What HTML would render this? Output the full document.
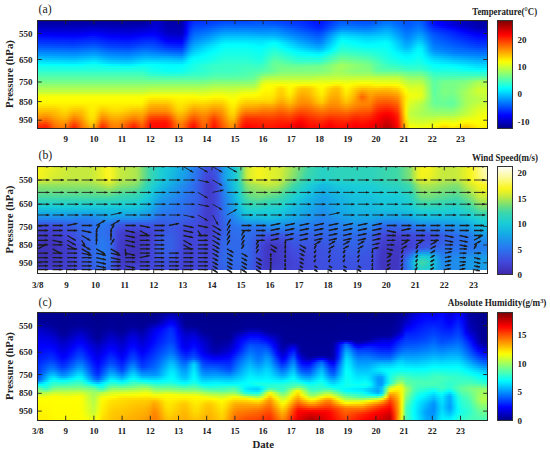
<!DOCTYPE html><html><head><meta charset="utf-8"><style>
html,body{margin:0;padding:0;background:#fff;width:550px;height:452px;overflow:hidden;position:relative}
.fld{position:absolute;overflow:hidden}
.fld div{position:absolute;left:0;right:0}
.cb{position:absolute}
.frm{position:absolute;border:1px solid #2a2a2a;box-sizing:content-box}
svg{position:absolute;left:0;top:0}
text{font-family:"Liberation Serif", serif;fill:#222}
</style></head><body>
<div class="fld" style="left:37.5px;top:20.0px;width:450.0px;height:108.0px"><div style="top:0.0px;height:2.0px;background:linear-gradient(90deg,#00009c 0px,#00009c 4px,#00009c 8px,#00009c 12px,#00009c 16px,#00009c 20px,#00009c 24px,#00009c 28px,#00009c 32px,#00009c 36px,#00009c 40px,#00009c 44px,#00009c 48px,#00009c 52px,#00009c 56px,#00009c 60px,#00009c 64px,#00009c 68px,#00009c 72px,#00009c 76px,#00009b 80px,#00009b 84px,#00009b 88px,#00009b 92px,#00009b 96px,#00009b 100px,#00009c 104px,#0000a0 108px,#0000b4 112px,#0000c8 116px,#0000c4 120px,#0000b7 124px,#0000ab 128px,#0000a6 132px,#0000a6 136px,#0000a5 140px,#0000a8 144px,#0000dd 148px,#0013ff 152px,#002bff 156px,#002eff 160px,#0031ff 164px,#0035ff 168px,#0038ff 172px,#003cff 176px,#0040ff 180px,#0044ff 184px,#0046ff 188px,#0046ff 192px,#0046ff 196px,#0046ff 200px,#0046ff 204px,#0046ff 208px,#0048ff 212px,#004bff 216px,#004eff 220px,#0050ff 224px,#004dff 228px,#004bff 232px,#0049ff 236px,#0045ff 240px,#0040ff 244px,#003cff 248px,#0038ff 252px,#0033ff 256px,#002fff 260px,#0029ff 264px,#0023ff 268px,#001dff 272px,#0017ff 276px,#0011ff 280px,#0015ff 284px,#0023ff 288px,#0031ff 292px,#003fff 296px,#004dff 300px,#0058ff 304px,#0056ff 308px,#0053ff 312px,#0051ff 316px,#004fff 320px,#004dff 324px,#004aff 328px,#004eff 332px,#0056ff 336px,#005eff 340px,#0066ff 344px,#006fff 348px,#006eff 352px,#0067ff 356px,#005fff 360px,#0058ff 364px,#0051ff 368px,#0052ff 372px,#0058ff 376px,#005fff 380px,#0055ff 384px,#003bff 388px,#0021ff 392px,#000bff 396px,#0000fd 400px,#0000f1 404px,#0000e5 408px,#0000d9 412px,#0000cd 416px,#0000c6 420px,#0000c0 424px,#0000b9 428px,#0000b2 432px,#0000ac 436px,#0000a5 440px,#0000a5 444px,#0000a5 448px,#0000a5 450px)"></div><div style="top:2.0px;height:2.0px;background:linear-gradient(90deg,#0000a6 0px,#0000a6 4px,#0000a6 8px,#0000a6 12px,#0000a6 16px,#0000a6 20px,#0000a6 24px,#0000a6 28px,#0000a6 32px,#0000a6 36px,#0000a6 40px,#0000a6 44px,#0000a6 48px,#0000a6 52px,#0000a6 56px,#0000a6 60px,#0000a6 64px,#0000a6 68px,#0000a6 72px,#0000a5 76px,#0000a5 80px,#0000a4 84px,#0000a4 88px,#0000a4 92px,#0000a4 96px,#0000a5 100px,#0000a6 104px,#0000aa 108px,#0000bc 112px,#0000cd 116px,#0000c9 120px,#0000bc 124px,#0000af 128px,#0000aa 132px,#0000aa 136px,#0000a9 140px,#0000ac 144px,#0000e3 148px,#001bff 152px,#0034ff 156px,#0036ff 160px,#0039ff 164px,#003bff 168px,#0040ff 172px,#0045ff 176px,#004aff 180px,#0050ff 184px,#0052ff 188px,#0052ff 192px,#0052ff 196px,#0052ff 200px,#0052ff 204px,#0052ff 208px,#0054ff 212px,#0056ff 216px,#0058ff 220px,#0058ff 224px,#0056ff 228px,#0053ff 232px,#0050ff 236px,#004cff 240px,#0048ff 244px,#0043ff 248px,#003fff 252px,#003aff 256px,#0036ff 260px,#0030ff 264px,#0029ff 268px,#0023ff 272px,#001dff 276px,#0016ff 280px,#001bff 284px,#0029ff 288px,#0038ff 292px,#0047ff 296px,#0056ff 300px,#0061ff 304px,#005fff 308px,#005dff 312px,#005bff 316px,#0059ff 320px,#0057ff 324px,#0055ff 328px,#0058ff 332px,#0060ff 336px,#0068ff 340px,#0070ff 344px,#0078ff 348px,#0076ff 352px,#006eff 356px,#0066ff 360px,#005eff 364px,#0055ff 368px,#0057ff 372px,#005eff 376px,#0066ff 380px,#005dff 384px,#0042ff 388px,#0026ff 392px,#0010ff 396px,#0003ff 400px,#0000f6 404px,#0000ea 408px,#0000de 412px,#0000d2 416px,#0000cb 420px,#0000c4 424px,#0000be 428px,#0000b7 432px,#0000b0 436px,#0000a9 440px,#0000a9 444px,#0000a9 448px,#0000a9 450px)"></div><div style="top:4.0px;height:2.0px;background:linear-gradient(90deg,#0000b0 0px,#0000b0 4px,#0000b0 8px,#0000b0 12px,#0000b0 16px,#0000b0 20px,#0000b0 24px,#0000b0 28px,#0000b0 32px,#0000b0 36px,#0000b0 40px,#0000b0 44px,#0000b0 48px,#0000b0 52px,#0000b0 56px,#0000b0 60px,#0000b0 64px,#0000b0 68px,#0000b0 72px,#0000af 76px,#0000ae 80px,#0000ae 84px,#0000ad 88px,#0000ad 92px,#0000ae 96px,#0000af 100px,#0000b0 104px,#0000b4 108px,#0000c3 112px,#0000d3 116px,#0000ce 120px,#0000c1 124px,#0000b4 128px,#0000ae 132px,#0000ae 136px,#0000ad 140px,#0000af 144px,#0000e8 148px,#0023ff 152px,#003cff 156px,#003fff 160px,#0042ff 164px,#0045ff 168px,#004aff 172px,#0050ff 176px,#0056ff 180px,#005cff 184px,#005fff 188px,#005fff 192px,#005fff 196px,#005fff 200px,#005fff 204px,#005fff 208px,#0060ff 212px,#0060ff 216px,#0061ff 220px,#0061ff 224px,#0060ff 228px,#005eff 232px,#005dff 236px,#0058ff 240px,#0053ff 244px,#004dff 248px,#0048ff 252px,#0042ff 256px,#003dff 260px,#0036ff 264px,#0030ff 268px,#0029ff 272px,#0022ff 276px,#001cff 280px,#0021ff 284px,#0031ff 288px,#0041ff 292px,#0051ff 296px,#0061ff 300px,#006dff 304px,#006bff 308px,#0069ff 312px,#0067ff 316px,#0065ff 320px,#0063ff 324px,#0062ff 328px,#0065ff 332px,#006cff 336px,#0074ff 340px,#007cff 344px,#0084ff 348px,#0082ff 352px,#0078ff 356px,#006eff 360px,#0064ff 364px,#005aff 368px,#005cff 372px,#0065ff 376px,#006dff 380px,#0065ff 384px,#0048ff 388px,#002cff 392px,#0015ff 396px,#0009ff 400px,#0000fb 404px,#0000ef 408px,#0000e3 412px,#0000d7 416px,#0000d0 420px,#0000c9 424px,#0000c2 428px,#0000bb 432px,#0000b4 436px,#0000ad 440px,#0000ad 444px,#0000ad 448px,#0000ad 450px)"></div><div style="top:6.0px;height:2.0px;background:linear-gradient(90deg,#0000bf 0px,#0000bf 4px,#0000bf 8px,#0000bf 12px,#0000be 16px,#0000be 20px,#0000be 24px,#0000be 28px,#0000be 32px,#0000bd 36px,#0000be 40px,#0000bf 44px,#0000c0 48px,#0000c1 52px,#0000c2 56px,#0000c1 60px,#0000bf 64px,#0000be 68px,#0000bd 72px,#0000bc 76px,#0000ba 80px,#0000b9 84px,#0000b8 88px,#0000b8 92px,#0000ba 96px,#0000bc 100px,#0000be 104px,#0000c2 108px,#0000cd 112px,#0000d9 116px,#0000d2 120px,#0000c5 124px,#0000b8 128px,#0000b2 132px,#0000b2 136px,#0000b1 140px,#0000b3 144px,#0000ee 148px,#002aff 152px,#0046ff 156px,#004aff 160px,#004dff 164px,#0051ff 168px,#0057ff 172px,#005eff 176px,#0064ff 180px,#006bff 184px,#006eff 188px,#006eff 192px,#006eff 196px,#006eff 200px,#006eff 204px,#006eff 208px,#006eff 212px,#006eff 216px,#006dff 220px,#006dff 224px,#006dff 228px,#006eff 232px,#006eff 236px,#0069ff 240px,#0062ff 244px,#005bff 248px,#0054ff 252px,#004eff 256px,#0047ff 260px,#0040ff 264px,#0038ff 268px,#0030ff 272px,#0029ff 276px,#0021ff 280px,#0027ff 284px,#0039ff 288px,#004bff 292px,#005dff 296px,#006fff 300px,#007dff 304px,#007bff 308px,#0079ff 312px,#0077ff 316px,#0075ff 320px,#0073ff 324px,#0071ff 328px,#0074ff 332px,#007cff 336px,#0084ff 340px,#008cff 344px,#0093ff 348px,#0090ff 352px,#0084ff 356px,#0078ff 360px,#006cff 364px,#0061ff 368px,#0063ff 372px,#006cff 376px,#0076ff 380px,#006eff 384px,#0053ff 388px,#0038ff 392px,#0022ff 396px,#0018ff 400px,#000dff 404px,#0003ff 408px,#0000f7 412px,#0000ec 416px,#0000e2 420px,#0000d9 424px,#0000cf 428px,#0000c5 432px,#0000bb 436px,#0000b1 440px,#0000b1 444px,#0000b1 448px,#0000b1 450px)"></div><div style="top:8.0px;height:2.0px;background:linear-gradient(90deg,#0000ce 0px,#0000cd 4px,#0000cd 8px,#0000cd 12px,#0000cc 16px,#0000cc 20px,#0000cb 24px,#0000cb 28px,#0000cb 32px,#0000ca 36px,#0000cc 40px,#0000cd 44px,#0000cf 48px,#0000d1 52px,#0000d3 56px,#0000d1 60px,#0000ce 64px,#0000cc 68px,#0000ca 72px,#0000c8 76px,#0000c7 80px,#0000c6 84px,#0000c4 88px,#0000c5 92px,#0000c7 96px,#0000ca 100px,#0000cc 104px,#0000d0 108px,#0000d7 112px,#0000df 116px,#0000d7 120px,#0000ca 124px,#0000bd 128px,#0000b6 132px,#0000b6 136px,#0000b5 140px,#0000b7 144px,#0000f4 148px,#0032ff 152px,#004fff 156px,#0054ff 160px,#0059ff 164px,#005eff 168px,#0065ff 172px,#006cff 176px,#0074ff 180px,#007bff 184px,#0080ff 188px,#0080ff 192px,#0080ff 196px,#0080ff 200px,#0080ff 204px,#0080ff 208px,#007fff 212px,#007eff 216px,#007dff 220px,#007cff 224px,#007dff 228px,#007eff 232px,#007fff 236px,#007aff 240px,#0072ff 244px,#006bff 248px,#0063ff 252px,#005cff 256px,#0054ff 260px,#004cff 264px,#0044ff 268px,#003cff 272px,#0034ff 276px,#002cff 280px,#0031ff 284px,#0044ff 288px,#0057ff 292px,#006aff 296px,#007dff 300px,#008cff 304px,#008aff 308px,#0088ff 312px,#0086ff 316px,#0084ff 320px,#0082ff 324px,#0080ff 328px,#0084ff 332px,#008bff 336px,#0093ff 340px,#009bff 344px,#00a3ff 348px,#009eff 352px,#0091ff 356px,#0083ff 360px,#0076ff 364px,#0068ff 368px,#006aff 372px,#0074ff 376px,#007eff 380px,#0077ff 384px,#005eff 388px,#0044ff 392px,#0030ff 396px,#0027ff 400px,#001eff 404px,#0015ff 408px,#000cff 412px,#0003ff 416px,#0000f6 420px,#0000eb 424px,#0000e0 428px,#0000d4 432px,#0000c9 436px,#0000be 440px,#0000be 444px,#0000be 448px,#0000be 450px)"></div><div style="top:10.0px;height:2.0px;background:linear-gradient(90deg,#0000dd 0px,#0000dc 4px,#0000db 8px,#0000db 12px,#0000da 16px,#0000da 20px,#0000d9 24px,#0000d8 28px,#0000d8 32px,#0000d7 36px,#0000d9 40px,#0000dc 44px,#0000de 48px,#0000e1 52px,#0000e4 56px,#0000e1 60px,#0000dd 64px,#0000d9 68px,#0000d7 72px,#0000d5 76px,#0000d4 80px,#0000d3 84px,#0000d1 88px,#0000d2 92px,#0000d5 96px,#0000d8 100px,#0000da 104px,#0000de 108px,#0000e3 112px,#0000e9 116px,#0000df 120px,#0000d0 124px,#0000c2 128px,#0000bb 132px,#0000ba 136px,#0000b9 140px,#0000bb 144px,#0000fa 148px,#003bff 152px,#0059ff 156px,#005fff 160px,#0065ff 164px,#006aff 168px,#0072ff 172px,#007bff 176px,#0083ff 180px,#008cff 184px,#0091ff 188px,#0091ff 192px,#0091ff 196px,#0091ff 200px,#0091ff 204px,#0091ff 208px,#008fff 212px,#008dff 216px,#008cff 220px,#008bff 224px,#008cff 228px,#008dff 232px,#008eff 236px,#0088ff 240px,#0080ff 244px,#0078ff 248px,#0071ff 252px,#0069ff 256px,#0061ff 260px,#0059ff 264px,#0051ff 268px,#004aff 272px,#0042ff 276px,#003aff 280px,#0041ff 284px,#0056ff 288px,#006bff 292px,#0080ff 296px,#0095ff 300px,#00a6ff 304px,#00a3ff 308px,#00a0ff 312px,#009dff 316px,#009aff 320px,#0097ff 324px,#0094ff 328px,#0096ff 332px,#009dff 336px,#00a3ff 340px,#00aaff 344px,#00b0ff 348px,#00aaff 352px,#009cff 356px,#008dff 360px,#007eff 364px,#0070ff 368px,#0071ff 372px,#007cff 376px,#0087ff 380px,#0081ff 384px,#0069ff 388px,#0050ff 392px,#003dff 396px,#0036ff 400px,#002eff 404px,#0027ff 408px,#0020ff 412px,#0018ff 416px,#000dff 420px,#0001ff 424px,#0000f5 428px,#0000ea 432px,#0000de 436px,#0000d3 440px,#0000d3 444px,#0000d3 448px,#0000d3 450px)"></div><div style="top:12.0px;height:2.0px;background:linear-gradient(90deg,#0000ed 0px,#0000ec 4px,#0000eb 8px,#0000ea 12px,#0000e9 16px,#0000e8 20px,#0000e7 24px,#0000e6 28px,#0000e5 32px,#0000e4 36px,#0000e7 40px,#0000ea 44px,#0000ee 48px,#0000f1 52px,#0000f5 56px,#0000f1 60px,#0000ec 64px,#0000e7 68px,#0000e3 72px,#0000e2 76px,#0000e1 80px,#0000e0 84px,#0000de 88px,#0000df 92px,#0000e3 96px,#0000e6 100px,#0000ea 104px,#0000ed 108px,#0000f2 112px,#0000f6 116px,#0000eb 120px,#0000db 124px,#0000cb 128px,#0000c2 132px,#0000c0 136px,#0000be 140px,#0000be 144px,#0001ff 148px,#0043ff 152px,#0063ff 156px,#0069ff 160px,#0070ff 164px,#0077ff 168px,#0080ff 172px,#0089ff 176px,#0093ff 180px,#009dff 184px,#00a2ff 188px,#00a2ff 192px,#00a2ff 196px,#00a2ff 200px,#00a2ff 204px,#00a2ff 208px,#00a0ff 212px,#009dff 216px,#009bff 220px,#009aff 224px,#009bff 228px,#009cff 232px,#009dff 236px,#0097ff 240px,#008eff 244px,#0086ff 248px,#007eff 252px,#0076ff 256px,#006eff 260px,#0066ff 264px,#005fff 268px,#0057ff 272px,#0050ff 276px,#0048ff 280px,#0050ff 284px,#0068ff 288px,#007fff 292px,#0096ff 296px,#00aeff 300px,#00bfff 304px,#00bbff 308px,#00b7ff 312px,#00b4ff 316px,#00b0ff 320px,#00acff 324px,#00a8ff 328px,#00a9ff 332px,#00aeff 336px,#00b3ff 340px,#00b8ff 344px,#00beff 348px,#00b7ff 352px,#00a7ff 356px,#0097ff 360px,#0087ff 364px,#0077ff 368px,#007aff 372px,#0086ff 376px,#0093ff 380px,#008eff 384px,#0075ff 388px,#005dff 392px,#004aff 396px,#0042ff 400px,#003aff 404px,#0032ff 408px,#002aff 412px,#0022ff 416px,#0018ff 420px,#000fff 424px,#0005ff 428px,#0000fb 432px,#0000f2 436px,#0000e8 440px,#0000e8 444px,#0000e8 448px,#0000e8 450px)"></div><div style="top:14.0px;height:2.0px;background:linear-gradient(90deg,#0000fe 0px,#0000fd 4px,#0000fc 8px,#0000fb 12px,#0000fa 16px,#0000f9 20px,#0000f8 24px,#0000f7 28px,#0000f6 32px,#0000f5 36px,#0000f8 40px,#0000fc 44px,#0000ff 48px,#0003ff 52px,#0007ff 56px,#0002ff 60px,#0000fc 64px,#0000f6 68px,#0000f2 72px,#0000f1 76px,#0000ef 80px,#0000ee 84px,#0000ec 88px,#0000ed 92px,#0000f2 96px,#0000f6 100px,#0000fa 104px,#0000fe 108px,#0002ff 112px,#0004ff 116px,#0000f8 120px,#0000e8 124px,#0000d8 128px,#0000cf 132px,#0000cc 136px,#0000c8 140px,#0000c8 144px,#000bff 148px,#004cff 152px,#006dff 156px,#0074ff 160px,#007cff 164px,#0084ff 168px,#008dff 172px,#0098ff 176px,#00a3ff 180px,#00adff 184px,#00b3ff 188px,#00b3ff 192px,#00b3ff 196px,#00b3ff 200px,#00b3ff 204px,#00b3ff 208px,#00b1ff 212px,#00afff 216px,#00adff 220px,#00acff 224px,#00acff 228px,#00acff 232px,#00acff 236px,#00a5ff 240px,#009dff 244px,#0094ff 248px,#008cff 252px,#0083ff 256px,#007bff 260px,#0073ff 264px,#006cff 268px,#0064ff 272px,#005dff 276px,#0055ff 280px,#005eff 284px,#0077ff 288px,#0090ff 292px,#00a9ff 296px,#00c2ff 300px,#00d4ff 304px,#00d0ff 308px,#00ccff 312px,#00c8ff 316px,#00c4ff 320px,#00c0ff 324px,#00bbff 328px,#00bbff 332px,#00bfff 336px,#00c3ff 340px,#00c7ff 344px,#00cbff 348px,#00c3ff 352px,#00b2ff 356px,#00a1ff 360px,#0090ff 364px,#007fff 368px,#0082ff 372px,#0090ff 376px,#009fff 380px,#009bff 384px,#0082ff 388px,#006aff 392px,#0056ff 396px,#004eff 400px,#0045ff 404px,#003cff 408px,#0034ff 412px,#002bff 416px,#0024ff 420px,#001cff 424px,#0015ff 428px,#000dff 432px,#0006ff 436px,#0000fe 440px,#0000fe 444px,#0000fe 448px,#0000fe 450px)"></div><div style="top:16.0px;height:2.0px;background:linear-gradient(90deg,#0010ff 0px,#000fff 4px,#000eff 8px,#000dff 12px,#000cff 16px,#000bff 20px,#000aff 24px,#0009ff 28px,#0008ff 32px,#0007ff 36px,#000aff 40px,#000eff 44px,#0011ff 48px,#0015ff 52px,#0018ff 56px,#0013ff 60px,#000dff 64px,#0006ff 68px,#0002ff 72px,#0000ff 76px,#0000fe 80px,#0000fc 84px,#0000fb 88px,#0000fc 92px,#0002ff 96px,#0007ff 100px,#000cff 104px,#0010ff 108px,#0011ff 112px,#0012ff 116px,#0006ff 120px,#0000f5 124px,#0000e4 128px,#0000dc 132px,#0000da 136px,#0000d8 140px,#0000d8 144px,#0018ff 148px,#0057ff 152px,#0076ff 156px,#007fff 160px,#0088ff 164px,#0090ff 168px,#009bff 172px,#00a7ff 176px,#00b2ff 180px,#00beff 184px,#00c4ff 188px,#00c4ff 192px,#00c4ff 196px,#00c4ff 200px,#00c4ff 204px,#00c4ff 208px,#00c3ff 212px,#00c1ff 216px,#00bfff 220px,#00beff 224px,#00beff 228px,#00beff 232px,#00beff 236px,#00b7ff 240px,#00adff 244px,#00a4ff 248px,#009bff 252px,#0091ff 256px,#0088ff 260px,#0080ff 264px,#0078ff 268px,#0070ff 272px,#0069ff 276px,#0061ff 280px,#006aff 284px,#0084ff 288px,#009eff 292px,#00b8ff 296px,#00d2ff 300px,#00e6ff 304px,#00e2ff 308px,#00deff 312px,#00daff 316px,#00d6ff 320px,#00d2ff 324px,#00cfff 328px,#00ceff 332px,#00d1ff 336px,#00d3ff 340px,#00d6ff 344px,#00d9ff 348px,#00cfff 352px,#00bdff 356px,#00abff 360px,#0098ff 364px,#0086ff 368px,#008aff 372px,#009aff 376px,#00aaff 380px,#00a7ff 384px,#008cff 388px,#0072ff 392px,#005dff 396px,#0055ff 400px,#004dff 404px,#0045ff 408px,#003dff 412px,#0034ff 416px,#002dff 420px,#0026ff 424px,#001fff 428px,#0018ff 432px,#0011ff 436px,#000aff 440px,#000aff 444px,#000aff 448px,#000aff 450px)"></div><div style="top:18.0px;height:2.0px;background:linear-gradient(90deg,#001fff 0px,#001eff 4px,#001eff 8px,#001dff 12px,#001cff 16px,#001bff 20px,#001bff 24px,#001aff 28px,#0019ff 32px,#0019ff 36px,#001bff 40px,#001dff 44px,#0020ff 48px,#0022ff 52px,#0025ff 56px,#0020ff 60px,#001aff 64px,#0015ff 68px,#0011ff 72px,#000fff 76px,#000eff 80px,#000cff 84px,#000bff 88px,#000cff 92px,#0011ff 96px,#0016ff 100px,#001bff 104px,#001fff 108px,#001fff 112px,#001fff 116px,#0013ff 120px,#0003ff 124px,#0000f1 128px,#0000ea 132px,#0000e8 136px,#0000e7 140px,#0000e8 144px,#0025ff 148px,#0061ff 152px,#0080ff 156px,#008aff 160px,#0093ff 164px,#009dff 168px,#00a8ff 172px,#00b5ff 176px,#00c1ff 180px,#00ceff 184px,#00d4ff 188px,#00d4ff 192px,#00d4ff 196px,#00d4ff 200px,#00d4ff 204px,#00d4ff 208px,#00d3ff 212px,#00d2ff 216px,#00d1ff 220px,#00d1ff 224px,#00d2ff 228px,#00d3ff 232px,#00d4ff 236px,#00ccff 240px,#00c1ff 244px,#00b6ff 248px,#00abff 252px,#00a0ff 256px,#0095ff 260px,#008dff 264px,#0085ff 268px,#007dff 272px,#0075ff 276px,#006dff 280px,#0076ff 284px,#0091ff 288px,#00acff 292px,#00c7ff 296px,#00e2ff 300px,#00f7ff 304px,#00f2ff 308px,#00edff 312px,#00e9ff 316px,#00e4ff 320px,#00dfff 324px,#00dbff 328px,#00daff 332px,#00ddff 336px,#00e0ff 340px,#00e2ff 344px,#00e5ff 348px,#00dcff 352px,#00c9ff 356px,#00b6ff 360px,#00a3ff 364px,#0090ff 368px,#0094ff 372px,#00a5ff 376px,#00b7ff 380px,#00b3ff 384px,#0096ff 388px,#007aff 392px,#0064ff 396px,#005dff 400px,#0055ff 404px,#004dff 408px,#0046ff 412px,#003eff 416px,#0037ff 420px,#0031ff 424px,#002aff 428px,#0023ff 432px,#001dff 436px,#0016ff 440px,#0016ff 444px,#0016ff 448px,#0016ff 450px)"></div><div style="top:20.0px;height:2.0px;background:linear-gradient(90deg,#002cff 0px,#002bff 4px,#002aff 8px,#002aff 12px,#0029ff 16px,#0028ff 20px,#0028ff 24px,#0027ff 28px,#0026ff 32px,#0025ff 36px,#0028ff 40px,#002aff 44px,#002dff 48px,#002fff 52px,#0032ff 56px,#002dff 60px,#0028ff 64px,#0022ff 68px,#001eff 72px,#001dff 76px,#001cff 80px,#001bff 84px,#0019ff 88px,#001aff 92px,#001fff 96px,#0024ff 100px,#0028ff 104px,#002cff 108px,#002cff 112px,#002cff 116px,#0020ff 120px,#0011ff 124px,#0002ff 128px,#0000f9 132px,#0000f8 136px,#0000f7 140px,#0000f8 144px,#0033ff 148px,#006dff 152px,#008bff 156px,#0096ff 160px,#00a0ff 164px,#00aaff 168px,#00b6ff 172px,#00c3ff 176px,#00d0ff 180px,#00dcff 184px,#00e3ff 188px,#00e3ff 192px,#00e3ff 196px,#00e3ff 200px,#00e3ff 204px,#00e3ff 208px,#00e2ff 212px,#00e1ff 216px,#00dfff 220px,#00dfff 224px,#00e3ff 228px,#00e6ff 232px,#00e9ff 236px,#00e1ff 240px,#00d4ff 244px,#00c8ff 248px,#00bcff 252px,#00b0ff 256px,#00a3ff 260px,#009aff 264px,#0092ff 268px,#0089ff 272px,#0081ff 276px,#0078ff 280px,#0082ff 284px,#009dff 288px,#00b8ff 292px,#00d4ff 296px,#00efff 300px,#05fffa 304px,#00ffff 308px,#00faff 312px,#00f5ff 316px,#00f0ff 320px,#00ebff 324px,#00e6ff 328px,#00e5ff 332px,#00e9ff 336px,#00ecff 340px,#00efff 344px,#00f2ff 348px,#00e8ff 352px,#00d4ff 356px,#00c1ff 360px,#00adff 364px,#0099ff 368px,#009eff 372px,#00b1ff 376px,#00c4ff 380px,#00c0ff 384px,#00a1ff 388px,#0083ff 392px,#006bff 396px,#0064ff 400px,#005dff 404px,#0056ff 408px,#004eff 412px,#0047ff 416px,#0041ff 420px,#003bff 424px,#0034ff 428px,#002eff 432px,#0028ff 436px,#0022ff 440px,#0022ff 444px,#0022ff 448px,#0022ff 450px)"></div><div style="top:22.0px;height:2.0px;background:linear-gradient(90deg,#0039ff 0px,#0038ff 4px,#0037ff 8px,#0037ff 12px,#0036ff 16px,#0035ff 20px,#0034ff 24px,#0034ff 28px,#0033ff 32px,#0032ff 36px,#0034ff 40px,#0037ff 44px,#003aff 48px,#003cff 52px,#003fff 56px,#003aff 60px,#0035ff 64px,#002fff 68px,#002bff 72px,#002aff 76px,#0029ff 80px,#0027ff 84px,#0026ff 88px,#0027ff 92px,#002cff 96px,#0030ff 100px,#0035ff 104px,#0039ff 108px,#0039ff 112px,#0039ff 116px,#002fff 120px,#0021ff 124px,#0013ff 128px,#000cff 132px,#000bff 136px,#0009ff 140px,#000aff 144px,#0042ff 148px,#0079ff 152px,#0097ff 156px,#00a3ff 160px,#00aeff 164px,#00b9ff 168px,#00c5ff 172px,#00d2ff 176px,#00deff 180px,#00ebff 184px,#00f2ff 188px,#00f2ff 192px,#00f2ff 196px,#00f2ff 200px,#00f2ff 204px,#00f2ff 208px,#00efff 212px,#00edff 216px,#00eaff 220px,#00eaff 224px,#00f1ff 228px,#00f8ff 232px,#00ffff 236px,#00f6ff 240px,#00e8ff 244px,#00dbff 248px,#00cdff 252px,#00c0ff 256px,#00b2ff 260px,#00a8ff 264px,#009fff 268px,#0096ff 272px,#008dff 276px,#0084ff 280px,#008dff 284px,#00a8ff 288px,#00c3ff 292px,#00deff 296px,#00f8ff 300px,#0efff1 304px,#09fff6 308px,#05fffa 312px,#00ffff 316px,#00faff 320px,#00f6ff 324px,#00f1ff 328px,#00f1ff 332px,#00f4ff 336px,#00f8ff 340px,#00fbff 344px,#00ffff 348px,#00f4ff 352px,#00e0ff 356px,#00ccff 360px,#00b7ff 364px,#00a3ff 368px,#00a9ff 372px,#00bdff 376px,#00d2ff 380px,#00cdff 384px,#00acff 388px,#008bff 392px,#0072ff 396px,#006cff 400px,#0065ff 404px,#005eff 408px,#0057ff 412px,#0051ff 416px,#004bff 420px,#0045ff 424px,#003fff 428px,#0039ff 432px,#0033ff 436px,#002eff 440px,#002eff 444px,#002eff 448px,#002eff 450px)"></div><div style="top:24.0px;height:2.0px;background:linear-gradient(90deg,#0048ff 0px,#0047ff 4px,#0046ff 8px,#0045ff 12px,#0044ff 16px,#0043ff 20px,#0042ff 24px,#0041ff 28px,#0040ff 32px,#003fff 36px,#0042ff 40px,#0045ff 44px,#0049ff 48px,#004cff 52px,#0050ff 56px,#004aff 60px,#0044ff 64px,#003dff 68px,#0038ff 72px,#0037ff 76px,#0036ff 80px,#0034ff 84px,#0033ff 88px,#0034ff 92px,#003aff 96px,#003fff 100px,#0044ff 104px,#0048ff 108px,#0047ff 112px,#0046ff 116px,#003dff 120px,#0031ff 124px,#0025ff 128px,#001fff 132px,#001dff 136px,#001aff 140px,#001bff 144px,#0050ff 148px,#0086ff 152px,#00a4ff 156px,#00b0ff 160px,#00bbff 164px,#00c7ff 168px,#00d4ff 172px,#00e0ff 176px,#00edff 180px,#00faff 184px,#01fffe 188px,#01fffe 192px,#01fffe 196px,#01fffe 200px,#01fffe 204px,#01fffe 208px,#00fdff 212px,#00f9ff 216px,#00f5ff 220px,#00f4ff 224px,#00fbff 228px,#03fffc 232px,#0afff5 236px,#01fffe 240px,#00f3ff 244px,#00e7ff 248px,#00daff 252px,#00cdff 256px,#00c1ff 260px,#00b7ff 264px,#00afff 268px,#00a6ff 272px,#009eff 276px,#0095ff 280px,#009dff 284px,#00b7ff 288px,#00d0ff 292px,#00e9ff 296px,#04fffb 300px,#17ffe8 304px,#12ffed 308px,#0efff1 312px,#0afff5 316px,#06fff9 320px,#02fffd 324px,#00fdff 328px,#00fcff 332px,#00fdff 336px,#00ffff 340px,#02fffd 344px,#04fffb 348px,#00f9ff 352px,#00e5ff 356px,#00d2ff 360px,#00bfff 364px,#00acff 368px,#00b3ff 372px,#00c9ff 376px,#00dfff 380px,#00daff 384px,#00b7ff 388px,#0094ff 392px,#0079ff 396px,#0073ff 400px,#006dff 404px,#0067ff 408px,#0060ff 412px,#005aff 416px,#0054ff 420px,#004fff 424px,#004aff 428px,#0044ff 432px,#003fff 436px,#0039ff 440px,#0039ff 444px,#0039ff 448px,#0039ff 450px)"></div><div style="top:26.0px;height:2.0px;background:linear-gradient(90deg,#0059ff 0px,#0058ff 4px,#0057ff 8px,#0056ff 12px,#0055ff 16px,#0054ff 20px,#0053ff 24px,#0052ff 28px,#0051ff 32px,#0050ff 36px,#0053ff 40px,#0057ff 44px,#005aff 48px,#005eff 52px,#0061ff 56px,#005bff 60px,#0054ff 64px,#004cff 68px,#0047ff 72px,#0045ff 76px,#0044ff 80px,#0042ff 84px,#0040ff 88px,#0042ff 92px,#0048ff 96px,#004eff 100px,#0054ff 104px,#0058ff 108px,#0056ff 112px,#0053ff 116px,#004bff 120px,#0041ff 124px,#0037ff 128px,#0031ff 132px,#002eff 136px,#002cff 140px,#002cff 144px,#005fff 148px,#0093ff 152px,#00b0ff 156px,#00bcff 160px,#00c9ff 164px,#00d6ff 168px,#00e1ff 172px,#00ebff 176px,#00f6ff 180px,#01fffe 184px,#06fff9 188px,#06fff9 192px,#06fff9 196px,#06fff9 200px,#06fff9 204px,#06fff9 208px,#04fffb 212px,#01fffe 216px,#00fdff 220px,#00feff 224px,#05fffa 228px,#0cfff3 232px,#13ffec 236px,#0cfff3 240px,#00ffff 244px,#00f3ff 248px,#00e7ff 252px,#00dbff 256px,#00cfff 260px,#00c6ff 264px,#00beff 268px,#00b6ff 272px,#00aeff 276px,#00a6ff 280px,#00aeff 284px,#00c5ff 288px,#00ddff 292px,#00f5ff 296px,#0efff1 300px,#20ffdf 304px,#1cffe3 308px,#18ffe7 312px,#14ffeb 316px,#11ffee 320px,#0dfff2 324px,#09fff6 328px,#07fff8 332px,#08fff7 336px,#08fff7 340px,#08fff7 344px,#08fff7 348px,#00fdff 352px,#00ebff 356px,#00d9ff 360px,#00c7ff 364px,#00b5ff 368px,#00beff 372px,#00d5ff 376px,#00edff 380px,#00e7ff 384px,#00c2ff 388px,#009cff 392px,#0080ff 396px,#007bff 400px,#0075ff 404px,#006fff 408px,#0069ff 412px,#0063ff 416px,#005eff 420px,#005aff 424px,#0055ff 428px,#0050ff 432px,#004bff 436px,#0046ff 440px,#0046ff 444px,#0046ff 448px,#0046ff 450px)"></div><div style="top:28.0px;height:2.0px;background:linear-gradient(90deg,#006aff 0px,#0069ff 4px,#0068ff 8px,#0067ff 12px,#0066ff 16px,#0065ff 20px,#0064ff 24px,#0063ff 28px,#0063ff 32px,#0062ff 36px,#0064ff 40px,#0068ff 44px,#006bff 48px,#006fff 52px,#0072ff 56px,#006cff 60px,#0065ff 64px,#005dff 68px,#0058ff 72px,#0056ff 76px,#0055ff 80px,#0053ff 84px,#0051ff 88px,#0053ff 92px,#0059ff 96px,#005fff 100px,#0065ff 104px,#0069ff 108px,#0065ff 112px,#0060ff 116px,#005aff 120px,#0052ff 124px,#004bff 128px,#0046ff 132px,#0043ff 136px,#0040ff 140px,#003fff 144px,#006fff 148px,#00a0ff 152px,#00bbff 156px,#00c8ff 160px,#00d4ff 164px,#00e1ff 168px,#00ebff 172px,#00f4ff 176px,#00fdff 180px,#07fff8 184px,#0cfff3 188px,#0cfff3 192px,#0cfff3 196px,#0cfff3 200px,#0cfff3 204px,#0cfff3 208px,#0afff5 212px,#07fff8 216px,#05fffa 220px,#06fff9 224px,#0efff1 228px,#15ffea 232px,#1dffe2 236px,#16ffe9 240px,#0cfff3 244px,#01fffe 248px,#00f5ff 252px,#00ebff 256px,#00e0ff 260px,#00d8ff 264px,#00cfff 268px,#00c7ff 272px,#00bfff 276px,#00b7ff 280px,#00beff 284px,#00d4ff 288px,#00eaff 292px,#02fffd 296px,#18ffe7 300px,#29ffd6 304px,#25ffda 308px,#22ffdd 312px,#1fffe0 316px,#1cffe3 320px,#18ffe7 324px,#15ffea 328px,#13ffec 332px,#11ffee 336px,#10ffef 340px,#0efff1 344px,#0cfff3 348px,#02fffd 352px,#00f1ff 356px,#00e1ff 360px,#00d1ff 364px,#00c1ff 368px,#00caff 372px,#00e0ff 376px,#00f6ff 380px,#00f0ff 384px,#00caff 388px,#00a4ff 392px,#0087ff 396px,#0082ff 400px,#007dff 404px,#0077ff 408px,#0072ff 412px,#006dff 416px,#0069ff 420px,#0065ff 424px,#0061ff 428px,#005dff 432px,#0059ff 436px,#0055ff 440px,#0055ff 444px,#0055ff 448px,#0055ff 450px)"></div><div style="top:30.0px;height:2.0px;background:linear-gradient(90deg,#007bff 0px,#007aff 4px,#0079ff 8px,#0078ff 12px,#0077ff 16px,#0077ff 20px,#0076ff 24px,#0075ff 28px,#0074ff 32px,#0073ff 36px,#0076ff 40px,#0079ff 44px,#007cff 48px,#0080ff 52px,#0083ff 56px,#007dff 60px,#0076ff 64px,#006fff 68px,#0069ff 72px,#0068ff 76px,#0066ff 80px,#0064ff 84px,#0062ff 88px,#0064ff 92px,#006aff 96px,#0070ff 100px,#0076ff 104px,#007aff 108px,#0075ff 112px,#0071ff 116px,#006bff 120px,#0065ff 124px,#0060ff 128px,#005bff 132px,#0058ff 136px,#0055ff 140px,#0054ff 144px,#0081ff 148px,#00adff 152px,#00c7ff 156px,#00d3ff 160px,#00e0ff 164px,#00ecff 168px,#00f5ff 172px,#00fdff 176px,#05fffa 180px,#0dfff2 184px,#11ffee 188px,#11ffee 192px,#11ffee 196px,#11ffee 200px,#11ffee 204px,#11ffee 208px,#0ffff0 212px,#0cfff3 216px,#0afff5 220px,#0bfff4 224px,#14ffeb 228px,#1dffe2 232px,#26ffd9 236px,#21ffde 240px,#18ffe7 244px,#0efff1 248px,#05fffa 252px,#00fbff 256px,#00f1ff 260px,#00eaff 264px,#00e4ff 268px,#00ddff 272px,#00d7ff 276px,#00d0ff 280px,#00d6ff 284px,#00e9ff 288px,#00fcff 292px,#10ffef 296px,#23ffdc 300px,#32ffcd 304px,#2fffd0 308px,#2cffd3 312px,#29ffd6 316px,#27ffd8 320px,#24ffdb 324px,#21ffde 328px,#1effe1 332px,#1bffe4 336px,#17ffe8 340px,#14ffeb 344px,#10ffef 348px,#07fff8 352px,#00f9ff 356px,#00ecff 360px,#00dfff 364px,#00d1ff 368px,#00d8ff 372px,#00eaff 376px,#00fbff 380px,#00f4ff 384px,#00d1ff 388px,#00aeff 392px,#0093ff 396px,#008dff 400px,#0088ff 404px,#0082ff 408px,#007cff 412px,#0076ff 416px,#0073ff 420px,#0070ff 424px,#006cff 428px,#0069ff 432px,#0066ff 436px,#0063ff 440px,#0063ff 444px,#0063ff 448px,#0063ff 450px)"></div><div style="top:32.0px;height:2.0px;background:linear-gradient(90deg,#008cff 0px,#008bff 4px,#008bff 8px,#008aff 12px,#0089ff 16px,#0088ff 20px,#0087ff 24px,#0086ff 28px,#0085ff 32px,#0084ff 36px,#0087ff 40px,#008aff 44px,#008eff 48px,#0091ff 52px,#0095ff 56px,#008eff 60px,#0087ff 64px,#0080ff 68px,#007bff 72px,#0079ff 76px,#0077ff 80px,#0075ff 84px,#0074ff 88px,#0075ff 92px,#007bff 96px,#0081ff 100px,#0088ff 104px,#008cff 108px,#0088ff 112px,#0084ff 116px,#007fff 120px,#007aff 124px,#0075ff 128px,#0071ff 132px,#006eff 136px,#006bff 140px,#006aff 144px,#0094ff 148px,#00beff 152px,#00d6ff 156px,#00e1ff 160px,#00ecff 164px,#00f7ff 168px,#00ffff 172px,#06fff9 176px,#0cfff3 180px,#13ffec 184px,#16ffe9 188px,#16ffe9 192px,#16ffe9 196px,#16ffe9 200px,#16ffe9 204px,#16ffe9 208px,#14ffeb 212px,#11ffee 216px,#0efff1 220px,#0ffff0 224px,#1affe5 228px,#25ffda 232px,#30ffcf 236px,#2cffd3 240px,#24ffdb 244px,#1cffe3 248px,#13ffec 252px,#0bfff4 256px,#03fffc 260px,#00fcff 264px,#00f8ff 268px,#00f3ff 272px,#00eeff 276px,#00e9ff 280px,#00efff 284px,#01fffe 288px,#12ffed 292px,#23ffdc 296px,#34ffcb 300px,#40ffbf 304px,#3dffc2 308px,#3affc5 312px,#37ffc8 316px,#34ffcb 320px,#31ffce 324px,#2effd1 328px,#29ffd6 332px,#24ffdb 336px,#1fffe0 340px,#1affe5 344px,#15ffea 348px,#0cfff3 352px,#02fffd 356px,#00f7ff 360px,#00ecff 364px,#00e2ff 368px,#00e6ff 372px,#00f4ff 376px,#02fffd 380px,#00f9ff 384px,#00daff 388px,#00bcff 392px,#00a4ff 396px,#009dff 400px,#0095ff 404px,#008eff 408px,#0087ff 412px,#007fff 416px,#007dff 420px,#007bff 424px,#0078ff 428px,#0076ff 432px,#0074ff 436px,#0071ff 440px,#0071ff 444px,#0071ff 448px,#0071ff 450px)"></div><div style="top:34.0px;height:2.0px;background:linear-gradient(90deg,#009eff 0px,#009dff 4px,#009cff 8px,#009bff 12px,#009aff 16px,#0099ff 20px,#0098ff 24px,#0097ff 28px,#0096ff 32px,#0095ff 36px,#0098ff 40px,#009bff 44px,#009fff 48px,#00a2ff 52px,#00a6ff 56px,#00a0ff 60px,#0098ff 64px,#0091ff 68px,#008cff 72px,#008aff 76px,#0088ff 80px,#0087ff 84px,#0085ff 88px,#0086ff 92px,#008dff 96px,#0093ff 100px,#0099ff 104px,#009dff 108px,#009aff 112px,#0097ff 116px,#0094ff 120px,#0091ff 124px,#008eff 128px,#008aff 132px,#0087ff 136px,#0083ff 140px,#0081ff 144px,#00a8ff 148px,#00d0ff 152px,#00e5ff 156px,#00eeff 160px,#00f7ff 164px,#01fffe 168px,#08fff7 172px,#0dfff2 176px,#13ffec 180px,#18ffe7 184px,#1bffe4 188px,#1bffe4 192px,#1bffe4 196px,#1bffe4 200px,#1bffe4 204px,#1bffe4 208px,#19ffe6 212px,#15ffea 216px,#12ffed 220px,#14ffeb 224px,#21ffde 228px,#2effd1 232px,#3affc5 236px,#37ffc8 240px,#2fffd0 244px,#27ffd8 248px,#1fffe0 252px,#17ffe8 256px,#0ffff0 260px,#0cfff3 264px,#09fff6 268px,#07fff8 272px,#05fffa 276px,#02fffd 280px,#09fff6 284px,#18ffe7 288px,#27ffd8 292px,#35ffca 296px,#44ffbb 300px,#4fffb0 304px,#4cffb3 308px,#48ffb7 312px,#45ffba 316px,#41ffbe 320px,#3effc1 324px,#3bffc4 328px,#35ffca 332px,#2effd1 336px,#27ffd8 340px,#20ffdf 344px,#19ffe6 348px,#11ffee 352px,#09fff6 356px,#00ffff 360px,#00f7ff 364px,#00efff 368px,#00f2ff 372px,#00fcff 376px,#07fff8 380px,#00feff 384px,#00e4ff 388px,#00caff 392px,#00b5ff 396px,#00aeff 400px,#00a7ff 404px,#00a1ff 408px,#009aff 412px,#0093ff 416px,#0090ff 420px,#008cff 424px,#0089ff 428px,#0086ff 432px,#0083ff 436px,#0080ff 440px,#0080ff 444px,#0080ff 448px,#0080ff 450px)"></div><div style="top:36.0px;height:2.0px;background:linear-gradient(90deg,#00b0ff 0px,#00afff 4px,#00aeff 8px,#00adff 12px,#00acff 16px,#00abff 20px,#00aaff 24px,#00a9ff 28px,#00a7ff 32px,#00a6ff 36px,#00aaff 40px,#00aeff 44px,#00b2ff 48px,#00b6ff 52px,#00baff 56px,#00b3ff 60px,#00abff 64px,#00a3ff 68px,#009dff 72px,#009bff 76px,#0099ff 80px,#0098ff 84px,#0096ff 88px,#0098ff 92px,#009eff 96px,#00a5ff 100px,#00abff 104px,#00b0ff 108px,#00adff 112px,#00aaff 116px,#00a9ff 120px,#00a8ff 124px,#00a7ff 128px,#00a4ff 132px,#00a0ff 136px,#009dff 140px,#009bff 144px,#00beff 148px,#00e1ff 152px,#00f4ff 156px,#00faff 160px,#01fffe 164px,#07fff8 168px,#0dfff2 172px,#13ffec 176px,#18ffe7 180px,#1effe1 184px,#21ffde 188px,#21ffde 192px,#21ffde 196px,#21ffde 200px,#21ffde 204px,#21ffde 208px,#1effe1 212px,#1affe5 216px,#17ffe8 220px,#19ffe6 224px,#28ffd7 228px,#36ffc9 232px,#45ffba 236px,#42ffbd 240px,#3affc5 244px,#32ffcd 248px,#2bffd4 252px,#23ffdc 256px,#1bffe4 260px,#19ffe6 264px,#17ffe8 268px,#15ffea 272px,#14ffeb 276px,#12ffed 280px,#19ffe6 284px,#28ffd7 288px,#36ffc9 292px,#45ffba 296px,#53ffac 300px,#5effa1 304px,#5affa5 308px,#57ffa8 312px,#53ffac 316px,#4fffb0 320px,#4cffb3 324px,#48ffb7 328px,#42ffbd 332px,#39ffc6 336px,#2fffd0 340px,#26ffd9 344px,#1dffe2 348px,#15ffea 352px,#0efff1 356px,#07fff8 360px,#00ffff 364px,#00f8ff 368px,#00fbff 372px,#03fffc 376px,#0bfff4 380px,#04fffb 384px,#00eeff 388px,#00d8ff 392px,#00c7ff 396px,#00c0ff 400px,#00baff 404px,#00b3ff 408px,#00adff 412px,#00a6ff 416px,#00a3ff 420px,#009fff 424px,#009bff 428px,#0098ff 432px,#0094ff 436px,#0091ff 440px,#0091ff 444px,#0091ff 448px,#0091ff 450px)"></div><div style="top:38.0px;height:2.0px;background:linear-gradient(90deg,#00c5ff 0px,#00c4ff 4px,#00c3ff 8px,#00c2ff 12px,#00c1ff 16px,#00bfff 20px,#00beff 24px,#00bdff 28px,#00bcff 32px,#00bbff 36px,#00beff 40px,#00c2ff 44px,#00c7ff 48px,#00cbff 52px,#00cfff 56px,#00c7ff 60px,#00bfff 64px,#00b6ff 68px,#00b0ff 72px,#00aeff 76px,#00abff 80px,#00a9ff 84px,#00a7ff 88px,#00a9ff 92px,#00b1ff 96px,#00b8ff 100px,#00bfff 104px,#00c4ff 108px,#00c2ff 112px,#00bfff 116px,#00bfff 120px,#00bfff 124px,#00c0ff 128px,#00beff 132px,#00baff 136px,#00b7ff 140px,#00b4ff 144px,#00d4ff 148px,#00f3ff 152px,#03fffc 156px,#07fff8 160px,#0afff5 164px,#0dfff2 168px,#12ffed 172px,#18ffe7 176px,#1effe1 180px,#23ffdc 184px,#26ffd9 188px,#26ffd9 192px,#26ffd9 196px,#26ffd9 200px,#26ffd9 204px,#26ffd9 208px,#23ffdc 212px,#1fffe0 216px,#1cffe3 220px,#1effe1 224px,#2effd1 228px,#3fffc0 232px,#4fffb0 236px,#4dffb2 240px,#45ffba 244px,#3effc1 248px,#36ffc9 252px,#2fffd0 256px,#28ffd7 260px,#25ffda 264px,#25ffda 268px,#24ffdb 272px,#23ffdc 276px,#22ffdd 280px,#29ffd6 284px,#37ffc8 288px,#46ffb9 292px,#54ffab 296px,#62ff9d 300px,#6dff92 304px,#69ff96 308px,#65ff9a 312px,#61ff9e 316px,#5dffa2 320px,#59ffa6 324px,#56ffa9 328px,#4effb1 332px,#44ffbb 336px,#39ffc6 340px,#2effd1 344px,#23ffdc 348px,#1bffe4 352px,#15ffea 356px,#0ffff0 360px,#09fff6 364px,#03fffc 368px,#05fffa 372px,#0afff5 376px,#0ffff0 380px,#0afff5 384px,#00f7ff 388px,#00e6ff 392px,#00d8ff 396px,#00d2ff 400px,#00ccff 404px,#00c6ff 408px,#00bfff 412px,#00b9ff 416px,#00b5ff 420px,#00b2ff 424px,#00aeff 428px,#00aaff 432px,#00a6ff 436px,#00a2ff 440px,#00a2ff 444px,#00a2ff 448px,#00a2ff 450px)"></div><div style="top:40.0px;height:2.0px;background:linear-gradient(90deg,#00daff 0px,#00d9ff 4px,#00d7ff 8px,#00d6ff 12px,#00d5ff 16px,#00d4ff 20px,#00d3ff 24px,#00d2ff 28px,#00d1ff 32px,#00d0ff 36px,#00d3ff 40px,#00d7ff 44px,#00dbff 48px,#00dfff 52px,#00e4ff 56px,#00dcff 60px,#00d3ff 64px,#00cbff 68px,#00c4ff 72px,#00c2ff 76px,#00c0ff 80px,#00beff 84px,#00bcff 88px,#00beff 92px,#00c5ff 96px,#00cdff 100px,#00d4ff 104px,#00d9ff 108px,#00d8ff 112px,#00d6ff 116px,#00d5ff 120px,#00d4ff 124px,#00d3ff 128px,#00d1ff 132px,#00cfff 136px,#00cdff 140px,#00ccff 144px,#00e4ff 148px,#00fcff 152px,#09fff6 156px,#0cfff3 160px,#0ffff0 164px,#12ffed 168px,#17ffe8 172px,#1dffe2 176px,#23ffdc 180px,#29ffd6 184px,#2cffd3 188px,#2cffd3 192px,#2cffd3 196px,#2cffd3 200px,#2cffd3 204px,#2cffd3 208px,#29ffd6 212px,#25ffda 216px,#22ffdd 220px,#25ffda 224px,#36ffc9 228px,#48ffb7 232px,#5affa5 236px,#58ffa7 240px,#51ffae 244px,#49ffb6 248px,#42ffbd 252px,#3bffc4 256px,#34ffcb 260px,#32ffcd 264px,#32ffcd 268px,#32ffcd 272px,#32ffcd 276px,#32ffcd 280px,#39ffc6 284px,#48ffb7 288px,#56ffa9 292px,#64ff9b 296px,#73ff8c 300px,#7dff82 304px,#79ff86 308px,#74ff8b 312px,#70ff8f 316px,#6cff93 320px,#67ff98 324px,#63ff9c 328px,#5bffa4 332px,#4fffb0 336px,#43ffbc 340px,#37ffc8 344px,#2cffd3 348px,#23ffdc 352px,#1dffe2 356px,#18ffe7 360px,#12ffed 364px,#0cfff3 368px,#0cfff3 372px,#10ffef 376px,#14ffeb 380px,#10ffef 384px,#01fffe 388px,#00f1ff 392px,#00e5ff 396px,#00e0ff 400px,#00dbff 404px,#00d6ff 408px,#00d2ff 412px,#00cdff 416px,#00c8ff 420px,#00c4ff 424px,#00c0ff 428px,#00bcff 432px,#00b7ff 436px,#00b3ff 440px,#00b3ff 444px,#00b3ff 448px,#00b3ff 450px)"></div><div style="top:42.0px;height:2.0px;background:linear-gradient(90deg,#00eeff 0px,#00edff 4px,#00ecff 8px,#00ebff 12px,#00eaff 16px,#00e9ff 20px,#00e8ff 24px,#00e6ff 28px,#00e5ff 32px,#00e4ff 36px,#00e7ff 40px,#00ecff 44px,#00f0ff 48px,#00f4ff 52px,#00f8ff 56px,#00f1ff 60px,#00e8ff 64px,#00dfff 68px,#00d9ff 72px,#00d7ff 76px,#00d5ff 80px,#00d3ff 84px,#00d1ff 88px,#00d3ff 92px,#00daff 96px,#00e1ff 100px,#00e8ff 104px,#00eeff 108px,#00eeff 112px,#00edff 116px,#00ebff 120px,#00e9ff 124px,#00e7ff 128px,#00e5ff 132px,#00e3ff 136px,#00e2ff 140px,#00e1ff 144px,#00f3ff 148px,#05fffa 152px,#10ffef 156px,#14ffeb 160px,#19ffe6 164px,#1effe1 168px,#23ffdc 172px,#27ffd8 176px,#2bffd4 180px,#30ffcf 184px,#32ffcd 188px,#32ffcd 192px,#32ffcd 196px,#32ffcd 200px,#32ffcd 204px,#32ffcd 208px,#30ffcf 212px,#2dffd2 216px,#2affd5 220px,#2dffd2 224px,#40ffbf 228px,#52ffad 232px,#64ff9b 236px,#64ff9b 240px,#5effa1 244px,#58ffa7 248px,#52ffad 252px,#4cffb3 256px,#47ffb8 260px,#46ffb9 264px,#46ffb9 268px,#47ffb8 272px,#48ffb7 276px,#48ffb7 280px,#4fffb0 284px,#5dffa2 288px,#6aff95 292px,#77ff88 296px,#84ff7b 300px,#8eff71 304px,#89ff76 308px,#84ff7b 312px,#7fff80 316px,#7bff84 320px,#76ff89 324px,#71ff8e 328px,#68ff97 332px,#5bffa4 336px,#4effb1 340px,#41ffbe 344px,#34ffcb 348px,#2bffd4 352px,#25ffda 356px,#20ffdf 360px,#1affe5 364px,#14ffeb 368px,#15ffea 372px,#18ffe7 376px,#1bffe4 380px,#17ffe8 384px,#0afff5 388px,#00fcff 392px,#00f2ff 396px,#00eeff 400px,#00eaff 404px,#00e6ff 408px,#00e2ff 412px,#00deff 416px,#00daff 420px,#00d5ff 424px,#00d1ff 428px,#00cdff 432px,#00c8ff 436px,#00c4ff 440px,#00c4ff 444px,#00c4ff 448px,#00c4ff 450px)"></div><div style="top:44.0px;height:2.0px;background:linear-gradient(90deg,#07fff8 0px,#06fff9 4px,#05fffa 8px,#04fffb 12px,#03fffc 16px,#02fffd 20px,#01fffe 24px,#00ffff 28px,#00feff 32px,#00fdff 36px,#01fffe 40px,#04fffb 44px,#08fff7 48px,#0cfff3 52px,#0ffff0 56px,#0afff5 60px,#04fffb 64px,#00fcff 68px,#00f7ff 72px,#00f5ff 76px,#00f3ff 80px,#00f1ff 84px,#00eeff 88px,#00f0ff 92px,#00f5ff 96px,#00fbff 100px,#02fffd 104px,#06fff9 108px,#03fffc 112px,#01fffe 116px,#00feff 120px,#00fcff 124px,#00faff 128px,#00f9ff 132px,#00f8ff 136px,#00f8ff 140px,#00f8ff 144px,#04fffb 148px,#0ffff0 152px,#17ffe8 156px,#1dffe2 160px,#24ffdb 164px,#2affd5 168px,#2effd1 172px,#31ffce 176px,#34ffcb 180px,#36ffc9 184px,#38ffc7 188px,#38ffc7 192px,#38ffc7 196px,#38ffc7 200px,#39ffc6 204px,#39ffc6 208px,#38ffc7 212px,#36ffc9 216px,#34ffcb 220px,#38ffc7 224px,#48ffb7 228px,#58ffa7 232px,#69ff96 236px,#6bff94 240px,#69ff96 244px,#66ff99 248px,#63ff9c 252px,#60ff9f 256px,#5dffa2 260px,#5dffa2 264px,#5effa1 268px,#5fffa0 272px,#60ff9f 276px,#61ff9e 280px,#67ff98 284px,#73ff8c 288px,#7eff81 292px,#8bff74 296px,#97ff68 300px,#9eff61 304px,#98ff67 308px,#92ff6d 312px,#8cff73 316px,#87ff78 320px,#81ff7e 324px,#7cff83 328px,#74ff8b 332px,#64ff9b 336px,#56ffa9 340px,#4affb5 344px,#3effc1 348px,#36ffc9 352px,#32ffcd 356px,#2dffd2 360px,#27ffd8 364px,#21ffde 368px,#20ffdf 372px,#22ffdd 376px,#24ffdb 380px,#21ffde 384px,#16ffe9 388px,#0bfff4 392px,#02fffd 396px,#00feff 400px,#00fbff 404px,#00f9ff 408px,#00f6ff 412px,#00f3ff 416px,#00eeff 420px,#00eaff 424px,#00e5ff 428px,#00e0ff 432px,#00dbff 436px,#00d6ff 440px,#00d6ff 444px,#00d6ff 448px,#00d6ff 450px)"></div><div style="top:46.0px;height:2.0px;background:linear-gradient(90deg,#17ffe8 0px,#17ffe8 4px,#16ffe9 8px,#16ffe9 12px,#15ffea 16px,#15ffea 20px,#14ffeb 24px,#14ffeb 28px,#14ffeb 32px,#13ffec 36px,#14ffeb 40px,#15ffea 44px,#16ffe9 48px,#17ffe8 52px,#18ffe7 56px,#17ffe8 60px,#15ffea 64px,#14ffeb 68px,#12ffed 72px,#11ffee 76px,#0ffff0 80px,#0dfff2 84px,#0cfff3 88px,#0cfff3 92px,#0ffff0 96px,#12ffed 100px,#15ffea 104px,#14ffeb 108px,#0ffff0 112px,#0bfff4 116px,#08fff7 120px,#06fff9 124px,#04fffb 128px,#03fffc 132px,#03fffc 136px,#04fffb 140px,#06fff9 144px,#0efff1 148px,#15ffea 152px,#1cffe3 156px,#23ffdc 160px,#29ffd6 164px,#2fffd0 168px,#34ffcb 172px,#37ffc8 176px,#39ffc6 180px,#3affc5 184px,#3bffc4 188px,#3bffc4 192px,#3bffc4 196px,#3dffc2 200px,#3fffc0 204px,#40ffbf 208px,#3fffc0 212px,#3effc1 216px,#3effc1 220px,#43ffbc 224px,#50ffaf 228px,#5cffa3 232px,#6aff95 236px,#70ff8f 240px,#72ff8d 244px,#72ff8d 248px,#71ff8e 252px,#70ff8f 256px,#6fff90 260px,#70ff8f 264px,#71ff8e 268px,#72ff8d 272px,#74ff8b 276px,#75ff8a 280px,#79ff86 284px,#81ff7e 288px,#8aff75 292px,#96ff69 296px,#a0ff5f 300px,#a2ff5d 304px,#9cff63 308px,#96ff69 312px,#8fff70 316px,#8aff75 320px,#86ff79 324px,#82ff7d 328px,#7cff83 332px,#68ff97 336px,#58ffa7 340px,#50ffaf 344px,#48ffb7 348px,#42ffbd 352px,#3fffc0 356px,#3bffc4 360px,#34ffcb 364px,#2effd1 368px,#2bffd4 372px,#2cffd3 376px,#2dffd2 380px,#2affd5 384px,#20ffdf 388px,#15ffea 392px,#0bfff4 396px,#0afff5 400px,#09fff6 404px,#08fff7 408px,#07fff8 412px,#06fff9 416px,#01fffe 420px,#00fbff 424px,#00f6ff 428px,#00f0ff 432px,#00e9ff 436px,#00e3ff 440px,#00e3ff 444px,#00e3ff 448px,#00e3ff 450px)"></div><div style="top:48.0px;height:2.0px;background:linear-gradient(90deg,#1fffe0 0px,#1fffe0 4px,#1fffe0 8px,#1effe1 12px,#1effe1 16px,#1effe1 20px,#1effe1 24px,#1effe1 28px,#1dffe2 32px,#1dffe2 36px,#1dffe2 40px,#1effe1 44px,#1effe1 48px,#1fffe0 52px,#1fffe0 56px,#1fffe0 60px,#1effe1 64px,#1dffe2 68px,#1dffe2 72px,#1cffe3 76px,#1cffe3 80px,#1bffe4 84px,#1bffe4 88px,#1bffe4 92px,#1cffe3 96px,#1dffe2 100px,#1effe1 104px,#1affe5 108px,#14ffeb 112px,#0ffff0 116px,#0cfff3 120px,#0afff5 124px,#07fff8 128px,#06fff9 132px,#06fff9 136px,#07fff8 140px,#0afff5 144px,#11ffee 148px,#18ffe7 152px,#1fffe0 156px,#24ffdb 160px,#2affd5 164px,#2fffd0 168px,#34ffcb 172px,#38ffc7 176px,#39ffc6 180px,#3affc5 184px,#3bffc4 188px,#3bffc4 192px,#3cffc3 196px,#3fffc0 200px,#41ffbe 204px,#43ffbc 208px,#43ffbc 212px,#43ffbc 216px,#45ffba 220px,#4affb5 224px,#54ffab 228px,#5effa1 232px,#69ff96 236px,#72ff8d 240px,#77ff88 244px,#77ff88 248px,#77ff88 252px,#77ff88 256px,#77ff88 260px,#77ff88 264px,#78ff87 268px,#78ff87 272px,#79ff86 276px,#79ff86 280px,#7cff83 284px,#83ff7c 288px,#8bff74 292px,#97ff68 296px,#a0ff5f 300px,#9fff60 304px,#99ff66 308px,#93ff6c 312px,#8dff72 316px,#89ff76 320px,#87ff78 324px,#84ff7b 328px,#81ff7e 332px,#6bff94 336px,#5affa5 340px,#55ffaa 344px,#50ffaf 348px,#4dffb2 352px,#4bffb4 356px,#48ffb7 360px,#41ffbe 364px,#3affc5 368px,#36ffc9 372px,#37ffc8 376px,#38ffc7 380px,#35ffca 384px,#29ffd6 388px,#1dffe2 392px,#13ffec 396px,#12ffed 400px,#11ffee 404px,#11ffee 408px,#11ffee 412px,#10ffef 416px,#0bfff4 420px,#07fff8 424px,#03fffc 428px,#00fdff 432px,#00f8ff 436px,#00f3ff 440px,#00f3ff 444px,#00f3ff 448px,#00f3ff 450px)"></div><div style="top:50.0px;height:2.0px;background:linear-gradient(90deg,#2cffd3 0px,#2cffd3 4px,#2cffd3 8px,#2cffd3 12px,#2cffd3 16px,#2cffd3 20px,#2cffd3 24px,#2bffd4 28px,#2bffd4 32px,#2bffd4 36px,#2bffd4 40px,#2cffd3 44px,#2cffd3 48px,#2cffd3 52px,#2cffd3 56px,#2cffd3 60px,#2cffd3 64px,#2bffd4 68px,#2bffd4 72px,#2bffd4 76px,#2bffd4 80px,#2bffd4 84px,#2affd5 88px,#2bffd4 92px,#2bffd4 96px,#2bffd4 100px,#2cffd3 104px,#23ffdc 108px,#19ffe6 112px,#15ffea 116px,#12ffed 120px,#0ffff0 124px,#0cfff3 128px,#0bfff4 132px,#0bfff4 136px,#0bfff4 140px,#0ffff0 144px,#16ffe9 148px,#1effe1 152px,#25ffda 156px,#28ffd7 160px,#2bffd4 164px,#2fffd0 168px,#35ffca 172px,#3affc5 176px,#3bffc4 180px,#3bffc4 184px,#3bffc4 188px,#3bffc4 192px,#3dffc2 196px,#40ffbf 200px,#43ffbc 204px,#46ffb9 208px,#48ffb7 212px,#49ffb6 216px,#4dffb2 220px,#53ffac 224px,#5bffa4 228px,#62ff9d 232px,#6cff93 236px,#77ff88 240px,#7eff81 244px,#7eff81 248px,#7eff81 252px,#7eff81 256px,#7eff81 260px,#7eff81 264px,#7eff81 268px,#7eff81 272px,#7eff81 276px,#7eff81 280px,#80ff7f 284px,#86ff79 288px,#8dff72 292px,#99ff66 296px,#a1ff5e 300px,#9cff63 304px,#96ff69 308px,#91ff6e 312px,#8bff74 316px,#89ff76 320px,#88ff77 324px,#88ff77 328px,#86ff79 332px,#72ff8d 336px,#62ff9d 340px,#60ff9f 344px,#5fffa0 348px,#5dffa2 352px,#5dffa2 356px,#5cffa3 360px,#56ffa9 364px,#50ffaf 368px,#4dffb2 372px,#4dffb2 376px,#4dffb2 380px,#4bffb4 384px,#3cffc3 388px,#2effd1 392px,#20ffdf 396px,#1fffe0 400px,#1fffe0 404px,#1fffe0 408px,#1fffe0 412px,#1effe1 416px,#1bffe4 420px,#18ffe7 424px,#16ffe9 428px,#14ffeb 432px,#12ffed 436px,#11ffee 440px,#11ffee 444px,#11ffee 448px,#11ffee 450px)"></div><div style="top:52.0px;height:2.0px;background:linear-gradient(90deg,#3bffc4 0px,#3bffc4 4px,#3bffc4 8px,#3bffc4 12px,#3bffc4 16px,#3bffc4 20px,#3bffc4 24px,#3bffc4 28px,#3bffc4 32px,#3bffc4 36px,#3bffc4 40px,#3bffc4 44px,#3bffc4 48px,#3bffc4 52px,#3bffc4 56px,#3bffc4 60px,#3bffc4 64px,#3bffc4 68px,#3bffc4 72px,#3bffc4 76px,#3bffc4 80px,#3bffc4 84px,#3bffc4 88px,#3bffc4 92px,#3bffc4 96px,#3bffc4 100px,#3bffc4 104px,#31ffce 108px,#26ffd9 112px,#22ffdd 116px,#1fffe0 120px,#1dffe2 124px,#1affe5 128px,#19ffe6 132px,#19ffe6 136px,#19ffe6 140px,#1cffe3 144px,#22ffdd 148px,#29ffd6 152px,#2fffd0 156px,#30ffcf 160px,#32ffcd 164px,#35ffca 168px,#3bffc4 172px,#41ffbe 176px,#42ffbd 180px,#42ffbd 184px,#42ffbd 188px,#42ffbd 192px,#43ffbc 196px,#46ffb9 200px,#49ffb6 204px,#4cffb3 208px,#4fffb0 212px,#52ffad 216px,#5affa5 220px,#64ff9b 224px,#6cff93 228px,#72ff8d 232px,#7aff85 236px,#84ff7b 240px,#8bff74 244px,#8bff74 248px,#8bff74 252px,#8bff74 256px,#8bff74 260px,#8bff74 264px,#8bff74 268px,#8bff74 272px,#8cff73 276px,#8cff73 280px,#8eff71 284px,#93ff6c 288px,#98ff67 292px,#a2ff5d 296px,#a7ff58 300px,#a2ff5d 304px,#9dff62 308px,#99ff66 312px,#95ff6a 316px,#93ff6c 320px,#93ff6c 324px,#93ff6c 328px,#93ff6c 332px,#83ff7c 336px,#77ff88 340px,#77ff88 344px,#77ff88 348px,#77ff88 352px,#77ff88 356px,#77ff88 360px,#70ff8f 364px,#6aff95 368px,#65ff9a 372px,#65ff9a 376px,#65ff9a 380px,#63ff9c 384px,#52ffad 388px,#41ffbe 392px,#2fffd0 396px,#2effd1 400px,#2effd1 404px,#2effd1 408px,#2effd1 412px,#2effd1 416px,#2cffd3 420px,#2bffd4 424px,#2affd5 428px,#29ffd6 432px,#28ffd7 436px,#28ffd7 440px,#28ffd7 444px,#28ffd7 448px,#28ffd7 450px)"></div><div style="top:54.0px;height:2.0px;background:linear-gradient(90deg,#48ffb7 0px,#48ffb7 4px,#48ffb7 8px,#48ffb7 12px,#48ffb7 16px,#48ffb7 20px,#48ffb7 24px,#48ffb7 28px,#48ffb7 32px,#48ffb7 36px,#48ffb7 40px,#48ffb7 44px,#48ffb7 48px,#48ffb7 52px,#48ffb7 56px,#48ffb7 60px,#48ffb7 64px,#48ffb7 68px,#48ffb7 72px,#48ffb7 76px,#48ffb7 80px,#48ffb7 84px,#48ffb7 88px,#48ffb7 92px,#48ffb7 96px,#48ffb7 100px,#48ffb7 104px,#40ffbf 108px,#37ffc8 112px,#34ffcb 116px,#32ffcd 120px,#31ffce 124px,#2fffd0 128px,#2effd1 132px,#2effd1 136px,#2fffd0 140px,#30ffcf 144px,#34ffcb 148px,#38ffc7 152px,#3bffc4 156px,#3cffc3 160px,#3dffc2 164px,#40ffbf 168px,#46ffb9 172px,#4cffb3 176px,#4cffb3 180px,#4cffb3 184px,#4cffb3 188px,#4cffb3 192px,#4dffb2 196px,#4effb1 200px,#50ffaf 204px,#53ffac 208px,#57ffa8 212px,#5affa5 216px,#69ff96 220px,#7bff84 224px,#86ff79 228px,#8cff73 232px,#92ff6d 236px,#98ff67 240px,#9cff63 244px,#9cff63 248px,#9cff63 252px,#9cff63 256px,#9cff63 260px,#9cff63 264px,#9cff63 268px,#9cff63 272px,#9fff60 276px,#a1ff5e 280px,#a3ff5c 284px,#a6ff59 288px,#a9ff56 292px,#afff50 296px,#b2ff4d 300px,#afff50 304px,#acff53 308px,#a9ff56 312px,#a7ff58 316px,#a6ff59 320px,#a6ff59 324px,#a6ff59 328px,#a6ff59 332px,#9dff62 336px,#95ff6a 340px,#95ff6a 344px,#95ff6a 348px,#95ff6a 352px,#95ff6a 356px,#94ff6b 360px,#8aff75 364px,#80ff7f 368px,#78ff87 372px,#78ff87 376px,#78ff87 380px,#76ff89 384px,#63ff9c 388px,#50ffaf 392px,#3cffc3 396px,#3bffc4 400px,#3bffc4 404px,#3bffc4 408px,#3bffc4 412px,#3bffc4 416px,#3bffc4 420px,#3affc5 424px,#3affc5 428px,#39ffc6 432px,#39ffc6 436px,#39ffc6 440px,#39ffc6 444px,#39ffc6 448px,#39ffc6 450px)"></div><div style="top:56.0px;height:2.0px;background:linear-gradient(90deg,#55ffaa 0px,#55ffaa 4px,#55ffaa 8px,#55ffaa 12px,#55ffaa 16px,#55ffaa 20px,#55ffaa 24px,#55ffaa 28px,#55ffaa 32px,#55ffaa 36px,#55ffaa 40px,#55ffaa 44px,#55ffaa 48px,#55ffaa 52px,#55ffaa 56px,#55ffaa 60px,#55ffaa 64px,#55ffaa 68px,#55ffaa 72px,#55ffaa 76px,#55ffaa 80px,#55ffaa 84px,#55ffaa 88px,#55ffaa 92px,#55ffaa 96px,#55ffaa 100px,#55ffaa 104px,#4effb1 108px,#47ffb8 112px,#46ffb9 116px,#45ffba 120px,#45ffba 124px,#44ffbb 128px,#44ffbb 132px,#44ffbb 136px,#44ffbb 140px,#44ffbb 144px,#46ffb9 148px,#47ffb8 152px,#48ffb7 156px,#48ffb7 160px,#49ffb6 164px,#4bffb4 168px,#51ffae 172px,#56ffa9 176px,#56ffa9 180px,#56ffa9 184px,#56ffa9 188px,#56ffa9 192px,#57ffa8 196px,#57ffa8 200px,#58ffa7 204px,#5affa5 208px,#5fffa0 212px,#63ff9c 216px,#77ff88 220px,#91ff6e 224px,#9fff60 228px,#a6ff59 232px,#aaff55 236px,#acff53 240px,#adff52 244px,#adff52 248px,#adff52 252px,#adff52 256px,#adff52 260px,#adff52 264px,#adff52 268px,#aeff51 272px,#b1ff4e 276px,#b5ff4a 280px,#b8ff47 284px,#b9ff46 288px,#baff45 292px,#bcff43 296px,#bdff42 300px,#bcff43 304px,#bbff44 308px,#baff45 312px,#b9ff46 316px,#b9ff46 320px,#b9ff46 324px,#b9ff46 328px,#b9ff46 332px,#b6ff49 336px,#b3ff4c 340px,#b3ff4c 344px,#b3ff4c 348px,#b3ff4c 352px,#b3ff4c 356px,#b2ff4d 360px,#a4ff5b 364px,#96ff69 368px,#8cff73 372px,#8cff73 376px,#8cff73 380px,#89ff76 384px,#73ff8c 388px,#5dffa2 392px,#47ffb8 396px,#48ffb7 400px,#49ffb6 404px,#4affb5 408px,#4affb5 412px,#4affb5 416px,#4bffb4 420px,#4cffb3 424px,#4cffb3 428px,#4effb1 432px,#51ffae 436px,#53ffac 440px,#53ffac 444px,#53ffac 448px,#53ffac 450px)"></div><div style="top:58.0px;height:2.0px;background:linear-gradient(90deg,#62ff9d 0px,#62ff9d 4px,#62ff9d 8px,#62ff9d 12px,#62ff9d 16px,#62ff9d 20px,#62ff9d 24px,#62ff9d 28px,#62ff9d 32px,#62ff9d 36px,#62ff9d 40px,#62ff9d 44px,#62ff9d 48px,#62ff9d 52px,#62ff9d 56px,#62ff9d 60px,#62ff9d 64px,#62ff9d 68px,#62ff9d 72px,#62ff9d 76px,#62ff9d 80px,#62ff9d 84px,#62ff9d 88px,#62ff9d 92px,#62ff9d 96px,#62ff9d 100px,#62ff9d 104px,#5effa1 108px,#59ffa6 112px,#58ffa7 116px,#58ffa7 120px,#58ffa7 124px,#58ffa7 128px,#58ffa7 132px,#58ffa7 136px,#58ffa7 140px,#58ffa7 144px,#58ffa7 148px,#58ffa7 152px,#58ffa7 156px,#58ffa7 160px,#58ffa7 164px,#5affa5 168px,#60ff9f 172px,#65ff9a 176px,#65ff9a 180px,#65ff9a 184px,#65ff9a 188px,#65ff9a 192px,#65ff9a 196px,#65ff9a 200px,#65ff9a 204px,#67ff98 208px,#6bff94 212px,#6fff90 216px,#88ff77 220px,#a8ff57 224px,#b9ff46 228px,#beff41 232px,#c0ff3f 236px,#c0ff3f 240px,#c0ff3f 244px,#c0ff3f 248px,#c0ff3f 252px,#c0ff3f 256px,#c0ff3f 260px,#c0ff3f 264px,#c0ff3f 268px,#c1ff3e 272px,#c5ff3a 276px,#c8ff37 280px,#cbff34 284px,#cbff34 288px,#cbff34 292px,#ccff33 296px,#cdff32 300px,#ccff33 304px,#cbff34 308px,#ccff33 312px,#cdff32 316px,#cdff32 320px,#cdff32 324px,#cdff32 328px,#cdff32 332px,#ccff33 336px,#cbff34 340px,#cbff34 344px,#cbff34 348px,#cbff34 352px,#cbff34 356px,#c9ff36 360px,#baff45 364px,#aaff55 368px,#9fff60 372px,#9fff60 376px,#9fff60 380px,#9cff63 384px,#83ff7c 388px,#69ff96 392px,#50ffaf 396px,#54ffab 400px,#59ffa6 404px,#5bffa4 408px,#5bffa4 412px,#5cffa3 416px,#5effa1 420px,#60ff9f 424px,#62ff9d 428px,#68ff97 432px,#6eff91 436px,#75ff8a 440px,#75ff8a 444px,#75ff8a 448px,#75ff8a 450px)"></div><div style="top:60.0px;height:2.0px;background:linear-gradient(90deg,#6fff90 0px,#6fff90 4px,#6fff90 8px,#6fff90 12px,#6fff90 16px,#6fff90 20px,#6fff90 24px,#6fff90 28px,#6fff90 32px,#6fff90 36px,#6fff90 40px,#6fff90 44px,#6fff90 48px,#6fff90 52px,#6fff90 56px,#6fff90 60px,#6fff90 64px,#6fff90 68px,#6fff90 72px,#6fff90 76px,#6fff90 80px,#6fff90 84px,#6fff90 88px,#6fff90 92px,#6fff90 96px,#6fff90 100px,#6fff90 104px,#6dff92 108px,#6cff93 112px,#6cff93 116px,#6cff93 120px,#6cff93 124px,#6cff93 128px,#6cff93 132px,#6cff93 136px,#6cff93 140px,#6cff93 144px,#6cff93 148px,#6cff93 152px,#6cff93 156px,#6cff93 160px,#6cff93 164px,#6eff91 168px,#73ff8c 172px,#78ff87 176px,#78ff87 180px,#78ff87 184px,#78ff87 188px,#78ff87 192px,#78ff87 196px,#78ff87 200px,#78ff87 204px,#7aff85 208px,#7dff82 212px,#80ff7f 216px,#9bff64 220px,#c0ff3f 224px,#d1ff2e 228px,#d4ff2b 232px,#d6ff29 236px,#d6ff29 240px,#d6ff29 244px,#d6ff29 248px,#d6ff29 252px,#d6ff29 256px,#d6ff29 260px,#d6ff29 264px,#d6ff29 268px,#d6ff29 272px,#d8ff27 276px,#daff25 280px,#dcff23 284px,#dcff23 288px,#dcff23 292px,#e0ff1f 296px,#e2ff1d 300px,#dfff20 304px,#ddff22 308px,#dfff20 312px,#e2ff1d 316px,#e3ff1c 320px,#e3ff1c 324px,#e3ff1c 328px,#e3ff1c 332px,#dfff20 336px,#dcff23 340px,#dcff23 344px,#dcff23 348px,#dcff23 352px,#dcff23 356px,#daff25 360px,#caff35 364px,#baff45 368px,#afff50 372px,#afff50 376px,#afff50 380px,#acff53 384px,#90ff6f 388px,#74ff8b 392px,#59ffa6 396px,#5fffa0 400px,#68ff97 404px,#6dff92 408px,#6dff92 412px,#6eff91 416px,#71ff8e 420px,#74ff8b 424px,#77ff88 428px,#81ff7e 432px,#8cff73 436px,#98ff67 440px,#98ff67 444px,#98ff67 448px,#98ff67 450px)"></div><div style="top:62.0px;height:2.0px;background:linear-gradient(90deg,#7eff81 0px,#7eff81 4px,#7eff81 8px,#7eff81 12px,#7eff81 16px,#7eff81 20px,#7eff81 24px,#7eff81 28px,#7eff81 32px,#7eff81 36px,#7eff81 40px,#7eff81 44px,#7eff81 48px,#7eff81 52px,#7eff81 56px,#7eff81 60px,#7eff81 64px,#7eff81 68px,#7eff81 72px,#7eff81 76px,#7eff81 80px,#7eff81 84px,#7eff81 88px,#7eff81 92px,#7eff81 96px,#7eff81 100px,#7eff81 104px,#7eff81 108px,#7fff80 112px,#7fff80 116px,#7fff80 120px,#7fff80 124px,#7fff80 128px,#7fff80 132px,#7fff80 136px,#7fff80 140px,#7fff80 144px,#7fff80 148px,#7fff80 152px,#7fff80 156px,#7fff80 160px,#7fff80 164px,#81ff7e 168px,#86ff79 172px,#8bff74 176px,#8cff73 180px,#8cff73 184px,#8cff73 188px,#8cff73 192px,#8cff73 196px,#8cff73 200px,#8cff73 204px,#8dff72 208px,#8eff71 212px,#90ff6f 216px,#aeff51 220px,#d8ff27 224px,#eaff15 228px,#ebff14 232px,#ebff14 236px,#ebff14 240px,#ebff14 244px,#ebff14 248px,#ebff14 252px,#ebff14 256px,#ebff14 260px,#ebff14 264px,#ebff14 268px,#ebff14 272px,#ecff13 276px,#edff12 280px,#edff12 284px,#edff12 288px,#eeff11 292px,#f4ff0b 296px,#f7ff08 300px,#f3ff0c 304px,#eeff11 308px,#f1ff0e 312px,#f7ff08 316px,#f8ff07 320px,#f8ff07 324px,#f8ff07 328px,#f8ff07 332px,#f2ff0d 336px,#edff12 340px,#edff12 344px,#edff12 348px,#edff12 352px,#edff12 356px,#ebff14 360px,#daff25 364px,#c8ff37 368px,#bcff43 372px,#bcff43 376px,#bcff43 380px,#b8ff47 384px,#9aff65 388px,#7bff84 392px,#5dffa2 396px,#66ff99 400px,#71ff8e 404px,#76ff89 408px,#76ff89 412px,#77ff88 416px,#7cff83 420px,#80ff7f 424px,#85ff7a 428px,#92ff6d 432px,#a0ff5f 436px,#aeff51 440px,#aeff51 444px,#aeff51 448px,#aeff51 450px)"></div><div style="top:64.0px;height:2.0px;background:linear-gradient(90deg,#8fff70 0px,#8fff70 4px,#8fff70 8px,#8fff70 12px,#8fff70 16px,#8fff70 20px,#8fff70 24px,#8fff70 28px,#8fff70 32px,#8fff70 36px,#8fff70 40px,#8fff70 44px,#8fff70 48px,#8fff70 52px,#8fff70 56px,#8fff70 60px,#8fff70 64px,#8fff70 68px,#8fff70 72px,#8fff70 76px,#8fff70 80px,#8fff70 84px,#8fff70 88px,#8fff70 92px,#8fff70 96px,#8fff70 100px,#8fff70 104px,#90ff6f 108px,#92ff6d 112px,#92ff6d 116px,#92ff6d 120px,#92ff6d 124px,#92ff6d 128px,#92ff6d 132px,#92ff6d 136px,#92ff6d 140px,#92ff6d 144px,#92ff6d 148px,#92ff6d 152px,#92ff6d 156px,#92ff6d 160px,#92ff6d 164px,#94ff6b 168px,#9aff65 172px,#9fff60 176px,#9fff60 180px,#9fff60 184px,#9fff60 188px,#9fff60 192px,#9fff60 196px,#9fff60 200px,#9fff60 204px,#9fff60 208px,#a0ff5f 212px,#a1ff5e 216px,#beff41 220px,#e8ff17 224px,#f8ff07 228px,#f8ff07 232px,#fbff04 236px,#fffe00 240px,#fffd00 244px,#fdff02 248px,#f8ff07 252px,#fdff02 256px,#fffb00 260px,#fff800 264px,#fff800 268px,#fff900 272px,#fffe00 276px,#fcff03 280px,#f9ff06 284px,#feff01 288px,#fffb00 292px,#fff200 296px,#ffee00 300px,#fff900 304px,#fbff04 308px,#fffe00 312px,#fff500 316px,#fff100 320px,#ffee00 324px,#ffef00 328px,#fff000 332px,#fff700 336px,#fffb00 340px,#fffa00 344px,#fff800 348px,#fff900 352px,#fffb00 356px,#feff01 360px,#ebff14 364px,#d7ff28 368px,#c9ff36 372px,#c9ff36 376px,#c9ff36 380px,#c5ff3a 384px,#a2ff5d 388px,#80ff7f 392px,#5dffa2 396px,#67ff98 400px,#73ff8c 404px,#78ff87 408px,#76ff89 412px,#78ff87 416px,#7fff80 420px,#86ff79 424px,#8dff72 428px,#9aff65 432px,#a9ff56 436px,#b7ff48 440px,#b7ff48 444px,#b7ff48 448px,#b7ff48 450px)"></div><div style="top:66.0px;height:2.0px;background:linear-gradient(90deg,#a0ff5f 0px,#a0ff5f 4px,#a0ff5f 8px,#a0ff5f 12px,#a0ff5f 16px,#a0ff5f 20px,#a0ff5f 24px,#a0ff5f 28px,#a0ff5f 32px,#a0ff5f 36px,#a0ff5f 40px,#a0ff5f 44px,#a0ff5f 48px,#a0ff5f 52px,#a0ff5f 56px,#a0ff5f 60px,#a0ff5f 64px,#a0ff5f 68px,#a0ff5f 72px,#a0ff5f 76px,#a0ff5f 80px,#a0ff5f 84px,#a0ff5f 88px,#a0ff5f 92px,#a0ff5f 96px,#a0ff5f 100px,#a0ff5f 104px,#a2ff5d 108px,#a4ff5b 112px,#a4ff5b 116px,#a4ff5b 120px,#a4ff5b 124px,#a4ff5b 128px,#a4ff5b 132px,#a4ff5b 136px,#a4ff5b 140px,#a4ff5b 144px,#a4ff5b 148px,#a4ff5b 152px,#a4ff5b 156px,#a4ff5b 160px,#a4ff5b 164px,#a7ff58 168px,#acff53 172px,#b1ff4e 176px,#b1ff4e 180px,#b1ff4e 184px,#b1ff4e 188px,#b0ff4f 192px,#b0ff4f 196px,#b2ff4d 200px,#b3ff4c 204px,#b3ff4c 208px,#b3ff4c 212px,#b3ff4c 216px,#cdff32 220px,#f0ff0f 224px,#fdff02 228px,#fdff02 232px,#fffa00 236px,#ffeb00 240px,#ffe600 244px,#fff300 248px,#fdff02 252px,#fff200 256px,#ffe100 260px,#ffd800 264px,#ffd800 268px,#ffdc00 272px,#ffe900 276px,#fff700 280px,#feff01 284px,#fff000 288px,#ffe100 292px,#ffd400 296px,#ffd100 300px,#ffe600 304px,#fffc00 308px,#fff500 312px,#ffe600 316px,#ffdc00 320px,#ffd500 324px,#ffd700 328px,#ffda00 332px,#ffdf00 336px,#ffe000 340px,#ffdd00 344px,#ffd900 348px,#ffdc00 352px,#ffe200 356px,#ffea00 360px,#fdff02 364px,#e6ff19 368px,#d6ff29 372px,#d6ff29 376px,#d6ff29 380px,#d1ff2e 384px,#abff54 388px,#84ff7b 392px,#5dffa2 396px,#68ff97 400px,#75ff8a 404px,#7aff85 408px,#77ff88 412px,#79ff86 416px,#82ff7d 420px,#8bff74 424px,#94ff6b 428px,#a2ff5d 432px,#b2ff4d 436px,#c1ff3e 440px,#c1ff3e 444px,#c1ff3e 448px,#c1ff3e 450px)"></div><div style="top:68.0px;height:2.0px;background:linear-gradient(90deg,#afff50 0px,#afff50 4px,#afff50 8px,#afff50 12px,#afff50 16px,#afff50 20px,#afff50 24px,#afff50 28px,#afff50 32px,#afff50 36px,#afff50 40px,#afff50 44px,#afff50 48px,#afff50 52px,#afff50 56px,#afff50 60px,#afff50 64px,#afff50 68px,#afff50 72px,#afff50 76px,#afff50 80px,#afff50 84px,#afff50 88px,#afff50 92px,#afff50 96px,#afff50 100px,#afff50 104px,#b2ff4d 108px,#b5ff4a 112px,#b6ff49 116px,#b6ff49 120px,#b6ff49 124px,#b6ff49 128px,#b6ff49 132px,#b6ff49 136px,#b6ff49 140px,#b6ff49 144px,#b6ff49 148px,#b6ff49 152px,#b6ff49 156px,#b6ff49 160px,#b6ff49 164px,#b8ff47 168px,#bdff42 172px,#c2ff3d 176px,#c2ff3d 180px,#c2ff3d 184px,#c1ff3e 188px,#bfff40 192px,#c0ff3f 196px,#c3ff3c 200px,#c7ff38 204px,#c9ff36 208px,#c9ff36 212px,#c9ff36 216px,#ddff22 220px,#f8ff07 224px,#fffc00 228px,#fffd00 232px,#fff400 236px,#ffdf00 240px,#ffd800 244px,#ffea00 248px,#fffc00 252px,#ffe800 256px,#ffd000 260px,#ffc300 264px,#ffc400 268px,#ffca00 272px,#ffdc00 276px,#ffee00 280px,#fffb00 284px,#ffe500 288px,#ffd000 292px,#ffc200 296px,#ffbf00 300px,#ffdb00 304px,#fff600 308px,#ffeb00 312px,#ffd700 316px,#ffc800 320px,#ffbc00 324px,#ffbf00 328px,#ffc500 332px,#ffc700 336px,#ffc600 340px,#ffc400 344px,#ffc100 348px,#ffc400 352px,#ffcc00 356px,#ffd500 360px,#fff000 364px,#f3ff0c 368px,#dfff20 372px,#dfff20 376px,#deff21 380px,#d9ff26 384px,#b0ff4f 388px,#87ff78 392px,#5effa1 396px,#69ff96 400px,#77ff88 404px,#7cff83 408px,#78ff87 412px,#79ff86 416px,#85ff7a 420px,#90ff6f 424px,#9bff64 428px,#abff54 432px,#bbff44 436px,#cbff34 440px,#cbff34 444px,#cbff34 448px,#cbff34 450px)"></div><div style="top:70.0px;height:2.0px;background:linear-gradient(90deg,#bcff43 0px,#bcff43 4px,#bcff43 8px,#bcff43 12px,#bcff43 16px,#bcff43 20px,#bcff43 24px,#bcff43 28px,#bcff43 32px,#bcff43 36px,#bcff43 40px,#bcff43 44px,#bcff43 48px,#bcff43 52px,#bcff43 56px,#bcff43 60px,#bcff43 64px,#bcff43 68px,#bcff43 72px,#bcff43 76px,#bcff43 80px,#bcff43 84px,#bcff43 88px,#bcff43 92px,#bcff43 96px,#bcff43 100px,#bcff43 104px,#c1ff3e 108px,#c6ff39 112px,#c7ff38 116px,#c7ff38 120px,#c7ff38 124px,#c7ff38 128px,#c7ff38 132px,#c7ff38 136px,#c7ff38 140px,#c7ff38 144px,#c7ff38 148px,#c7ff38 152px,#c7ff38 156px,#c7ff38 160px,#c7ff38 164px,#c9ff36 168px,#ceff31 172px,#d3ff2c 176px,#d4ff2b 180px,#d4ff2b 184px,#d1ff2e 188px,#ceff31 192px,#cfff30 196px,#d5ff2a 200px,#dbff24 204px,#deff21 208px,#deff21 212px,#deff21 216px,#ecff13 220px,#fffe00 224px,#fff700 228px,#fff900 232px,#ffef00 236px,#ffda00 240px,#ffd300 244px,#ffe600 248px,#fff800 252px,#ffe200 256px,#ffc800 260px,#ffba00 264px,#ffbc00 268px,#ffc400 272px,#ffd700 276px,#ffea00 280px,#fff600 284px,#ffdf00 288px,#ffc900 292px,#ffbc00 296px,#ffba00 300px,#ffd500 304px,#fff100 308px,#ffe300 312px,#ffcb00 316px,#ffb700 320px,#ffa400 324px,#ffac00 328px,#ffb500 332px,#ffb400 336px,#ffb200 340px,#ffb100 344px,#ffb000 348px,#ffb300 352px,#ffba00 356px,#ffc300 360px,#ffe300 364px,#fcff03 368px,#e5ff1a 372px,#e4ff1b 376px,#e2ff1d 380px,#dcff23 384px,#b2ff4d 388px,#88ff77 392px,#5effa1 396px,#6aff95 400px,#79ff86 404px,#7eff81 408px,#79ff86 412px,#7aff85 416px,#88ff77 420px,#95ff6a 424px,#a3ff5c 428px,#b1ff4e 432px,#bfff40 436px,#cdff32 440px,#cdff32 444px,#ceff31 448px,#ceff31 450px)"></div><div style="top:72.0px;height:2.0px;background:linear-gradient(90deg,#cfff30 0px,#cfff30 4px,#cfff30 8px,#cfff30 12px,#cfff30 16px,#cfff30 20px,#cfff30 24px,#cfff30 28px,#cfff30 32px,#cfff30 36px,#cfff30 40px,#cfff30 44px,#cfff30 48px,#cfff30 52px,#cfff30 56px,#cfff30 60px,#cfff30 64px,#cfff30 68px,#cfff30 72px,#cfff30 76px,#cfff30 80px,#cfff30 84px,#cfff30 88px,#cfff30 92px,#cfff30 96px,#cfff30 100px,#cfff30 104px,#d4ff2b 108px,#daff25 112px,#dbff24 116px,#dbff24 120px,#dbff24 124px,#dbff24 128px,#dbff24 132px,#dbff24 136px,#dbff24 140px,#dbff24 144px,#dbff24 148px,#dbff24 152px,#dbff24 156px,#d9ff26 160px,#d8ff27 164px,#d9ff26 168px,#deff21 172px,#e4ff1b 176px,#e4ff1b 180px,#e4ff1b 184px,#e1ff1e 188px,#ddff22 192px,#ddff22 196px,#e5ff1a 200px,#ecff13 204px,#f0ff0f 208px,#f0ff0f 212px,#f0ff0f 216px,#f9ff06 220px,#fff700 224px,#fff200 228px,#fff400 232px,#ffeb00 236px,#ffd500 240px,#ffce00 244px,#ffe100 248px,#fff400 252px,#ffdc00 256px,#ffc000 260px,#ffb100 264px,#ffb500 268px,#ffbe00 272px,#ffd100 276px,#ffe500 280px,#fff200 284px,#ffd900 288px,#ffc100 292px,#ffb600 296px,#ffb500 300px,#ffd000 304px,#ffeb00 308px,#ffdd00 312px,#ffc400 316px,#ffaa00 320px,#ff8f00 324px,#ff9c00 328px,#ffac00 332px,#ffa800 336px,#ffa200 340px,#ffa100 344px,#ffa000 348px,#ffa300 352px,#ffaa00 356px,#ffb300 360px,#ffd600 364px,#fff900 368px,#ecff13 372px,#e9ff16 376px,#e7ff18 380px,#dfff20 384px,#b4ff4b 388px,#8aff75 392px,#5fffa0 396px,#6aff95 400px,#78ff87 404px,#7dff82 408px,#77ff88 412px,#79ff86 416px,#88ff77 420px,#97ff68 424px,#a6ff59 428px,#b2ff4d 432px,#bdff42 436px,#c8ff37 440px,#c9ff36 444px,#caff35 448px,#cbff34 450px)"></div><div style="top:74.0px;height:2.0px;background:linear-gradient(90deg,#e9ff16 0px,#e9ff16 4px,#e9ff16 8px,#e9ff16 12px,#e9ff16 16px,#e9ff16 20px,#e9ff16 24px,#e9ff16 28px,#e9ff16 32px,#e9ff16 36px,#e9ff16 40px,#e9ff16 44px,#e9ff16 48px,#e9ff16 52px,#e9ff16 56px,#e9ff16 60px,#e9ff16 64px,#e9ff16 68px,#e9ff16 72px,#e9ff16 76px,#e9ff16 80px,#e9ff16 84px,#e9ff16 88px,#e9ff16 92px,#e9ff16 96px,#e9ff16 100px,#e9ff16 104px,#edff12 108px,#f1ff0e 112px,#f2ff0d 116px,#f2ff0d 120px,#f2ff0d 124px,#f2ff0d 128px,#f2ff0d 132px,#f2ff0d 136px,#f2ff0d 140px,#f2ff0d 144px,#f2ff0d 148px,#f2ff0d 152px,#f1ff0e 156px,#edff12 160px,#e9ff16 164px,#e9ff16 168px,#eeff11 172px,#f3ff0c 176px,#f3ff0c 180px,#f3ff0c 184px,#f0ff0f 188px,#ecff13 192px,#ecff13 196px,#f2ff0d 200px,#f9ff06 204px,#fcff03 208px,#fcff03 212px,#fcff03 216px,#fffb00 220px,#fff100 224px,#ffed00 228px,#ffef00 232px,#ffe500 236px,#ffd000 240px,#ffc900 244px,#ffdb00 248px,#ffec00 252px,#ffd400 256px,#ffb600 260px,#ffa800 264px,#ffad00 268px,#ffb700 272px,#ffcb00 276px,#ffdf00 280px,#ffec00 284px,#ffd200 288px,#ffb900 292px,#ffb000 296px,#ffb000 300px,#ffca00 304px,#ffe400 308px,#ffd500 312px,#ffbc00 316px,#ff9c00 320px,#ff7900 324px,#ff8c00 328px,#ffa300 332px,#ff9b00 336px,#ff9200 340px,#ff9100 344px,#ff9000 348px,#ff9300 352px,#ff9a00 356px,#ffa400 360px,#ffca00 364px,#fff000 368px,#f2ff0d 372px,#eeff11 376px,#ebff14 380px,#e2ff1d 384px,#b7ff48 388px,#8cff73 392px,#61ff9e 396px,#6aff95 400px,#76ff89 404px,#79ff86 408px,#73ff8c 412px,#75ff8a 416px,#85ff7a 420px,#96ff69 424px,#a6ff59 428px,#b0ff4f 432px,#baff45 436px,#c3ff3c 440px,#c5ff3a 444px,#c7ff38 448px,#c8ff37 450px)"></div><div style="top:76.0px;height:2.0px;background:linear-gradient(90deg,#f9ff06 0px,#f9ff06 4px,#f9ff06 8px,#f9ff06 12px,#f9ff06 16px,#f9ff06 20px,#f9ff06 24px,#f9ff06 28px,#f9ff06 32px,#f9ff06 36px,#f9ff06 40px,#f9ff06 44px,#f9ff06 48px,#f9ff06 52px,#f9ff06 56px,#f9ff06 60px,#f9ff06 64px,#f9ff06 68px,#f9ff06 72px,#f9ff06 76px,#f9ff06 80px,#f9ff06 84px,#f9ff06 88px,#f9ff06 92px,#f9ff06 96px,#f9ff06 100px,#f9ff06 104px,#feff01 108px,#fffa00 112px,#fff900 116px,#fff900 120px,#fff900 124px,#fff900 128px,#fffa00 132px,#fffc00 136px,#fffd00 140px,#fffd00 144px,#fffd00 148px,#fffc00 152px,#fffc00 156px,#fdff02 160px,#f9ff06 164px,#f8ff07 168px,#fdff02 172px,#fffb00 176px,#fffb00 180px,#fffb00 184px,#fcff03 188px,#f4ff0b 192px,#f2ff0d 196px,#fbff04 200px,#fff900 204px,#fff500 208px,#fff500 212px,#fff500 216px,#fff000 220px,#ffeb00 224px,#ffe800 228px,#ffe800 232px,#ffde00 236px,#ffca00 240px,#ffc300 244px,#ffd200 248px,#ffe200 252px,#ffca00 256px,#ffae00 260px,#ffa000 264px,#ffa500 268px,#ffaf00 272px,#ffc300 276px,#ffd700 280px,#ffe400 284px,#ffca00 288px,#ffb100 292px,#ffa900 296px,#ffaa00 300px,#ffc300 304px,#ffdb00 308px,#ffcc00 312px,#ffb400 316px,#ff8f00 320px,#ff6400 324px,#ff7c00 328px,#ff9a00 332px,#ff8f00 336px,#ff8200 340px,#ff8100 344px,#ff8000 348px,#ff8300 352px,#ff8900 356px,#ff9400 360px,#ffc000 364px,#ffec00 368px,#f1ff0e 372px,#ecff13 376px,#e7ff18 380px,#deff21 384px,#b5ff4a 388px,#8cff73 392px,#63ff9c 396px,#69ff96 400px,#73ff8c 404px,#74ff8b 408px,#6eff91 412px,#71ff8e 416px,#83ff7c 420px,#94ff6b 424px,#a6ff59 428px,#afff50 432px,#b6ff49 436px,#bdff42 440px,#c1ff3e 444px,#c4ff3b 448px,#c5ff3a 450px)"></div><div style="top:78.0px;height:2.0px;background:linear-gradient(90deg,#feff01 0px,#feff01 4px,#feff01 8px,#feff01 12px,#feff01 16px,#feff01 20px,#feff01 24px,#feff01 28px,#feff01 32px,#feff01 36px,#feff01 40px,#feff01 44px,#feff01 48px,#feff01 52px,#feff01 56px,#feff01 60px,#feff01 64px,#feff01 68px,#feff01 72px,#feff01 76px,#feff01 80px,#feff01 84px,#feff01 88px,#feff01 92px,#feff01 96px,#feff01 100px,#feff01 104px,#fff600 108px,#ffeb00 112px,#ffe900 116px,#ffe900 120px,#ffe900 124px,#ffe900 128px,#ffec00 132px,#fff200 136px,#fff700 140px,#fff700 144px,#fff500 148px,#fff300 152px,#fff100 156px,#fff400 160px,#fff700 164px,#fff700 168px,#fff100 172px,#ffec00 176px,#ffec00 180px,#ffec00 184px,#fff600 188px,#fbff04 192px,#f8ff07 196px,#fff900 200px,#ffed00 204px,#ffe700 208px,#ffe700 212px,#ffe700 216px,#ffe600 220px,#ffe400 224px,#ffe300 228px,#ffe100 232px,#ffd600 236px,#ffc100 240px,#ffba00 244px,#ffc800 248px,#ffd700 252px,#ffc000 256px,#ffa600 260px,#ff9900 264px,#ff9d00 268px,#ffa600 272px,#ffba00 276px,#ffcf00 280px,#ffdc00 284px,#ffc200 288px,#ffa900 292px,#ffa200 296px,#ffa400 300px,#ffbb00 304px,#ffd200 308px,#ffc300 312px,#ffac00 316px,#ff8f00 320px,#ff6e00 324px,#ff7f00 328px,#ff9400 332px,#ff8300 336px,#ff7300 340px,#ff7200 344px,#ff7000 348px,#ff7300 352px,#ff7a00 356px,#ff8700 360px,#ffba00 364px,#ffed00 368px,#eaff15 372px,#e3ff1c 376px,#dcff23 380px,#d1ff2e 384px,#adff52 388px,#89ff76 392px,#65ff9a 396px,#69ff96 400px,#70ff8f 404px,#70ff8f 408px,#6aff95 412px,#6dff92 416px,#80ff7f 420px,#93ff6c 424px,#a6ff59 428px,#adff52 432px,#b3ff4c 436px,#b8ff47 440px,#bcff43 444px,#c0ff3f 448px,#c3ff3c 450px)"></div><div style="top:80.0px;height:2.0px;background:linear-gradient(90deg,#fffb00 0px,#fffb00 4px,#fffb00 8px,#fffb00 12px,#fffb00 16px,#fffb00 20px,#fffb00 24px,#fffb00 28px,#fffb00 32px,#fffb00 36px,#fffb00 40px,#fffb00 44px,#fffb00 48px,#fffb00 52px,#fffb00 56px,#fffb00 60px,#fffb00 64px,#fffb00 68px,#fffb00 72px,#fffb00 76px,#fffb00 80px,#fffb00 84px,#fffb00 88px,#fffb00 92px,#fffb00 96px,#fffb00 100px,#fffb00 104px,#ffec00 108px,#ffdc00 112px,#ffd900 116px,#ffd900 120px,#ffd900 124px,#ffd900 128px,#ffde00 132px,#ffe800 136px,#fff100 140px,#fff100 144px,#ffee00 148px,#ffea00 152px,#ffe700 156px,#ffe800 160px,#ffea00 164px,#ffe800 168px,#ffe200 172px,#ffdd00 176px,#ffdd00 180px,#ffdd00 184px,#ffeb00 188px,#fffb00 192px,#feff01 196px,#fff000 200px,#ffe000 204px,#ffd800 208px,#ffd800 212px,#ffd800 216px,#ffd800 220px,#ffd700 224px,#ffd700 228px,#ffd800 232px,#ffcd00 236px,#ffb600 240px,#ffad00 244px,#ffbc00 248px,#ffcc00 252px,#ffb700 256px,#ff9f00 260px,#ff9200 264px,#ff9400 268px,#ff9c00 272px,#ffb100 276px,#ffc600 280px,#ffd400 284px,#ffb900 288px,#ff9f00 292px,#ff9b00 296px,#ff9d00 300px,#ffb300 304px,#ffc800 308px,#ffba00 312px,#ffa300 316px,#ff8e00 320px,#ff7800 324px,#ff8100 328px,#ff8d00 332px,#ff7800 336px,#ff6600 340px,#ff6300 344px,#ff6000 348px,#ff6400 352px,#ff6c00 356px,#ff7a00 360px,#ffb500 364px,#ffef00 368px,#e3ff1c 372px,#daff25 376px,#d1ff2e 380px,#c5ff3a 384px,#a6ff59 388px,#86ff79 392px,#67ff98 396px,#69ff96 400px,#6dff92 404px,#6cff93 408px,#66ff99 412px,#69ff96 416px,#7dff82 420px,#91ff6e 424px,#a5ff5a 428px,#aeff51 432px,#b4ff4b 436px,#baff45 440px,#beff41 444px,#c3ff3c 448px,#c5ff3a 450px)"></div><div style="top:82.0px;height:2.0px;background:linear-gradient(90deg,#fff600 0px,#fff600 4px,#fff600 8px,#fff600 12px,#fff600 16px,#fff600 20px,#fff600 24px,#fff600 28px,#fff600 32px,#fff600 36px,#fff600 40px,#fff600 44px,#fff600 48px,#fff600 52px,#fff600 56px,#fff600 60px,#fff600 64px,#fff600 68px,#fff600 72px,#fff600 76px,#fff600 80px,#fff600 84px,#fff600 88px,#fff600 92px,#fff600 96px,#fff600 100px,#fff600 104px,#ffe200 108px,#ffcc00 112px,#ffc800 116px,#ffc800 120px,#ffc800 124px,#ffc800 128px,#ffd000 132px,#ffde00 136px,#ffeb00 140px,#ffeb00 144px,#ffe600 148px,#ffdf00 152px,#ffd900 156px,#ffda00 160px,#ffdb00 164px,#ffd900 168px,#ffd300 172px,#ffcc00 176px,#ffcd00 180px,#ffcf00 184px,#ffdf00 188px,#fff300 192px,#fff900 196px,#ffe600 200px,#ffd300 204px,#ffc900 208px,#ffc900 212px,#ffc900 216px,#ffc700 220px,#ffc300 224px,#ffc400 228px,#ffc800 232px,#ffbf00 236px,#ffa900 240px,#ffa000 244px,#ffaf00 248px,#ffbe00 252px,#ffac00 256px,#ff9600 260px,#ff8b00 264px,#ff8c00 268px,#ff9200 272px,#ffa600 276px,#ffb900 280px,#ffc600 284px,#ffae00 288px,#ff9600 292px,#ff9300 296px,#ff9600 300px,#ffa900 304px,#ffbb00 308px,#ffae00 312px,#ff9900 316px,#ff8c00 320px,#ff8200 324px,#ff8300 328px,#ff8500 332px,#ff6d00 336px,#ff5900 340px,#ff5500 344px,#ff5100 348px,#ff5500 352px,#ff5e00 356px,#ff6e00 360px,#ffaf00 364px,#fff100 368px,#dcff23 372px,#d1ff2e 376px,#c6ff39 380px,#b9ff46 384px,#9eff61 388px,#83ff7c 392px,#69ff96 396px,#68ff97 400px,#6aff95 404px,#68ff97 408px,#61ff9e 412px,#65ff9a 416px,#7bff84 420px,#90ff6f 424px,#a5ff5a 428px,#b0ff4f 432px,#b9ff46 436px,#c1ff3e 440px,#c6ff39 444px,#caff35 448px,#cdff32 450px)"></div><div style="top:84.0px;height:2.0px;background:linear-gradient(90deg,#ffec00 0px,#ffec00 4px,#ffec00 8px,#ffec00 12px,#ffec00 16px,#ffed00 20px,#ffef00 24px,#fff000 28px,#ffee00 32px,#ffec00 36px,#ffec00 40px,#ffec00 44px,#ffef00 48px,#fff200 52px,#fff300 56px,#fff000 60px,#ffed00 64px,#ffee00 68px,#fff000 72px,#fff000 76px,#fff000 80px,#fff000 84px,#ffef00 88px,#ffed00 92px,#ffec00 96px,#ffec00 100px,#ffec00 104px,#ffd500 108px,#ffbc00 112px,#ffb600 116px,#ffb600 120px,#ffb600 124px,#ffb600 128px,#ffc100 132px,#ffd400 136px,#ffe500 140px,#ffe500 144px,#ffdc00 148px,#ffd100 152px,#ffc800 156px,#ffca00 160px,#ffcd00 164px,#ffcb00 168px,#ffc300 172px,#ffbb00 176px,#ffbe00 180px,#ffc100 184px,#ffd500 188px,#ffec00 192px,#fff300 196px,#ffdc00 200px,#ffc500 204px,#ffbb00 208px,#ffbb00 212px,#ffbb00 216px,#ffb600 220px,#ffaf00 224px,#ffae00 228px,#ffb200 232px,#ffab00 236px,#ff9900 240px,#ff9200 244px,#ffa000 248px,#ffad00 252px,#ff9d00 256px,#ff8a00 260px,#ff8000 264px,#ff8000 268px,#ff8600 272px,#ff9600 276px,#ffa600 280px,#ffb100 284px,#ff9e00 288px,#ff8c00 292px,#ff8b00 296px,#ff8e00 300px,#ff9d00 304px,#ffab00 308px,#ffa000 312px,#ff8e00 316px,#ff8600 320px,#ff8100 324px,#ff7f00 328px,#ff7c00 332px,#ff6100 336px,#ff4b00 340px,#ff4600 344px,#ff4100 348px,#ff4500 352px,#ff5000 356px,#ff6200 360px,#ffaa00 364px,#fff200 368px,#d6ff29 372px,#caff35 376px,#bfff40 380px,#b2ff4d 384px,#9bff64 388px,#85ff7a 392px,#6fff90 396px,#6dff92 400px,#6dff92 404px,#6bff94 408px,#65ff9a 412px,#69ff96 416px,#7eff81 420px,#93ff6c 424px,#a8ff57 428px,#b4ff4b 432px,#bfff40 436px,#c9ff36 440px,#ceff31 444px,#d2ff2d 448px,#d4ff2b 450px)"></div><div style="top:86.0px;height:2.0px;background:linear-gradient(90deg,#ffde00 0px,#ffde00 4px,#ffde00 8px,#ffde00 12px,#ffde00 16px,#ffe200 20px,#ffe700 24px,#ffe900 28px,#ffe400 32px,#ffde00 36px,#ffde00 40px,#ffde00 44px,#ffe700 48px,#fff000 52px,#fff100 56px,#ffe900 60px,#ffdf00 64px,#ffe200 68px,#ffe800 72px,#ffea00 76px,#ffea00 80px,#ffe800 84px,#ffe500 88px,#ffe100 92px,#ffde00 96px,#ffde00 100px,#ffde00 104px,#ffc600 108px,#ffad00 112px,#ffa700 116px,#ffa700 120px,#ffa700 124px,#ffa700 128px,#ffb400 132px,#ffca00 136px,#ffde00 140px,#ffde00 144px,#ffd300 148px,#ffc300 152px,#ffb700 156px,#ffbb00 160px,#ffbf00 164px,#ffbd00 168px,#ffb400 172px,#ffaa00 176px,#ffae00 180px,#ffb300 184px,#ffca00 188px,#ffe500 192px,#ffec00 196px,#ffd100 200px,#ffb500 204px,#ffa800 208px,#ffa800 212px,#ffa800 216px,#ffa300 220px,#ff9b00 224px,#ff9a00 228px,#ff9d00 232px,#ff9800 236px,#ff8900 240px,#ff8400 244px,#ff9000 248px,#ff9c00 252px,#ff8c00 256px,#ff7a00 260px,#ff7000 264px,#ff7200 268px,#ff7800 272px,#ff8600 276px,#ff9300 280px,#ff9d00 284px,#ff8f00 288px,#ff8100 292px,#ff8100 296px,#ff8400 300px,#ff8f00 304px,#ff9a00 308px,#ff9100 312px,#ff8400 316px,#ff7b00 320px,#ff7400 324px,#ff7300 328px,#ff7200 332px,#ff5600 336px,#ff3e00 340px,#ff3800 344px,#ff3100 348px,#ff3600 352px,#ff4200 356px,#ff5600 360px,#ffa400 364px,#fff200 368px,#d1ff2e 372px,#c6ff39 376px,#bbff44 380px,#b0ff4f 384px,#9dff62 388px,#8bff74 392px,#79ff86 396px,#78ff87 400px,#78ff87 404px,#76ff89 408px,#71ff8e 412px,#76ff89 416px,#88ff77 420px,#9bff64 424px,#adff52 428px,#baff45 432px,#c5ff3a 436px,#d1ff2e 440px,#d5ff2a 444px,#daff25 448px,#dcff23 450px)"></div><div style="top:88.0px;height:2.0px;background:linear-gradient(90deg,#ffcf00 0px,#ffcf00 4px,#ffcf00 8px,#ffcf00 12px,#ffcf00 16px,#ffd600 20px,#ffde00 24px,#ffe200 28px,#ffd900 32px,#ffd000 36px,#ffcf00 40px,#ffd000 44px,#ffdf00 48px,#ffee00 52px,#ffef00 56px,#ffe100 60px,#ffd200 64px,#ffd700 68px,#ffe100 72px,#ffe400 76px,#ffe400 80px,#ffe100 84px,#ffdb00 88px,#ffd500 92px,#ffcf00 96px,#ffcf00 100px,#ffcf00 104px,#ffb800 108px,#ff9f00 112px,#ff9b00 116px,#ff9b00 120px,#ff9b00 124px,#ff9b00 128px,#ffa900 132px,#ffc100 136px,#ffd800 140px,#ffd800 144px,#ffca00 148px,#ffb500 152px,#ffa600 156px,#ffac00 160px,#ffb100 164px,#ffb000 168px,#ffa400 172px,#ff9900 176px,#ff9f00 180px,#ffa600 184px,#ffc000 188px,#ffde00 192px,#ffe500 196px,#ffc500 200px,#ffa500 204px,#ff9600 208px,#ff9600 212px,#ff9600 216px,#ff9100 220px,#ff8a00 224px,#ff8800 228px,#ff8a00 232px,#ff8500 236px,#ff7900 240px,#ff7500 244px,#ff7f00 248px,#ff8a00 252px,#ff7b00 256px,#ff6900 260px,#ff6100 264px,#ff6400 268px,#ff6b00 272px,#ff7600 276px,#ff8200 280px,#ff8a00 284px,#ff7f00 288px,#ff7400 292px,#ff7400 296px,#ff7600 300px,#ff8000 304px,#ff8900 308px,#ff8100 312px,#ff7500 316px,#ff6d00 320px,#ff6700 324px,#ff6600 328px,#ff6600 332px,#ff4900 336px,#ff3100 340px,#ff2900 344px,#ff2200 348px,#ff2700 352px,#ff3400 356px,#ff4a00 360px,#ff9e00 364px,#fff300 368px,#ccff33 372px,#c2ff3d 376px,#b8ff47 380px,#adff52 384px,#9fff60 388px,#91ff6e 392px,#83ff7c 396px,#82ff7d 400px,#82ff7d 404px,#81ff7e 408px,#7eff81 412px,#82ff7d 416px,#92ff6d 420px,#a3ff5c 424px,#b3ff4c 428px,#c0ff3f 432px,#ccff33 436px,#d8ff27 440px,#ddff22 444px,#e2ff1d 448px,#e4ff1b 450px)"></div><div style="top:90.0px;height:2.0px;background:linear-gradient(90deg,#ffc100 0px,#ffc000 4px,#ffbf00 8px,#ffc100 12px,#ffc300 16px,#ffcb00 20px,#ffd600 24px,#ffd900 28px,#ffcd00 32px,#ffc100 36px,#ffc100 40px,#ffc500 44px,#ffd800 48px,#ffec00 52px,#ffed00 56px,#ffd900 60px,#ffc400 64px,#ffc900 68px,#ffd700 72px,#ffdb00 76px,#ffdb00 80px,#ffd700 84px,#ffcf00 88px,#ffc700 92px,#ffbf00 96px,#ffc000 100px,#ffc100 104px,#ffab00 108px,#ff9300 112px,#ff8e00 116px,#ff8e00 120px,#ff8e00 124px,#ff8e00 128px,#ff9d00 132px,#ffb700 136px,#ffce00 140px,#ffce00 144px,#ffbe00 148px,#ffa600 152px,#ff9600 156px,#ff9d00 160px,#ffa400 164px,#ffa300 168px,#ff9500 172px,#ff8800 176px,#ff9100 180px,#ff9a00 184px,#ffb700 188px,#ffd700 192px,#ffdf00 196px,#ffba00 200px,#ff9500 204px,#ff8400 208px,#ff8400 212px,#ff8400 216px,#ff7f00 220px,#ff7900 224px,#ff7700 228px,#ff7900 232px,#ff7500 236px,#ff6a00 240px,#ff6600 244px,#ff6f00 248px,#ff7800 252px,#ff6900 256px,#ff5800 260px,#ff5100 264px,#ff5700 268px,#ff5d00 272px,#ff6800 276px,#ff7200 280px,#ff7900 284px,#ff7000 288px,#ff6700 292px,#ff6700 296px,#ff6900 300px,#ff7000 304px,#ff7700 308px,#ff6f00 312px,#ff6300 316px,#ff5d00 320px,#ff5a00 324px,#ff5800 328px,#ff5600 332px,#ff3b00 336px,#ff2300 340px,#ff1b00 344px,#ff1200 348px,#ff1700 352px,#ff2600 356px,#ff3e00 360px,#ff9900 364px,#fff400 368px,#c7ff38 372px,#beff41 376px,#b5ff4a 380px,#abff54 384px,#a1ff5e 388px,#97ff68 392px,#8dff72 396px,#8cff73 400px,#8cff73 404px,#8cff73 408px,#8aff75 412px,#8eff71 416px,#9cff63 420px,#aaff55 424px,#b8ff47 428px,#c5ff3a 432px,#d2ff2d 436px,#dfff20 440px,#e3ff1c 444px,#e8ff17 448px,#eaff15 450px)"></div><div style="top:92.0px;height:2.0px;background:linear-gradient(90deg,#ffb400 0px,#ffb100 4px,#ffae00 8px,#ffb300 12px,#ffb900 16px,#ffc300 20px,#ffcd00 24px,#ffd000 28px,#ffc000 32px,#ffb000 36px,#ffb400 40px,#ffbc00 44px,#ffd200 48px,#ffe800 52px,#ffe900 56px,#ffd000 60px,#ffb400 64px,#ffba00 68px,#ffc900 72px,#ffce00 76px,#ffce00 80px,#ffc900 84px,#ffc000 88px,#ffb700 92px,#ffae00 96px,#ffb100 100px,#ffb400 104px,#ff9b00 108px,#ff8000 112px,#ff7a00 116px,#ff7a00 120px,#ff7a00 124px,#ff7a00 128px,#ff8b00 132px,#ffa700 136px,#ffc100 140px,#ffc100 144px,#ffb000 148px,#ff9600 152px,#ff8500 156px,#ff8e00 160px,#ff9800 164px,#ff9700 168px,#ff8700 172px,#ff7700 176px,#ff8300 180px,#ff9000 184px,#ffaf00 188px,#ffd100 192px,#ffd800 196px,#ffad00 200px,#ff8300 204px,#ff6f00 208px,#ff6f00 212px,#ff6f00 216px,#ff6c00 220px,#ff6700 224px,#ff6600 228px,#ff6800 232px,#ff6400 236px,#ff5a00 240px,#ff5600 244px,#ff5e00 248px,#ff6500 252px,#ff5800 256px,#ff4800 260px,#ff4200 264px,#ff4900 268px,#ff5000 272px,#ff5900 276px,#ff6200 280px,#ff6800 284px,#ff6100 288px,#ff5a00 292px,#ff5a00 296px,#ff5b00 300px,#ff6000 304px,#ff6500 308px,#ff5c00 312px,#ff5000 316px,#ff4d00 320px,#ff4d00 324px,#ff4a00 328px,#ff4600 332px,#ff2c00 336px,#ff1600 340px,#ff0d00 344px,#ff0400 348px,#ff0900 352px,#ff1900 356px,#ff3200 360px,#ff9300 364px,#fff400 368px,#c3ff3c 372px,#baff45 376px,#b2ff4d 380px,#a9ff56 384px,#a3ff5c 388px,#9dff62 392px,#97ff68 396px,#97ff68 400px,#97ff68 404px,#96ff69 408px,#96ff69 412px,#9aff65 416px,#a6ff59 420px,#b2ff4d 424px,#beff41 428px,#cbff34 432px,#d7ff28 436px,#e4ff1b 440px,#e9ff16 444px,#edff12 448px,#efff10 450px)"></div><div style="top:94.0px;height:2.0px;background:linear-gradient(90deg,#ffa700 0px,#ffa200 4px,#ff9d00 8px,#ffa600 12px,#ffb000 16px,#ffba00 20px,#ffc500 24px,#ffc600 28px,#ffb300 32px,#ffa000 36px,#ffa700 40px,#ffb400 44px,#ffcd00 48px,#ffe500 52px,#ffe600 56px,#ffc700 60px,#ffa400 64px,#ffaa00 68px,#ffbb00 72px,#ffc100 76px,#ffc100 80px,#ffbb00 84px,#ffb100 88px,#ffa700 92px,#ff9d00 96px,#ffa200 100px,#ffa700 104px,#ff8900 108px,#ff6700 112px,#ff6100 116px,#ff6100 120px,#ff6100 124px,#ff6100 128px,#ff7400 132px,#ff9600 136px,#ffb400 140px,#ffb400 144px,#ffa100 148px,#ff8500 152px,#ff7300 156px,#ff7f00 160px,#ff8b00 164px,#ff8a00 168px,#ff7700 172px,#ff6400 176px,#ff7400 180px,#ff8600 184px,#ffa600 188px,#ffca00 192px,#ffd000 196px,#ffa000 200px,#ff7000 204px,#ff5900 208px,#ff5900 212px,#ff5900 216px,#ff5800 220px,#ff5600 224px,#ff5600 228px,#ff5800 232px,#ff5500 236px,#ff4c00 240px,#ff4900 244px,#ff4e00 248px,#ff5300 252px,#ff4600 256px,#ff3700 260px,#ff3200 264px,#ff3b00 268px,#ff4300 272px,#ff4b00 276px,#ff5300 280px,#ff5800 284px,#ff5100 288px,#ff4b00 292px,#ff4c00 296px,#ff4d00 300px,#ff5000 304px,#ff5300 308px,#ff4a00 312px,#ff3e00 316px,#ff3c00 320px,#ff4000 324px,#ff3b00 328px,#ff3600 332px,#ff2000 336px,#ff0c00 340px,#ff0200 344px,#f60000 348px,#fc0000 352px,#ff0e00 356px,#ff2800 360px,#ff8d00 364px,#fff100 368px,#c3ff3c 372px,#bcff43 376px,#b4ff4b 380px,#adff52 384px,#aaff55 388px,#a7ff58 392px,#a4ff5b 396px,#a5ff5a 400px,#a6ff59 404px,#a7ff58 408px,#a6ff59 412px,#a9ff56 416px,#b4ff4b 420px,#beff41 424px,#c9ff36 428px,#d4ff2b 432px,#deff21 436px,#e9ff16 440px,#eeff11 444px,#f2ff0d 448px,#f5ff0a 450px)"></div><div style="top:96.0px;height:2.0px;background:linear-gradient(90deg,#ff9700 0px,#ff9100 4px,#ff8b00 8px,#ff9600 12px,#ffa400 16px,#ffaf00 20px,#ffba00 24px,#ffba00 28px,#ffa400 32px,#ff8e00 36px,#ff9800 40px,#ffa900 44px,#ffc600 48px,#ffe200 52px,#ffe300 56px,#ffbd00 60px,#ff9300 64px,#ff9a00 68px,#ffae00 72px,#ffb400 76px,#ffb400 80px,#ffae00 84px,#ffa200 88px,#ff9500 92px,#ff8a00 96px,#ff9200 100px,#ff9a00 104px,#ff7600 108px,#ff4f00 112px,#ff4700 116px,#ff4700 120px,#ff4700 124px,#ff4700 128px,#ff5d00 132px,#ff8400 136px,#ffa700 140px,#ffa700 144px,#ff9200 148px,#ff7300 152px,#ff5f00 156px,#ff6e00 160px,#ff7e00 164px,#ff7e00 168px,#ff6600 172px,#ff4f00 176px,#ff6300 180px,#ff7b00 184px,#ff9c00 188px,#ffc000 192px,#ffc400 196px,#ff9000 200px,#ff5b00 204px,#ff4300 208px,#ff4300 212px,#ff4300 216px,#ff4400 220px,#ff4500 224px,#ff4700 228px,#ff4900 232px,#ff4700 236px,#ff3f00 240px,#ff3c00 244px,#ff4000 248px,#ff4500 252px,#ff3700 256px,#ff2700 260px,#ff2300 264px,#ff2d00 268px,#ff3600 272px,#ff3d00 276px,#ff4400 280px,#ff4900 284px,#ff4100 288px,#ff3800 292px,#ff3b00 296px,#ff3e00 300px,#ff4100 304px,#ff4400 308px,#ff3b00 312px,#ff2f00 316px,#ff2e00 320px,#ff3300 324px,#ff2e00 328px,#ff2800 332px,#ff1600 336px,#ff0500 340px,#f70000 344px,#eb0000 348px,#f10000 352px,#ff0500 356px,#ff2200 360px,#ff8600 364px,#ffeb00 368px,#caff35 372px,#c4ff3b 376px,#bdff42 380px,#b7ff48 384px,#b6ff49 388px,#b5ff4a 392px,#b4ff4b 396px,#b8ff47 400px,#bcff43 404px,#bdff42 408px,#baff45 412px,#bcff43 416px,#c6ff39 420px,#cfff30 424px,#d9ff26 428px,#e0ff1f 432px,#e7ff18 436px,#eeff11 440px,#f3ff0c 444px,#f7ff08 448px,#faff05 450px)"></div><div style="top:98.0px;height:2.0px;background:linear-gradient(90deg,#ff8200 0px,#ff7c00 4px,#ff7600 8px,#ff8500 12px,#ff9600 16px,#ffa300 20px,#ffad00 24px,#ffad00 28px,#ff9300 32px,#ff7900 36px,#ff8700 40px,#ff9d00 44px,#ffbc00 48px,#ffdc00 52px,#ffdd00 56px,#ffb100 60px,#ff8000 64px,#ff8800 68px,#ffa000 72px,#ffa700 76px,#ffa700 80px,#ffa000 84px,#ff9100 88px,#ff8300 92px,#ff7600 96px,#ff8100 100px,#ff8d00 104px,#ff6600 108px,#ff3b00 112px,#ff3200 116px,#ff3200 120px,#ff3200 124px,#ff3200 128px,#ff4a00 132px,#ff7500 136px,#ff9b00 140px,#ff9b00 144px,#ff8300 148px,#ff6100 152px,#ff4c00 156px,#ff6100 160px,#ff7600 164px,#ff7600 168px,#ff5800 172px,#ff3a00 176px,#ff5400 180px,#ff7100 184px,#ff9300 188px,#ffb500 192px,#ffb700 196px,#ff7f00 200px,#ff4700 204px,#ff2d00 208px,#ff2d00 212px,#ff2d00 216px,#ff3000 220px,#ff3400 224px,#ff3700 228px,#ff3a00 232px,#ff3800 236px,#ff3100 240px,#ff2e00 244px,#ff3200 248px,#ff3600 252px,#ff2800 256px,#ff1800 260px,#ff1300 264px,#ff1f00 268px,#ff2900 272px,#ff2f00 276px,#ff3600 280px,#ff3a00 284px,#ff3000 288px,#ff2600 292px,#ff2b00 296px,#ff3000 300px,#ff3300 304px,#ff3600 308px,#ff2d00 312px,#ff2000 316px,#ff2000 320px,#ff2600 324px,#ff2100 328px,#ff1b00 332px,#ff0d00 336px,#fc0000 340px,#ed0000 344px,#df0000 348px,#e50000 352px,#fb0000 356px,#ff1b00 360px,#ff8000 364px,#ffe400 368px,#d1ff2e 372px,#cbff34 376px,#c6ff39 380px,#c1ff3e 384px,#c2ff3d 388px,#c3ff3c 392px,#c4ff3b 396px,#caff35 400px,#d1ff2e 404px,#d2ff2d 408px,#cfff30 412px,#cfff30 416px,#d8ff27 420px,#e1ff1e 424px,#e9ff16 428px,#edff12 432px,#f0ff0f 436px,#f4ff0b 440px,#f8ff07 444px,#fdff02 448px,#ffff00 450px)"></div><div style="top:100.0px;height:2.0px;background:linear-gradient(90deg,#ff6d00 0px,#ff6700 4px,#ff6100 8px,#ff7300 12px,#ff8900 16px,#ff9600 20px,#ffa000 24px,#ff9f00 28px,#ff8200 32px,#ff6500 36px,#ff7600 40px,#ff9000 44px,#ffb200 48px,#ffd300 52px,#ffd500 56px,#ffa300 60px,#ff6c00 64px,#ff7600 68px,#ff9200 72px,#ff9b00 76px,#ff9b00 80px,#ff9100 84px,#ff8100 88px,#ff7100 92px,#ff6100 96px,#ff7000 100px,#ff7f00 104px,#ff5600 108px,#ff2700 112px,#ff1e00 116px,#ff1e00 120px,#ff1e00 124px,#ff1e00 128px,#ff3800 132px,#ff6500 136px,#ff8e00 140px,#ff8e00 144px,#ff7400 148px,#ff4f00 152px,#ff3800 156px,#ff5300 160px,#ff6e00 164px,#ff7000 168px,#ff4d00 172px,#ff2a00 176px,#ff4800 180px,#ff6900 184px,#ff8a00 188px,#ffab00 192px,#ffac00 196px,#ff7400 200px,#ff3c00 204px,#ff2200 208px,#ff2300 212px,#ff2400 216px,#ff2600 220px,#ff2900 224px,#ff2b00 228px,#ff2c00 232px,#ff2a00 236px,#ff2400 240px,#ff2100 244px,#ff2400 248px,#ff2700 252px,#ff1900 256px,#ff0900 260px,#ff0600 264px,#ff1400 268px,#ff1f00 272px,#ff2400 276px,#ff2900 280px,#ff2b00 284px,#ff1f00 288px,#ff1400 292px,#ff1b00 296px,#ff2100 300px,#ff2400 304px,#ff2700 308px,#ff1e00 312px,#ff1200 316px,#ff1300 320px,#ff1b00 324px,#ff1500 328px,#ff0e00 332px,#ff0400 336px,#f50000 340px,#e50000 344px,#d40000 348px,#db0000 352px,#f30000 356px,#ff1500 360px,#ff7900 364px,#ffde00 368px,#d8ff27 372px,#d3ff2c 376px,#cfff30 380px,#cbff34 384px,#ceff31 388px,#d1ff2e 392px,#d4ff2b 396px,#ddff22 400px,#e6ff19 404px,#e8ff17 408px,#e3ff1c 412px,#e2ff1d 416px,#eaff15 420px,#f2ff0d 424px,#faff05 428px,#faff05 432px,#faff05 436px,#f9ff06 440px,#fdff02 444px,#fffd00 448px,#fffb00 450px)"></div><div style="top:102.0px;height:2.0px;background:linear-gradient(90deg,#ff5400 0px,#ff4e00 4px,#ff4800 8px,#ff6000 12px,#ff7c00 16px,#ff8a00 20px,#ff9400 24px,#ff9000 28px,#ff6e00 32px,#ff4c00 36px,#ff6300 40px,#ff8500 44px,#ffa800 48px,#ffca00 52px,#ffcc00 56px,#ff9300 60px,#ff5400 64px,#ff6200 68px,#ff8400 72px,#ff9000 76px,#ff9000 80px,#ff8400 84px,#ff7000 88px,#ff5b00 92px,#ff4700 96px,#ff5d00 100px,#ff7200 104px,#ff4900 108px,#ff1b00 112px,#ff1100 116px,#ff1100 120px,#ff1100 124px,#ff1100 128px,#ff2b00 132px,#ff5800 136px,#ff8100 140px,#ff8100 144px,#ff6500 148px,#ff3d00 152px,#ff2500 156px,#ff4500 160px,#ff6600 164px,#ff6a00 168px,#ff4600 172px,#ff2100 176px,#ff3f00 180px,#ff6100 184px,#ff8100 188px,#ffa000 192px,#ffa000 196px,#ff6800 200px,#ff3000 204px,#ff1700 208px,#ff1900 212px,#ff1b00 216px,#ff1e00 220px,#ff2200 224px,#ff2400 228px,#ff2500 232px,#ff2300 236px,#ff1d00 240px,#ff1900 244px,#ff1900 248px,#ff1a00 252px,#ff0c00 256px,#fb0000 260px,#f90000 264px,#ff0b00 268px,#ff1800 272px,#ff1b00 276px,#ff1f00 280px,#ff2000 284px,#ff1400 288px,#ff0900 292px,#ff1200 296px,#ff1900 300px,#ff1a00 304px,#ff1c00 308px,#ff1200 312px,#ff0600 316px,#ff0800 320px,#ff1100 324px,#ff0b00 328px,#ff0400 332px,#fa0000 336px,#ed0000 340px,#dc0000 344px,#cb0000 348px,#d20000 352px,#ec0000 356px,#ff0f00 360px,#ff7200 364px,#ffd500 368px,#e1ff1e 372px,#ddff22 376px,#d9ff26 380px,#d6ff29 384px,#daff25 388px,#deff21 392px,#e2ff1d 396px,#eeff11 400px,#faff05 404px,#fdff02 408px,#f5ff0a 412px,#f3ff0c 416px,#fbff04 420px,#fffa00 424px,#fff200 428px,#fff500 432px,#fffa00 436px,#fffe00 440px,#fffb00 444px,#fff900 448px,#fff700 450px)"></div><div style="top:104.0px;height:2.0px;background:linear-gradient(90deg,#ff3a00 0px,#ff3400 4px,#ff2e00 8px,#ff4d00 12px,#ff7200 16px,#ff8000 20px,#ff8800 24px,#ff8200 28px,#ff5b00 32px,#ff3400 36px,#ff5200 40px,#ff7d00 44px,#ff9d00 48px,#ffbd00 52px,#ffbe00 56px,#ff8000 60px,#ff3c00 64px,#ff4f00 68px,#ff7900 72px,#ff8700 76px,#ff8700 80px,#ff7900 84px,#ff5f00 88px,#ff4600 92px,#ff2e00 96px,#ff4900 100px,#ff6500 104px,#ff4000 108px,#ff1500 112px,#ff0d00 116px,#ff0d00 120px,#ff0d00 124px,#ff0d00 128px,#ff2500 132px,#ff5000 136px,#ff7700 140px,#ff7700 144px,#ff5900 148px,#ff2e00 152px,#ff1500 156px,#ff3a00 160px,#ff5f00 164px,#ff6500 168px,#ff3e00 172px,#ff1700 176px,#ff3600 180px,#ff5900 184px,#ff7700 188px,#ff9500 192px,#ff9400 196px,#ff5c00 200px,#ff2500 204px,#ff0c00 208px,#ff0f00 212px,#ff1200 216px,#ff1700 220px,#ff1b00 224px,#ff1d00 228px,#ff1e00 232px,#ff1b00 236px,#ff1500 240px,#ff1100 244px,#ff0f00 248px,#ff0d00 252px,#fe0000 256px,#ee0000 260px,#ee0000 264px,#ff0300 268px,#ff1100 272px,#ff1300 276px,#ff1500 280px,#ff1500 284px,#ff0900 288px,#fd0000 292px,#ff0900 296px,#ff1200 300px,#ff1200 304px,#ff1300 308px,#ff0a00 312px,#fc0000 316px,#fe0000 320px,#ff0700 324px,#ff0200 328px,#fa0000 332px,#f10000 336px,#e50000 340px,#d30000 344px,#c10000 348px,#ca0000 352px,#e60000 356px,#ff0b00 360px,#ff6b00 364px,#ffcb00 368px,#eeff11 372px,#eaff15 376px,#e6ff19 380px,#e3ff1c 384px,#e7ff18 388px,#ebff14 392px,#efff10 396px,#feff01 400px,#fff000 404px,#ffee00 408px,#fffa00 412px,#fffe00 416px,#fff300 420px,#ffe800 424px,#ffdd00 428px,#ffe400 432px,#ffee00 436px,#fff800 440px,#fff600 444px,#fff400 448px,#fff400 450px)"></div><div style="top:106.0px;height:2.0px;background:linear-gradient(90deg,#ff2900 0px,#ff2300 4px,#ff1d00 8px,#ff4000 12px,#ff6800 16px,#ff7600 20px,#ff7d00 24px,#ff7400 28px,#ff4c00 32px,#ff2300 36px,#ff4500 40px,#ff7400 44px,#ff8f00 48px,#ffaa00 52px,#ffab00 56px,#ff6e00 60px,#ff2a00 64px,#ff4100 68px,#ff6f00 72px,#ff7f00 76px,#ff7f00 80px,#ff6f00 84px,#ff5300 88px,#ff3700 92px,#ff1d00 96px,#ff3a00 100px,#ff5800 104px,#ff3700 108px,#ff1000 112px,#ff0900 116px,#ff0900 120px,#ff0900 124px,#ff0900 128px,#ff2100 132px,#ff4b00 136px,#ff7100 140px,#ff7100 144px,#ff5100 148px,#ff2300 152px,#ff0900 156px,#ff3100 160px,#ff5800 164px,#ff5f00 168px,#ff3700 172px,#ff0e00 176px,#ff2d00 180px,#ff5100 184px,#ff6e00 188px,#ff8900 192px,#ff8700 196px,#ff5000 200px,#ff1900 204px,#ff0100 208px,#ff0600 212px,#ff0a00 216px,#ff0f00 220px,#ff1400 224px,#ff1700 228px,#ff1700 232px,#ff1400 236px,#ff0e00 240px,#ff0900 244px,#ff0500 248px,#ff0000 252px,#f10000 256px,#e10000 260px,#e20000 264px,#f90000 268px,#ff0a00 272px,#ff0b00 276px,#ff0b00 280px,#ff0a00 284px,#fd0000 288px,#f20000 292px,#ff0000 296px,#ff0a00 300px,#ff0a00 304px,#ff0b00 308px,#ff0100 312px,#f40000 316px,#f50000 320px,#fd0000 324px,#f80000 328px,#f10000 332px,#e90000 336px,#dc0000 340px,#ca0000 344px,#b80000 348px,#c20000 352px,#e00000 356px,#ff0600 360px,#ff6300 364px,#ffc000 368px,#fbff04 372px,#f7ff08 376px,#f3ff0c 380px,#f0ff0f 384px,#f4ff0b 388px,#f8ff07 392px,#fcff03 396px,#ffef00 400px,#ffdc00 404px,#ffda00 408px,#ffea00 412px,#fff000 416px,#ffe200 420px,#ffd500 424px,#ffc800 428px,#ffd300 432px,#ffe200 436px,#fff100 440px,#fff100 444px,#fff000 448px,#fff000 450px)"></div></div>
<div class="fld" style="left:37.5px;top:166.0px;width:450.0px;height:107.0px"><div style="top:0.0px;height:2.0px;background:linear-gradient(90deg,#f9f51a 0px,#f4f41d 4px,#eff321 8px,#eaf224 12px,#e4f129 16px,#dcef2e 20px,#d5ee33 24px,#ceec38 28px,#c6eb3e 32px,#c6eb3e 36px,#c6eb3e 40px,#c6eb3e 44px,#c6eb3e 48px,#c6eb3e 52px,#ceec38 56px,#dbef2f 60px,#e8f125 64px,#faf51a 68px,#faf62b 72px,#eaf224 76px,#cfec37 80px,#c2ea40 84px,#bde944 88px,#b7e948 92px,#b2e84c 96px,#a3e657 100px,#7de073 104px,#5bdb90 108px,#3bd7ac 112px,#2fd3bb 116px,#23d0ca 120px,#1bcdd5 124px,#18c9d9 128px,#18c3db 132px,#16bbdf 136px,#15b2e3 140px,#14a9e6 144px,#189fe8 148px,#1e90eb 152px,#2580ee 156px,#2c71ed 160px,#3363e7 164px,#3b55e2 168px,#3d50e0 172px,#3b55e1 176px,#3364e8 180px,#208bec 184px,#15a7e7 188px,#16b6e1 192px,#18c4db 196px,#2ad2c2 200px,#63dd89 204px,#bfea42 208px,#dff02c 212px,#ebf224 216px,#f6f41c 220px,#f3f41e 224px,#ebf224 228px,#e4f128 232px,#dff02c 236px,#d9ee30 240px,#cdec38 244px,#bbe945 248px,#a7e653 252px,#93e362 256px,#7ae075 260px,#64dd88 264px,#4dd99b 268px,#3bd7ab 272px,#34d5b4 276px,#2ed3bc 280px,#27d1c5 284px,#28d1c4 288px,#2ad2c1 292px,#2cd2be 296px,#2ed3bc 300px,#2ed3bc 304px,#2ed3bc 308px,#2ed3bc 312px,#2ed3bc 316px,#2ed3bc 320px,#2ed3bc 324px,#2ed3bc 328px,#2ed3bc 332px,#30d3ba 336px,#33d5b5 340px,#37d5b1 344px,#39d6ae 348px,#3ad7ac 352px,#3dd7a9 356px,#42d8a5 360px,#55db94 364px,#6bde82 368px,#80e170 372px,#b7e948 376px,#e4f129 380px,#f8f51a 384px,#f8f51b 388px,#f7f41b 392px,#e8f126 396px,#d7ee32 400px,#c6eb3e 404px,#c6eb3e 408px,#c6eb3e 412px,#c6eb3e 416px,#ccec39 420px,#daef30 424px,#e7f126 428px,#f5f41c 432px,#fbf63e 436px,#fbf973 440px,#fcfaa0 444px,#fcfbc3 448px,#fcfbd4 450px)"></div><div style="top:2.0px;height:2.0px;background:linear-gradient(90deg,#f9f51a 0px,#f3f41e 4px,#edf222 8px,#e7f126 12px,#e1f02a 16px,#daef2f 20px,#d4ed34 24px,#cdec38 28px,#c6eb3e 32px,#c6eb3e 36px,#c6eb3e 40px,#c6eb3e 44px,#c6eb3e 48px,#c6eb3e 52px,#ceec38 56px,#dbef2f 60px,#e8f125 64px,#faf51a 68px,#faf62b 72px,#eaf224 76px,#cfec37 80px,#c2ea40 84px,#bde944 88px,#b7e948 92px,#b2e84c 96px,#a3e657 100px,#7de073 104px,#5bdb90 108px,#3bd7ac 112px,#2fd3bb 116px,#23d0ca 120px,#1acdd5 124px,#18c8d9 128px,#17c2dc 132px,#16badf 136px,#15b1e3 140px,#15a7e7 144px,#199ee8 148px,#1f8eec 152px,#257fef 156px,#2d70ec 160px,#3461e6 164px,#3c53e0 168px,#3f4ede 172px,#3c53e1 176px,#3363e7 180px,#208bec 184px,#15a7e7 188px,#16b6e1 192px,#18c4db 196px,#2ad2c2 200px,#63dd89 204px,#bfea42 208px,#dff02c 212px,#ebf224 216px,#f6f41c 220px,#f3f41e 224px,#ebf224 228px,#e4f128 232px,#dff02c 236px,#d9ee30 240px,#cdec39 244px,#b9e946 248px,#a4e655 252px,#8fe365 256px,#77df78 260px,#60dc8b 264px,#4ad99e 268px,#3ad6ad 272px,#33d5b5 276px,#2dd3bd 280px,#27d1c5 284px,#28d1c4 288px,#2ad2c1 292px,#2cd2be 296px,#2ed3bc 300px,#2ed3bc 304px,#2ed3bc 308px,#2ed3bc 312px,#2ed3bc 316px,#2ed3bc 320px,#2ed3bc 324px,#2ed3bc 328px,#2ed3bc 332px,#30d3ba 336px,#33d5b5 340px,#37d5b1 344px,#39d6ae 348px,#3ad7ac 352px,#3dd7a9 356px,#42d8a5 360px,#55db94 364px,#6bde82 368px,#80e170 372px,#b7e948 376px,#e4f129 380px,#f8f51a 384px,#f6f41c 388px,#f5f41d 392px,#e6f127 396px,#d6ee32 400px,#c6eb3e 404px,#c6eb3e 408px,#c6eb3e 412px,#c6eb3e 416px,#ccec39 420px,#daef30 424px,#e7f126 428px,#f5f41c 432px,#fbf63d 436px,#fbf86f 440px,#fcfa9c 444px,#fcfbbd 448px,#fcfbcd 450px)"></div><div style="top:4.0px;height:2.0px;background:linear-gradient(90deg,#f9f51a 0px,#f2f31f 4px,#ecf223 8px,#e5f128 12px,#dff02c 16px,#d9ee30 20px,#d2ed35 24px,#ccec39 28px,#c6eb3e 32px,#c6eb3e 36px,#c6eb3e 40px,#c6eb3e 44px,#c6eb3e 48px,#c6eb3e 52px,#ceec38 56px,#dbef2f 60px,#e8f125 64px,#faf51a 68px,#faf62b 72px,#eaf224 76px,#cfec37 80px,#c2ea40 84px,#bde944 88px,#b7e948 92px,#b2e84c 96px,#a3e657 100px,#7de073 104px,#5bdb90 108px,#3bd7ac 112px,#2fd3bb 116px,#23d0ca 120px,#1acdd5 124px,#18c7d9 128px,#17c1dc 132px,#16b8e0 136px,#15afe4 140px,#16a6e7 144px,#1a9ce9 148px,#208dec 152px,#267def 156px,#2d6eec 160px,#365fe6 164px,#3e50df 168px,#404bdd 172px,#3d51e0 176px,#3462e7 180px,#218bec 184px,#15a7e7 188px,#16b6e1 192px,#18c4db 196px,#2ad2c2 200px,#63dd89 204px,#bfea42 208px,#dff02c 212px,#ebf224 216px,#f6f41c 220px,#f3f41e 224px,#ebf224 228px,#e4f128 232px,#dff02c 236px,#d9ee30 240px,#ccec39 244px,#b8e948 248px,#a2e657 252px,#8be267 256px,#73df7a 260px,#5ddc8e 264px,#46d8a1 268px,#38d6af 272px,#33d4b6 276px,#2dd3be 280px,#27d1c5 284px,#28d1c4 288px,#2ad2c1 292px,#2cd2be 296px,#2ed3bc 300px,#2ed3bc 304px,#2ed3bc 308px,#2ed3bc 312px,#2ed3bc 316px,#2ed3bc 320px,#2ed3bc 324px,#2ed3bc 328px,#2ed3bc 332px,#30d3ba 336px,#33d5b5 340px,#37d5b1 344px,#39d6ae 348px,#3ad7ac 352px,#3dd7a9 356px,#42d8a5 360px,#55db94 364px,#6bde82 368px,#80e170 372px,#b7e948 376px,#e4f129 380px,#f7f41b 384px,#f5f41d 388px,#f2f31f 392px,#e4f128 396px,#d5ee33 400px,#c6eb3e 404px,#c6eb3e 408px,#c6eb3e 412px,#c6eb3e 416px,#ccec39 420px,#daef30 424px,#e7f126 428px,#f5f41c 432px,#fbf63b 436px,#fbf86b 440px,#fcfa97 444px,#fcfbb7 448px,#fcfbc6 450px)"></div><div style="top:6.0px;height:2.0px;background:linear-gradient(90deg,#f9f51a 0px,#f1f31f 4px,#eaf224 8px,#e3f029 12px,#dcef2e 16px,#d7ee32 20px,#d1ed36 24px,#ccec39 28px,#c6eb3e 32px,#c6eb3e 36px,#c6eb3e 40px,#c6eb3e 44px,#c6eb3e 48px,#c6eb3e 52px,#ceec38 56px,#dbef2f 60px,#e8f125 64px,#faf51a 68px,#faf62b 72px,#eaf224 76px,#cfec37 80px,#c2ea40 84px,#bde944 88px,#b7e948 92px,#b2e84c 96px,#a3e657 100px,#7de073 104px,#5bdb90 108px,#3bd7ac 112px,#2fd3bb 116px,#23d0ca 120px,#1acdd6 124px,#18c7da 128px,#17bfdd 132px,#16b7e0 136px,#15aee4 140px,#16a4e7 144px,#1a9be9 148px,#208bec 152px,#277cef 156px,#2e6deb 160px,#375de5 164px,#3f4dde 168px,#4249dc 172px,#3e4fdf 176px,#3560e6 180px,#218aec 184px,#15a7e7 188px,#16b6e1 192px,#18c4db 196px,#2ad2c2 200px,#63dd89 204px,#bfea42 208px,#dff02c 212px,#ebf224 216px,#f6f41c 220px,#f3f41e 224px,#ebf224 228px,#e4f128 232px,#dff02c 236px,#d9ee30 240px,#ccec3a 244px,#b6e849 248px,#9fe55a 252px,#87e26a 256px,#70de7d 260px,#59db91 264px,#43d8a4 268px,#37d6b0 272px,#32d4b7 276px,#2cd3be 280px,#27d1c5 284px,#28d1c4 288px,#2ad2c1 292px,#2cd2be 296px,#2ed3bc 300px,#2ed3bc 304px,#2ed3bc 308px,#2ed3bc 312px,#2ed3bc 316px,#2ed3bc 320px,#2ed3bc 324px,#2ed3bc 328px,#2ed3bc 332px,#30d3ba 336px,#33d5b5 340px,#37d5b1 344px,#39d6ae 348px,#3ad7ac 352px,#3dd7a9 356px,#42d8a5 360px,#55db94 364px,#6bde82 368px,#80e170 372px,#b7e948 376px,#e4f129 380px,#f7f41b 384px,#f3f41e 388px,#eff321 392px,#e2f02a 396px,#d4ed34 400px,#c6eb3e 404px,#c6eb3e 408px,#c6eb3e 412px,#c6eb3e 416px,#ccec39 420px,#daef30 424px,#e7f126 428px,#f5f41c 432px,#fbf639 436px,#fbf867 440px,#fcfa91 444px,#fcfbb1 448px,#fcfbbf 450px)"></div><div style="top:8.0px;height:2.0px;background:linear-gradient(90deg,#f9f51a 0px,#f1f320 4px,#e9f225 8px,#e0f02b 12px,#daef30 16px,#d5ee33 20px,#d0ed36 24px,#cbec3a 28px,#c6eb3e 32px,#c6eb3e 36px,#c6eb3e 40px,#c6eb3e 44px,#c6eb3e 48px,#c6eb3e 52px,#ceec38 56px,#dbef2f 60px,#e8f125 64px,#faf51a 68px,#faf62b 72px,#eaf224 76px,#cfec37 80px,#c2ea40 84px,#bde944 88px,#b7e948 92px,#b2e84c 96px,#a3e657 100px,#7de073 104px,#5bdb90 108px,#3bd7ac 112px,#2fd3bb 116px,#23d0ca 120px,#1acdd6 124px,#18c6da 128px,#17bedd 132px,#16b6e1 136px,#14ade5 140px,#17a3e7 144px,#1b99e9 148px,#218aec 152px,#277af0 156px,#2f6beb 160px,#385be4 164px,#404bdd 168px,#4247da 172px,#3f4dde 176px,#355fe6 180px,#218aec 184px,#15a7e7 188px,#16b6e1 192px,#18c4db 196px,#2ad2c2 200px,#63dd89 204px,#bfea42 208px,#dff02c 212px,#ebf224 216px,#f6f41c 220px,#f3f41e 224px,#ebf224 228px,#e4f128 232px,#dff02c 236px,#d9ee30 240px,#cbec3a 244px,#b4e84a 248px,#9ce55c 252px,#83e16d 256px,#6dde80 260px,#56db94 264px,#3fd7a7 268px,#36d5b2 272px,#31d4b8 276px,#2cd2bf 280px,#27d1c5 284px,#28d1c4 288px,#2ad2c1 292px,#2cd2be 296px,#2ed3bc 300px,#2ed3bc 304px,#2ed3bc 308px,#2ed3bc 312px,#2ed3bc 316px,#2ed3bc 320px,#2ed3bc 324px,#2ed3bc 328px,#2ed3bc 332px,#30d3ba 336px,#33d5b5 340px,#37d5b1 344px,#39d6ae 348px,#3ad7ac 352px,#3dd7a9 356px,#42d8a5 360px,#55db94 364px,#6bde82 368px,#80e170 372px,#b7e948 376px,#e4f129 380px,#f6f41c 384px,#f1f31f 388px,#ecf222 392px,#e0f02b 396px,#d3ed34 400px,#c6eb3e 404px,#c6eb3e 408px,#c6eb3e 412px,#c6eb3e 416px,#ccec39 420px,#daef30 424px,#e7f126 428px,#f5f41c 432px,#faf638 436px,#fbf863 440px,#fcfa8b 444px,#fcfaaa 448px,#fcfbb9 450px)"></div><div style="top:10.0px;height:2.0px;background:linear-gradient(90deg,#f9f51a 0px,#f0f320 4px,#e7f126 8px,#deef2d 12px,#d7ee32 16px,#d3ed34 20px,#cfec37 24px,#caeb3a 28px,#c6eb3e 32px,#c6eb3e 36px,#c6eb3e 40px,#c6eb3e 44px,#c6eb3e 48px,#c6eb3e 52px,#ceec38 56px,#dbef2f 60px,#e8f125 64px,#faf51a 68px,#faf62b 72px,#eaf224 76px,#cfec37 80px,#c2ea40 84px,#bde944 88px,#b7e948 92px,#b2e84c 96px,#a3e657 100px,#7de073 104px,#5bdb90 108px,#3bd7ac 112px,#2fd3bb 116px,#23d0ca 120px,#1acdd6 124px,#18c5da 128px,#17bdde 132px,#15b4e2 136px,#14abe5 140px,#17a1e8 144px,#1b98ea 148px,#2188ed 152px,#2879f0 156px,#306aea 160px,#3959e3 164px,#4248dc 168px,#4245d7 172px,#404bdd 176px,#365ee5 180px,#2189ed 184px,#15a7e7 188px,#16b6e1 192px,#18c4db 196px,#2ad2c2 200px,#63dd89 204px,#bfea42 208px,#dff02c 212px,#ebf224 216px,#f6f41c 220px,#f3f41e 224px,#ebf224 228px,#e4f128 232px,#dff02c 236px,#d9ee30 240px,#caeb3a 244px,#b2e84c 248px,#99e45e 252px,#80e170 256px,#69dd83 260px,#53da97 264px,#3cd7aa 268px,#35d5b3 272px,#30d4b9 276px,#2bd2bf 280px,#27d1c5 284px,#28d1c4 288px,#2ad2c1 292px,#2cd2be 296px,#2ed3bc 300px,#2ed3bc 304px,#2ed3bc 308px,#2ed3bc 312px,#2ed3bc 316px,#2ed3bc 320px,#2ed3bc 324px,#2ed3bc 328px,#2ed3bc 332px,#30d3ba 336px,#33d5b5 340px,#37d5b1 344px,#39d6ae 348px,#3ad7ac 352px,#3dd7a9 356px,#42d8a5 360px,#55db94 364px,#6bde82 368px,#80e170 372px,#b7e948 376px,#e4f129 380px,#f6f41c 384px,#f0f320 388px,#eaf224 392px,#deef2c 396px,#d2ed35 400px,#c6eb3e 404px,#c6eb3e 408px,#c6eb3e 412px,#c6eb3e 416px,#ccec39 420px,#daef30 424px,#e7f126 428px,#f5f41c 432px,#faf636 436px,#fbf85f 440px,#fcf985 444px,#fcfaa4 448px,#fcfbb2 450px)"></div><div style="top:12.0px;height:2.0px;background:linear-gradient(90deg,#edf222 0px,#e5f128 4px,#ddef2d 8px,#d5ee33 12px,#cfec37 16px,#cbec3a 20px,#c8eb3c 24px,#c4ea3f 28px,#bfea42 32px,#bfea42 36px,#bfea42 40px,#bfea42 44px,#bfea42 48px,#bfea42 52px,#c8eb3c 56px,#d5ee33 60px,#e1f02b 64px,#f2f31f 68px,#faf51b 72px,#e2f029 76px,#caeb3b 80px,#bbe945 84px,#b6e849 88px,#b1e84d 92px,#abe751 96px,#9ce55b 100px,#77df78 104px,#55db95 108px,#38d6af 112px,#2cd3be 116px,#21cfcd 120px,#19cbd8 124px,#18c3db 128px,#16badf 132px,#15b1e3 136px,#15a8e6 140px,#199ee8 144px,#1d94ea 148px,#2385ed 152px,#2976ef 156px,#3168e9 160px,#3a57e2 164px,#4246d9 168px,#4143d4 172px,#4149dc 176px,#375ce4 180px,#2287ed 184px,#16a5e7 188px,#15b4e2 192px,#18c3db 196px,#29d2c3 200px,#5edc8d 204px,#b6e849 208px,#d7ee31 212px,#e2f02a 216px,#edf222 220px,#ebf224 224px,#e5f128 228px,#e0f02b 232px,#daef30 236px,#d4ed34 240px,#c4ea3f 244px,#a9e752 248px,#8ee365 252px,#75df79 256px,#5fdc8c 260px,#48d9a0 264px,#38d6af 268px,#31d4b9 272px,#2cd2bf 276px,#27d1c5 280px,#22d0cb 284px,#23d0ca 288px,#26d1c7 292px,#28d1c3 296px,#2ad2c1 300px,#2bd2c0 304px,#2bd2c0 308px,#2bd2c0 312px,#2bd2c0 316px,#2bd2c0 320px,#2bd2bf 324px,#2bd2bf 328px,#2cd2bf 332px,#2dd3bd 336px,#31d4b8 340px,#34d5b4 344px,#36d5b1 348px,#38d6af 352px,#3ad6ad 356px,#3cd7aa 360px,#4fda9a 364px,#63dd89 368px,#77df77 372px,#ace750 376px,#daef2f 380px,#ecf222 384px,#e7f126 388px,#e1f02a 392px,#d7ee32 396px,#ccec39 400px,#bfea42 404px,#beea43 408px,#bde944 412px,#bce944 416px,#c3ea3f 420px,#d3ed34 424px,#e2f02a 428px,#f0f320 432px,#faf62b 436px,#fbf752 440px,#fbf974 444px,#fcfa93 448px,#fcfaa0 450px)"></div><div style="top:14.0px;height:2.0px;background:linear-gradient(90deg,#d5ee33 0px,#cfec37 4px,#caeb3a 8px,#c4ea3f 12px,#beea43 16px,#bbe945 20px,#b8e948 24px,#b5e84a 28px,#b2e84c 32px,#b2e84c 36px,#b2e84c 40px,#b2e84c 44px,#b2e84c 48px,#b2e84c 52px,#bae946 56px,#c8eb3c 60px,#d3ed35 64px,#e1f02a 68px,#e9f225 72px,#d4ed34 76px,#bce945 80px,#aee74f 84px,#a9e752 88px,#a3e656 92px,#9ee55a 96px,#8fe365 100px,#6bde82 104px,#49d99f 108px,#34d5b5 112px,#28d1c4 116px,#1cced3 120px,#18c6da 124px,#17bedd 128px,#16b5e1 132px,#14ade5 136px,#17a3e7 140px,#1b99e9 144px,#1f8feb 148px,#2481ee 152px,#2b73ee 156px,#3265e8 160px,#3b54e1 164px,#4244d6 168px,#4141d1 172px,#4247da 176px,#3959e3 180px,#2482ee 184px,#18a1e8 188px,#15b2e3 192px,#18c3db 196px,#27d1c4 200px,#54da95 204px,#a4e655 208px,#c8eb3c 212px,#d1ed36 216px,#daef2f 220px,#dbef2f 224px,#daef2f 228px,#d6ee32 232px,#d0ed36 236px,#caeb3a 240px,#b5e84a 244px,#98e45e 248px,#7de073 252px,#64dd88 256px,#4dd99b 260px,#3ad6ad 264px,#31d4b8 268px,#29d2c2 272px,#24d0c9 276px,#1eced0 280px,#19cdd7 284px,#1acdd5 288px,#1dced1 292px,#21cfcd 296px,#23d0ca 300px,#24d0c9 304px,#24d0c8 308px,#25d0c8 312px,#25d1c7 316px,#26d1c7 320px,#26d1c6 324px,#26d1c6 328px,#27d1c5 332px,#29d1c3 336px,#2cd3be 340px,#30d3ba 344px,#32d4b7 348px,#33d5b5 352px,#35d5b3 356px,#37d6b0 360px,#41d8a6 364px,#53da96 368px,#66dd86 372px,#95e460 376px,#c8eb3c 380px,#daef2f 384px,#d6ee32 388px,#d3ed35 392px,#caeb3b 396px,#beea43 400px,#b2e84c 404px,#afe74e 408px,#ace750 412px,#a9e752 416px,#b0e84d 420px,#c6eb3d 424px,#d7ee32 428px,#e6f127 432px,#f9f51a 436px,#fbf63a 440px,#fbf757 444px,#fbf870 448px,#fcf97c 450px)"></div><div style="top:16.0px;height:2.0px;background:linear-gradient(90deg,#b8e947 0px,#b5e84a 4px,#b1e84c 8px,#ade74f 12px,#aae751 16px,#a9e752 20px,#a7e653 24px,#a6e655 28px,#a4e656 32px,#a4e656 36px,#a4e656 40px,#a4e656 44px,#a4e656 48px,#a4e656 52px,#abe751 56px,#b7e948 60px,#c3ea40 64px,#d0ed36 68px,#d6ee32 72px,#c4ea3f 76px,#ace750 80px,#a1e558 84px,#9be55c 88px,#96e460 92px,#90e364 96px,#81e16f 100px,#5fdc8c 104px,#3dd7a9 108px,#2fd3bb 112px,#23d0ca 116px,#19ccd8 120px,#17c2dc 124px,#16b9df 128px,#15b1e3 132px,#15a8e6 136px,#199ee8 140px,#1d94ea 144px,#218aec 148px,#267def 152px,#2c70ed 156px,#3363e7 160px,#3d52e0 164px,#4142d3 168px,#413fce 172px,#4245d7 176px,#3a56e2 180px,#267eef 184px,#199ce9 188px,#15b0e3 192px,#17c2dc 196px,#26d1c6 200px,#4bd99d 204px,#92e362 208px,#b2e84c 212px,#bce944 216px,#c7eb3d 220px,#cbec3a 224px,#cfec37 228px,#ccec39 232px,#c6eb3d 236px,#beea43 240px,#a6e654 244px,#88e26a 248px,#6cde80 252px,#52da97 256px,#3cd7aa 260px,#33d4b6 264px,#2ad2c2 268px,#22d0cc 272px,#1cced3 276px,#19cad8 280px,#18c3db 284px,#18c5da 288px,#18c9d9 292px,#19cdd7 296px,#1cced3 300px,#1dced1 304px,#1eced0 308px,#1fcfcf 312px,#20cfce 316px,#20cfce 320px,#21cfcd 324px,#21cfcc 328px,#22d0cc 332px,#24d0c9 336px,#28d1c4 340px,#2bd2c0 344px,#2dd3bd 348px,#2fd3bb 352px,#31d4b9 356px,#32d4b6 360px,#39d6ae 364px,#44d8a4 368px,#54da95 372px,#7fe171 376px,#afe74e 380px,#c8eb3c 384px,#c5eb3e 388px,#c3ea40 392px,#b9e947 396px,#aee74e 400px,#a4e656 404px,#9fe559 408px,#9be55c 412px,#96e460 416px,#9de55b 420px,#b5e84a 424px,#cbec3a 428px,#dcef2e 432px,#eef321 436px,#faf523 440px,#fbf63a 444px,#fbf74c 448px,#fbf755 450px)"></div><div style="top:18.0px;height:2.0px;background:linear-gradient(90deg,#97e45f 0px,#97e45f 4px,#97e45f 8px,#97e45f 12px,#97e45f 16px,#97e45f 20px,#97e45f 24px,#97e45f 28px,#97e45f 32px,#97e45f 36px,#97e45f 40px,#97e45f 44px,#97e45f 48px,#97e45f 52px,#9ce55b 56px,#a5e655 60px,#aee74e 64px,#bbe945 68px,#c2ea40 72px,#b0e84d 76px,#9de55b 80px,#93e362 84px,#8ee366 88px,#88e269 92px,#83e16d 96px,#75df79 100px,#54da96 104px,#38d6af 108px,#2ad2c1 112px,#1eced0 116px,#18c7da 120px,#17bdde 124px,#15b4e2 128px,#14ace5 132px,#17a3e7 136px,#1b99e9 140px,#1f8feb 144px,#2385ed 148px,#2878f0 152px,#2e6ceb 156px,#3560e6 160px,#3e4fdf 164px,#4140d1 168px,#413dcb 172px,#4143d5 176px,#3c53e1 180px,#2779f0 184px,#1b98ea 188px,#15aee4 192px,#17c1dc 196px,#25d0c8 200px,#41d8a6 204px,#81e16f 208px,#9ce55b 212px,#a4e655 216px,#ace750 220px,#b7e948 224px,#c1ea41 228px,#c1ea41 232px,#b9e947 236px,#b1e84d 240px,#98e45f 244px,#79e076 248px,#5cdc8e 252px,#40d8a6 256px,#35d5b3 260px,#2cd2bf 264px,#23d0cb 268px,#1bcdd5 272px,#18c8d9 276px,#17c1dc 280px,#16badf 284px,#17bdde 288px,#17c1dc 292px,#18c6da 296px,#19cad8 300px,#19cbd8 304px,#19ccd8 308px,#19cdd7 312px,#1acdd6 316px,#1bced5 320px,#1cced4 324px,#1cced3 328px,#1dced2 332px,#1fcfcf 336px,#23d0ca 340px,#26d1c6 344px,#28d1c4 348px,#2ad2c1 352px,#2cd2bf 356px,#2ed3bc 360px,#33d4b5 364px,#39d6ae 368px,#42d8a5 372px,#6bde82 376px,#96e460 380px,#aee74e 384px,#aee74e 388px,#aee74e 392px,#a7e654 396px,#9fe55a 400px,#97e45f 404px,#90e364 408px,#8ae268 412px,#83e16d 416px,#89e269 420px,#a3e656 424px,#bde944 428px,#d3ed35 432px,#e3f029 436px,#f2f31f 440px,#faf51d 444px,#faf629 448px,#faf62f 450px)"></div><div style="top:20.0px;height:2.0px;background:linear-gradient(90deg,#88e269 0px,#88e269 4px,#88e269 8px,#88e269 12px,#88e269 16px,#88e269 20px,#88e269 24px,#88e269 28px,#88e269 32px,#88e269 36px,#88e269 40px,#88e269 44px,#88e269 48px,#88e269 52px,#8de366 56px,#94e461 60px,#9ce55b 64px,#a7e653 68px,#ade750 72px,#9ce55c 76px,#8be268 80px,#81e16f 84px,#7de073 88px,#78e077 92px,#73df7b 96px,#66dd86 100px,#46d8a1 104px,#33d4b5 108px,#26d1c6 112px,#1acdd6 116px,#17c2dc 120px,#16b8e0 124px,#15b0e3 128px,#15a8e6 132px,#199fe8 136px,#1c95ea 140px,#208bec 144px,#2482ee 148px,#2977ef 152px,#2f6ceb 156px,#3560e6 160px,#3e4fdf 164px,#4140d1 168px,#413dcb 172px,#4143d5 176px,#3c53e0 180px,#2877f0 184px,#1c95ea 188px,#14abe6 192px,#17bfdd 196px,#22cfcc 200px,#3bd7ac 204px,#77df77 208px,#92e363 212px,#9ae45d 216px,#a2e657 220px,#a9e752 224px,#b1e84d 228px,#afe74e 232px,#a7e654 236px,#9fe55a 240px,#86e26b 244px,#6ade82 248px,#4fda9a 252px,#39d6ae 256px,#30d4b9 260px,#27d1c5 264px,#1fcfd0 268px,#19cbd8 272px,#18c4db 276px,#17bdde 280px,#16b6e1 284px,#16b9e0 288px,#17bdde 292px,#17c2dc 296px,#18c6da 300px,#18c7d9 304px,#18c9d9 308px,#19cad8 312px,#19ccd7 316px,#19cdd7 320px,#19cdd7 324px,#1acdd6 328px,#1bcdd5 332px,#1dced2 336px,#20cfcd 340px,#24d0c9 344px,#25d1c7 348px,#27d1c5 352px,#28d1c3 356px,#2ad2c1 360px,#2fd3ba 364px,#35d5b3 368px,#3bd7ac 372px,#61dc8a 376px,#8be268 380px,#a3e656 384px,#a3e656 388px,#a3e656 392px,#9ce55b 396px,#94e461 400px,#8ce267 404px,#85e16c 408px,#7fe170 412px,#7ae075 416px,#7ee071 420px,#97e45f 424px,#b0e84d 428px,#c8eb3c 432px,#d9ee30 436px,#eaf224 440px,#f4f41d 444px,#faf519 448px,#faf51d 450px)"></div><div style="top:22.0px;height:2.0px;background:linear-gradient(90deg,#7be074 0px,#7be074 4px,#7be074 8px,#7be074 12px,#7be074 16px,#7be074 20px,#7be074 24px,#7be074 28px,#7be074 32px,#7be074 36px,#7be074 40px,#7be074 44px,#7be074 48px,#7be074 52px,#7ee071 56px,#84e16d 60px,#8ae268 64px,#93e362 68px,#97e45f 72px,#88e26a 76px,#79e076 80px,#71df7c 84px,#6dde80 88px,#68dd84 92px,#63dd88 96px,#57db93 100px,#3bd7ac 104px,#2ed3bb 108px,#22d0cb 112px,#19cad8 116px,#17bdde 120px,#15b3e2 124px,#14ace5 128px,#17a3e7 132px,#1a9be9 136px,#1e91eb 140px,#2188ed 144px,#257fef 148px,#2a75ef 152px,#2f6bea 156px,#3560e6 160px,#3e4fdf 164px,#4140d1 168px,#413dcb 172px,#4143d5 176px,#3c52e0 180px,#2976ef 184px,#1d93eb 188px,#15a8e6 192px,#17bcde 196px,#1fcfcf 200px,#38d6b0 204px,#6ede7f 208px,#87e26b 212px,#8fe365 216px,#97e45f 220px,#9ce55c 224px,#a0e559 228px,#9de55b 232px,#95e461 236px,#8de366 240px,#77df78 244px,#5cdc8f 248px,#41d8a5 252px,#34d5b5 256px,#2bd2bf 260px,#23d0ca 264px,#1bcdd5 268px,#18c7da 272px,#17c0dc 276px,#16b9df 280px,#15b3e2 284px,#16b5e1 288px,#16b9df 292px,#17bedd 296px,#17c2dc 300px,#18c4db 304px,#18c6da 308px,#18c8d9 312px,#19cad8 316px,#19cbd8 320px,#19cbd8 324px,#19ccd8 328px,#19ccd7 332px,#1acdd5 336px,#1eced1 340px,#21cfcd 344px,#22d0cb 348px,#24d0c9 352px,#25d0c8 356px,#26d1c6 360px,#2cd2bf 364px,#31d4b8 368px,#37d6b1 372px,#58db92 376px,#80e170 380px,#99e45e 384px,#99e45e 388px,#99e45e 392px,#91e363 396px,#89e269 400px,#81e16f 404px,#7be074 408px,#76df78 412px,#70de7d 416px,#75df79 420px,#8be268 424px,#a2e657 428px,#bae946 432px,#d0ed37 436px,#e2f02a 440px,#ecf223 444px,#f0f320 448px,#f3f41e 450px)"></div><div style="top:24.0px;height:2.0px;background:linear-gradient(90deg,#6ede7f 0px,#6ede7f 4px,#6ede7f 8px,#6ede7f 12px,#6ede7f 16px,#6ede7f 20px,#6ede7f 24px,#6ede7f 28px,#6ede7f 32px,#6ede7f 36px,#6ede7f 40px,#6ede7f 44px,#6ede7f 48px,#6ede7f 52px,#71df7d 56px,#75df79 60px,#79e075 64px,#7fe170 68px,#82e16e 72px,#75df79 76px,#69dd83 80px,#62dc8a 84px,#5ddc8e 88px,#58db92 92px,#54da96 96px,#48d9a0 100px,#35d5b3 104px,#2ad2c2 108px,#1eced0 112px,#18c6da 116px,#16b9e0 120px,#15aee4 124px,#15a7e7 128px,#189fe8 132px,#1c97ea 136px,#1f8eec 140px,#2385ed 144px,#267cef 148px,#2b73ee 152px,#306aea 156px,#3560e6 160px,#3e4fdf 164px,#4140d1 168px,#413dcb 172px,#4143d5 176px,#3d52e0 180px,#2a74ee 184px,#1e90eb 188px,#16a6e7 192px,#16badf 196px,#1cced3 200px,#34d5b4 204px,#65dd87 208px,#7de073 212px,#84e16d 216px,#8ce267 220px,#8ee365 224px,#8fe365 228px,#8be268 232px,#83e16e 236px,#7be074 240px,#67dd85 244px,#4eda9b 248px,#39d6ae 252px,#2fd3bb 256px,#27d1c5 260px,#1fcfd0 264px,#19cbd8 268px,#18c3db 272px,#17bcde 276px,#16b6e1 280px,#15afe4 284px,#15b1e3 288px,#16b6e1 292px,#16badf 296px,#17bedd 300px,#17c1dc 304px,#18c3db 308px,#18c5da 312px,#18c8d9 316px,#18c9d9 320px,#18c9d9 324px,#18c9d9 328px,#19cad8 332px,#19ccd8 336px,#1bced4 340px,#1ecfd0 344px,#1fcfcf 348px,#20cfcd 352px,#21cfcc 356px,#23d0cb 360px,#28d1c4 364px,#2dd3bd 368px,#33d4b5 372px,#4eda9a 376px,#77df78 380px,#8ee366 384px,#8ee366 388px,#8ee366 392px,#86e26b 396px,#7fe171 400px,#78e077 404px,#72df7c 408px,#6cde81 412px,#67dd85 416px,#6bde82 420px,#7fe171 424px,#95e460 428px,#ace750 432px,#c6eb3e 436px,#d9ee30 440px,#e3f029 444px,#e7f126 448px,#e9f225 450px)"></div><div style="top:26.0px;height:2.0px;background:linear-gradient(90deg,#62dc8a 0px,#62dc8a 4px,#62dc8a 8px,#62dc8a 12px,#62dc8a 16px,#62dc8a 20px,#62dc8a 24px,#62dc8a 28px,#62dc8a 32px,#62dc8a 36px,#62dc8a 40px,#62dc8a 44px,#62dc8a 48px,#62dc8a 52px,#63dd88 56px,#66dd86 60px,#6ade83 64px,#6ede7f 68px,#6fde7e 72px,#64dd88 76px,#59db91 80px,#52da97 84px,#4dd99b 88px,#48d99f 92px,#44d8a3 96px,#3bd7ac 100px,#30d4ba 104px,#25d0c8 108px,#1acdd5 112px,#17c1dc 116px,#15b4e2 120px,#14aae6 124px,#17a2e8 128px,#1a9be9 132px,#1d93eb 136px,#218aec 140px,#2482ee 144px,#277af0 148px,#2c71ed 152px,#3069ea 156px,#3560e6 160px,#3e4fdf 164px,#4140d1 168px,#413dcb 172px,#4143d5 176px,#3d51e0 180px,#2b72ed 184px,#208dec 188px,#17a3e7 192px,#16b7e0 196px,#19cdd7 200px,#31d4b8 204px,#5cdc8f 208px,#73df7b 212px,#7ae075 216px,#81e16f 220px,#81e16f 224px,#7fe171 228px,#7ae075 232px,#73df7b 236px,#6cde81 240px,#58db92 244px,#3fd7a7 248px,#33d5b5 252px,#2ad2c2 256px,#22d0cb 260px,#1acdd5 264px,#18c7da 268px,#17bfdd 272px,#16b9e0 276px,#15b2e3 280px,#14abe6 284px,#14ade5 288px,#15b2e3 292px,#16b6e1 296px,#16bbdf 300px,#17bdde 304px,#17c0dd 308px,#18c3db 312px,#18c6da 316px,#18c6da 320px,#18c7da 324px,#18c7da 328px,#18c7d9 332px,#18c9d9 336px,#19cdd7 340px,#1cced3 344px,#1dced2 348px,#1dced1 352px,#1eced1 356px,#1fcfd0 360px,#24d0c9 364px,#2ad2c2 368px,#2fd3ba 372px,#45d8a2 376px,#6dde80 380px,#83e16d 384px,#83e16d 388px,#83e16d 392px,#7ce073 396px,#75df79 400px,#6ede7f 404px,#68dd84 408px,#63dd89 412px,#5ddc8e 416px,#61dc8a 420px,#74df7a 424px,#88e26a 428px,#9ee55a 432px,#b9e947 436px,#d1ed36 440px,#dbef2f 444px,#deef2d 448px,#dff02c 450px)"></div><div style="top:28.0px;height:2.0px;background:linear-gradient(90deg,#55db95 0px,#55db95 4px,#55db95 8px,#55db95 12px,#55db95 16px,#55db95 20px,#55db95 24px,#55db95 28px,#55db95 32px,#55db95 36px,#55db95 40px,#55db95 44px,#55db95 48px,#55db95 52px,#56db94 56px,#58db92 60px,#5adb91 64px,#5cdc8e 68px,#5cdc8e 72px,#52da97 76px,#49d99f 80px,#42d8a5 84px,#3dd7a9 88px,#3bd7ac 92px,#39d6ae 96px,#34d5b4 100px,#2ad2c1 104px,#20cfce 108px,#19cad8 112px,#17bdde 116px,#15afe4 120px,#16a4e7 124px,#199de9 128px,#1c96ea 132px,#1f8feb 136px,#2287ed 140px,#257fef 144px,#2977ef 148px,#2d6fec 152px,#3168e9 156px,#3560e6 160px,#3e4fdf 164px,#4140d1 168px,#413dcb 172px,#4143d5 176px,#3d51e0 180px,#2c70ed 184px,#218aec 188px,#18a0e8 192px,#16b5e1 196px,#19cbd8 200px,#2ed3bc 204px,#53da96 208px,#6ade83 212px,#71df7d 216px,#78e077 220px,#75df79 224px,#70de7d 228px,#6ade83 232px,#63dd89 236px,#5cdc8f 240px,#49d99f 244px,#38d6b0 248px,#2ed3bc 252px,#25d0c8 256px,#1dced1 260px,#19cad8 264px,#18c3db 268px,#17bcde 272px,#16b5e1 276px,#15aee4 280px,#15a7e7 284px,#14aae6 288px,#15aee4 292px,#15b3e2 296px,#16b7e0 300px,#16badf 304px,#17bdde 308px,#17c0dc 312px,#18c4db 316px,#18c4db 320px,#18c4db 324px,#18c5db 328px,#18c5db 332px,#18c7da 336px,#19cad8 340px,#19cdd7 344px,#1acdd6 348px,#1acdd6 352px,#1bcdd5 356px,#1bced4 360px,#20cfce 364px,#26d1c7 368px,#2cd2bf 372px,#3cd7aa 376px,#64dd88 380px,#79e075 384px,#79e075 388px,#79e075 392px,#73df7b 396px,#6cde81 400px,#65dd87 404px,#5fdc8c 408px,#59db91 412px,#54da96 416px,#57db93 420px,#6ade83 424px,#7ce073 428px,#90e364 432px,#abe750 436px,#c9eb3b 440px,#d3ed34 444px,#d4ed33 448px,#d5ee33 450px)"></div><div style="top:30.0px;height:2.0px;background:linear-gradient(90deg,#48d99f 0px,#48d99f 4px,#48d99f 8px,#48d99f 12px,#48d99f 16px,#48d99f 20px,#48d99f 24px,#48d99f 28px,#48d99f 32px,#48d99f 36px,#48d99f 40px,#48d99f 44px,#48d99f 48px,#48d99f 52px,#49d99f 56px,#49d99f 60px,#4ad99e 64px,#4bd99d 68px,#4ad99e 72px,#41d8a6 76px,#3bd7ac 80px,#38d6af 84px,#36d5b1 88px,#34d5b4 92px,#32d4b6 96px,#2ed3bc 100px,#25d0c8 104px,#1cced4 108px,#18c6da 112px,#16b9e0 116px,#14aae6 120px,#189fe8 124px,#1b98ea 128px,#1e92eb 132px,#208bec 136px,#2483ee 140px,#277cef 144px,#2a74ee 148px,#2e6eec 152px,#3167e9 156px,#3560e6 160px,#3e4fdf 164px,#4140d1 168px,#413dcb 172px,#4143d5 176px,#3d50e0 180px,#2e6eec 184px,#2288ed 188px,#199de9 192px,#15b2e2 196px,#18c8d9 200px,#2bd2c0 204px,#4ad99e 208px,#60dc8b 212px,#67dd85 216px,#6ede7f 220px,#6ade83 224px,#62dc8a 228px,#5adb90 232px,#53da96 236px,#4cd99c 240px,#3bd7ab 244px,#32d4b7 248px,#29d1c3 252px,#20cfcf 256px,#19cdd7 260px,#18c6da 264px,#17bfdd 268px,#16b8e0 272px,#15b1e3 276px,#14aae6 280px,#17a3e7 284px,#16a5e7 288px,#14aae6 292px,#15afe4 296px,#15b3e2 300px,#16b7e1 304px,#16badf 308px,#17bedd 312px,#17c1dc 316px,#17c2dc 320px,#17c2dc 324px,#17c2dc 328px,#17c2dc 332px,#18c4db 336px,#18c8d9 340px,#19cbd8 344px,#19cbd8 348px,#19cbd8 352px,#19cbd8 356px,#19cbd8 360px,#1cced3 364px,#22d0cb 368px,#28d1c4 372px,#38d6af 376px,#5adb90 380px,#70de7e 384px,#70de7e 388px,#70de7e 392px,#69dd83 396px,#62dc89 400px,#5bdb8f 404px,#56db94 408px,#50da99 412px,#4ad99e 416px,#4dd99b 420px,#5fdc8c 424px,#70de7d 428px,#82e16e 432px,#9ee55a 436px,#beea43 440px,#cbec3a 444px,#cbec3a 448px,#cbec3a 450px)"></div><div style="top:32.0px;height:2.0px;background:linear-gradient(90deg,#3ad6ad 0px,#3ad6ad 4px,#3ad6ad 8px,#3ad6ad 12px,#3ad6ad 16px,#3ad6ad 20px,#3ad6ad 24px,#3ad6ad 28px,#3ad6ad 32px,#3ad6ad 36px,#3ad6ad 40px,#3ad6ad 44px,#3ad6ad 48px,#3ad6ad 52px,#3ad6ad 56px,#3ad6ad 60px,#3ad6ad 64px,#3ad6ad 68px,#39d6ad 72px,#36d5b1 76px,#33d5b5 80px,#31d4b8 84px,#30d3ba 88px,#2ed3bc 92px,#2cd2be 96px,#28d1c3 100px,#1fcfcf 104px,#19cbd8 108px,#17c2dc 112px,#16b5e1 116px,#16a5e7 120px,#1a9ae9 124px,#1d94ea 128px,#1f8eec 132px,#2287ed 136px,#2580ee 140px,#2879f0 144px,#2b72ed 148px,#2f6ceb 152px,#3266e8 156px,#3560e6 160px,#3e4fdf 164px,#4140d0 168px,#413dcb 172px,#4143d5 176px,#3e50df 180px,#2e6ceb 184px,#2385ed 188px,#1a9be9 192px,#15b0e4 196px,#18c5db 200px,#27d1c5 204px,#3ed7a8 208px,#54da96 212px,#5adb90 216px,#60dc8b 220px,#5adb90 224px,#51da98 228px,#49d99f 232px,#43d8a4 236px,#3cd7aa 240px,#35d5b3 244px,#2cd3be 248px,#24d0c9 252px,#1bced5 256px,#18c8d9 260px,#17c2dc 264px,#16bbdf 268px,#15b4e2 272px,#15aee4 276px,#15a7e7 280px,#18a0e8 284px,#17a2e8 288px,#15a7e7 292px,#14ace5 296px,#15b1e3 300px,#15b4e2 304px,#16b8e0 308px,#17bcde 312px,#17c0dd 316px,#17c0dc 320px,#17c0dc 324px,#17c0dc 328px,#17c0dc 332px,#17c2dc 336px,#18c6da 340px,#18c9d9 344px,#18c9d9 348px,#18c9d9 352px,#18c9d9 356px,#18c9d9 360px,#1acdd6 364px,#1fcfcf 368px,#24d0c8 372px,#34d5b5 376px,#4dd99b 380px,#62dc8a 384px,#62dc8a 388px,#62dc8a 392px,#5cdc8f 396px,#55db94 400px,#4fda9a 404px,#49d99f 408px,#44d8a3 412px,#3ed7a8 416px,#41d8a6 420px,#52da97 424px,#63dd89 428px,#74df7a 432px,#8fe365 436px,#afe74e 440px,#bde944 444px,#bde944 448px,#bde944 450px)"></div><div style="top:34.0px;height:2.0px;background:linear-gradient(90deg,#31d4b8 0px,#31d4b8 4px,#31d4b8 8px,#31d4b8 12px,#31d4b8 16px,#31d4b8 20px,#31d4b8 24px,#31d4b8 28px,#31d4b8 32px,#31d4b8 36px,#31d4b8 40px,#31d4b8 44px,#31d4b8 48px,#31d4b8 52px,#31d4b8 56px,#31d4b8 60px,#31d4b8 64px,#31d4b8 68px,#30d4b9 72px,#2ed3bc 76px,#2cd2bf 80px,#2ad2c1 84px,#29d1c3 88px,#27d1c5 92px,#26d1c6 96px,#22d0cb 100px,#1acdd6 104px,#18c6da 108px,#17bdde 112px,#15b0e3 116px,#18a0e8 120px,#1c95ea 124px,#1e90eb 128px,#218bec 132px,#2384ee 136px,#267eef 140px,#2977f0 144px,#2c70ed 148px,#2f6aea 152px,#3364e8 156px,#365ee5 160px,#3f4ede 164px,#4140d0 168px,#413dcb 172px,#4143d5 176px,#3e50df 180px,#2f6beb 184px,#2483ee 188px,#1b98ea 192px,#14ade5 196px,#17c1dc 200px,#22d0cb 204px,#37d6b0 208px,#44d8a3 212px,#49d99f 216px,#4eda9b 220px,#48d9a0 224px,#3ed7a8 228px,#3ad6ac 232px,#38d6af 236px,#36d5b2 240px,#30d3ba 244px,#27d1c5 248px,#1fcfd0 252px,#19cad8 256px,#18c4db 260px,#17bedd 264px,#16b8e0 268px,#15b2e3 272px,#14abe5 276px,#16a4e7 280px,#199de9 284px,#18a0e8 288px,#16a5e7 292px,#14aae6 296px,#15afe4 300px,#15b3e2 304px,#16b7e1 308px,#16badf 312px,#17bedd 316px,#17bfdd 320px,#17bfdd 324px,#17bfdd 328px,#17bfdd 332px,#17c1dc 336px,#18c4db 340px,#18c7da 344px,#18c7da 348px,#18c7da 352px,#18c7da 356px,#18c7da 360px,#19ccd8 364px,#1cced3 368px,#21cfcc 372px,#2fd3bb 376px,#3dd7a9 380px,#4fda9a 384px,#4fda9a 388px,#4fda9a 392px,#4ad99e 396px,#45d8a2 400px,#40d8a7 404px,#3bd7ab 408px,#39d6ae 412px,#37d6b1 416px,#38d6af 420px,#43d8a4 424px,#54da95 428px,#65dd87 432px,#7ee071 436px,#9ee55a 440px,#ace750 444px,#ace750 448px,#ace750 450px)"></div><div style="top:36.0px;height:2.0px;background:linear-gradient(90deg,#28d1c4 0px,#28d1c4 4px,#28d1c4 8px,#28d1c4 12px,#28d1c4 16px,#28d1c4 20px,#28d1c4 24px,#28d1c4 28px,#28d1c4 32px,#28d1c4 36px,#28d1c4 40px,#28d1c4 44px,#28d1c4 48px,#28d1c4 52px,#28d1c4 56px,#28d1c4 60px,#28d1c4 64px,#28d1c4 68px,#28d1c4 72px,#26d1c6 76px,#24d0c9 80px,#23d0ca 84px,#22d0cc 88px,#21cfcd 92px,#20cfce 96px,#1dced2 100px,#18c9d9 104px,#17c1dc 108px,#16b9e0 112px,#14ace5 116px,#1a9be9 120px,#1e91eb 124px,#208cec 128px,#2287ed 132px,#2481ee 136px,#277bef 140px,#2a75ef 144px,#2d6fec 148px,#3069ea 152px,#3363e7 156px,#375ce5 160px,#3f4dde 164px,#4140d0 168px,#413dcb 172px,#4143d5 176px,#3e50df 180px,#306aea 184px,#2481ee 188px,#1c96ea 192px,#14aae6 196px,#17bdde 200px,#1dced1 204px,#32d4b7 208px,#39d6ae 212px,#3ad7ac 216px,#3cd7aa 220px,#39d6ae 224px,#35d5b2 228px,#33d4b6 232px,#31d4b8 236px,#30d4ba 240px,#2ad2c1 244px,#22d0cc 248px,#1acdd6 252px,#18c6da 256px,#17c0dc 260px,#16badf 264px,#16b5e1 268px,#15afe4 272px,#15a8e6 276px,#17a2e8 280px,#1a9be9 284px,#199ee8 288px,#17a3e7 292px,#15a9e6 296px,#15aee4 300px,#15b1e3 304px,#16b5e1 308px,#16b9e0 312px,#17bdde 316px,#17bdde 320px,#17bdde 324px,#17bdde 328px,#17bdde 332px,#17bfdd 336px,#18c3db 340px,#18c6da 344px,#18c6da 348px,#18c6da 352px,#18c6da 356px,#18c6da 360px,#19cad8 364px,#1acdd6 368px,#1ecfd0 372px,#2ad2c1 376px,#36d5b2 380px,#3cd7aa 384px,#3cd7aa 388px,#3cd7aa 392px,#3bd7ac 396px,#39d6ae 400px,#38d6b0 404px,#35d5b3 408px,#33d4b5 412px,#31d4b8 416px,#32d4b7 420px,#39d6ae 424px,#45d8a2 428px,#56db94 432px,#70de7e 436px,#8de366 440px,#9be55c 444px,#9be55c 448px,#9be55c 450px)"></div><div style="top:38.0px;height:2.0px;background:linear-gradient(90deg,#1fcfcf 0px,#1fcfcf 4px,#1fcfcf 8px,#1fcfcf 12px,#1fcfcf 16px,#1fcfcf 20px,#1fcfcf 24px,#1fcfcf 28px,#1fcfcf 32px,#1fcfcf 36px,#1fcfcf 40px,#1fcfcf 44px,#1fcfcf 48px,#1fcfcf 52px,#1fcfcf 56px,#1fcfcf 60px,#1fcfcf 64px,#1fcfcf 68px,#1fcfd0 72px,#1eced1 76px,#1cced3 80px,#1cced4 84px,#1bced5 88px,#1acdd5 92px,#1acdd6 96px,#19cbd8 100px,#18c3db 104px,#17bcde 108px,#15b4e2 112px,#15a7e7 116px,#1c97ea 120px,#208cec 124px,#2288ed 128px,#2384ee 132px,#257eef 136px,#2878f0 140px,#2b73ee 144px,#2e6deb 148px,#3167e9 152px,#3461e7 156px,#385be4 160px,#404cde 164px,#4140cf 168px,#413dcb 172px,#4143d5 176px,#3e4fdf 180px,#3069ea 184px,#257fef 188px,#1d93eb 192px,#15a7e7 196px,#16badf 200px,#19cdd7 204px,#2cd2bf 208px,#32d4b6 212px,#33d5b5 216px,#34d5b4 220px,#32d4b7 224px,#2ed3bc 228px,#2cd2bf 232px,#2bd2c0 236px,#2ad2c1 240px,#24d0c9 244px,#1dced2 248px,#18c9d9 252px,#17c1dc 256px,#17bcde 260px,#16b7e1 264px,#15b1e3 268px,#14ace5 272px,#16a6e7 276px,#189fe8 280px,#1b99e9 284px,#1a9ce9 288px,#17a1e8 292px,#15a7e7 296px,#14ace5 300px,#15b0e3 304px,#15b4e2 308px,#16b7e0 312px,#16bbdf 316px,#17bcde 320px,#17bcde 324px,#17bcde 328px,#17bcde 332px,#17bede 336px,#17c1dc 340px,#18c4db 344px,#18c4db 348px,#18c4db 352px,#18c4db 356px,#18c4db 360px,#18c8d9 364px,#19cbd8 368px,#1bced4 372px,#25d1c7 376px,#2fd3ba 380px,#35d5b3 384px,#35d5b3 388px,#35d5b3 392px,#34d5b5 396px,#33d4b6 400px,#32d4b7 404px,#2fd3ba 408px,#2dd3bd 412px,#2bd2c0 416px,#2cd2be 420px,#33d4b6 424px,#3ad6ad 428px,#47d9a0 432px,#61dc8b 436px,#7de072 440px,#8ae268 444px,#8ae268 448px,#8ae268 450px)"></div><div style="top:40.0px;height:2.0px;background:linear-gradient(90deg,#19cad8 0px,#19cad8 4px,#19cad8 8px,#19cad8 12px,#19cad8 16px,#19cad8 20px,#19cad8 24px,#19cad8 28px,#19cad8 32px,#19cad8 36px,#19cad8 40px,#19cad8 44px,#19cad8 48px,#19cad8 52px,#19cad8 56px,#19cad8 60px,#19cad8 64px,#19cad8 68px,#19cad8 72px,#18c9d9 76px,#18c9d9 80px,#18c8d9 84px,#18c8d9 88px,#18c8d9 92px,#18c7d9 96px,#18c5da 100px,#17bede 104px,#16b7e1 108px,#15afe4 112px,#17a2e8 116px,#1e92eb 120px,#2287ed 124px,#2384ee 128px,#2580ee 132px,#277bef 136px,#2976ef 140px,#2c71ed 144px,#2f6ceb 148px,#3266e8 152px,#3560e6 156px,#3959e3 160px,#404bdd 164px,#413fcf 168px,#413dcb 172px,#4143d5 176px,#3e4fdf 180px,#3168e9 184px,#267def 188px,#1e91eb 192px,#16a4e7 196px,#16b6e1 200px,#18c8d9 204px,#26d1c6 208px,#2cd2be 212px,#2dd3be 216px,#2dd3bd 220px,#2ad2c1 224px,#26d1c6 228px,#25d0c8 232px,#24d0c9 236px,#24d0c9 240px,#1ecfd0 244px,#19cbd8 248px,#18c4db 252px,#17bdde 256px,#16b8e0 260px,#15b3e2 264px,#15aee4 268px,#14a9e6 272px,#17a3e7 276px,#199ce9 280px,#1c96ea 284px,#1b9ae9 288px,#189fe8 292px,#16a5e7 296px,#14abe6 300px,#15aee4 304px,#15b2e3 308px,#16b6e1 312px,#16badf 316px,#16badf 320px,#16badf 324px,#16badf 328px,#16badf 332px,#17bcde 336px,#17c0dd 340px,#18c3db 344px,#18c3db 348px,#18c3db 352px,#18c3db 356px,#18c3db 360px,#18c6da 364px,#18c9d9 368px,#19ccd7 372px,#21cfcd 376px,#29d2c3 380px,#2dd3bd 384px,#2dd3bd 388px,#2dd3bd 392px,#2dd3be 396px,#2cd2be 400px,#2cd2bf 404px,#29d2c2 408px,#27d1c5 412px,#25d0c8 416px,#26d1c6 420px,#2dd3bd 424px,#34d5b5 428px,#3ad7ac 432px,#52da97 436px,#6ede7f 440px,#7ae075 444px,#7ae075 448px,#7ae075 450px)"></div><div style="top:42.0px;height:2.0px;background:linear-gradient(90deg,#17c1dc 0px,#17c1dc 4px,#17c1dc 8px,#17c1dc 12px,#17c1dc 16px,#17c1dc 20px,#17c1dc 24px,#17c1dc 28px,#17c1dc 32px,#17c1dc 36px,#17c1dc 40px,#17c1dc 44px,#17c1dc 48px,#17c1dc 52px,#17c1dc 56px,#17c1dc 60px,#17c1dc 64px,#17c1dc 68px,#17c1dc 72px,#17c1dc 76px,#17c1dc 80px,#17c1dc 84px,#17c1dc 88px,#17c1dc 92px,#17c1dc 96px,#17bfdd 100px,#16b8e0 104px,#15b2e3 108px,#14abe6 112px,#199de9 116px,#208dec 120px,#2483ee 124px,#2580ee 128px,#267cef 132px,#2878f0 136px,#2a73ee 140px,#2d6fec 144px,#306aea 148px,#3364e8 152px,#365ee5 156px,#3958e3 160px,#414add 164px,#413fcf 168px,#413dcb 172px,#4143d5 176px,#3e4fdf 180px,#3167e9 184px,#277cef 188px,#1f8eec 192px,#18a1e8 196px,#15b3e2 200px,#18c4db 204px,#21cfcd 208px,#26d1c7 212px,#26d1c7 216px,#26d1c7 220px,#23d0ca 224px,#1fcfcf 228px,#1eced1 232px,#1eced1 236px,#1eced1 240px,#19cdd7 244px,#18c6da 248px,#17bfdd 252px,#16b9e0 256px,#15b4e2 260px,#15b0e4 264px,#14abe6 268px,#16a6e7 272px,#18a0e8 276px,#1a9ae9 280px,#1d94ea 284px,#1b97ea 288px,#199de9 292px,#17a3e7 296px,#14a9e6 300px,#14ade5 304px,#15b1e3 308px,#15b4e2 312px,#16b8e0 316px,#16b9e0 320px,#16b9e0 324px,#16b9e0 328px,#16b9e0 332px,#16bbdf 336px,#17bedd 340px,#17c1dc 344px,#17c1dc 348px,#17c1dc 352px,#17c1dc 356px,#17c1dc 360px,#18c4db 364px,#18c7da 368px,#18c9d9 372px,#1cced3 376px,#22d0cb 380px,#26d1c7 384px,#26d1c7 388px,#26d1c7 392px,#26d1c7 396px,#26d1c7 400px,#26d1c7 404px,#23d0ca 408px,#21cfcc 412px,#1fcfcf 416px,#20cfce 420px,#27d1c5 424px,#2ed3bc 428px,#34d5b4 432px,#43d8a4 436px,#5fdc8c 440px,#6bde82 444px,#6bde82 448px,#6bde82 450px)"></div><div style="top:44.0px;height:2.0px;background:linear-gradient(90deg,#16b6e1 0px,#16b6e1 4px,#16b6e1 8px,#16b6e1 12px,#16b6e1 16px,#16b6e1 20px,#16b6e1 24px,#16b6e1 28px,#16b6e1 32px,#16b5e1 36px,#16b5e1 40px,#15b4e2 44px,#15b4e2 48px,#15b4e2 52px,#16b5e1 56px,#16b7e1 60px,#16b8e0 64px,#16b9e0 68px,#16badf 72px,#16b9e0 76px,#16b8e0 80px,#16b8e0 84px,#16b8e0 88px,#16b8e0 92px,#16b8e0 96px,#16b6e1 100px,#15b0e4 104px,#14a9e6 108px,#17a3e7 112px,#1c96ea 116px,#2286ed 120px,#267def 124px,#277bef 128px,#2878f0 132px,#2a75ef 136px,#2c70ed 140px,#2e6ceb 144px,#3168e9 148px,#3462e7 152px,#375ce4 156px,#3a56e2 160px,#4149dc 164px,#413fce 168px,#413dcb 172px,#4143d5 176px,#3f4edf 180px,#3265e8 184px,#2879f0 188px,#218aec 192px,#1a9be9 196px,#14ade5 200px,#17bdde 204px,#19cdd6 208px,#1ecfd0 212px,#1ecfd0 216px,#1ecfd0 220px,#1dced2 224px,#1bcdd5 228px,#1acdd6 232px,#19cdd7 236px,#19ccd7 240px,#18c8d9 244px,#17c1dc 248px,#16bbdf 252px,#16b5e1 256px,#15b0e3 260px,#14ace5 264px,#15a7e7 268px,#17a2e8 272px,#1a9ce9 276px,#1c96ea 280px,#1e91eb 284px,#1d94ea 288px,#1a9ae9 292px,#18a0e8 296px,#16a5e7 300px,#14a9e6 304px,#14ade5 308px,#15b1e3 312px,#16b5e1 316px,#16b5e1 320px,#16b5e1 324px,#16b5e1 328px,#16b5e1 332px,#16b6e1 336px,#16b8e0 340px,#16badf 344px,#16badf 348px,#16badf 352px,#16badf 356px,#16badf 360px,#17bcde 364px,#17bfdd 368px,#17c2dc 372px,#18c9d9 376px,#1bced4 380px,#1ecfd0 384px,#1ecfd0 388px,#1ecfd0 392px,#1ecfd0 396px,#1ecfd0 400px,#1ecfd0 404px,#1dced2 408px,#1bced5 412px,#19cdd7 416px,#1acdd5 420px,#21cfcd 424px,#27d1c5 428px,#2dd3bd 432px,#37d5b1 436px,#49d99f 440px,#54da95 444px,#54da95 448px,#54da95 450px)"></div><div style="top:46.0px;height:2.0px;background:linear-gradient(90deg,#14abe5 0px,#14abe5 4px,#14abe5 8px,#14abe5 12px,#14abe5 16px,#14abe5 20px,#14abe5 24px,#14abe5 28px,#14abe5 32px,#14aae6 36px,#15a8e6 40px,#15a7e7 44px,#15a7e7 48px,#15a7e7 52px,#14a9e6 56px,#14ace5 60px,#15afe4 64px,#15b1e3 68px,#15b2e2 72px,#15b1e3 76px,#15afe4 80px,#15afe4 84px,#15afe4 88px,#15afe4 92px,#15afe4 96px,#14ade5 100px,#15a7e7 104px,#18a1e8 108px,#1a9ae9 112px,#1f8eec 116px,#2580ee 120px,#2877f0 124px,#2976ef 128px,#2a74ee 132px,#2c71ed 136px,#2e6dec 140px,#306aea 144px,#3266e9 148px,#3560e6 152px,#385ae4 156px,#3c54e1 160px,#4248dc 164px,#413fce 168px,#413dcb 172px,#4143d5 176px,#3f4ede 180px,#3364e8 184px,#2976ef 188px,#2286ed 192px,#1c96ea 196px,#15a7e7 200px,#16b7e1 204px,#18c6da 208px,#19cbd8 212px,#19cbd8 216px,#19cbd8 220px,#19cbd8 224px,#19cad8 228px,#18c9d9 232px,#18c8d9 236px,#18c7da 240px,#18c3db 244px,#17bdde 248px,#16b7e0 252px,#15b1e3 256px,#14ade5 260px,#15a8e6 264px,#17a3e7 268px,#199ee8 272px,#1b98ea 276px,#1d93eb 280px,#1f8dec 284px,#1e91eb 288px,#1c96ea 292px,#1a9ce9 296px,#18a1e8 300px,#16a5e7 304px,#14a9e6 308px,#14ade5 312px,#15b1e3 316px,#15b2e3 320px,#15b2e3 324px,#15b2e3 328px,#15b2e3 332px,#15b2e3 336px,#15b2e2 340px,#15b2e2 344px,#15b2e2 348px,#15b2e2 352px,#15b2e2 356px,#15b2e2 360px,#16b5e1 364px,#16b8e0 368px,#16bbdf 372px,#17c1dc 376px,#18c8d9 380px,#19cbd8 384px,#19cbd8 388px,#19cbd8 392px,#19cbd8 396px,#19cbd8 400px,#19cbd8 404px,#19cad8 408px,#18c9d9 412px,#18c7d9 416px,#18c9d9 420px,#1bcdd5 424px,#20cfce 428px,#26d1c6 432px,#2fd3bb 436px,#38d6af 440px,#3dd7a9 444px,#3dd7a9 448px,#3dd7a9 450px)"></div><div style="top:48.0px;height:2.0px;background:linear-gradient(90deg,#189fe8 0px,#189fe8 4px,#189fe8 8px,#189fe8 12px,#189fe8 16px,#189fe8 20px,#189fe8 24px,#189fe8 28px,#189fe8 32px,#199de9 36px,#1a9be9 40px,#1b99e9 44px,#1b99e9 48px,#1b99e9 52px,#1a9ce9 56px,#18a1e8 60px,#16a5e7 64px,#15a9e6 68px,#14abe6 72px,#15a8e6 76px,#16a6e7 80px,#16a5e7 84px,#16a5e7 88px,#16a5e7 92px,#16a5e7 96px,#17a4e7 100px,#199ee8 104px,#1b98ea 108px,#1e92eb 112px,#2287ed 116px,#2879f0 120px,#2b72ed 124px,#2c71ed 128px,#2c70ed 132px,#2e6eec 136px,#2f6aea 140px,#3167e9 144px,#3364e8 148px,#365ee5 152px,#3958e3 156px,#3d52e0 160px,#4247db 164px,#413ecd 168px,#413dcb 172px,#4143d5 176px,#3f4ede 180px,#3462e7 184px,#2a74ee 188px,#2482ee 192px,#1e90eb 196px,#18a0e8 200px,#15b0e3 204px,#17bfdd 208px,#18c4db 212px,#18c4db 216px,#18c4db 220px,#18c5db 224px,#18c6da 228px,#18c5da 232px,#18c4db 236px,#17c2dc 240px,#17bdde 244px,#16b8e0 248px,#15b3e2 252px,#15aee4 256px,#14a9e6 260px,#16a4e7 264px,#189fe8 268px,#1a9ae9 272px,#1d95ea 276px,#1f8feb 280px,#218aec 284px,#1f8dec 288px,#1d93eb 292px,#1b98ea 296px,#199de9 300px,#18a1e8 304px,#16a5e7 308px,#14a9e6 312px,#14ade5 316px,#15aee4 320px,#15aee4 324px,#15aee4 328px,#15aee4 332px,#14ade5 336px,#14ace5 340px,#14abe5 344px,#14abe5 348px,#14abe5 352px,#14abe5 356px,#14abe5 360px,#15aee4 364px,#15b1e3 368px,#15b3e2 372px,#16badf 376px,#17c0dc 380px,#18c4db 384px,#18c4db 388px,#18c4db 392px,#18c4db 396px,#18c4db 400px,#18c4db 404px,#18c3db 408px,#17c2dc 412px,#17c2dc 416px,#18c3db 420px,#18c8d9 424px,#1acdd6 428px,#1fcfcf 432px,#27d1c5 436px,#30d3ba 440px,#33d5b5 444px,#33d5b5 448px,#33d5b5 450px)"></div><div style="top:50.0px;height:2.0px;background:linear-gradient(90deg,#1d93eb 0px,#1d93eb 4px,#1d93eb 8px,#1d93eb 12px,#1d93eb 16px,#1d93eb 20px,#1d93eb 24px,#1d93eb 28px,#1d93eb 32px,#1e90eb 36px,#208dec 40px,#208bec 44px,#208bec 48px,#208bec 52px,#1f8feb 56px,#1c95ea 60px,#1a9be9 64px,#18a0e8 68px,#17a3e7 72px,#189fe8 76px,#199ce9 80px,#1a9be9 84px,#1a9be9 88px,#1a9be9 92px,#1a9be9 96px,#1b9ae9 100px,#1d94ea 104px,#1f8feb 108px,#218aec 112px,#2580ee 116px,#2b73ee 120px,#2e6ceb 124px,#2e6ceb 128px,#2f6ceb 132px,#306aea 136px,#3167e9 140px,#3265e8 144px,#3462e7 148px,#375ce4 152px,#3a56e2 156px,#3e50df 160px,#4246d9 164px,#413ecd 168px,#413dcb 172px,#4143d5 176px,#3f4dde 180px,#3461e6 184px,#2c71ed 188px,#267eef 192px,#208bec 196px,#1b9ae9 200px,#14aae6 204px,#16b8e0 208px,#17bdde 212px,#17bdde 216px,#17bdde 220px,#17bfdd 224px,#17c2dc 228px,#17c1dc 232px,#17bfdd 236px,#17bcde 240px,#16b8e0 244px,#15b4e2 248px,#15afe4 252px,#14aae6 256px,#16a5e7 260px,#18a0e8 264px,#1a9be9 268px,#1c96ea 272px,#1e91eb 276px,#208cec 280px,#2287ed 284px,#218aec 288px,#1f8feb 292px,#1d94ea 296px,#1b99e9 300px,#199de9 304px,#18a1e8 308px,#16a5e7 312px,#14aae6 316px,#14aae6 320px,#14aae6 324px,#14aae6 328px,#14aae6 332px,#14a9e6 336px,#16a6e7 340px,#17a3e7 344px,#17a3e7 348px,#17a3e7 352px,#17a3e7 356px,#17a3e7 360px,#16a6e7 364px,#14a9e6 368px,#14ace5 372px,#15b3e2 376px,#16b9e0 380px,#17bdde 384px,#17bdde 388px,#17bdde 392px,#17bdde 396px,#17bdde 400px,#17bdde 404px,#17bcde 408px,#17bcde 412px,#17bcde 416px,#17bdde 420px,#17c2dc 424px,#18c7da 428px,#19ccd8 432px,#1fcfcf 436px,#27d1c5 440px,#2ad2c1 444px,#2ad2c1 448px,#2ad2c1 450px)"></div><div style="top:52.0px;height:2.0px;background:linear-gradient(90deg,#2384ee 0px,#2384ee 4px,#2384ee 8px,#2384ee 12px,#2384ee 16px,#2385ed 20px,#2385ed 24px,#2385ed 28px,#2386ed 32px,#2383ee 36px,#2481ee 40px,#2580ee 44px,#2580ee 48px,#2481ee 52px,#2385ed 56px,#208bec 60px,#1e92eb 64px,#1c95ea 68px,#1c97ea 72px,#1e92eb 76px,#1f8dec 80px,#208cec 84px,#208cec 88px,#208cec 92px,#208cec 96px,#218aec 100px,#2286ed 104px,#2482ee 108px,#267eef 112px,#2976ef 116px,#2f6ceb 120px,#3167e9 124px,#3167e9 128px,#3168e9 132px,#3266e9 136px,#3364e8 140px,#3461e6 144px,#365fe5 148px,#3959e3 152px,#3c54e1 156px,#3f4edf 160px,#4245d8 164px,#413ecc 168px,#413dcb 172px,#4143d5 176px,#3f4dde 180px,#3560e6 184px,#2d6fec 188px,#277af0 192px,#2286ed 196px,#1d93eb 200px,#18a1e8 204px,#15aee4 208px,#15b2e2 212px,#15b2e2 216px,#15b2e2 220px,#16b5e1 224px,#16b9df 228px,#16b9df 232px,#16b7e0 236px,#15b4e2 240px,#15b1e3 244px,#14ade5 248px,#15a8e6 252px,#17a3e7 256px,#189fe8 260px,#1a9ae9 264px,#1c95ea 268px,#1e91eb 272px,#208cec 276px,#2288ed 280px,#2483ee 284px,#2386ed 288px,#218aec 292px,#1f8feb 296px,#1d94ea 300px,#1b98ea 304px,#1a9ce9 308px,#18a0e8 312px,#17a4e7 316px,#16a4e7 320px,#16a4e7 324px,#16a4e7 328px,#16a4e7 332px,#17a1e8 336px,#199ce9 340px,#1b99e9 344px,#1b99e9 348px,#1b99e9 352px,#1b99e9 356px,#1b99e9 360px,#1a9be9 364px,#199ee8 368px,#17a2e8 372px,#15a9e6 376px,#15afe4 380px,#15b3e2 384px,#15b3e2 388px,#15b3e2 392px,#15b3e2 396px,#15b3e2 400px,#15b4e2 404px,#15b4e2 408px,#15b4e2 412px,#16b5e1 416px,#16b7e1 420px,#16bbdf 424px,#17c0dd 428px,#18c4db 432px,#19cbd8 436px,#1fcfcf 440px,#23d0cb 444px,#23d0cb 448px,#23d0cb 450px)"></div><div style="top:54.0px;height:2.0px;background:linear-gradient(90deg,#2b72ee 0px,#2b72ee 4px,#2b72ee 8px,#2b72ee 12px,#2b73ee 16px,#2a74ee 20px,#2a75ef 24px,#2976ef 28px,#2977ef 32px,#2977ef 36px,#2977ef 40px,#2877f0 44px,#2879f0 48px,#277af0 52px,#267eef 56px,#2383ee 60px,#2189ed 64px,#2189ed 68px,#2287ed 72px,#2580ee 76px,#2879f0 80px,#2977ef 84px,#2977ef 88px,#2977ef 92px,#2977ef 96px,#2976ef 100px,#2a74ee 104px,#2c71ed 108px,#2d6fec 112px,#306aea 116px,#3363e7 120px,#3561e6 124px,#3462e7 128px,#3364e8 132px,#3463e7 136px,#3560e6 140px,#375ce5 144px,#3959e3 148px,#3b55e2 152px,#3d51e0 156px,#3f4dde 160px,#4245d7 164px,#413dcc 168px,#413dcb 172px,#4143d5 176px,#3f4dde 180px,#365ee5 184px,#2e6ceb 188px,#2976ef 192px,#2481ee 196px,#208cec 200px,#1c96ea 204px,#17a1e8 208px,#16a5e7 212px,#16a5e7 216px,#16a5e7 220px,#15a8e6 224px,#14ade5 228px,#15aee4 232px,#14ace5 236px,#14aae6 240px,#15a7e7 244px,#17a3e7 248px,#199fe8 252px,#1a9ae9 256px,#1c96ea 260px,#1d92eb 264px,#1f8eec 268px,#218aec 272px,#2286ed 276px,#2482ee 280px,#267eef 284px,#2581ee 288px,#2385ed 292px,#2189ed 296px,#208dec 300px,#1e91eb 304px,#1d94ea 308px,#1b98ea 312px,#1a9ce9 316px,#199ce9 320px,#1a9ce9 324px,#1a9be9 328px,#1a9be9 332px,#1b97ea 336px,#1e90eb 340px,#208bec 344px,#208bec 348px,#208bec 352px,#208bec 356px,#208bec 360px,#1f8eec 364px,#1e91eb 368px,#1d94ea 372px,#1a9be9 376px,#17a2e8 380px,#16a6e7 384px,#16a6e7 388px,#16a6e7 392px,#15a7e7 396px,#15a8e6 400px,#14a9e6 404px,#14aae6 408px,#14abe5 412px,#14ace5 416px,#15aee4 420px,#15b3e2 424px,#16b7e0 428px,#17bcde 432px,#18c4db 436px,#19cdd7 440px,#1dced2 444px,#1dced2 448px,#1dced2 450px)"></div><div style="top:56.0px;height:2.0px;background:linear-gradient(90deg,#3461e6 0px,#3461e6 4px,#3461e6 8px,#3461e6 12px,#3462e7 16px,#3363e7 20px,#3265e8 24px,#3167e9 28px,#3168e9 32px,#2f6bea 36px,#2e6deb 40px,#2d6fec 44px,#2b72ed 48px,#2a74ee 52px,#2877f0 56px,#277cef 60px,#2580ee 64px,#267cef 68px,#2878f0 72px,#2d6fec 76px,#3266e8 80px,#3462e7 84px,#3462e7 88px,#3462e7 92px,#3462e7 96px,#3462e7 100px,#3461e7 104px,#3561e6 108px,#3560e6 112px,#365ee5 116px,#385be4 120px,#385be4 124px,#365de5 128px,#3560e6 132px,#365fe6 136px,#385be4 140px,#3958e3 144px,#3b54e1 148px,#3d51e0 152px,#3f4edf 156px,#404bdd 160px,#4244d6 164px,#413dcc 168px,#413dcb 172px,#4143d5 176px,#404cde 180px,#375de5 184px,#306aea 188px,#2b73ee 192px,#267cef 196px,#2384ee 200px,#208cec 204px,#1d94ea 208px,#1c96ea 212px,#1c96ea 216px,#1c96ea 220px,#1a9ae9 224px,#189fe8 228px,#18a1e8 232px,#18a0e8 236px,#199ee8 240px,#1a9ce9 244px,#1b98ea 248px,#1c95ea 252px,#1e91eb 256px,#1f8eec 260px,#218bec 264px,#2287ed 268px,#2384ee 272px,#2580ee 276px,#267def 280px,#277af0 284px,#277cef 288px,#257fef 292px,#2482ee 296px,#2286ed 300px,#218aec 304px,#208dec 308px,#1e91eb 312px,#1d94ea 316px,#1d94ea 320px,#1d94ea 324px,#1d93eb 328px,#1e92eb 332px,#1f8eec 336px,#2384ee 340px,#267def 344px,#267def 348px,#267def 352px,#267def 356px,#267def 360px,#2580ee 364px,#2383ee 368px,#2287ed 372px,#1f8eec 376px,#1d95ea 380px,#1b99e9 384px,#1b99e9 388px,#1b99e9 392px,#1a9ae9 396px,#1a9ce9 400px,#199ee8 404px,#18a0e8 408px,#17a1e8 412px,#17a3e7 416px,#16a6e7 420px,#14abe6 424px,#15afe4 428px,#15b4e2 432px,#17bcde 436px,#18c6da 440px,#19cad8 444px,#19cad8 448px,#19cad8 450px)"></div><div style="top:58.0px;height:2.0px;background:linear-gradient(90deg,#3b54e1 0px,#3b54e1 4px,#3b54e1 8px,#3b54e1 12px,#3b55e1 16px,#3a57e2 20px,#385ae3 24px,#375ce5 28px,#365fe6 32px,#3463e7 36px,#3167e9 40px,#306aea 44px,#2e6deb 48px,#2c70ed 52px,#2b73ee 56px,#2977ef 60px,#277af0 64px,#2a75ef 68px,#2d6fec 72px,#3364e8 76px,#3959e3 80px,#3b55e1 84px,#3b55e1 88px,#3b55e1 92px,#3b54e1 96px,#3b54e1 100px,#3b55e1 104px,#3b55e2 108px,#3b56e2 112px,#3b55e1 116px,#3c54e1 120px,#3b55e1 124px,#3958e3 128px,#375ce4 132px,#385be4 136px,#3a57e2 140px,#3c53e1 144px,#3e4fdf 148px,#3f4dde 152px,#404bdd 156px,#4149dd 160px,#4143d4 164px,#413dcb 168px,#413dcb 172px,#4143d5 176px,#404cde 180px,#375ce4 184px,#3168e9 188px,#2d6fec 192px,#2977f0 196px,#267def 200px,#2482ee 204px,#2286ed 208px,#2288ed 212px,#2288ed 216px,#2288ed 220px,#208cec 224px,#1e92eb 228px,#1d94ea 232px,#1d93eb 236px,#1d93eb 240px,#1e91eb 244px,#1f8eec 248px,#208bec 252px,#2189ed 256px,#2386ed 260px,#2483ee 264px,#2580ee 268px,#267def 272px,#277bef 276px,#2878f0 280px,#2a75ef 284px,#2977ef 288px,#2779f0 292px,#267cef 296px,#257fef 300px,#2483ee 304px,#2286ed 308px,#2189ed 312px,#208dec 316px,#208dec 320px,#208bec 324px,#218aec 328px,#2189ed 332px,#2384ee 336px,#2878f0 340px,#2c70ed 344px,#2c70ed 348px,#2c70ed 352px,#2c70ed 356px,#2c70ed 360px,#2b73ee 364px,#2976ef 368px,#2879f0 372px,#2580ee 376px,#2287ed 380px,#208bec 384px,#208bec 388px,#208bec 392px,#1f8dec 396px,#1e90eb 400px,#1d93eb 404px,#1c95ea 408px,#1c97ea 412px,#1b99e9 416px,#199de9 420px,#17a2e8 424px,#15a7e7 428px,#14abe5 432px,#16b5e1 436px,#17c0dd 440px,#18c4db 444px,#18c4db 448px,#18c4db 450px)"></div><div style="top:60.0px;height:2.0px;background:linear-gradient(90deg,#404bdd 0px,#404bdd 4px,#404bdd 8px,#404bdd 12px,#3f4dde 16px,#3e50df 20px,#3c54e1 24px,#3a57e2 28px,#385be4 32px,#355fe6 36px,#3364e8 40px,#3168e9 44px,#2f6beb 48px,#2e6eec 52px,#2c71ed 56px,#2a74ef 60px,#2878f0 64px,#2b73ee 68px,#2e6deb 72px,#3560e6 76px,#3c53e1 80px,#3f4edf 84px,#3f4ede 88px,#3f4dde 92px,#3f4dde 96px,#3f4dde 100px,#3f4ede 104px,#3e4fdf 108px,#3e50df 112px,#3d51e0 116px,#3d51e0 120px,#3c52e0 124px,#3b55e2 128px,#3959e3 132px,#3a57e2 136px,#3c53e1 140px,#3f4edf 144px,#414add 148px,#4149dc 152px,#4248dc 156px,#4248dc 160px,#4142d3 164px,#413dcb 168px,#413dcb 172px,#4143d5 176px,#404cde 180px,#385be4 184px,#3265e8 188px,#2f6ceb 192px,#2b72ee 196px,#2976ef 200px,#2877f0 204px,#2879f0 208px,#2779f0 212px,#2779f0 216px,#2779f0 220px,#267eef 224px,#2384ee 228px,#2287ed 232px,#2287ed 236px,#2287ed 240px,#2386ed 244px,#2384ee 248px,#2482ee 252px,#2580ee 256px,#267eef 260px,#267cef 264px,#277af0 268px,#2877f0 272px,#2975ef 276px,#2b73ee 280px,#2c71ed 284px,#2b73ee 288px,#2a75ef 292px,#2877f0 296px,#277af0 300px,#267def 304px,#2580ee 308px,#2483ee 312px,#2286ed 316px,#2385ed 320px,#2384ee 324px,#2483ee 328px,#2481ee 332px,#277bef 336px,#2d6fec 340px,#3266e9 344px,#3266e8 348px,#3266e8 352px,#3266e8 356px,#3265e8 360px,#3168e9 364px,#2f6beb 368px,#2d6eec 372px,#2a74ee 376px,#277af0 380px,#267eef 384px,#267eef 388px,#267eef 392px,#2481ee 396px,#2384ee 400px,#2288ed 404px,#218bec 408px,#1f8dec 412px,#1e90eb 416px,#1d94ea 420px,#1b99e9 424px,#199ee8 428px,#17a3e7 432px,#14ade5 436px,#16b8e0 440px,#17bdde 444px,#17bdde 448px,#17bdde 450px)"></div><div style="top:62.0px;height:2.0px;background:linear-gradient(90deg,#4244d6 0px,#4244d6 4px,#4244d6 8px,#4244d6 12px,#4245d8 16px,#4249dc 20px,#3f4dde 24px,#3d52e0 28px,#3a56e2 32px,#375ce4 36px,#3461e7 40px,#3266e8 44px,#3069ea 48px,#2f6ceb 52px,#2d6fec 56px,#2b72ee 60px,#2976ef 64px,#2c71ed 68px,#306aea 72px,#375ce4 76px,#3f4dde 80px,#4248db 84px,#4247da 88px,#4246d9 92px,#4246d9 96px,#4246d8 100px,#4247db 104px,#4249dc 108px,#414bdd 112px,#3f4dde 116px,#3d51e0 120px,#3c53e1 124px,#3b56e2 128px,#3958e3 132px,#3a56e2 136px,#3d51e0 140px,#404cde 144px,#4247da 148px,#4247da 152px,#4247db 156px,#4247db 160px,#4142d3 164px,#413dcb 168px,#413dcc 172px,#4144d5 176px,#404cde 180px,#385be4 184px,#3364e8 188px,#306aea 192px,#2d70ec 196px,#2b72ed 200px,#2b72ed 204px,#2b72ed 208px,#2c71ed 212px,#2c71ed 216px,#2c70ed 220px,#2a74ee 224px,#2878f0 228px,#277af0 232px,#277af0 236px,#277af0 240px,#277af0 244px,#277af0 248px,#277af0 252px,#2879f0 256px,#2878f0 260px,#2976ef 264px,#2a74ee 268px,#2b73ee 272px,#2c71ed 276px,#2d6fec 280px,#2e6dec 284px,#2d6fec 288px,#2c71ed 292px,#2a74ee 296px,#2976ef 300px,#2878f0 304px,#277bef 308px,#267def 312px,#257fef 316px,#257fef 320px,#267def 324px,#277cef 328px,#277af0 332px,#2a74ee 336px,#3168e9 340px,#355fe6 344px,#365fe5 348px,#365ee5 352px,#365de5 356px,#375de5 360px,#355fe6 364px,#3462e7 368px,#3265e8 372px,#2f6aea 376px,#2d6fec 380px,#2c71ed 384px,#2c71ed 388px,#2c71ed 392px,#2a75ef 396px,#2879f0 400px,#267def 404px,#2580ee 408px,#2383ee 412px,#2287ed 416px,#218bec 420px,#1f90eb 424px,#1d95ea 428px,#1b9ae9 432px,#16a4e7 436px,#15b0e3 440px,#16b5e1 444px,#16b5e1 448px,#16b5e1 450px)"></div><div style="top:64.0px;height:2.0px;background:linear-gradient(90deg,#413fcf 0px,#413fcf 4px,#413fcf 8px,#413fcf 12px,#4141d1 16px,#4245d7 20px,#4248dc 24px,#3f4dde 28px,#3d52e0 32px,#3958e3 36px,#365fe5 40px,#3364e7 44px,#3166e9 48px,#3069ea 52px,#2e6deb 56px,#2c70ed 60px,#2b73ee 64px,#2d6fec 68px,#3168e9 72px,#3a57e2 76px,#4247db 80px,#4143d4 84px,#4142d2 88px,#4141d1 92px,#4140cf 96px,#4140cf 100px,#4142d3 104px,#4244d6 108px,#4246d9 112px,#414add 116px,#3d51e0 120px,#3b55e1 124px,#3a58e2 128px,#385ae3 132px,#3a57e2 136px,#3d51e0 140px,#404bdd 144px,#4246d9 148px,#4246d9 152px,#4247da 156px,#4247db 160px,#4142d3 164px,#413dcc 168px,#413ecd 172px,#4244d6 176px,#3f4dde 180px,#375ce4 184px,#3265e8 188px,#306aea 192px,#2d6fec 196px,#2c71ed 200px,#2c71ed 204px,#2c71ed 208px,#2d6fec 212px,#2e6dec 216px,#2f6beb 220px,#2e6ceb 224px,#2e6dec 228px,#2d6eec 232px,#2d6eec 236px,#2d6eec 240px,#2d6fec 244px,#2c70ed 248px,#2c71ed 252px,#2b72ee 256px,#2c71ed 260px,#2c70ed 264px,#2d6fec 268px,#2e6eec 272px,#2e6ceb 276px,#2f6beb 280px,#306aea 284px,#2f6ceb 288px,#2d6eec 292px,#2c70ed 296px,#2b73ee 300px,#2a74ee 304px,#2976ef 308px,#2877f0 312px,#2879f0 316px,#2878f0 320px,#2976ef 324px,#2a75ef 328px,#2b73ee 332px,#2e6deb 336px,#3461e6 340px,#3958e3 344px,#3a57e2 348px,#3a56e2 352px,#3b55e1 356px,#3b54e1 360px,#3a57e2 364px,#385ae3 368px,#375de5 372px,#3560e6 376px,#3364e7 380px,#3265e8 384px,#3265e8 388px,#3265e8 392px,#3069ea 396px,#2d6eec 400px,#2b72ee 404px,#2976ef 408px,#277af0 412px,#267def 416px,#2482ee 420px,#2287ed 424px,#208cec 428px,#1e90eb 432px,#1a9be9 436px,#15a7e7 440px,#14ade5 444px,#14ade5 448px,#14ade5 450px)"></div><div style="top:66.0px;height:2.0px;background:linear-gradient(90deg,#413dcc 0px,#413dcc 4px,#413dcc 8px,#413dcc 12px,#413fce 16px,#4142d3 20px,#4246d8 24px,#414add 28px,#3f4edf 32px,#3b55e1 36px,#375ce4 40px,#3461e7 44px,#3265e8 48px,#3168e9 52px,#2f6ceb 56px,#2d6fec 60px,#2b73ee 64px,#2d6eec 68px,#3167e9 72px,#3b55e2 76px,#4245d7 80px,#413fce 84px,#413dcc 88px,#413cc9 92px,#403ac7 96px,#403ac6 100px,#413cca 104px,#413fce 108px,#4142d2 112px,#4247db 116px,#3d51e0 120px,#3a57e2 124px,#3959e3 128px,#375ce4 132px,#3959e3 136px,#3d52e0 140px,#404bdd 144px,#4245d8 148px,#4246d8 152px,#4246da 156px,#4247db 160px,#4142d3 164px,#413ecc 168px,#413fce 172px,#4245d8 176px,#3e4fdf 180px,#375de5 184px,#3266e9 188px,#306aea 192px,#2e6eec 196px,#2d6fec 200px,#2d6fec 204px,#2d6fec 208px,#2e6deb 212px,#306aea 216px,#3167e9 220px,#3365e8 224px,#3463e7 228px,#3462e7 232px,#3462e7 236px,#3462e7 240px,#3364e8 244px,#3266e9 248px,#3069ea 252px,#2f6beb 256px,#2f6bea 260px,#306aea 264px,#3069ea 268px,#3069ea 272px,#3168e9 276px,#3167e9 280px,#3266e9 284px,#3168e9 288px,#2f6bea 292px,#2e6deb 296px,#2d6fec 300px,#2c70ed 304px,#2c71ed 308px,#2b72ed 312px,#2b73ee 316px,#2b72ed 320px,#2c70ed 324px,#2d6eec 328px,#2e6ceb 332px,#3266e9 336px,#385ae4 340px,#3d51e0 344px,#3e50df 348px,#3f4edf 352px,#3f4dde 356px,#404bdd 360px,#3f4edf 364px,#3d51e0 368px,#3b54e1 372px,#3a56e2 376px,#3958e3 380px,#3959e3 384px,#3959e3 388px,#3959e3 392px,#365ee5 396px,#3363e7 400px,#3168e9 404px,#2e6ceb 408px,#2c70ed 412px,#2a74ee 416px,#2879f0 420px,#267eef 424px,#2482ee 428px,#2287ed 432px,#1e92eb 436px,#199ee8 440px,#16a4e7 444px,#16a4e7 448px,#16a4e7 450px)"></div><div style="top:68.0px;height:2.0px;background:linear-gradient(90deg,#403bc8 0px,#403bc8 4px,#403bc8 8px,#403bc8 12px,#413cca 16px,#4140d0 20px,#4143d5 24px,#4247da 28px,#404bdd 32px,#3c52e0 36px,#395ae3 40px,#355fe6 44px,#3364e7 48px,#3168e9 52px,#2e6ceb 56px,#2c70ed 60px,#2a74ef 64px,#2d70ed 68px,#3168e9 72px,#3b56e2 76px,#4244d6 80px,#413ecc 84px,#413cc9 88px,#4039c6 92px,#4037c2 96px,#4037c1 100px,#403ac6 104px,#413dcb 108px,#4140cf 112px,#4247da 116px,#3d52e0 120px,#3959e3 124px,#385be4 128px,#365de5 132px,#385ae3 136px,#3c52e0 140px,#414bdd 144px,#4244d6 148px,#4245d7 152px,#4246d9 156px,#4247db 160px,#4143d4 164px,#413ecd 168px,#413fcf 172px,#4246d9 176px,#3e50df 180px,#365ee5 184px,#3167e9 188px,#306aea 192px,#2e6deb 196px,#2d6eec 200px,#2d6eec 204px,#2d6eec 208px,#2f6beb 212px,#3166e9 216px,#3462e7 220px,#375de5 224px,#3958e3 228px,#3b56e2 232px,#3b56e2 236px,#3b56e2 240px,#3959e3 244px,#375de5 248px,#3561e6 252px,#3364e8 256px,#3364e8 260px,#3364e8 264px,#3364e8 268px,#3364e7 272px,#3363e7 276px,#3363e7 280px,#3363e7 284px,#3265e8 288px,#3167e9 292px,#3069ea 296px,#2f6beb 300px,#2f6ceb 304px,#2e6ceb 308px,#2e6ceb 312px,#2e6deb 316px,#2f6beb 320px,#3069ea 324px,#3167e9 328px,#3266e8 332px,#355fe6 336px,#3c53e1 340px,#414add 344px,#4248dc 348px,#4247da 352px,#4245d8 356px,#4244d6 360px,#4246d9 364px,#4248dc 368px,#404bdd 372px,#404cde 376px,#3f4dde 380px,#3f4dde 384px,#3f4dde 388px,#3f4dde 392px,#3c52e0 396px,#3958e3 400px,#365ee5 404px,#3462e7 408px,#3167e9 412px,#2f6beb 416px,#2c70ed 420px,#2a75ef 424px,#2779f0 428px,#257eef 432px,#2189ed 436px,#1c95ea 440px,#1a9be9 444px,#1a9be9 448px,#1a9be9 450px)"></div><div style="top:70.0px;height:2.0px;background:linear-gradient(90deg,#4039c5 0px,#4039c5 4px,#4039c5 8px,#4039c5 12px,#403ac7 16px,#413ecc 20px,#4141d2 24px,#4245d7 28px,#4248dc 32px,#3e50df 36px,#3a57e2 40px,#375de5 44px,#3462e7 48px,#3167e9 52px,#2e6ceb 56px,#2c71ed 60px,#2976ef 64px,#2c71ed 68px,#3069ea 72px,#3b56e2 76px,#4143d5 80px,#413dcb 84px,#403bc8 88px,#4039c5 92px,#4037c2 96px,#4036c1 100px,#4039c6 104px,#413cca 108px,#4140cf 112px,#4247da 116px,#3c53e0 120px,#385ae4 124px,#375de5 128px,#355fe6 132px,#385be4 136px,#3c53e0 140px,#414add 144px,#4143d5 148px,#4244d6 152px,#4246d9 156px,#4247db 160px,#4143d4 164px,#413fce 168px,#4140d0 172px,#4247da 176px,#3d51e0 180px,#3560e6 184px,#3168e9 188px,#306aea 192px,#2f6ceb 196px,#2e6deb 200px,#2e6deb 204px,#2e6deb 208px,#3069ea 212px,#3363e7 216px,#365de5 220px,#3a56e2 224px,#3e4fdf 228px,#3f4dde 232px,#3f4dde 236px,#3f4dde 240px,#3d51e0 244px,#3b56e2 248px,#385be4 252px,#3560e6 256px,#3560e6 260px,#3560e6 264px,#3560e6 268px,#3560e6 272px,#3560e6 276px,#3560e6 280px,#3560e6 284px,#3462e7 288px,#3364e8 292px,#3266e9 296px,#3168e9 300px,#3068ea 304px,#3069ea 308px,#3069ea 312px,#3069ea 316px,#3167e9 320px,#3265e8 324px,#3363e7 328px,#3461e7 332px,#385be4 336px,#3e4edf 340px,#4246d9 344px,#4244d6 348px,#4143d4 352px,#4141d2 356px,#4140d0 360px,#4142d3 364px,#4244d6 368px,#4247da 372px,#4247db 376px,#4248db 380px,#4248dc 384px,#4248dc 388px,#4248dc 392px,#3f4ede 396px,#3c54e1 400px,#385ae3 404px,#365ee5 408px,#3363e7 412px,#3168e9 416px,#2e6ceb 420px,#2c70ed 424px,#2a75ef 428px,#2779f0 432px,#2483ee 436px,#1f8feb 440px,#1d94ea 444px,#1d94ea 448px,#1d94ea 450px)"></div><div style="top:72.0px;height:2.0px;background:linear-gradient(90deg,#4037c1 0px,#4037c1 4px,#4037c1 8px,#4037c1 12px,#4038c3 16px,#413bc9 20px,#413fce 24px,#4142d4 28px,#4246d9 32px,#3f4dde 36px,#3b54e1 40px,#385be4 44px,#3461e6 48px,#3167e9 52px,#2e6deb 56px,#2b72ee 60px,#2877f0 64px,#2b73ee 68px,#2f6bea 72px,#3a56e2 76px,#4143d4 80px,#413cca 84px,#403ac7 88px,#4038c4 92px,#4036c1 96px,#4036c0 100px,#4039c5 104px,#413cca 108px,#4140cf 112px,#4247db 116px,#3c54e1 120px,#375ce4 124px,#365ee5 128px,#3560e6 132px,#375ce4 136px,#3c53e0 140px,#414add 144px,#4142d3 148px,#4144d5 152px,#4246d8 156px,#4247db 160px,#4143d4 164px,#413fce 168px,#4141d1 172px,#4248dc 176px,#3c52e0 180px,#3561e6 184px,#3068ea 188px,#306aea 192px,#2f6beb 196px,#2f6ceb 200px,#2f6ceb 204px,#2f6ceb 208px,#3167e9 212px,#3560e6 216px,#3959e3 220px,#3d51e0 224px,#4149dd 228px,#4247da 232px,#4247db 236px,#4248dc 240px,#404cde 244px,#3d52e0 248px,#3a57e2 252px,#375de5 256px,#375de5 260px,#375de5 264px,#375de5 268px,#375de5 272px,#375de5 276px,#365de5 280px,#365ee5 284px,#355fe6 288px,#3461e7 292px,#3364e7 296px,#3265e8 300px,#3266e8 304px,#3266e9 308px,#3167e9 312px,#3167e9 316px,#3266e8 320px,#3364e8 324px,#3462e7 328px,#3560e6 332px,#3959e3 336px,#404cde 340px,#4144d5 344px,#4142d3 348px,#4141d1 352px,#4140cf 356px,#413ecd 360px,#4141d1 364px,#4143d4 368px,#4246d8 372px,#4247da 376px,#4248dc 380px,#414add 384px,#414add 388px,#404bdd 392px,#3d51e0 396px,#3a57e2 400px,#375de5 404px,#3461e6 408px,#3265e8 412px,#3069ea 416px,#2e6dec 420px,#2c71ed 424px,#2a74ee 428px,#2878f0 432px,#2581ee 436px,#208bec 440px,#1f8feb 444px,#1f8feb 448px,#1f8feb 450px)"></div><div style="top:74.0px;height:2.0px;background:linear-gradient(90deg,#4034be 0px,#4034be 4px,#4034be 8px,#4034be 12px,#4036c0 16px,#4039c5 20px,#413dcb 24px,#4140d0 28px,#4144d5 32px,#414add 36px,#3d52e0 40px,#3959e3 44px,#3560e6 48px,#3167e9 52px,#2e6deb 56px,#2b73ee 60px,#2879f0 64px,#2a74ee 68px,#2f6ceb 72px,#3a56e2 76px,#4142d3 80px,#403bc8 84px,#4039c6 88px,#4038c3 92px,#4036c0 96px,#4035c0 100px,#4039c5 104px,#413cca 108px,#413fcf 112px,#4248db 116px,#3b55e1 120px,#375de5 124px,#365fe5 128px,#3560e6 132px,#375ce4 136px,#3c52e0 140px,#4249dc 144px,#4141d2 148px,#4143d4 152px,#4245d8 156px,#4247db 160px,#4143d5 164px,#4140cf 168px,#4141d2 172px,#4249dc 176px,#3c54e1 180px,#3462e7 184px,#3069ea 188px,#306aea 192px,#306aea 196px,#2f6aea 200px,#2f6aea 204px,#2f6aea 208px,#3365e8 212px,#375ce4 216px,#3c54e1 220px,#404cde 224px,#4244d7 228px,#4142d3 232px,#4143d4 236px,#4144d5 240px,#4247db 244px,#3f4ede 248px,#3c54e1 252px,#385ae3 256px,#385ae3 260px,#385ae3 264px,#385ae3 268px,#385ae3 272px,#385ae4 276px,#385be4 280px,#385be4 284px,#375de5 288px,#365fe6 292px,#3561e6 296px,#3463e7 300px,#3363e7 304px,#3364e8 308px,#3265e8 312px,#3266e8 316px,#3364e8 320px,#3462e7 324px,#3560e6 328px,#365fe5 332px,#3a57e2 336px,#414add 340px,#4141d2 344px,#4140d0 348px,#413fce 352px,#413ecd 356px,#413dcb 360px,#413fce 364px,#4142d3 368px,#4245d7 372px,#4247da 376px,#4149dc 380px,#404bdd 384px,#3f4dde 388px,#3f4edf 392px,#3c54e1 396px,#385ae3 400px,#3560e6 404px,#3363e7 408px,#3167e9 412px,#2f6beb 416px,#2d6eec 420px,#2c71ed 424px,#2a74ee 428px,#2977ef 432px,#267eef 436px,#2287ed 440px,#208bec 444px,#208bec 448px,#208bec 450px)"></div><div style="top:76.0px;height:2.0px;background:linear-gradient(90deg,#4033bc 0px,#4033bc 4px,#4033bc 8px,#4033bc 12px,#4034be 16px,#4038c3 20px,#403bc8 24px,#413ecd 28px,#4141d2 32px,#4247db 36px,#3e4fdf 40px,#3a57e2 44px,#365fe5 48px,#3266e9 52px,#2e6dec 56px,#2a74ee 60px,#277af0 64px,#2975ef 68px,#2e6deb 72px,#3a56e2 76px,#4141d2 80px,#403ac7 84px,#4039c4 88px,#4037c2 92px,#4035bf 96px,#4035bf 100px,#4038c4 104px,#413cca 108px,#413fcf 112px,#4248dc 116px,#3a56e2 120px,#365ee5 124px,#355fe6 128px,#3561e6 132px,#375be4 136px,#3d52e0 140px,#4248dc 144px,#4141d1 148px,#4143d4 152px,#4245d8 156px,#4247db 160px,#4144d5 164px,#4140d0 168px,#4142d3 172px,#414add 176px,#3b55e1 180px,#3463e7 184px,#306aea 188px,#306aea 192px,#306aea 196px,#306aea 200px,#306aea 204px,#306aea 208px,#3363e7 212px,#385ae4 216px,#3d51e0 220px,#4248db 224px,#4140d0 228px,#413ecc 232px,#413fce 236px,#4140cf 240px,#4144d5 244px,#4149dd 248px,#3d50df 252px,#3a57e2 256px,#3a57e2 260px,#3a57e2 264px,#3a57e2 268px,#3a57e2 272px,#3958e3 276px,#3958e3 280px,#3959e3 284px,#385ae4 288px,#375ce4 292px,#365ee5 296px,#3560e6 300px,#3461e6 304px,#3462e7 308px,#3363e7 312px,#3364e8 316px,#3363e7 320px,#3461e6 324px,#365fe6 328px,#375de5 332px,#3b56e2 336px,#4247db 340px,#413fcf 344px,#413ecd 348px,#413dcc 352px,#413cca 356px,#413bc9 360px,#413ecc 364px,#4141d1 368px,#4143d5 372px,#4246da 376px,#414add 380px,#3f4dde 384px,#3e4fdf 388px,#3d51e0 392px,#3a57e2 396px,#375de5 400px,#3463e7 404px,#3266e8 408px,#3069ea 412px,#2e6deb 416px,#2d70ec 420px,#2c72ed 424px,#2a73ee 428px,#2975ef 432px,#277cef 436px,#2483ee 440px,#2286ed 444px,#2286ed 448px,#2286ed 450px)"></div><div style="top:78.0px;height:2.0px;background:linear-gradient(90deg,#3f33bb 0px,#4033bc 4px,#4033bc 8px,#4033bc 12px,#4034be 16px,#4037c2 20px,#403ac6 24px,#413cca 28px,#413fce 32px,#4245d8 36px,#3f4dde 40px,#3b55e1 44px,#365de5 48px,#3266e8 52px,#2e6eec 56px,#2a74ee 60px,#277bef 64px,#2976ef 68px,#2e6eec 72px,#3a56e2 76px,#4141d1 80px,#4039c6 84px,#4038c3 88px,#4036c1 92px,#4035be 96px,#4035be 100px,#4038c4 104px,#413cc9 108px,#413fcf 112px,#4248dc 116px,#3a57e2 120px,#355fe6 124px,#3560e6 128px,#3561e6 132px,#375be4 136px,#3d52e0 140px,#4248dc 144px,#4141d1 148px,#4143d4 152px,#4245d8 156px,#4247db 160px,#4144d5 164px,#4140d0 168px,#4142d3 172px,#414add 176px,#3b55e2 180px,#3363e7 184px,#306aea 188px,#306aea 192px,#306aea 196px,#306aea 200px,#306aea 204px,#306aea 208px,#3363e7 212px,#385ae3 216px,#3d50e0 220px,#4245d8 224px,#413cca 228px,#4039c5 232px,#403ac7 236px,#413cc9 240px,#4140d0 244px,#4246d9 248px,#3f4dde 252px,#3b54e1 256px,#3b54e1 260px,#3b54e1 264px,#3b54e1 268px,#3b54e1 272px,#3b55e1 276px,#3b56e2 280px,#3a56e2 284px,#3958e3 288px,#385ae3 292px,#385be4 296px,#375de5 300px,#365ee5 304px,#3560e6 308px,#3461e7 312px,#3363e7 316px,#3462e7 320px,#3560e6 324px,#365ee5 328px,#375ce4 332px,#3c54e1 336px,#4246d8 340px,#413dcb 344px,#413cca 348px,#413bc9 352px,#403bc7 356px,#403ac6 360px,#413cca 364px,#413fcf 368px,#4142d3 372px,#4246d9 376px,#404bdd 380px,#3e4fdf 384px,#3d51e0 388px,#3c54e1 392px,#395ae3 396px,#355fe6 400px,#3265e8 404px,#3068e9 408px,#2f6beb 412px,#2d6eec 416px,#2c71ed 420px,#2b72ed 424px,#2b73ee 428px,#2a74ee 432px,#2879f0 436px,#257fef 440px,#2482ee 444px,#2482ee 448px,#2482ee 450px)"></div><div style="top:80.0px;height:2.0px;background:linear-gradient(90deg,#3f32bb 0px,#3f33bb 4px,#4033bc 8px,#4033bc 12px,#4034be 16px,#4037c2 20px,#4039c5 24px,#413cc9 28px,#413ecd 32px,#4244d6 36px,#404bdd 40px,#3c54e1 44px,#375de5 48px,#3265e8 52px,#2e6deb 56px,#2a74ee 60px,#277bef 64px,#2976ef 68px,#2e6eec 72px,#3b56e2 76px,#4140d0 80px,#4039c5 84px,#4038c3 88px,#4036c1 92px,#4035be 96px,#4035be 100px,#4038c4 104px,#413cca 108px,#4140cf 112px,#4149dc 116px,#3958e3 120px,#3560e6 124px,#3561e6 128px,#3461e6 132px,#375be4 136px,#3d52e0 140px,#4248dc 144px,#4141d1 148px,#4143d4 152px,#4245d8 156px,#4247db 160px,#4244d6 164px,#4141d1 168px,#4143d4 172px,#404bdd 176px,#3a56e2 180px,#3363e7 184px,#306aea 188px,#306aea 192px,#306aea 196px,#306aea 200px,#306aea 204px,#306aea 208px,#3363e7 212px,#3959e3 216px,#3e50df 220px,#4244d6 224px,#403ac7 228px,#4037c2 232px,#4038c4 236px,#403ac6 240px,#413ecd 244px,#4244d6 248px,#414add 252px,#3d51e0 256px,#3d51e0 260px,#3d51e0 264px,#3d51e0 268px,#3d52e0 272px,#3c52e0 276px,#3c53e1 280px,#3b54e1 284px,#3b56e2 288px,#3a57e2 292px,#3959e3 296px,#385ae4 300px,#375ce4 304px,#365ee5 308px,#3560e6 312px,#3461e7 316px,#3560e6 320px,#365ee5 324px,#375ce4 328px,#385ae4 332px,#3d52e0 336px,#4244d6 340px,#403bc8 344px,#403ac7 348px,#403ac6 352px,#4039c5 356px,#4038c4 360px,#403bc8 364px,#413ecd 368px,#4141d2 372px,#4246d9 376px,#404cde 380px,#3d50e0 384px,#3c54e1 388px,#3a57e2 392px,#375ce5 396px,#3462e7 400px,#3168e9 404px,#2f6beb 408px,#2e6dec 412px,#2c70ed 416px,#2b72ed 420px,#2b72ee 424px,#2b73ee 428px,#2b73ee 432px,#2977ef 436px,#277bef 440px,#267def 444px,#267def 448px,#267def 450px)"></div><div style="top:82.0px;height:2.0px;background:linear-gradient(90deg,#3f32ba 0px,#3f32bb 4px,#3f33bb 8px,#4033bc 12px,#4034be 16px,#4037c2 20px,#4039c6 24px,#413cca 28px,#413ecd 32px,#4245d7 36px,#404bdd 40px,#3c54e1 44px,#375ce4 48px,#3364e8 52px,#2e6ceb 56px,#2a74ee 60px,#277bef 64px,#2976ef 68px,#2e6eec 72px,#3b56e2 76px,#4140d0 80px,#4039c5 84px,#4038c3 88px,#4036c1 92px,#4035bf 96px,#4035bf 100px,#4039c5 104px,#413dcb 108px,#4141d1 112px,#414add 116px,#3958e3 120px,#3560e6 124px,#3560e6 128px,#3560e6 132px,#385ae4 136px,#3d51e0 140px,#4248dc 144px,#4141d1 148px,#4143d4 152px,#4245d8 156px,#4247db 160px,#4244d6 164px,#4141d1 168px,#4143d5 172px,#404cde 176px,#3a57e2 180px,#3363e7 184px,#306aea 188px,#306aea 192px,#306aea 196px,#306aea 200px,#306aea 204px,#306aea 208px,#3363e7 212px,#3959e3 216px,#3e4fdf 220px,#4244d6 224px,#403ac6 228px,#4037c2 232px,#4038c4 236px,#403ac6 240px,#413ecc 244px,#4143d4 248px,#4248dc 252px,#3e4fdf 256px,#3e4fdf 260px,#3e4fdf 264px,#3e4fdf 268px,#3e50df 272px,#3d51e0 276px,#3d52e0 280px,#3c53e0 284px,#3b54e1 288px,#3b55e2 292px,#3a57e2 296px,#3958e3 300px,#385ae4 304px,#375ce4 308px,#365ee5 312px,#3560e6 316px,#365ee5 320px,#375de5 324px,#385be4 328px,#3959e3 332px,#3d51e0 336px,#4142d4 340px,#403ac6 344px,#4039c5 348px,#4038c4 352px,#4038c3 356px,#4037c2 360px,#413cc9 364px,#4141d1 368px,#4246d8 372px,#3e4fdf 376px,#3959e3 380px,#3560e6 384px,#3463e7 388px,#3265e8 392px,#3168e9 396px,#306aea 400px,#2e6ceb 404px,#2d6fec 408px,#2c71ed 412px,#2a73ee 416px,#2a75ef 420px,#2975ef 424px,#2976ef 428px,#2976ef 432px,#2879f0 436px,#267def 440px,#257fef 444px,#257fef 448px,#257fef 450px)"></div><div style="top:84.0px;height:2.0px;background:linear-gradient(90deg,#3f32ba 0px,#3f32ba 4px,#3f33bb 8px,#4033bc 12px,#4034be 16px,#4037c2 20px,#403ac6 24px,#413cca 28px,#413fce 32px,#4245d7 36px,#404cdd 40px,#3c53e1 44px,#375be4 48px,#3363e7 52px,#2f6beb 56px,#2b73ee 60px,#277bef 64px,#2976ef 68px,#2e6eec 72px,#3b56e2 76px,#4140d0 80px,#4039c5 84px,#4038c3 88px,#4037c1 92px,#4035bf 96px,#4036c0 100px,#403ac6 104px,#413dcc 108px,#4141d2 112px,#414add 116px,#3a57e2 120px,#365de5 124px,#365de5 128px,#365de5 132px,#3958e3 136px,#3e50df 140px,#4247db 144px,#4141d1 148px,#4143d4 152px,#4245d8 156px,#4247db 160px,#4244d6 164px,#4141d2 168px,#4144d5 172px,#404dde 176px,#3a57e2 180px,#3364e8 184px,#306aea 188px,#306aea 192px,#306aea 196px,#306aea 200px,#306aea 204px,#306aea 208px,#3463e7 212px,#3958e3 216px,#3f4ede 220px,#4143d5 224px,#403ac6 228px,#4037c2 232px,#4038c4 236px,#403ac6 240px,#413dcc 244px,#4142d3 248px,#4247db 252px,#3f4dde 256px,#3f4dde 260px,#3f4ede 264px,#3f4ede 268px,#3f4edf 272px,#3e50df 276px,#3d51e0 280px,#3c52e0 284px,#3c53e1 288px,#3b55e1 292px,#3a56e2 296px,#3a58e2 300px,#3959e3 304px,#385be4 308px,#375ce4 312px,#365ee5 316px,#375de5 320px,#385be4 324px,#3959e3 328px,#3a57e2 332px,#3e4fdf 336px,#4142d2 340px,#4039c5 344px,#4038c4 348px,#4038c4 352px,#4038c3 356px,#4037c2 360px,#413fce 364px,#4247db 368px,#3d52e0 372px,#3363e7 376px,#2a74ee 380px,#267eef 384px,#257fef 388px,#2580ee 392px,#277bef 396px,#2976ef 400px,#2b72ed 404px,#2a74ee 408px,#2976ef 412px,#2879f0 416px,#277bef 420px,#277bef 424px,#267cef 428px,#267def 432px,#2580ee 436px,#2384ee 440px,#2286ed 444px,#2286ed 448px,#2286ed 450px)"></div><div style="top:86.0px;height:2.0px;background:linear-gradient(90deg,#3f31b9 0px,#3f32ba 4px,#3f32bb 8px,#4033bc 12px,#4034be 16px,#4037c2 20px,#403ac6 24px,#413cca 28px,#413fce 32px,#4245d7 36px,#404cde 40px,#3c53e1 44px,#385be4 48px,#3463e7 52px,#2f6bea 56px,#2b73ee 60px,#277bef 64px,#2976ef 68px,#2e6eec 72px,#3b56e2 76px,#4140d0 80px,#4039c5 84px,#4038c4 88px,#4037c2 92px,#4036c0 96px,#4036c1 100px,#403ac7 104px,#413ecd 108px,#4142d3 112px,#414add 116px,#3b55e1 120px,#385be4 124px,#385be4 128px,#385be4 132px,#3a56e2 136px,#3f4edf 140px,#4247da 144px,#4141d1 148px,#4143d4 152px,#4245d8 156px,#4247db 160px,#4244d6 164px,#4141d2 168px,#4244d6 172px,#3f4dde 176px,#3958e3 180px,#3364e8 184px,#306aea 188px,#306aea 192px,#306aea 196px,#306aea 200px,#306aea 204px,#306aea 208px,#3462e7 212px,#3958e3 216px,#3f4dde 220px,#4143d4 224px,#403ac6 228px,#4037c2 232px,#4038c4 236px,#403ac6 240px,#413dcb 244px,#4142d2 248px,#4246d9 252px,#404bdd 256px,#404cde 260px,#404cde 264px,#404cde 268px,#3f4dde 272px,#3e4fdf 276px,#3e50df 280px,#3d52e0 284px,#3c53e1 288px,#3b54e1 292px,#3b55e2 296px,#3a57e2 300px,#3958e3 304px,#3959e3 308px,#385be4 312px,#375ce4 316px,#385be4 320px,#3959e3 324px,#3a58e3 328px,#3a56e2 332px,#3f4edf 336px,#4141d1 340px,#4038c4 344px,#4038c4 348px,#4038c3 352px,#4037c2 356px,#4037c2 360px,#4142d2 364px,#3e4fdf 368px,#365fe6 372px,#2977f0 376px,#1f90eb 380px,#199de9 384px,#1a9ce9 388px,#1a9be9 392px,#1f8feb 396px,#2483ee 400px,#2977ef 404px,#2879f0 408px,#277cef 412px,#267eef 416px,#2580ee 420px,#2481ee 424px,#2483ee 428px,#2384ee 432px,#2287ed 436px,#208bec 440px,#208dec 444px,#208dec 448px,#208dec 450px)"></div><div style="top:88.0px;height:2.0px;background:linear-gradient(90deg,#3f31b9 0px,#3f32ba 4px,#3f32bb 8px,#4033bc 12px,#4034be 16px,#4037c2 20px,#403ac6 24px,#413dcb 28px,#413fcf 32px,#4245d8 36px,#404cde 40px,#3c53e1 44px,#385ae4 48px,#3462e7 52px,#306aea 56px,#2b72ed 60px,#277af0 64px,#2976ef 68px,#2e6eec 72px,#3b56e2 76px,#4140d0 80px,#4039c5 84px,#4038c4 88px,#4037c2 92px,#4036c1 96px,#4037c1 100px,#403bc8 104px,#413fce 108px,#4143d4 112px,#414add 116px,#3c53e1 120px,#3958e3 124px,#3958e3 128px,#3958e3 132px,#3b54e1 136px,#3f4dde 140px,#4246da 144px,#4141d1 148px,#4143d4 152px,#4245d8 156px,#4247db 160px,#4244d7 164px,#4142d2 168px,#4244d7 172px,#3f4edf 176px,#3959e3 180px,#3364e8 184px,#306aea 188px,#306aea 192px,#306aea 196px,#306aea 200px,#306aea 204px,#306aea 208px,#3462e7 212px,#3a57e2 216px,#404cde 220px,#4143d4 224px,#403ac6 228px,#4037c2 232px,#4038c4 236px,#403ac6 240px,#413dcb 244px,#4141d1 248px,#4245d8 252px,#414add 256px,#414add 260px,#414bdd 264px,#404bdd 268px,#404cde 272px,#3f4ede 276px,#3e4fdf 280px,#3d51e0 284px,#3c52e0 288px,#3c54e1 292px,#3b55e1 296px,#3a56e2 300px,#3a57e2 304px,#3958e3 308px,#3959e3 312px,#385ae3 316px,#3959e3 320px,#3a58e2 324px,#3a56e2 328px,#3b55e1 332px,#3f4dde 336px,#4140d0 340px,#4038c3 344px,#4038c3 348px,#4037c2 352px,#4037c2 356px,#4037c1 360px,#4245d7 364px,#3958e3 368px,#2e6ceb 372px,#208cec 376px,#14abe5 380px,#16badf 384px,#16b7e0 388px,#16b5e1 392px,#17a4e7 396px,#1f90eb 400px,#267cef 404px,#257fef 408px,#2481ee 412px,#2384ee 416px,#2286ed 420px,#2287ed 424px,#2189ed 428px,#208bec 432px,#1f8feb 436px,#1d93eb 440px,#1d94ea 444px,#1d94ea 448px,#1d94ea 450px)"></div><div style="top:90.0px;height:2.0px;background:linear-gradient(90deg,#3f32ba 0px,#3f32bb 4px,#4033bc 8px,#4034bd 12px,#4035bf 16px,#4038c3 20px,#403ac7 24px,#413dcb 28px,#4140cf 32px,#4245d8 36px,#404cde 40px,#3c53e1 44px,#385ae3 48px,#3561e6 52px,#3168e9 56px,#2c70ed 60px,#2878f0 64px,#2a74ef 68px,#2e6deb 72px,#3b55e1 76px,#4140d0 80px,#4039c6 84px,#4038c4 88px,#4037c3 92px,#4036c1 96px,#4037c2 100px,#413bc9 104px,#4140cf 108px,#4244d6 112px,#414add 116px,#3d52e0 120px,#3a56e2 124px,#3a56e2 128px,#3a56e2 132px,#3d52e0 136px,#404cde 140px,#4246d9 144px,#4141d1 148px,#4143d4 152px,#4245d8 156px,#4247db 160px,#4245d7 164px,#4142d3 168px,#4245d8 172px,#3e4fdf 176px,#385ae3 180px,#3364e8 184px,#306aea 188px,#306aea 192px,#306aea 196px,#306aea 200px,#306aea 204px,#306aea 208px,#3462e7 212px,#3a57e2 216px,#404cdd 220px,#4142d3 224px,#4039c6 228px,#4037c2 232px,#4038c4 236px,#403ac6 240px,#413dcb 244px,#4140d1 248px,#4244d6 252px,#4248dc 256px,#4249dc 260px,#4149dc 264px,#414add 268px,#404bdd 272px,#3f4dde 276px,#3e4fdf 280px,#3d51e0 284px,#3d52e0 288px,#3c53e1 292px,#3b54e1 296px,#3b55e1 300px,#3a56e2 304px,#3a57e2 308px,#3a57e2 312px,#3958e3 316px,#3a57e2 320px,#3a56e2 324px,#3b55e1 328px,#3c53e1 332px,#404cde 336px,#4140cf 340px,#4037c3 344px,#4037c2 348px,#4037c2 352px,#4037c2 356px,#4036c1 360px,#4248db 364px,#3560e6 368px,#2878f0 372px,#199de9 376px,#17c0dd 380px,#1bced4 384px,#19cad8 388px,#18c6da 392px,#15b1e3 396px,#1b99e9 400px,#2482ee 404px,#2384ee 408px,#2286ed 412px,#2189ed 416px,#208bec 420px,#1f8eec 424px,#1e90eb 428px,#1e92eb 432px,#1c96ea 436px,#1a9ae9 440px,#1a9ce9 444px,#1a9ce9 448px,#1a9ce9 450px)"></div><div style="top:92.0px;height:2.0px;background:linear-gradient(90deg,#4033bd 0px,#4034bd 4px,#4034be 8px,#4035bf 12px,#4036c1 16px,#4039c5 20px,#403bc8 24px,#413ecc 28px,#4140d0 32px,#4246d8 36px,#404cde 40px,#3c53e0 44px,#3959e3 48px,#3560e6 52px,#3167e9 56px,#2d6fec 60px,#2977ef 64px,#2b72ee 68px,#2f6bea 72px,#3b54e1 76px,#4140d0 80px,#403ac6 84px,#4039c5 88px,#4038c4 92px,#4038c3 96px,#4039c4 100px,#413dca 104px,#4141d1 108px,#4245d7 112px,#414add 116px,#3e50df 120px,#3c53e1 124px,#3c53e1 128px,#3c53e1 132px,#3e50df 136px,#414add 140px,#4245d8 144px,#4141d1 148px,#4143d4 152px,#4245d8 156px,#4247db 160px,#4245d7 164px,#4143d4 168px,#4246d9 172px,#3e50df 176px,#385ae4 180px,#3365e8 184px,#306aea 188px,#306aea 192px,#306aea 196px,#306aea 200px,#306aea 204px,#306aea 208px,#3462e7 212px,#3a56e2 216px,#404bdd 220px,#4142d2 224px,#4039c5 228px,#4037c2 232px,#4038c4 236px,#403ac6 240px,#413cca 244px,#4140d0 248px,#4143d5 252px,#4247da 256px,#4247db 260px,#4248dc 264px,#4248dc 268px,#414add 272px,#404cde 276px,#3f4ede 280px,#3e50df 284px,#3d51e0 288px,#3c52e0 292px,#3c53e1 296px,#3b54e1 300px,#3b55e1 304px,#3b55e2 308px,#3b56e2 312px,#3a56e2 316px,#3b55e2 320px,#3b54e1 324px,#3c53e1 328px,#3d52e0 332px,#404bdd 336px,#413fce 340px,#4037c2 344px,#4037c1 348px,#4037c1 352px,#4036c1 356px,#4036c1 360px,#404bdd 364px,#3167e9 368px,#2385ed 372px,#14abe5 376px,#1bced4 380px,#2ad2c1 384px,#22d0cb 388px,#1acdd6 392px,#16b8e0 396px,#189fe8 400px,#2385ed 404px,#2288ed 408px,#218aec 412px,#208cec 416px,#1f8eec 420px,#1e91eb 424px,#1d94ea 428px,#1c97ea 432px,#1a9ae9 436px,#199ee8 440px,#189fe8 444px,#189fe8 448px,#189fe8 450px)"></div><div style="top:94.0px;height:2.0px;background:linear-gradient(90deg,#4035bf 0px,#4036c0 4px,#4036c1 8px,#4036c1 12px,#4037c3 16px,#403ac6 20px,#413cca 24px,#413ecd 28px,#4140d1 32px,#4246d9 36px,#404cde 40px,#3c53e0 44px,#3959e3 48px,#365fe6 52px,#3266e8 56px,#2e6dec 60px,#2a75ef 64px,#2c70ed 68px,#3069ea 72px,#3c53e1 76px,#4140cf 80px,#403ac7 84px,#403ac7 88px,#403ac7 92px,#403ac7 96px,#403bc8 100px,#413fce 104px,#4142d3 108px,#4246d8 112px,#414add 116px,#3e4edf 120px,#3d51e0 124px,#3d51e0 128px,#3d51e0 132px,#3f4ede 136px,#4249dc 140px,#4245d7 144px,#4141d1 148px,#4143d4 152px,#4245d8 156px,#4247db 160px,#4245d8 164px,#4143d5 168px,#4247da 172px,#3d51e0 176px,#385be4 180px,#3265e8 184px,#306aea 188px,#306aea 192px,#306aea 196px,#306aea 200px,#306aea 204px,#306aea 208px,#3462e7 212px,#3b56e2 216px,#414add 220px,#4141d2 224px,#4039c5 228px,#4037c2 232px,#4038c4 236px,#403ac6 240px,#413cca 244px,#413fcf 248px,#4142d3 252px,#4245d8 256px,#4246d9 260px,#4247da 264px,#4247db 268px,#4249dc 272px,#404bdd 276px,#3f4dde 280px,#3e4fdf 284px,#3d51e0 288px,#3d52e0 292px,#3c53e0 296px,#3c54e1 300px,#3c54e1 304px,#3c54e1 308px,#3c54e1 312px,#3b54e1 316px,#3c53e1 320px,#3c53e0 324px,#3d52e0 328px,#3d51e0 332px,#414add 336px,#413ecd 340px,#4036c1 344px,#4036c1 348px,#4036c1 352px,#4036c1 356px,#4036c1 360px,#3f4edf 364px,#2d6fec 368px,#1e91eb 372px,#16b9e0 376px,#2ad2c1 380px,#39d6ae 384px,#2ed3bc 388px,#23d0cb 392px,#17bedd 396px,#17a3e7 400px,#2288ed 404px,#2189ed 408px,#218bec 412px,#208cec 416px,#1f8feb 420px,#1e92eb 424px,#1c95ea 428px,#1b99e9 432px,#1a9ce9 436px,#199ee8 440px,#189fe8 444px,#189fe8 448px,#189fe8 450px)"></div><div style="top:96.0px;height:2.0px;background:linear-gradient(90deg,#4037c2 0px,#4037c3 4px,#4038c3 8px,#4038c3 12px,#4039c5 16px,#403bc8 20px,#413dcb 24px,#413fce 28px,#4141d1 32px,#4246d8 36px,#404bdd 40px,#3d52e0 44px,#3958e3 48px,#365ee5 52px,#3364e8 56px,#2f6ceb 60px,#2b73ee 64px,#2d6fec 68px,#3167e9 72px,#3d52e0 76px,#4140d0 80px,#403bc8 84px,#413bc9 88px,#413cc9 92px,#413cca 96px,#413dcc 100px,#4140d0 104px,#4143d5 108px,#4246d9 112px,#4149dd 116px,#3f4dde 120px,#3e4fdf 124px,#3e4fdf 128px,#3e4fdf 132px,#404cde 136px,#4248dc 140px,#4244d6 144px,#4141d1 148px,#4143d4 152px,#4245d8 156px,#4247db 160px,#4246d8 164px,#4244d6 168px,#4247db 172px,#3d51e0 176px,#385be4 180px,#3364e8 184px,#3069ea 188px,#3069ea 192px,#3069ea 196px,#3069ea 200px,#3069ea 204px,#3069ea 208px,#3561e6 212px,#3b55e2 216px,#414add 220px,#4141d2 224px,#4039c6 228px,#4037c2 232px,#4039c4 236px,#403ac7 240px,#413cca 244px,#413fcf 248px,#4142d3 252px,#4245d7 256px,#4245d8 260px,#4246d9 264px,#4247da 268px,#4248dc 272px,#414add 276px,#3f4dde 280px,#3e4fdf 284px,#3d50df 288px,#3d51e0 292px,#3d52e0 296px,#3c53e1 300px,#3c53e1 304px,#3c53e1 308px,#3c53e1 312px,#3c53e1 316px,#3c52e0 320px,#3d52e0 324px,#3d51e0 328px,#3e50df 332px,#4149dd 336px,#413ecd 340px,#4036c0 344px,#4036c0 348px,#4036c0 352px,#4036c0 356px,#4036c0 360px,#3e50df 364px,#2b72ed 368px,#1c95ea 372px,#17bdde 376px,#2ed3bc 380px,#3ed7a8 384px,#31d4b8 388px,#25d0c8 392px,#17c0dd 396px,#16a6e7 400px,#218aec 404px,#208bec 408px,#208cec 412px,#208dec 416px,#1f8feb 420px,#1d93eb 424px,#1c97ea 428px,#1a9be9 432px,#199de9 436px,#199fe8 440px,#189fe8 444px,#189fe8 448px,#189fe8 450px)"></div><div style="top:98.0px;height:2.0px;background:linear-gradient(90deg,#4039c5 0px,#4039c5 4px,#4039c5 8px,#4039c5 12px,#403ac6 16px,#413cc9 20px,#413dcc 24px,#413fce 28px,#4141d1 32px,#4245d8 36px,#414add 40px,#3d50df 44px,#3a56e2 48px,#375ce4 52px,#3363e7 56px,#306aea 60px,#2c71ed 64px,#2f6ceb 68px,#3364e8 72px,#3d51e0 76px,#4141d1 80px,#413cca 84px,#413dcb 88px,#413ecc 92px,#413fce 96px,#4140d0 100px,#4142d3 104px,#4244d6 108px,#4247da 112px,#4149dc 116px,#404cde 120px,#3f4ede 124px,#3f4ede 128px,#3f4ede 132px,#404bdd 136px,#4247db 140px,#4244d6 144px,#4141d1 148px,#4143d4 152px,#4245d8 156px,#4247db 160px,#4246d9 164px,#4245d7 168px,#4247db 172px,#3e50df 176px,#3959e3 180px,#3363e7 184px,#3168e9 188px,#3168e9 192px,#3168e9 196px,#3168e9 200px,#3168e9 204px,#3168e9 208px,#3560e6 212px,#3b55e1 216px,#4149dd 220px,#4141d2 224px,#403ac6 228px,#4038c3 232px,#403ac6 236px,#403bc8 240px,#413dcc 244px,#4140cf 248px,#4142d3 252px,#4245d7 256px,#4245d8 260px,#4246d9 264px,#4247da 268px,#4248dc 272px,#414add 276px,#3f4dde 280px,#3e4fdf 284px,#3e50df 288px,#3d51e0 292px,#3d52e0 296px,#3c52e0 300px,#3c52e0 304px,#3c52e0 308px,#3c52e0 312px,#3c52e0 316px,#3d52e0 320px,#3d51e0 324px,#3d51e0 328px,#3e50df 332px,#4149dd 336px,#413ecd 340px,#4036c0 344px,#4036c0 348px,#4036c0 352px,#4036c0 356px,#4036c0 360px,#3e4fdf 364px,#2c70ed 368px,#1e92eb 372px,#16b8e0 376px,#27d1c5 380px,#35d5b2 384px,#2bd2c0 388px,#20cfcd 392px,#17bede 396px,#16a6e7 400px,#208cec 404px,#208cec 408px,#208dec 412px,#208dec 416px,#1f8feb 420px,#1d94ea 424px,#1b98ea 428px,#199de9 432px,#199fe8 436px,#189fe8 440px,#189fe8 444px,#189fe8 448px,#189fe8 450px)"></div><div style="top:100.0px;height:2.0px;background:linear-gradient(90deg,#403bc8 0px,#403bc8 4px,#403bc8 8px,#403bc8 12px,#413bc9 16px,#413dcb 20px,#413ecd 24px,#413fcf 28px,#4141d1 32px,#4245d7 36px,#4149dd 40px,#3e4fdf 44px,#3b55e1 48px,#385be4 52px,#3561e6 56px,#3167e9 60px,#2e6deb 64px,#3068e9 68px,#3461e6 72px,#3e50df 76px,#4141d2 80px,#413dcc 84px,#413fcd 88px,#4140cf 92px,#4141d1 96px,#4142d3 100px,#4144d5 104px,#4245d8 108px,#4247da 112px,#4249dc 116px,#404bdd 120px,#404cde 124px,#404cde 128px,#404cde 132px,#414add 136px,#4247da 140px,#4144d5 144px,#4141d1 148px,#4143d4 152px,#4245d8 156px,#4247db 160px,#4246d9 164px,#4245d8 168px,#4248dc 172px,#3e4fdf 176px,#3958e3 180px,#3461e7 184px,#3266e9 188px,#3266e9 192px,#3266e9 196px,#3266e9 200px,#3266e9 204px,#3266e9 208px,#365fe5 212px,#3b54e1 216px,#4149dd 220px,#4142d2 224px,#403ac7 228px,#4039c5 232px,#403ac7 236px,#413cca 240px,#413ecd 244px,#4140d0 248px,#4143d4 252px,#4245d7 256px,#4245d8 260px,#4246d9 264px,#4247da 268px,#4248dc 272px,#414add 276px,#3f4dde 280px,#3e4fdf 284px,#3e50df 288px,#3d51e0 292px,#3d51e0 296px,#3d52e0 300px,#3d52e0 304px,#3d52e0 308px,#3d52e0 312px,#3d52e0 316px,#3d51e0 320px,#3d51e0 324px,#3d50e0 328px,#3e50df 332px,#4149dd 336px,#413ecd 340px,#4036c0 344px,#4036c0 348px,#4036c0 352px,#4036c0 356px,#4036c0 360px,#3f4ede 364px,#2d6eec 368px,#1f8feb 372px,#15b3e2 376px,#20cfce 380px,#2ed3bc 384px,#25d0c8 388px,#1cced3 392px,#16bbdf 396px,#16a4e7 400px,#208cec 404px,#208cec 408px,#208cec 412px,#208cec 416px,#1f8eec 420px,#1d93eb 424px,#1c97ea 428px,#1a9ce9 432px,#199de9 436px,#199de9 440px,#199de9 444px,#199ee8 448px,#199ee8 450px)"></div><div style="top:102.0px;height:2.0px;background:linear-gradient(90deg,#413cca 0px,#413cca 4px,#413cca 8px,#413cca 12px,#413dcb 16px,#413ecc 20px,#413fce 24px,#4140cf 28px,#4141d1 32px,#4244d6 36px,#4248dc 40px,#3f4dde 44px,#3c53e1 48px,#3959e3 52px,#365fe6 56px,#3364e8 60px,#306aea 64px,#3265e8 68px,#365ee5 72px,#3e4fdf 76px,#4142d2 80px,#413fce 84px,#4140d0 88px,#4141d1 92px,#4142d3 96px,#4143d5 100px,#4245d7 104px,#4246d9 108px,#4247da 112px,#4248dc 116px,#414add 120px,#414bdd 124px,#414bdd 128px,#414bdd 132px,#4249dc 136px,#4246d9 140px,#4143d5 144px,#4141d1 148px,#4143d4 152px,#4245d8 156px,#4247db 160px,#4246da 164px,#4246d9 168px,#4248dc 172px,#3e4fdf 176px,#3a56e2 180px,#3560e6 184px,#3265e8 188px,#3265e8 192px,#3265e8 196px,#3265e8 200px,#3265e8 204px,#3265e8 208px,#365ee5 212px,#3c53e1 216px,#4149dd 220px,#4142d3 224px,#403bc8 228px,#4039c6 232px,#413bc9 236px,#413dcc 240px,#413fce 244px,#4141d1 248px,#4143d4 252px,#4245d7 256px,#4245d8 260px,#4246d9 264px,#4247da 268px,#4248dc 272px,#414add 276px,#3f4dde 280px,#3e4fdf 284px,#3e50df 288px,#3d50e0 292px,#3d51e0 296px,#3d51e0 300px,#3d51e0 304px,#3d51e0 308px,#3d51e0 312px,#3d51e0 316px,#3d51e0 320px,#3d51e0 324px,#3e50df 328px,#3e50df 332px,#4149dd 336px,#413ecd 340px,#4036c0 344px,#4036c0 348px,#4036c0 352px,#4036c0 356px,#4036c0 360px,#3f4dde 364px,#2e6ceb 368px,#208cec 372px,#15aee4 376px,#19cdd7 380px,#26d1c6 384px,#1fcfcf 388px,#19ccd7 392px,#16b7e0 396px,#18a1e8 400px,#218aec 404px,#218aec 408px,#218aec 412px,#218aec 416px,#208bec 420px,#1f8feb 424px,#1d93eb 428px,#1b97ea 432px,#1b99e9 436px,#1b99e9 440px,#1b99e9 444px,#1a9be9 448px,#1a9be9 450px)"></div><div style="top:104.0px;height:2.0px;background:linear-gradient(90deg,#413ecd 0px,#413ecd 4px,#413ecd 8px,#413ecd 12px,#413ecd 16px,#413fce 20px,#413fcf 24px,#4140d0 28px,#4141d1 32px,#4244d6 36px,#4247db 40px,#404cde 44px,#3d52e0 48px,#3958e3 52px,#375de5 56px,#3462e7 60px,#3266e9 64px,#3461e7 68px,#385be4 72px,#3f4ede 76px,#4142d3 80px,#4140cf 84px,#4141d2 88px,#4142d4 92px,#4244d6 96px,#4245d7 100px,#4246d8 104px,#4246d9 108px,#4247db 112px,#4248dc 116px,#4249dc 120px,#4149dc 124px,#4149dc 128px,#4149dc 132px,#4248db 136px,#4245d8 140px,#4143d4 144px,#4141d1 148px,#4143d4 152px,#4245d8 156px,#4247db 160px,#4247da 164px,#4246d9 168px,#4248dc 172px,#3f4edf 176px,#3b55e1 180px,#365ee5 184px,#3363e7 188px,#3363e7 192px,#3363e7 196px,#3363e7 200px,#3363e7 204px,#3363e7 208px,#375ce5 212px,#3c53e0 216px,#4149dc 220px,#4142d3 224px,#413cc9 228px,#403ac7 232px,#413cca 236px,#413ecd 240px,#4140d0 244px,#4142d2 248px,#4143d5 252px,#4245d7 256px,#4245d8 260px,#4246d9 264px,#4247da 268px,#4248dc 272px,#414add 276px,#3f4dde 280px,#3e4fdf 284px,#3e50df 288px,#3e50df 292px,#3d50df 296px,#3d51e0 300px,#3d51e0 304px,#3d51e0 308px,#3d51e0 312px,#3d51e0 316px,#3d50e0 320px,#3e50df 324px,#3e50df 328px,#3e50df 332px,#4149dd 336px,#413ecd 340px,#4036c0 344px,#4036c0 348px,#4036c0 352px,#4036c0 356px,#4036c0 360px,#404cde 364px,#306aea 368px,#2189ed 372px,#14a9e6 376px,#18c6da 380px,#1fcfd0 384px,#19ccd7 388px,#18c6da 392px,#15b3e2 396px,#199de9 400px,#2288ed 404px,#2288ed 408px,#2288ed 412px,#2288ed 416px,#2189ed 420px,#208cec 424px,#1f90eb 428px,#1d93eb 432px,#1d94ea 436px,#1d94ea 440px,#1c95ea 444px,#1b97ea 448px,#1b99e9 450px)"></div><div style="top:106.0px;height:1.0px;background:linear-gradient(90deg,#413fcf 0px,#413fcf 4px,#413fcf 8px,#413fcf 12px,#413fcf 16px,#4140cf 20px,#4140d0 24px,#4140d0 28px,#4141d1 32px,#4144d5 36px,#4247da 40px,#404bdd 44px,#3d51e0 48px,#3a57e2 52px,#375ce4 56px,#3560e6 60px,#3364e7 64px,#365fe5 68px,#3959e3 72px,#3f4dde 76px,#4143d4 80px,#4141d1 84px,#4142d3 88px,#4144d5 92px,#4245d7 96px,#4246d9 100px,#4246da 104px,#4247da 108px,#4247db 112px,#4248db 116px,#4248dc 120px,#4248dc 124px,#4248dc 128px,#4248dc 132px,#4247da 136px,#4245d7 140px,#4143d4 144px,#4141d1 148px,#4143d4 152px,#4245d8 156px,#4247db 160px,#4247db 164px,#4247da 168px,#4249dc 172px,#3f4ede 176px,#3c54e1 180px,#365de5 184px,#3462e7 188px,#3462e7 192px,#3462e7 196px,#3462e7 200px,#3462e7 204px,#3462e7 208px,#375ce4 212px,#3c52e0 216px,#4149dc 220px,#4142d3 224px,#413cca 228px,#403bc8 232px,#413dcb 236px,#413fce 240px,#4141d1 244px,#4142d3 248px,#4143d5 252px,#4245d7 256px,#4245d8 260px,#4246d9 264px,#4247da 268px,#4248dc 272px,#414add 276px,#3f4dde 280px,#3e4fdf 284px,#3e50df 288px,#3e50df 292px,#3e50df 296px,#3e50df 300px,#3e50df 304px,#3e50df 308px,#3e50df 312px,#3e50df 316px,#3e50df 320px,#3e50df 324px,#3e50df 328px,#3e50df 332px,#4149dd 336px,#413ecd 340px,#4036c0 344px,#4036c0 348px,#4036c0 352px,#4036c0 356px,#4036c0 360px,#404bdd 364px,#3069ea 368px,#2287ed 372px,#16a5e7 376px,#17c1dc 380px,#19ccd7 384px,#18c6da 388px,#17c0dd 392px,#15aee4 396px,#1a9ae9 400px,#2286ed 404px,#2286ed 408px,#2286ed 412px,#2286ed 416px,#2287ed 420px,#218aec 424px,#208dec 428px,#1e90eb 432px,#1e91eb 436px,#1e91eb 440px,#1d92eb 444px,#1c95ea 448px,#1c97ea 450px)"></div></div>
<div class="fld" style="left:37.5px;top:312.0px;width:450.0px;height:108.0px"><div style="top:0.0px;height:2.0px;background:linear-gradient(90deg,#000091 0px,#000091 4px,#000090 8px,#000090 12px,#000090 16px,#000090 20px,#000090 24px,#000090 28px,#000090 32px,#000090 36px,#000090 40px,#000090 44px,#00008e 48px,#00008d 52px,#00008c 56px,#00008b 60px,#00008d 64px,#00008e 68px,#000090 72px,#000090 76px,#000090 80px,#000090 84px,#000090 88px,#000090 92px,#00008f 96px,#00008d 100px,#00008b 104px,#00008b 108px,#00008b 112px,#00008c 116px,#00008e 120px,#000095 124px,#00009b 128px,#0000a1 132px,#0000a0 136px,#000098 140px,#000090 144px,#00008b 148px,#00008b 152px,#00008b 156px,#00008b 160px,#00008b 164px,#00008b 168px,#00008b 172px,#00008b 176px,#00008b 180px,#00008b 184px,#00008b 188px,#00008b 192px,#00008b 196px,#00008b 200px,#00008b 204px,#00008b 208px,#00008b 212px,#00008b 216px,#00008b 220px,#00008b 224px,#00008b 228px,#00008b 232px,#00008b 236px,#00008b 240px,#00008b 244px,#00008b 248px,#00008b 252px,#00008b 256px,#00008b 260px,#00008b 264px,#00008b 268px,#00008b 272px,#00008b 276px,#00008b 280px,#00008b 284px,#00008b 288px,#00008b 292px,#00008b 296px,#00008b 300px,#00008b 304px,#00008b 308px,#00008b 312px,#00008b 316px,#00008b 320px,#00008b 324px,#00008b 328px,#00008b 332px,#00008b 336px,#00008b 340px,#00008b 344px,#00008b 348px,#00008b 352px,#00008d 356px,#000090 360px,#000095 364px,#00009f 368px,#0000b4 372px,#0000ca 376px,#0000db 380px,#0000e8 384px,#0000f5 388px,#0000eb 392px,#0000d8 396px,#0000f1 400px,#0003ff 404px,#0000ea 408px,#0000d5 412px,#0000ea 416px,#0001ff 420px,#0000ee 424px,#0000c2 428px,#00009c 432px,#000097 436px,#000093 440px,#000090 444px,#000090 448px,#000090 450px)"></div><div style="top:2.0px;height:2.0px;background:linear-gradient(90deg,#000093 0px,#000092 4px,#000092 8px,#000092 12px,#000092 16px,#000091 20px,#000090 24px,#000091 28px,#000091 32px,#000091 36px,#000092 40px,#000091 44px,#000090 48px,#00008e 52px,#00008d 56px,#00008c 60px,#00008e 64px,#00008f 68px,#000091 72px,#000091 76px,#000091 80px,#000090 84px,#000091 88px,#000091 92px,#000091 96px,#00008f 100px,#00008c 104px,#00008d 108px,#00008e 112px,#00008f 116px,#000093 120px,#00009e 124px,#0000a8 128px,#0000b3 132px,#0000b1 136px,#0000a3 140px,#000096 144px,#00008c 148px,#00008c 152px,#00008c 156px,#00008c 160px,#00008c 164px,#00008c 168px,#00008c 172px,#00008b 176px,#00008b 180px,#00008b 184px,#00008b 188px,#00008b 192px,#00008c 196px,#00008c 200px,#00008c 204px,#00008d 208px,#00008d 212px,#00008d 216px,#00008c 220px,#00008c 224px,#00008d 228px,#00008c 232px,#00008c 236px,#00008c 240px,#00008c 244px,#00008b 248px,#00008b 252px,#00008b 256px,#00008b 260px,#00008b 264px,#00008b 268px,#00008b 272px,#00008b 276px,#00008b 280px,#00008b 284px,#00008b 288px,#00008b 292px,#00008b 296px,#00008b 300px,#00008c 304px,#00008c 308px,#00008c 312px,#00008c 316px,#00008c 320px,#00008c 324px,#00008c 328px,#00008c 332px,#00008c 336px,#00008c 340px,#00008c 344px,#00008c 348px,#00008c 352px,#00008f 356px,#000093 360px,#00009a 364px,#0000a8 368px,#0000bd 372px,#0000d3 376px,#0000e3 380px,#0000ef 384px,#0000fb 388px,#0000f4 392px,#0000e5 396px,#0000f9 400px,#0007ff 404px,#0000f0 408px,#0000dd 412px,#0000f1 416px,#0007ff 420px,#0000f4 424px,#0000c7 428px,#0000a0 432px,#00009a 436px,#000094 440px,#000091 444px,#000091 448px,#000091 450px)"></div><div style="top:4.0px;height:2.0px;background:linear-gradient(90deg,#000095 0px,#000094 4px,#000094 8px,#000094 12px,#000093 16px,#000092 20px,#000091 24px,#000091 28px,#000092 32px,#000092 36px,#000093 40px,#000093 44px,#000091 48px,#00008f 52px,#00008e 56px,#00008d 60px,#00008f 64px,#000090 68px,#000092 72px,#000092 76px,#000092 80px,#000091 84px,#000092 88px,#000093 92px,#000092 96px,#000090 100px,#00008e 104px,#00008f 108px,#000090 112px,#000091 116px,#000098 120px,#0000a7 124px,#0000b6 128px,#0000c5 132px,#0000c2 136px,#0000af 140px,#00009b 144px,#00008e 148px,#00008e 152px,#00008e 156px,#00008e 160px,#00008d 164px,#00008d 168px,#00008c 172px,#00008c 176px,#00008c 180px,#00008c 184px,#00008c 188px,#00008c 192px,#00008d 196px,#00008d 200px,#00008e 204px,#00008e 208px,#00008f 212px,#00008e 216px,#00008e 220px,#00008e 224px,#00008e 228px,#00008e 232px,#00008d 236px,#00008d 240px,#00008d 244px,#00008c 248px,#00008c 252px,#00008c 256px,#00008c 260px,#00008c 264px,#00008c 268px,#00008c 272px,#00008c 276px,#00008c 280px,#00008c 284px,#00008c 288px,#00008c 292px,#00008c 296px,#00008c 300px,#00008d 304px,#00008d 308px,#00008d 312px,#00008d 316px,#00008d 320px,#00008d 324px,#00008d 328px,#00008d 332px,#00008d 336px,#00008d 340px,#00008e 344px,#00008e 348px,#00008e 352px,#000092 356px,#000096 360px,#0000a0 364px,#0000b0 368px,#0000c6 372px,#0000dc 376px,#0000ec 380px,#0000f7 384px,#0002ff 388px,#0000fd 392px,#0000f3 396px,#0002ff 400px,#000bff 404px,#0000f6 408px,#0000e4 412px,#0000f9 416px,#000eff 420px,#0000f9 424px,#0000cc 428px,#0000a4 432px,#00009d 436px,#000096 440px,#000091 444px,#000091 448px,#000091 450px)"></div><div style="top:6.0px;height:2.0px;background:linear-gradient(90deg,#000097 0px,#000096 4px,#000096 8px,#000095 12px,#000094 16px,#000093 20px,#000092 24px,#000092 28px,#000093 32px,#000094 36px,#000094 40px,#000094 44px,#000092 48px,#000090 52px,#00008f 56px,#00008d 60px,#000090 64px,#000092 68px,#000094 72px,#000094 76px,#000093 80px,#000092 84px,#000093 88px,#000094 92px,#000094 96px,#000092 100px,#00008f 104px,#000091 108px,#000092 112px,#000094 116px,#00009d 120px,#0000b0 124px,#0000c4 128px,#0000d7 132px,#0000d3 136px,#0000ba 140px,#0000a0 144px,#000090 148px,#000090 152px,#000090 156px,#00008f 160px,#00008e 164px,#00008e 168px,#00008d 172px,#00008d 176px,#00008d 180px,#00008d 184px,#00008d 188px,#00008d 192px,#00008e 196px,#00008e 200px,#00008f 204px,#000090 208px,#000091 212px,#000090 216px,#00008f 220px,#00008f 224px,#000090 228px,#00008f 232px,#00008f 236px,#00008e 240px,#00008e 244px,#00008d 248px,#00008d 252px,#00008d 256px,#00008d 260px,#00008d 264px,#00008d 268px,#00008d 272px,#00008d 276px,#00008d 280px,#00008d 284px,#00008d 288px,#00008d 292px,#00008d 296px,#00008d 300px,#00008e 304px,#00008e 308px,#00008e 312px,#00008e 316px,#00008e 320px,#00008e 324px,#00008e 328px,#00008e 332px,#00008f 336px,#00008f 340px,#00008f 344px,#00008f 348px,#00008f 352px,#000094 356px,#000099 360px,#0000a5 364px,#0000b9 368px,#0000cf 372px,#0000e5 376px,#0000f4 380px,#0000fe 384px,#0009ff 388px,#0007ff 392px,#0002ff 396px,#000aff 400px,#000fff 404px,#0000fb 408px,#0000ec 412px,#0001ff 416px,#0014ff 420px,#0000ff 424px,#0000d1 428px,#0000a8 432px,#0000a0 436px,#000098 440px,#000092 444px,#000092 448px,#000092 450px)"></div><div style="top:8.0px;height:2.0px;background:linear-gradient(90deg,#000099 0px,#000098 4px,#000098 8px,#000097 12px,#000096 16px,#000094 20px,#000092 24px,#000092 28px,#000094 32px,#000095 36px,#000096 40px,#000096 44px,#000094 48px,#000092 52px,#000090 56px,#00008e 60px,#000090 64px,#000093 68px,#000095 72px,#000095 76px,#000093 80px,#000092 84px,#000093 88px,#000095 92px,#000095 96px,#000093 100px,#000090 104px,#000092 108px,#000095 112px,#000097 116px,#0000a2 120px,#0000b9 124px,#0000d0 128px,#0000e8 132px,#0000e3 136px,#0000c4 140px,#0000a5 144px,#000091 148px,#000091 152px,#000091 156px,#000090 160px,#00008f 164px,#00008f 168px,#00008e 172px,#00008e 176px,#00008d 180px,#00008e 184px,#00008e 188px,#00008e 192px,#00008f 196px,#00008f 200px,#000090 204px,#000092 208px,#000093 212px,#000092 216px,#000091 220px,#000091 224px,#000091 228px,#000091 232px,#000090 236px,#00008f 240px,#00008e 244px,#00008e 248px,#00008e 252px,#00008d 256px,#00008e 260px,#00008e 264px,#00008d 268px,#00008d 272px,#00008d 276px,#00008d 280px,#00008d 284px,#00008d 288px,#00008d 292px,#00008e 296px,#00008e 300px,#00008f 304px,#00008f 308px,#00008f 312px,#00008f 316px,#00008f 320px,#00008f 324px,#00008f 328px,#00008f 332px,#000090 336px,#000090 340px,#000090 344px,#000090 348px,#000090 352px,#000096 356px,#00009d 360px,#0000aa 364px,#0000c2 368px,#0000d8 372px,#0000ee 376px,#0000fd 380px,#0006ff 384px,#000fff 388px,#0011ff 392px,#000fff 396px,#0013ff 400px,#0012ff 404px,#0002ff 408px,#0000f3 412px,#0008ff 416px,#001bff 420px,#0006ff 424px,#0000d6 428px,#0000ac 432px,#0000a2 436px,#000099 440px,#000093 444px,#000093 448px,#000092 450px)"></div><div style="top:10.0px;height:2.0px;background:linear-gradient(90deg,#0000a1 0px,#00009e 4px,#00009c 8px,#000099 12px,#000097 16px,#000095 20px,#000093 24px,#000093 28px,#000094 32px,#000096 36px,#000097 40px,#000097 44px,#000095 48px,#000093 52px,#000090 56px,#00008f 60px,#000091 64px,#000094 68px,#000096 72px,#000096 76px,#000094 80px,#000093 84px,#000094 88px,#000097 92px,#000097 96px,#000094 100px,#000092 104px,#000097 108px,#00009c 112px,#0000a2 116px,#0000af 120px,#0000c8 124px,#0000e0 128px,#0000f9 132px,#0000f2 136px,#0000ce 140px,#0000aa 144px,#000093 148px,#000093 152px,#000093 156px,#000092 160px,#000090 164px,#000090 168px,#00008f 172px,#00008e 176px,#00008e 180px,#00008e 184px,#00008f 188px,#00008f 192px,#000090 196px,#000090 200px,#000092 204px,#000094 208px,#000095 212px,#000094 216px,#000092 220px,#000092 224px,#000093 228px,#000092 232px,#000091 236px,#000090 240px,#00008f 244px,#00008f 248px,#00008e 252px,#00008e 256px,#00008e 260px,#00008e 264px,#00008e 268px,#00008e 272px,#00008e 276px,#00008e 280px,#00008e 284px,#00008e 288px,#00008e 292px,#00008e 296px,#00008f 300px,#000090 304px,#000090 308px,#000090 312px,#000090 316px,#000090 320px,#000090 324px,#000090 328px,#000091 332px,#000091 336px,#000091 340px,#000092 344px,#000092 348px,#000092 352px,#000098 356px,#0000a0 360px,#0000af 364px,#0000cb 368px,#0000e1 372px,#0000f7 376px,#0006ff 380px,#000eff 384px,#0016ff 388px,#0019ff 392px,#001aff 396px,#0019ff 400px,#0016ff 404px,#0008ff 408px,#0000fb 412px,#000fff 416px,#0021ff 420px,#000cff 424px,#0000db 428px,#0000b0 432px,#0000a5 436px,#00009b 440px,#000093 444px,#000093 448px,#000093 450px)"></div><div style="top:12.0px;height:2.0px;background:linear-gradient(90deg,#0000ae 0px,#0000a8 4px,#0000a2 8px,#00009d 12px,#000098 16px,#000096 20px,#000094 24px,#000094 28px,#000095 32px,#000097 36px,#000099 40px,#000098 44px,#000096 48px,#000094 52px,#000091 56px,#000090 60px,#000092 64px,#000095 68px,#000097 72px,#000097 76px,#000095 80px,#000093 84px,#000095 88px,#000098 92px,#000098 96px,#000096 100px,#000093 104px,#00009e 108px,#0000a9 112px,#0000b5 116px,#0000c5 120px,#0000dc 124px,#0000f4 128px,#000cff 132px,#0002ff 136px,#0000d8 140px,#0000af 144px,#000094 148px,#000094 152px,#000094 156px,#000093 160px,#000091 164px,#000091 168px,#000090 172px,#00008f 176px,#00008f 180px,#00008f 184px,#00008f 188px,#000090 192px,#000091 196px,#000092 200px,#000093 204px,#000095 208px,#000097 212px,#000095 216px,#000093 220px,#000093 224px,#000094 228px,#000094 232px,#000093 236px,#000092 240px,#000090 244px,#000090 248px,#00008f 252px,#00008f 256px,#00008f 260px,#00008f 264px,#00008f 268px,#00008f 272px,#00008f 276px,#00008f 280px,#00008f 284px,#00008f 288px,#00008f 292px,#00008f 296px,#000090 300px,#000091 304px,#000091 308px,#000091 312px,#000091 316px,#000091 320px,#000091 324px,#000092 328px,#000092 332px,#000092 336px,#000093 340px,#000093 344px,#000093 348px,#000093 352px,#00009a 356px,#0000a3 360px,#0000b6 364px,#0000d8 368px,#0000eb 372px,#0000ff 376px,#000dff 380px,#0014ff 384px,#001cff 388px,#001fff 392px,#0022ff 396px,#001fff 400px,#001aff 404px,#000eff 408px,#0004ff 412px,#0016ff 416px,#0028ff 420px,#0011ff 424px,#0000e0 428px,#0000b4 432px,#0000a8 436px,#00009c 440px,#000094 444px,#000094 448px,#000094 450px)"></div><div style="top:14.0px;height:2.0px;background:linear-gradient(90deg,#0000bc 0px,#0000b4 4px,#0000ac 8px,#0000a4 12px,#00009e 16px,#000099 20px,#000095 24px,#000095 28px,#000099 32px,#00009c 36px,#00009f 40px,#00009f 44px,#00009b 48px,#000097 52px,#000094 56px,#000091 60px,#000093 64px,#000096 68px,#000099 72px,#000098 76px,#000096 80px,#000094 84px,#000098 88px,#00009e 92px,#00009f 96px,#00009a 100px,#000095 104px,#0000a5 108px,#0000b6 112px,#0000c8 116px,#0000dc 120px,#0000f1 124px,#0008ff 128px,#001eff 132px,#0012ff 136px,#0000e4 140px,#0000b8 144px,#00009b 148px,#00009c 152px,#00009c 156px,#000098 160px,#000093 164px,#000092 168px,#000091 172px,#000090 176px,#000090 180px,#000090 184px,#000090 188px,#000090 192px,#000092 196px,#000093 200px,#000095 204px,#000097 208px,#000099 212px,#000097 216px,#000095 220px,#000095 224px,#000096 228px,#000095 232px,#000094 236px,#000093 240px,#000091 244px,#000091 248px,#000090 252px,#000090 256px,#000090 260px,#000090 264px,#000090 268px,#00008f 272px,#000090 276px,#000090 280px,#000090 284px,#000090 288px,#00008f 292px,#000090 296px,#000091 300px,#000092 304px,#000093 308px,#000093 312px,#000092 316px,#000092 320px,#000092 324px,#000093 328px,#000093 332px,#000093 336px,#000094 340px,#000094 344px,#000094 348px,#000094 352px,#00009d 356px,#0000a6 360px,#0000bd 364px,#0000e8 368px,#0000f7 372px,#0008ff 376px,#0013ff 380px,#001bff 384px,#0022ff 388px,#0026ff 392px,#0029ff 396px,#0024ff 400px,#001eff 404px,#0014ff 408px,#000cff 412px,#001dff 416px,#002eff 420px,#0017ff 424px,#0000e4 428px,#0000b8 432px,#0000ab 436px,#00009e 440px,#000095 444px,#000095 448px,#000094 450px)"></div><div style="top:16.0px;height:2.0px;background:linear-gradient(90deg,#0000c9 0px,#0000c0 4px,#0000b8 8px,#0000af 12px,#0000a6 16px,#00009e 20px,#000096 24px,#000098 28px,#00009e 32px,#0000a4 36px,#0000ab 40px,#0000ab 44px,#0000a4 48px,#00009e 52px,#000097 56px,#000092 60px,#000096 64px,#00009a 68px,#00009e 72px,#00009d 76px,#000099 80px,#000095 84px,#00009d 88px,#0000a8 92px,#0000ac 96px,#0000a3 100px,#00009a 104px,#0000ae 108px,#0000c5 112px,#0000dc 116px,#0000f1 120px,#0005ff 124px,#0017ff 128px,#002aff 132px,#001cff 136px,#0000ef 140px,#0000c4 144px,#0000a7 148px,#0000a9 152px,#0000ab 156px,#0000a1 160px,#000096 164px,#000093 168px,#000092 172px,#000091 176px,#000090 180px,#000091 184px,#000091 188px,#000091 192px,#000093 196px,#000094 200px,#000099 204px,#0000a0 208px,#0000a7 212px,#0000a5 216px,#0000a3 220px,#00009f 224px,#00009a 228px,#000097 232px,#000095 236px,#000094 240px,#000092 244px,#000091 248px,#000091 252px,#000090 256px,#000091 260px,#000091 264px,#000090 268px,#000090 272px,#000090 276px,#000090 280px,#000090 284px,#000090 288px,#000090 292px,#000090 296px,#000092 300px,#000093 304px,#000094 308px,#000094 312px,#000093 316px,#000093 320px,#000094 324px,#000094 328px,#000094 332px,#000095 336px,#000095 340px,#000096 344px,#000096 348px,#000096 352px,#00009f 356px,#0000a9 360px,#0000c4 364px,#0000f8 368px,#0004ff 372px,#0010ff 376px,#0019ff 380px,#0021ff 384px,#0028ff 388px,#002dff 392px,#0031ff 396px,#002aff 400px,#0023ff 404px,#001cff 408px,#0016ff 412px,#0026ff 416px,#0035ff 420px,#001dff 424px,#0000e9 428px,#0000bc 432px,#0000ae 436px,#00009f 440px,#000096 444px,#000095 448px,#000095 450px)"></div><div style="top:18.0px;height:2.0px;background:linear-gradient(90deg,#0000d3 0px,#0000ca 4px,#0000c2 8px,#0000b9 12px,#0000af 16px,#0000a4 20px,#000098 24px,#00009a 28px,#0000a4 32px,#0000ad 36px,#0000b6 40px,#0000b7 44px,#0000ae 48px,#0000a4 52px,#00009a 56px,#000093 60px,#00009a 64px,#0000a1 68px,#0000a8 72px,#0000a5 76px,#00009d 80px,#000096 84px,#0000a3 88px,#0000b3 92px,#0000b9 96px,#0000ae 100px,#0000a3 104px,#0000b8 108px,#0000d1 112px,#0000e9 116px,#0000fe 120px,#000fff 124px,#001fff 128px,#002fff 132px,#0022ff 136px,#0000f7 140px,#0000ce 144px,#0000b3 148px,#0000b7 152px,#0000ba 156px,#0000ab 160px,#000099 164px,#000094 168px,#000092 172px,#000091 176px,#000091 180px,#000091 184px,#000092 188px,#000092 192px,#000097 196px,#00009c 200px,#0000a7 204px,#0000b4 208px,#0000c0 212px,#0000bf 216px,#0000bd 220px,#0000b2 224px,#0000a1 228px,#000098 232px,#000097 236px,#000095 240px,#000093 244px,#000092 248px,#000092 252px,#000091 256px,#000092 260px,#000092 264px,#000091 268px,#000091 272px,#000091 276px,#000091 280px,#000091 284px,#000091 288px,#000091 292px,#000091 296px,#000092 300px,#000094 304px,#000095 308px,#000095 312px,#000095 316px,#000094 320px,#000095 324px,#000095 328px,#000095 332px,#000096 336px,#000097 340px,#000097 344px,#000097 348px,#000097 352px,#0000a1 356px,#0000ac 360px,#0000cc 364px,#0009ff 368px,#0010ff 372px,#0018ff 376px,#001fff 380px,#0027ff 384px,#002eff 388px,#0034ff 392px,#0038ff 396px,#0031ff 400px,#0029ff 404px,#0024ff 408px,#0020ff 412px,#002eff 416px,#003cff 420px,#0024ff 424px,#0000f2 428px,#0000c5 432px,#0000b4 436px,#0000a2 440px,#000096 444px,#000096 448px,#000096 450px)"></div><div style="top:20.0px;height:2.0px;background:linear-gradient(90deg,#0000d9 0px,#0000d2 4px,#0000cb 8px,#0000c3 12px,#0000b8 16px,#0000a9 20px,#00009a 24px,#00009d 28px,#0000a9 32px,#0000b6 36px,#0000c2 40px,#0000c4 44px,#0000b7 48px,#0000aa 52px,#00009d 56px,#000095 60px,#00009e 64px,#0000a8 68px,#0000b2 72px,#0000ae 76px,#0000a5 80px,#00009b 84px,#0000aa 88px,#0000be 92px,#0000c6 96px,#0000b9 100px,#0000ab 104px,#0000c0 108px,#0000d7 112px,#0000ef 116px,#0004ff 120px,#0014ff 124px,#0023ff 128px,#0033ff 132px,#0027ff 136px,#0000ff 140px,#0000d8 144px,#0000c0 148px,#0000c4 152px,#0000c9 156px,#0000b6 160px,#0000a0 164px,#000099 168px,#000096 172px,#000093 176px,#000092 180px,#000092 184px,#000093 188px,#000094 192px,#0000a0 196px,#0000ad 200px,#0000bb 204px,#0000cc 208px,#0000da 212px,#0000d9 216px,#0000d8 220px,#0000c9 224px,#0000b2 228px,#0000a4 232px,#00009f 236px,#00009a 240px,#000095 244px,#000093 248px,#000092 252px,#000092 256px,#000092 260px,#000092 264px,#000092 268px,#000092 272px,#000092 276px,#000092 280px,#000092 284px,#000092 288px,#000092 292px,#000092 296px,#000093 300px,#000095 304px,#000096 308px,#000096 312px,#000096 316px,#000096 320px,#000096 324px,#000096 328px,#000097 332px,#000097 336px,#000098 340px,#000098 344px,#000098 348px,#000098 352px,#0000a7 356px,#0000b8 360px,#0000db 364px,#0019ff 368px,#001cff 372px,#0020ff 376px,#0026ff 380px,#002dff 384px,#0034ff 388px,#003aff 392px,#0040ff 396px,#0038ff 400px,#0030ff 404px,#002cff 408px,#002aff 412px,#0036ff 416px,#0042ff 420px,#002cff 424px,#0000fe 428px,#0000d5 432px,#0000be 436px,#0000a7 440px,#000097 444px,#000096 448px,#000096 450px)"></div><div style="top:22.0px;height:2.0px;background:linear-gradient(90deg,#0000df 0px,#0000d9 4px,#0000d3 8px,#0000ce 12px,#0000c2 16px,#0000b1 20px,#0000a0 24px,#0000a3 28px,#0000b1 32px,#0000bf 36px,#0000cd 40px,#0000cf 44px,#0000bf 48px,#0000b0 52px,#0000a0 56px,#000096 60px,#0000a3 64px,#0000af 68px,#0000bc 72px,#0000b9 76px,#0000ae 80px,#0000a3 84px,#0000b5 88px,#0000cb 92px,#0000d3 96px,#0000c4 100px,#0000b4 104px,#0000c8 108px,#0000de 112px,#0000f5 116px,#0009ff 120px,#0019ff 124px,#0028ff 128px,#0037ff 132px,#002cff 136px,#0007ff 140px,#0000e2 144px,#0000cc 148px,#0000d2 152px,#0000d8 156px,#0000c4 160px,#0000ac 164px,#0000a2 168px,#00009b 172px,#000095 176px,#000093 180px,#000093 184px,#000093 188px,#000095 192px,#0000a9 196px,#0000bd 200px,#0000d0 204px,#0000e3 208px,#0000f3 212px,#0000f3 216px,#0000f3 220px,#0000e3 224px,#0000cb 228px,#0000ba 232px,#0000af 236px,#0000a4 240px,#000098 244px,#000094 248px,#000093 252px,#000093 256px,#000093 260px,#000093 264px,#000093 268px,#000092 272px,#000092 276px,#000092 280px,#000093 284px,#000092 288px,#000092 292px,#000093 296px,#000094 300px,#000096 304px,#000097 308px,#000097 312px,#000097 316px,#000097 320px,#000097 324px,#000097 328px,#000098 332px,#000098 336px,#000099 340px,#00009a 344px,#00009a 348px,#00009a 352px,#0000b2 356px,#0000cd 360px,#0000f2 364px,#0025ff 368px,#0026ff 372px,#0027ff 376px,#002cff 380px,#0033ff 384px,#003aff 388px,#0041ff 392px,#0048ff 396px,#003eff 400px,#0036ff 404px,#0034ff 408px,#0034ff 412px,#003eff 416px,#0049ff 420px,#0035ff 424px,#000cff 428px,#0000e4 432px,#0000c8 436px,#0000ab 440px,#000098 444px,#000097 448px,#000097 450px)"></div><div style="top:24.0px;height:2.0px;background:linear-gradient(90deg,#0000e6 0px,#0000e1 4px,#0000dc 8px,#0000d7 12px,#0000cc 16px,#0000bb 20px,#0000ab 24px,#0000ae 28px,#0000bc 32px,#0000cb 36px,#0000d9 40px,#0000d9 44px,#0000c7 48px,#0000b5 52px,#0000a3 56px,#000097 60px,#0000a7 64px,#0000b6 68px,#0000c5 72px,#0000c3 76px,#0000b7 80px,#0000ac 84px,#0000be 88px,#0000d6 92px,#0000de 96px,#0000cd 100px,#0000bd 104px,#0000cf 108px,#0000e5 112px,#0000fb 116px,#000fff 120px,#001dff 124px,#002cff 128px,#003bff 132px,#0030ff 136px,#000dff 140px,#0000e9 144px,#0000d4 148px,#0000dc 152px,#0000e3 156px,#0000d0 160px,#0000b8 164px,#0000ab 168px,#0000a1 172px,#000097 176px,#000093 180px,#000094 184px,#000094 188px,#000096 192px,#0000b2 196px,#0000cd 200px,#0000e4 204px,#0000f7 208px,#0009ff 212px,#0009ff 216px,#0009ff 220px,#0000f9 224px,#0000e4 228px,#0000d0 232px,#0000bf 236px,#0000ad 240px,#00009b 244px,#000095 248px,#000094 252px,#000093 256px,#000094 260px,#000094 264px,#000093 268px,#000093 272px,#000093 276px,#000093 280px,#000093 284px,#000093 288px,#000093 292px,#000093 296px,#000095 300px,#000097 304px,#000098 308px,#000098 312px,#000098 316px,#000098 320px,#000098 324px,#000098 328px,#00009b 332px,#0000a0 336px,#0000a4 340px,#0000a8 344px,#0000a8 348px,#0000a8 352px,#0000c4 356px,#0000e5 360px,#0008ff 364px,#002eff 368px,#002eff 372px,#002eff 376px,#0032ff 380px,#0039ff 384px,#0040ff 388px,#0048ff 392px,#0050ff 396px,#0046ff 400px,#003dff 404px,#003dff 408px,#003dff 412px,#0047ff 416px,#0050ff 420px,#003dff 424px,#0019ff 428px,#0000f3 432px,#0000d1 436px,#0000b0 440px,#000098 444px,#000098 448px,#000098 450px)"></div><div style="top:26.0px;height:2.0px;background:linear-gradient(90deg,#0000ec 0px,#0000e8 4px,#0000e3 8px,#0000df 12px,#0000d5 16px,#0000c5 20px,#0000b5 24px,#0000b9 28px,#0000c8 32px,#0000d6 36px,#0000e4 40px,#0000e4 44px,#0000d1 48px,#0000bd 52px,#0000aa 56px,#00009d 60px,#0000ae 64px,#0000bf 68px,#0000cf 72px,#0000cd 76px,#0000c1 80px,#0000b5 84px,#0000c7 88px,#0000df 92px,#0000e7 96px,#0000d6 100px,#0000c5 104px,#0000d7 108px,#0000ec 112px,#0001ff 116px,#0014ff 120px,#0022ff 124px,#0031ff 128px,#003fff 132px,#0034ff 136px,#0011ff 140px,#0000ed 144px,#0000da 148px,#0000e3 152px,#0000ec 156px,#0000da 160px,#0000c3 164px,#0000b4 168px,#0000a7 172px,#000099 176px,#000095 180px,#000097 184px,#000098 188px,#00009c 192px,#0000bd 196px,#0000de 200px,#0000f7 204px,#000aff 208px,#001aff 212px,#0019ff 216px,#0018ff 220px,#000cff 224px,#0000fb 228px,#0000e6 232px,#0000ce 236px,#0000b6 240px,#00009e 244px,#000096 248px,#000095 252px,#000094 256px,#000095 260px,#000095 264px,#000094 268px,#000094 272px,#000094 276px,#000094 280px,#000094 284px,#000094 288px,#000094 292px,#000094 296px,#000096 300px,#000098 304px,#000099 308px,#000099 312px,#000099 316px,#000099 320px,#000099 324px,#000099 328px,#0000a0 332px,#0000ad 336px,#0000ba 340px,#0000c2 344px,#0000c2 348px,#0000c2 352px,#0000df 356px,#0000ff 360px,#001eff 364px,#0037ff 368px,#0037ff 372px,#0037ff 376px,#003aff 380px,#0040ff 384px,#0047ff 388px,#0050ff 392px,#0059ff 396px,#004dff 400px,#0043ff 404px,#0045ff 408px,#0047ff 412px,#0050ff 416px,#0058ff 420px,#0047ff 424px,#0026ff 428px,#0004ff 432px,#0000db 436px,#0000b4 440px,#000099 444px,#000098 448px,#000098 450px)"></div><div style="top:28.0px;height:2.0px;background:linear-gradient(90deg,#0000f2 0px,#0000ef 4px,#0000eb 8px,#0000e8 12px,#0000df 16px,#0000cf 20px,#0000c0 24px,#0000c4 28px,#0000d3 32px,#0000e1 36px,#0000f0 40px,#0000f0 44px,#0000dc 48px,#0000c9 52px,#0000b5 56px,#0000a8 60px,#0000b8 64px,#0000c9 68px,#0000d9 72px,#0000d6 76px,#0000ca 80px,#0000bd 84px,#0000d0 88px,#0000e7 92px,#0000ef 96px,#0000de 100px,#0000cd 104px,#0000de 108px,#0000f2 112px,#0007ff 116px,#0019ff 120px,#0027ff 124px,#0035ff 128px,#0043ff 132px,#0038ff 136px,#0015ff 140px,#0000f2 144px,#0000df 148px,#0000ea 152px,#0000f5 156px,#0000e4 160px,#0000cf 164px,#0000bd 168px,#0000ac 172px,#00009c 176px,#000097 180px,#00009b 184px,#0000a0 188px,#0000a6 192px,#0000c8 196px,#0000eb 200px,#0006ff 204px,#001aff 208px,#002bff 212px,#0029ff 216px,#0027ff 220px,#001eff 224px,#0011ff 228px,#0000fa 232px,#0000dd 236px,#0000bf 240px,#0000a1 244px,#000096 248px,#000095 252px,#000095 256px,#000095 260px,#000096 264px,#000095 268px,#000094 272px,#000095 276px,#000095 280px,#000095 284px,#000095 288px,#000094 292px,#00009a 296px,#0000ab 300px,#0000bc 304px,#0000cc 308px,#0000be 312px,#0000a8 316px,#00009c 320px,#0000a4 324px,#0000ac 328px,#0000b7 332px,#0000c5 336px,#0000d4 340px,#0000dd 344px,#0000dd 348px,#0000dd 352px,#0000f7 356px,#0016ff 360px,#002fff 364px,#0040ff 368px,#0041ff 372px,#0041ff 376px,#0044ff 380px,#004aff 384px,#004fff 388px,#0058ff 392px,#0063ff 396px,#0055ff 400px,#004aff 404px,#004eff 408px,#0053ff 412px,#005bff 416px,#0062ff 420px,#0053ff 424px,#0034ff 428px,#0013ff 432px,#0000e5 436px,#0000b9 440px,#00009a 444px,#000099 448px,#000099 450px)"></div><div style="top:30.0px;height:2.0px;background:linear-gradient(90deg,#0000f7 0px,#0000f5 4px,#0000f3 8px,#0000f0 12px,#0000e8 16px,#0000d8 20px,#0000c9 24px,#0000cd 28px,#0000dd 32px,#0000ec 36px,#0000fb 40px,#0000fb 44px,#0000e8 48px,#0000d4 52px,#0000c0 56px,#0000b3 60px,#0000c3 64px,#0000d3 68px,#0000e3 72px,#0000e0 76px,#0000d2 80px,#0000c5 84px,#0000d8 88px,#0000f0 92px,#0000f8 96px,#0000e6 100px,#0000d4 104px,#0000e5 108px,#0000f8 112px,#000dff 116px,#001eff 120px,#002dff 124px,#003bff 128px,#0049ff 132px,#003eff 136px,#001bff 140px,#0000f7 144px,#0000e4 148px,#0000f1 152px,#0000fd 156px,#0000ed 160px,#0000d8 164px,#0000c4 168px,#0000b2 172px,#00009f 176px,#00009b 180px,#0000a1 184px,#0000a7 188px,#0000af 192px,#0000d1 196px,#0000f3 200px,#0010ff 204px,#0028ff 208px,#003cff 212px,#0039ff 216px,#0036ff 220px,#002fff 224px,#0025ff 228px,#000eff 232px,#0000ea 236px,#0000c7 240px,#0000a4 244px,#00009c 248px,#0000a2 252px,#0000a5 256px,#00009c 260px,#000096 264px,#000096 268px,#000095 272px,#000095 276px,#000095 280px,#000095 284px,#000095 288px,#000095 292px,#0000a4 296px,#0000d3 300px,#0003ff 304px,#0032ff 308px,#000eff 312px,#0000d4 316px,#0000b4 320px,#0000c3 324px,#0000d3 328px,#0000de 332px,#0000e5 336px,#0000ec 340px,#0000f1 344px,#0000f1 348px,#0000f1 352px,#000aff 356px,#0025ff 360px,#003bff 364px,#0049ff 368px,#004aff 372px,#004bff 376px,#004fff 380px,#0054ff 384px,#005aff 388px,#0063ff 392px,#006cff 396px,#005eff 400px,#0053ff 404px,#005aff 408px,#0060ff 412px,#0066ff 416px,#006dff 420px,#005eff 424px,#0040ff 428px,#0021ff 432px,#0000f2 436px,#0000c4 440px,#0000a3 444px,#00009e 448px,#00009b 450px)"></div><div style="top:32.0px;height:2.0px;background:linear-gradient(90deg,#0000fc 0px,#0000fb 4px,#0000f9 8px,#0000f8 12px,#0000f0 16px,#0000e0 20px,#0000d0 24px,#0000d5 28px,#0000e5 32px,#0000f6 36px,#0007ff 40px,#0008ff 44px,#0000f3 48px,#0000df 52px,#0000cb 56px,#0000bd 60px,#0000cd 64px,#0000dd 68px,#0000ed 72px,#0000e9 76px,#0000db 80px,#0000cd 84px,#0000e0 88px,#0000f8 92px,#0002ff 96px,#0000ee 100px,#0000dc 104px,#0000ec 108px,#0000ff 112px,#0013ff 116px,#0025ff 120px,#0034ff 124px,#0043ff 128px,#0052ff 132px,#0046ff 136px,#0022ff 140px,#0000fc 144px,#0000e9 148px,#0000f7 152px,#0007ff 156px,#0000f4 160px,#0000dd 164px,#0000c9 168px,#0000b6 172px,#0000a3 176px,#0000a0 180px,#0000a8 184px,#0000b0 188px,#0000b9 192px,#0000da 196px,#0000fb 200px,#0019ff 204px,#0035ff 208px,#004dff 212px,#004aff 216px,#0046ff 220px,#0040ff 224px,#0039ff 228px,#0020ff 232px,#0000f7 236px,#0000cf 240px,#0000a6 244px,#0000a6 248px,#0000b9 252px,#0000c3 256px,#0000a7 260px,#000097 264px,#000096 268px,#000096 272px,#000096 276px,#000096 280px,#000096 284px,#000096 288px,#000096 292px,#0000ab 296px,#0000ec 300px,#002eff 304px,#006eff 308px,#0046ff 312px,#0004ff 316px,#0000dc 320px,#0000ed 324px,#0000fd 328px,#0005ff 332px,#0003ff 336px,#0001ff 340px,#0000ff 344px,#0000ff 348px,#0000ff 352px,#0017ff 356px,#0032ff 360px,#0047ff 364px,#0052ff 368px,#0054ff 372px,#0056ff 376px,#0059ff 380px,#005fff 384px,#0065ff 388px,#006dff 392px,#0075ff 396px,#006aff 400px,#0060ff 404px,#0067ff 408px,#006dff 412px,#0072ff 416px,#0077ff 420px,#0068ff 424px,#004bff 428px,#002cff 432px,#0002ff 436px,#0000d6 440px,#0000b4 444px,#0000a6 448px,#00009e 450px)"></div><div style="top:34.0px;height:2.0px;background:linear-gradient(90deg,#0001ff 0px,#0001ff 4px,#0001ff 8px,#0002ff 12px,#0000f9 16px,#0000e8 20px,#0000d7 24px,#0000dd 28px,#0000ee 32px,#0000ff 36px,#0012ff 40px,#0013ff 44px,#0000fd 48px,#0000e8 52px,#0000d4 56px,#0000c6 60px,#0000d6 64px,#0000e7 68px,#0000f7 72px,#0000f2 76px,#0000e3 80px,#0000d4 84px,#0000e7 88px,#0002ff 92px,#000bff 96px,#0000f7 100px,#0000e4 104px,#0000f3 108px,#0007ff 112px,#001aff 116px,#002cff 120px,#003bff 124px,#004bff 128px,#005aff 132px,#004fff 136px,#0028ff 140px,#0002ff 144px,#0000ee 148px,#0000fe 152px,#0010ff 156px,#0000fb 160px,#0000e3 164px,#0000ce 168px,#0000bb 172px,#0000a8 176px,#0000a5 180px,#0000af 184px,#0000b8 188px,#0000c3 192px,#0000e3 196px,#0003ff 200px,#0022ff 204px,#0041ff 208px,#005bff 212px,#0056ff 216px,#0050ff 220px,#004eff 224px,#004cff 228px,#0033ff 232px,#0005ff 236px,#0000d7 240px,#0000a9 244px,#0000b0 248px,#0000d1 252px,#0000e2 256px,#0000b3 260px,#000098 264px,#000097 268px,#000096 272px,#000097 276px,#000097 280px,#000097 284px,#000097 288px,#000097 292px,#0000ad 296px,#0000f4 300px,#003bff 304px,#0081ff 308px,#0061ff 312px,#0026ff 316px,#0004ff 320px,#0011ff 324px,#001eff 328px,#0020ff 332px,#0019ff 336px,#0012ff 340px,#000dff 344px,#000dff 348px,#000dff 352px,#0025ff 356px,#0040ff 360px,#0054ff 364px,#005dff 368px,#005fff 372px,#0060ff 376px,#0064ff 380px,#006aff 384px,#0070ff 388px,#0077ff 392px,#007fff 396px,#0075ff 400px,#006dff 404px,#0074ff 408px,#007aff 412px,#007eff 416px,#0082ff 420px,#0072ff 424px,#0056ff 428px,#0038ff 432px,#0011ff 436px,#0000e8 440px,#0000c7 444px,#0000b5 448px,#0000ac 450px)"></div><div style="top:36.0px;height:2.0px;background:linear-gradient(90deg,#0005ff 0px,#0007ff 4px,#0008ff 8px,#000aff 12px,#0002ff 16px,#0000f0 20px,#0000df 24px,#0000e5 28px,#0000f7 32px,#000aff 36px,#001cff 40px,#001dff 44px,#0007ff 48px,#0000f1 52px,#0000db 56px,#0000cd 60px,#0000de 64px,#0000ef 68px,#0002ff 72px,#0000fc 76px,#0000eb 80px,#0000db 84px,#0000ef 88px,#000bff 92px,#0014ff 96px,#0000ff 100px,#0000eb 104px,#0000fb 108px,#000fff 112px,#0021ff 116px,#0033ff 120px,#0043ff 124px,#0053ff 128px,#0063ff 132px,#0057ff 136px,#0031ff 140px,#000cff 144px,#0000f7 148px,#0009ff 152px,#001aff 156px,#0005ff 160px,#0000e9 164px,#0000d4 168px,#0000c0 172px,#0000ac 176px,#0000aa 180px,#0000b5 184px,#0000c0 188px,#0000cd 192px,#0000eb 196px,#000bff 200px,#002bff 204px,#004bff 208px,#0066ff 212px,#005eff 216px,#0056ff 220px,#0057ff 224px,#005cff 228px,#0044ff 232px,#0013ff 236px,#0000e1 240px,#0000b1 244px,#0000be 248px,#0000eb 252px,#0002ff 256px,#0000bf 260px,#000099 264px,#000098 268px,#000097 272px,#000097 276px,#000098 280px,#000098 284px,#000097 288px,#000097 292px,#0000b0 296px,#0000fc 300px,#0049ff 304px,#0094ff 308px,#007bff 312px,#0049ff 316px,#0029ff 320px,#002eff 324px,#0033ff 328px,#0031ff 332px,#0028ff 336px,#0020ff 340px,#001aff 344px,#001aff 348px,#001aff 352px,#0032ff 356px,#004dff 360px,#0061ff 364px,#006aff 368px,#006bff 372px,#006cff 376px,#006fff 380px,#0075ff 384px,#007aff 388px,#0081ff 392px,#0088ff 396px,#0080ff 400px,#007aff 404px,#0080ff 408px,#0086ff 412px,#0089ff 416px,#008cff 420px,#007dff 424px,#0061ff 428px,#0044ff 432px,#0020ff 436px,#0000fa 440px,#0000dc 444px,#0000cd 448px,#0000c5 450px)"></div><div style="top:38.0px;height:2.0px;background:linear-gradient(90deg,#0009ff 0px,#000cff 4px,#000fff 8px,#0012ff 12px,#000bff 16px,#0000f8 20px,#0000e6 24px,#0000ec 28px,#0000ff 32px,#0013ff 36px,#0026ff 40px,#0027ff 44px,#0011ff 48px,#0000f9 52px,#0000e3 56px,#0000d4 60px,#0000e6 64px,#0000f8 68px,#000bff 72px,#0006ff 76px,#0000f4 80px,#0000e2 84px,#0000f8 88px,#0015ff 92px,#001eff 96px,#0009ff 100px,#0000f3 104px,#0003ff 108px,#0016ff 112px,#0028ff 116px,#003aff 120px,#004bff 124px,#005bff 128px,#006cff 132px,#0061ff 136px,#003dff 140px,#0018ff 144px,#0006ff 148px,#0017ff 152px,#0027ff 156px,#000fff 160px,#0000ef 164px,#0000d9 168px,#0000c5 172px,#0000b0 176px,#0000b0 180px,#0000bd 184px,#0000ca 188px,#0000d9 192px,#0000f7 196px,#0017ff 200px,#0036ff 204px,#0056ff 208px,#0070ff 212px,#0066ff 216px,#005cff 220px,#0060ff 224px,#006aff 228px,#0053ff 232px,#0022ff 236px,#0000ef 240px,#0000bd 244px,#0000ce 248px,#0002ff 252px,#001aff 256px,#0000c8 260px,#000099 264px,#000098 268px,#000098 272px,#000098 276px,#000098 280px,#000098 284px,#000098 288px,#000098 292px,#0000b2 296px,#0005ff 300px,#0056ff 304px,#00a7ff 308px,#0092ff 312px,#0063ff 316px,#0044ff 320px,#0045ff 324px,#0046ff 328px,#0041ff 332px,#0038ff 336px,#0030ff 340px,#002aff 344px,#002aff 348px,#002aff 352px,#0041ff 356px,#005bff 360px,#006eff 364px,#0078ff 368px,#0078ff 372px,#0078ff 376px,#007bff 380px,#0080ff 384px,#0085ff 388px,#008bff 392px,#0092ff 396px,#008cff 400px,#0087ff 404px,#008dff 408px,#0093ff 412px,#0095ff 416px,#0097ff 420px,#0087ff 424px,#006cff 428px,#0050ff 432px,#002fff 436px,#000dff 440px,#0000f2 444px,#0000e4 448px,#0000de 450px)"></div><div style="top:40.0px;height:2.0px;background:linear-gradient(90deg,#000eff 0px,#0012ff 4px,#0016ff 8px,#001aff 12px,#0014ff 16px,#0001ff 20px,#0000ed 24px,#0000f4 28px,#0009ff 32px,#001dff 36px,#0030ff 40px,#0032ff 44px,#001aff 48px,#0003ff 52px,#0000ea 56px,#0000db 60px,#0000ee 64px,#0002ff 68px,#0015ff 72px,#000fff 76px,#0000fc 80px,#0000ea 84px,#0001ff 88px,#001fff 92px,#0029ff 96px,#0013ff 100px,#0000fc 104px,#000bff 108px,#001dff 112px,#0030ff 116px,#0041ff 120px,#0052ff 124px,#0063ff 128px,#0074ff 132px,#006bff 136px,#0048ff 140px,#0025ff 144px,#0014ff 148px,#0024ff 152px,#0034ff 156px,#001aff 160px,#0000f9 164px,#0000e3 168px,#0000d1 172px,#0000be 176px,#0000be 180px,#0000cb 184px,#0000d8 188px,#0000e6 192px,#0006ff 196px,#0025ff 200px,#0044ff 204px,#0062ff 208px,#007aff 212px,#006eff 216px,#0063ff 220px,#0068ff 224px,#0078ff 228px,#0063ff 232px,#0030ff 236px,#0000fc 240px,#0000c9 244px,#0000dc 248px,#0013ff 252px,#002dff 256px,#0000d5 260px,#0000a2 264px,#00009c 268px,#000099 272px,#000099 276px,#000099 280px,#000099 284px,#000099 288px,#000099 292px,#0000b5 296px,#000bff 300px,#0061ff 304px,#00b7ff 308px,#00a2ff 312px,#0073ff 316px,#0054ff 320px,#0055ff 324px,#0056ff 328px,#0052ff 332px,#004aff 336px,#0041ff 340px,#003bff 344px,#003bff 348px,#003bff 352px,#0052ff 356px,#006cff 360px,#007fff 364px,#0085ff 368px,#0085ff 372px,#0085ff 376px,#0088ff 380px,#008cff 384px,#0090ff 388px,#0096ff 392px,#009dff 396px,#0098ff 400px,#0094ff 404px,#009aff 408px,#00a0ff 412px,#00a1ff 416px,#00a1ff 420px,#0092ff 424px,#0077ff 428px,#005cff 432px,#003eff 436px,#0020ff 440px,#0008ff 444px,#0000fc 448px,#0000f6 450px)"></div><div style="top:42.0px;height:2.0px;background:linear-gradient(90deg,#0012ff 0px,#0017ff 4px,#001dff 8px,#0023ff 12px,#001cff 16px,#0009ff 20px,#0000f5 24px,#0000fc 28px,#0011ff 32px,#0026ff 36px,#003bff 40px,#003cff 44px,#0023ff 48px,#000bff 52px,#0000f1 56px,#0000e2 60px,#0000f6 64px,#000bff 68px,#0020ff 72px,#0019ff 76px,#0006ff 80px,#0000f1 84px,#0009ff 88px,#0029ff 92px,#0033ff 96px,#001dff 100px,#0006ff 104px,#0014ff 108px,#0025ff 112px,#0037ff 116px,#0049ff 120px,#005bff 124px,#006dff 128px,#0080ff 132px,#0077ff 136px,#0055ff 140px,#0033ff 144px,#0022ff 148px,#0031ff 152px,#0041ff 156px,#0028ff 160px,#0008ff 164px,#0000f4 168px,#0000e5 172px,#0000d6 176px,#0000d6 180px,#0000df 184px,#0000e9 188px,#0000f4 192px,#0015ff 196px,#0034ff 200px,#0052ff 204px,#006eff 208px,#0085ff 212px,#0077ff 216px,#0069ff 220px,#0071ff 224px,#0085ff 228px,#0072ff 232px,#003fff 236px,#000bff 240px,#0000d6 244px,#0000ea 248px,#0024ff 252px,#0040ff 256px,#0000e9 260px,#0000b2 264px,#0000a3 268px,#000099 272px,#000099 276px,#00009a 280px,#00009a 284px,#00009a 288px,#000099 292px,#0000b6 296px,#0011ff 300px,#006aff 304px,#00c4ff 308px,#00b1ff 312px,#0082ff 316px,#0064ff 320px,#0066ff 324px,#0067ff 328px,#0063ff 332px,#005bff 336px,#0052ff 340px,#004cff 344px,#004cff 348px,#004cff 352px,#0065ff 356px,#0081ff 360px,#0092ff 364px,#0093ff 368px,#0093ff 372px,#0093ff 376px,#0095ff 380px,#0099ff 384px,#009dff 388px,#00a3ff 392px,#00abff 396px,#00a5ff 400px,#00a1ff 404px,#00a7ff 408px,#00adff 412px,#00adff 416px,#00adff 420px,#009dff 424px,#0083ff 428px,#0068ff 432px,#004dff 436px,#0032ff 440px,#001cff 444px,#0013ff 448px,#000eff 450px)"></div><div style="top:44.0px;height:2.0px;background:linear-gradient(90deg,#0016ff 0px,#001dff 4px,#0024ff 8px,#002bff 12px,#0025ff 16px,#0011ff 20px,#0000fc 24px,#0004ff 28px,#001aff 32px,#002fff 36px,#0045ff 40px,#0046ff 44px,#002dff 48px,#0013ff 52px,#0000f9 56px,#0000e9 60px,#0000fe 64px,#0015ff 68px,#002aff 72px,#0023ff 76px,#000eff 80px,#0000f8 84px,#0012ff 88px,#0032ff 92px,#003eff 96px,#0026ff 100px,#000fff 104px,#001dff 108px,#002dff 112px,#003eff 116px,#0050ff 120px,#0065ff 124px,#0079ff 128px,#008eff 132px,#0086ff 136px,#0063ff 140px,#0041ff 144px,#002fff 148px,#003fff 152px,#004eff 156px,#0035ff 160px,#0016ff 164px,#0006ff 168px,#0000f9 172px,#0000ed 176px,#0000ed 180px,#0000f3 184px,#0000fa 188px,#0003ff 192px,#0023ff 196px,#0043ff 200px,#0060ff 204px,#007aff 208px,#008fff 212px,#007fff 216px,#006fff 220px,#007aff 224px,#0093ff 228px,#0082ff 232px,#004fff 236px,#001bff 240px,#0000e6 244px,#0000fb 248px,#0036ff 252px,#0054ff 256px,#0000fd 260px,#0000c3 264px,#0000aa 268px,#00009e 272px,#0000a9 276px,#0000b4 280px,#0000bc 284px,#0000af 288px,#0000a2 292px,#0000b8 296px,#0016ff 300px,#0073ff 304px,#00d0ff 308px,#00bfff 312px,#0092ff 316px,#0074ff 320px,#0076ff 324px,#0078ff 328px,#0074ff 332px,#006cff 336px,#0063ff 340px,#005eff 344px,#005eff 348px,#005eff 352px,#0078ff 356px,#0095ff 360px,#00a5ff 364px,#00a0ff 368px,#00a0ff 372px,#00a0ff 376px,#00a2ff 380px,#00a7ff 384px,#00abff 388px,#00b1ff 392px,#00b9ff 396px,#00b3ff 400px,#00afff 404px,#00b5ff 408px,#00baff 412px,#00baff 416px,#00bbff 420px,#00abff 424px,#0091ff 428px,#0077ff 432px,#005eff 436px,#0045ff 440px,#0031ff 444px,#0027ff 448px,#0022ff 450px)"></div><div style="top:46.0px;height:2.0px;background:linear-gradient(90deg,#001cff 0px,#0023ff 4px,#002bff 8px,#0033ff 12px,#002eff 16px,#001bff 20px,#0008ff 24px,#0010ff 28px,#0026ff 32px,#003cff 36px,#0052ff 40px,#0053ff 44px,#0038ff 48px,#001dff 52px,#0002ff 56px,#0000f0 60px,#0007ff 64px,#001eff 68px,#0034ff 72px,#002eff 76px,#0019ff 80px,#0004ff 84px,#001dff 88px,#003dff 92px,#0048ff 96px,#0030ff 100px,#0019ff 104px,#0025ff 108px,#0036ff 112px,#0046ff 116px,#0058ff 120px,#006fff 124px,#0085ff 128px,#009cff 132px,#0095ff 136px,#0072ff 140px,#004fff 144px,#0040ff 148px,#0055ff 152px,#006aff 156px,#004bff 160px,#0025ff 164px,#0016ff 168px,#000dff 172px,#0004ff 176px,#0003ff 180px,#0007ff 184px,#000bff 188px,#0011ff 192px,#0032ff 196px,#0052ff 200px,#006eff 204px,#0086ff 208px,#009aff 212px,#0087ff 216px,#0075ff 220px,#0081ff 224px,#009eff 228px,#0090ff 232px,#005eff 236px,#002cff 240px,#0000f9 244px,#000fff 248px,#0049ff 252px,#0067ff 256px,#0012ff 260px,#0000d6 264px,#0000bd 268px,#0000b4 272px,#0000d1 276px,#0000ed 280px,#0001ff 284px,#0000df 288px,#0000be 292px,#0000c6 296px,#0024ff 300px,#0081ff 304px,#00deff 308px,#00cdff 312px,#00a1ff 316px,#0084ff 320px,#0085ff 324px,#0086ff 328px,#0084ff 332px,#007eff 336px,#0079ff 340px,#0076ff 344px,#0076ff 348px,#0076ff 352px,#008fff 356px,#00abff 360px,#00b8ff 364px,#00afff 368px,#00aeff 372px,#00aeff 376px,#00b0ff 380px,#00b4ff 384px,#00b9ff 388px,#00bfff 392px,#00c6ff 396px,#00c2ff 400px,#00beff 404px,#00c3ff 408px,#00c7ff 412px,#00c8ff 416px,#00c8ff 420px,#00b9ff 424px,#00a1ff 428px,#0089ff 432px,#0071ff 436px,#0059ff 440px,#0045ff 444px,#003bff 448px,#0037ff 450px)"></div><div style="top:48.0px;height:2.0px;background:linear-gradient(90deg,#0021ff 0px,#002bff 4px,#0035ff 8px,#003fff 12px,#003bff 16px,#0027ff 20px,#0014ff 24px,#001dff 28px,#0034ff 32px,#004aff 36px,#0061ff 40px,#0062ff 44px,#0045ff 48px,#0028ff 52px,#000aff 56px,#0000f6 60px,#000fff 64px,#0027ff 68px,#003fff 72px,#0038ff 76px,#0024ff 80px,#000fff 84px,#0029ff 88px,#004bff 92px,#0056ff 96px,#003cff 100px,#0022ff 104px,#002eff 108px,#003eff 112px,#004dff 116px,#0061ff 120px,#0079ff 124px,#0091ff 128px,#00aaff 132px,#00a4ff 136px,#0081ff 140px,#005fff 144px,#0053ff 148px,#0074ff 152px,#0095ff 156px,#006bff 160px,#0037ff 164px,#0025ff 168px,#001fff 172px,#0019ff 176px,#0017ff 180px,#0019ff 184px,#001aff 188px,#001eff 192px,#003eff 196px,#005fff 200px,#007aff 204px,#0092ff 208px,#00a4ff 212px,#0091ff 216px,#007fff 220px,#008bff 224px,#00a7ff 228px,#009aff 232px,#006bff 236px,#003cff 240px,#000cff 244px,#0022ff 248px,#005bff 252px,#0078ff 256px,#0026ff 260px,#0000ed 264px,#0000da 268px,#0000da 272px,#0003ff 276px,#002bff 280px,#0046ff 284px,#0015ff 288px,#0000e3 292px,#0000df 296px,#0038ff 300px,#0090ff 304px,#00e8ff 308px,#00d7ff 312px,#00adff 316px,#0091ff 320px,#0091ff 324px,#0091ff 328px,#0092ff 332px,#0093ff 336px,#0093ff 340px,#0094ff 344px,#0094ff 348px,#0094ff 352px,#00aaff 356px,#00c3ff 360px,#00ccff 364px,#00bfff 368px,#00bdff 372px,#00bcff 376px,#00bdff 380px,#00c2ff 384px,#00c7ff 388px,#00cdff 392px,#00d4ff 396px,#00d0ff 400px,#00cdff 404px,#00d1ff 408px,#00d4ff 412px,#00d5ff 416px,#00d5ff 420px,#00c8ff 424px,#00b1ff 428px,#009bff 432px,#0083ff 436px,#006cff 440px,#0059ff 444px,#0050ff 448px,#004bff 450px)"></div><div style="top:50.0px;height:2.0px;background:linear-gradient(90deg,#0026ff 0px,#0033ff 4px,#0040ff 8px,#004dff 12px,#004aff 16px,#0035ff 20px,#0021ff 24px,#0029ff 28px,#0041ff 32px,#0059ff 36px,#0071ff 40px,#0071ff 44px,#0052ff 48px,#0032ff 52px,#0013ff 56px,#0000fe 60px,#0017ff 64px,#0030ff 68px,#0049ff 72px,#0043ff 76px,#002eff 80px,#0019ff 84px,#0036ff 88px,#005cff 92px,#0068ff 96px,#004aff 100px,#002cff 104px,#0037ff 108px,#0046ff 112px,#0055ff 116px,#0069ff 120px,#0083ff 124px,#009dff 128px,#00b8ff 132px,#00b3ff 136px,#0090ff 140px,#006eff 144px,#0066ff 148px,#0093ff 152px,#00c0ff 156px,#008cff 160px,#0049ff 164px,#0035ff 168px,#0031ff 172px,#002dff 176px,#002bff 180px,#0029ff 184px,#0028ff 188px,#0028ff 192px,#0049ff 196px,#0069ff 200px,#0085ff 204px,#009dff 208px,#00afff 212px,#009eff 216px,#008cff 220px,#0097ff 224px,#00b1ff 228px,#00a5ff 232px,#0079ff 236px,#004dff 240px,#0021ff 244px,#0036ff 248px,#006cff 252px,#0088ff 256px,#0038ff 260px,#0005ff 264px,#0000f8 268px,#0000fd 272px,#002aff 276px,#0056ff 280px,#0073ff 284px,#003bff 288px,#0004ff 292px,#0000f8 296px,#004aff 300px,#009cff 304px,#00edff 308px,#00deff 312px,#00b6ff 316px,#009cff 320px,#009cff 324px,#009cff 328px,#00a0ff 332px,#00a7ff 336px,#00aeff 340px,#00b2ff 344px,#00b2ff 348px,#00b2ff 352px,#00c3ff 356px,#00d7ff 360px,#00dcff 364px,#00cfff 368px,#00cdff 372px,#00caff 376px,#00ccff 380px,#00d1ff 384px,#00d5ff 388px,#00dbff 392px,#00e2ff 396px,#00dfff 400px,#00dcff 404px,#00dfff 408px,#00e1ff 412px,#00e2ff 416px,#00e3ff 420px,#00d6ff 424px,#00c2ff 428px,#00adff 432px,#0097ff 436px,#0081ff 440px,#006fff 444px,#0065ff 448px,#005fff 450px)"></div><div style="top:52.0px;height:2.0px;background:linear-gradient(90deg,#002cff 0px,#003cff 4px,#004cff 8px,#005bff 12px,#0059ff 16px,#0043ff 20px,#002dff 24px,#0036ff 28px,#004eff 32px,#0067ff 36px,#0080ff 40px,#0080ff 44px,#005fff 48px,#003dff 52px,#001cff 56px,#0006ff 60px,#0021ff 64px,#003cff 68px,#0057ff 72px,#0051ff 76px,#003bff 80px,#0024ff 84px,#0044ff 88px,#006dff 92px,#007aff 96px,#0057ff 100px,#0035ff 104px,#0040ff 108px,#004eff 112px,#005dff 116px,#0071ff 120px,#008cff 124px,#00a8ff 128px,#00c4ff 132px,#00c0ff 136px,#009eff 140px,#007cff 144px,#0077ff 148px,#00a8ff 152px,#00d9ff 156px,#00a1ff 160px,#0059ff 164px,#0046ff 168px,#0044ff 172px,#0042ff 176px,#003eff 180px,#003aff 184px,#0035ff 188px,#0033ff 192px,#0053ff 196px,#0074ff 200px,#008fff 204px,#00a7ff 208px,#00baff 212px,#00aaff 216px,#009aff 220px,#00a3ff 224px,#00bbff 228px,#00b0ff 232px,#0087ff 236px,#005fff 240px,#0037ff 244px,#004bff 248px,#007eff 252px,#0098ff 256px,#004bff 260px,#001bff 264px,#0012ff 268px,#0018ff 272px,#0042ff 276px,#006cff 280px,#0087ff 284px,#0052ff 288px,#001dff 292px,#0011ff 296px,#005dff 300px,#00a8ff 304px,#00f3ff 308px,#00e4ff 312px,#00bfff 316px,#00a7ff 320px,#00a7ff 324px,#00a7ff 328px,#00acff 332px,#00b8ff 336px,#00c3ff 340px,#00cbff 344px,#00cbff 348px,#00ccff 352px,#00d8ff 356px,#00e6ff 360px,#00e9ff 364px,#00dfff 368px,#00ddff 372px,#00dbff 376px,#00dcff 380px,#00e0ff 384px,#00e4ff 388px,#00e9ff 392px,#00f0ff 396px,#00edff 400px,#00ebff 404px,#00edff 408px,#00eeff 412px,#00efff 416px,#00f0ff 420px,#00e5ff 424px,#00d2ff 428px,#00bfff 432px,#00abff 436px,#0097ff 440px,#0086ff 444px,#007bff 448px,#0076ff 450px)"></div><div style="top:54.0px;height:2.0px;background:linear-gradient(90deg,#0031ff 0px,#0044ff 4px,#0057ff 8px,#006aff 12px,#0069ff 16px,#0051ff 20px,#0039ff 24px,#0042ff 28px,#005cff 32px,#0076ff 36px,#0090ff 40px,#0090ff 44px,#006cff 48px,#0048ff 52px,#0025ff 56px,#000eff 60px,#002cff 64px,#004bff 68px,#0069ff 72px,#0062ff 76px,#0049ff 80px,#002fff 84px,#0052ff 88px,#007eff 92px,#008bff 96px,#0065ff 100px,#003fff 104px,#0049ff 108px,#0057ff 112px,#0065ff 116px,#0079ff 120px,#0095ff 124px,#00b2ff 128px,#00ceff 132px,#00ccff 136px,#00abff 140px,#008bff 144px,#0085ff 148px,#00b3ff 152px,#00e0ff 156px,#00abff 160px,#0067ff 164px,#0056ff 168px,#0056ff 172px,#0055ff 176px,#0051ff 180px,#004aff 184px,#0042ff 188px,#003eff 192px,#005eff 196px,#007fff 200px,#009aff 204px,#00b2ff 208px,#00c5ff 212px,#00b6ff 216px,#00a7ff 220px,#00b0ff 224px,#00c5ff 228px,#00bbff 232px,#0096ff 236px,#0071ff 240px,#004cff 244px,#0060ff 248px,#008fff 252px,#00a7ff 256px,#005dff 260px,#0030ff 264px,#0026ff 268px,#002dff 272px,#0056ff 276px,#0080ff 280px,#009cff 284px,#0067ff 288px,#0032ff 292px,#0026ff 296px,#006cff 300px,#00b2ff 304px,#00f9ff 308px,#00ebff 312px,#00c8ff 316px,#00b1ff 320px,#00b1ff 324px,#00b1ff 328px,#00b8ff 332px,#00c6ff 336px,#00d3ff 340px,#00ddff 344px,#00dfff 348px,#00e1ff 352px,#00eaff 356px,#00f4ff 360px,#00f6ff 364px,#00efff 368px,#00edff 372px,#00ebff 376px,#00ebff 380px,#00eeff 384px,#00f2ff 388px,#00f7ff 392px,#00feff 396px,#00fcff 400px,#00faff 404px,#00fbff 408px,#00fbff 412px,#00fcff 416px,#00fcff 420px,#00f2ff 424px,#00e2ff 428px,#00d1ff 432px,#00bfff 436px,#00adff 440px,#009eff 444px,#0093ff 448px,#008dff 450px)"></div><div style="top:56.0px;height:2.0px;background:linear-gradient(90deg,#0034ff 0px,#004bff 4px,#0061ff 8px,#0078ff 12px,#0079ff 16px,#0063ff 20px,#004dff 24px,#0056ff 28px,#006fff 32px,#0089ff 36px,#00a2ff 40px,#00a0ff 44px,#007aff 48px,#0054ff 52px,#002eff 56px,#0016ff 60px,#0038ff 64px,#005aff 68px,#007bff 72px,#0074ff 76px,#0057ff 80px,#003bff 84px,#005fff 88px,#008fff 92px,#009fff 96px,#007bff 100px,#0057ff 104px,#005dff 108px,#0067ff 112px,#0070ff 116px,#0082ff 120px,#009fff 124px,#00bcff 128px,#00d9ff 132px,#00d7ff 136px,#00b8ff 140px,#0099ff 144px,#0093ff 148px,#00bdff 152px,#00e7ff 156px,#00b5ff 160px,#0076ff 164px,#0066ff 168px,#0067ff 172px,#0067ff 176px,#0062ff 180px,#0058ff 184px,#004fff 188px,#0048ff 192px,#0069ff 196px,#0089ff 200px,#00a5ff 204px,#00bcff 208px,#00cfff 212px,#00c2ff 216px,#00b4ff 220px,#00bcff 224px,#00cfff 228px,#00c6ff 232px,#00a5ff 236px,#0083ff 240px,#0062ff 244px,#0075ff 248px,#00a1ff 252px,#00b7ff 256px,#0070ff 260px,#0044ff 264px,#003aff 268px,#0041ff 272px,#006aff 276px,#0094ff 280px,#00afff 284px,#007aff 288px,#0044ff 292px,#0036ff 296px,#0079ff 300px,#00bbff 304px,#00feff 308px,#00f1ff 312px,#00d1ff 316px,#00bcff 320px,#00bcff 324px,#00bcff 328px,#00c4ff 332px,#00d4ff 336px,#00e4ff 340px,#00efff 344px,#00f3ff 348px,#00f6ff 352px,#00fcff 356px,#03fffc 360px,#04fffb 364px,#00ffff 368px,#00fdff 372px,#00fbff 376px,#00fbff 380px,#00fdff 384px,#00ffff 388px,#05fffa 392px,#0cfff3 396px,#0bfff4 400px,#09fff6 404px,#09fff6 408px,#08fff7 412px,#08fff7 416px,#08fff7 420px,#00feff 424px,#00f0ff 428px,#00e2ff 432px,#00d3ff 436px,#00c3ff 440px,#00b5ff 444px,#00aaff 448px,#00a5ff 450px)"></div><div style="top:58.0px;height:2.0px;background:linear-gradient(90deg,#0037ff 0px,#0053ff 4px,#006fff 8px,#008bff 12px,#008fff 16px,#0078ff 20px,#0061ff 24px,#006aff 28px,#0083ff 32px,#009dff 36px,#00b6ff 40px,#00b3ff 44px,#008aff 48px,#0061ff 52px,#0037ff 56px,#001eff 60px,#0043ff 64px,#0068ff 68px,#008eff 72px,#0087ff 76px,#006aff 80px,#004dff 84px,#0072ff 88px,#00a2ff 92px,#00b3ff 96px,#0091ff 100px,#006eff 104px,#0071ff 108px,#0077ff 112px,#007dff 116px,#008dff 120px,#00aaff 124px,#00c6ff 128px,#00e3ff 132px,#00e2ff 136px,#00c4ff 140px,#00a5ff 144px,#009fff 148px,#00c7ff 152px,#00eeff 156px,#00bfff 160px,#0084ff 164px,#0076ff 168px,#0077ff 172px,#0079ff 176px,#0074ff 180px,#006aff 184px,#0061ff 188px,#005aff 192px,#0078ff 196px,#0095ff 200px,#00afff 204px,#00c5ff 208px,#00d8ff 212px,#00ccff 216px,#00c1ff 220px,#00c8ff 224px,#00d8ff 228px,#00cfff 232px,#00b2ff 236px,#0095ff 240px,#0078ff 244px,#0089ff 248px,#00b2ff 252px,#00c6ff 256px,#0082ff 260px,#0058ff 264px,#004fff 268px,#0055ff 272px,#007dff 276px,#00a5ff 280px,#00c0ff 284px,#008bff 288px,#0055ff 292px,#0046ff 296px,#0085ff 300px,#00c4ff 304px,#04fffb 308px,#00f8ff 312px,#00daff 316px,#00c7ff 320px,#00c7ff 324px,#00c7ff 328px,#00ccff 332px,#00d7ff 336px,#00e2ff 340px,#00edff 344px,#00f9ff 348px,#05fffa 352px,#0afff5 356px,#0ffff0 360px,#12ffed 364px,#10ffef 368px,#0efff1 372px,#0cfff3 376px,#0bfff4 380px,#0cfff3 384px,#0dfff2 388px,#13ffec 392px,#1affe5 396px,#19ffe6 400px,#17ffe8 404px,#16ffe9 408px,#14ffeb 412px,#14ffeb 416px,#13ffec 420px,#0bfff4 424px,#00ffff 428px,#00f3ff 432px,#00e6ff 436px,#00d9ff 440px,#00cdff 444px,#00c2ff 448px,#00bcff 450px)"></div><div style="top:60.0px;height:2.0px;background:linear-gradient(90deg,#003aff 0px,#005dff 4px,#007fff 8px,#00a2ff 12px,#00a8ff 16px,#008fff 20px,#0076ff 24px,#007eff 28px,#0098ff 32px,#00b1ff 36px,#00caff 40px,#00c6ff 44px,#009aff 48px,#006dff 52px,#0041ff 56px,#0025ff 60px,#004eff 64px,#0077ff 68px,#00a0ff 72px,#009cff 76px,#0082ff 80px,#0068ff 84px,#008aff 88px,#00b7ff 92px,#00c6ff 96px,#00a6ff 100px,#0086ff 104px,#0085ff 108px,#0088ff 112px,#008aff 116px,#0097ff 120px,#00b3ff 124px,#00d0ff 128px,#00ecff 132px,#00eaff 136px,#00cdff 140px,#00afff 144px,#00a9ff 148px,#00cfff 152px,#00f5ff 156px,#00c9ff 160px,#0092ff 164px,#0086ff 168px,#0088ff 172px,#008aff 176px,#0087ff 180px,#0080ff 184px,#0079ff 188px,#0073ff 192px,#008bff 196px,#00a4ff 200px,#00baff 204px,#00cfff 208px,#00e0ff 212px,#00d7ff 216px,#00cdff 220px,#00d3ff 224px,#00e0ff 228px,#00d8ff 232px,#00bfff 236px,#00a6ff 240px,#008dff 244px,#009dff 248px,#00c2ff 252px,#00d4ff 256px,#0097ff 260px,#0070ff 264px,#0064ff 268px,#0068ff 272px,#008eff 276px,#00b4ff 280px,#00cdff 284px,#0099ff 288px,#0066ff 292px,#0056ff 296px,#0091ff 300px,#00cbff 304px,#07fff8 308px,#00fcff 312px,#00e2ff 316px,#00d1ff 320px,#00d1ff 324px,#00d1ff 328px,#00d1ff 332px,#00d0ff 336px,#00cfff 340px,#00d7ff 344px,#00f0ff 348px,#0afff5 352px,#16ffe9 356px,#1fffe0 360px,#23ffdc 364px,#20ffdf 368px,#1dffe2 372px,#1affe5 376px,#19ffe6 380px,#19ffe6 384px,#1affe5 388px,#20ffdf 392px,#28ffd7 396px,#27ffd8 400px,#25ffda 404px,#22ffdd 408px,#20ffdf 412px,#1fffe0 416px,#1effe1 420px,#17ffe8 424px,#0efff1 428px,#04fffb 432px,#00f7ff 436px,#00ecff 440px,#00e1ff 444px,#00d8ff 448px,#00d3ff 450px)"></div><div style="top:62.0px;height:2.0px;background:linear-gradient(90deg,#0040ff 0px,#0069ff 4px,#0091ff 8px,#00baff 12px,#00c2ff 16px,#00a7ff 20px,#008bff 24px,#0092ff 28px,#00acff 32px,#00c5ff 36px,#00deff 40px,#00d9ff 44px,#00acff 48px,#007eff 52px,#0050ff 56px,#0034ff 60px,#005fff 64px,#008aff 68px,#00b5ff 72px,#00b3ff 76px,#009bff 80px,#0082ff 84px,#00a2ff 88px,#00ccff 92px,#00daff 96px,#00bcff 100px,#009dff 104px,#009aff 108px,#0099ff 112px,#0097ff 116px,#00a1ff 120px,#00bcff 124px,#00d7ff 128px,#00f2ff 132px,#00f1ff 136px,#00d5ff 140px,#00b9ff 144px,#00b3ff 148px,#00d7ff 152px,#00faff 156px,#00d4ff 160px,#00a2ff 164px,#0098ff 168px,#009aff 172px,#009dff 176px,#009bff 180px,#0095ff 184px,#0090ff 188px,#008cff 192px,#00a0ff 196px,#00b3ff 200px,#00c6ff 204px,#00d9ff 208px,#00e9ff 212px,#00e1ff 216px,#00d9ff 220px,#00ddff 224px,#00e7ff 228px,#00e1ff 232px,#00ccff 236px,#00b7ff 240px,#00a2ff 244px,#00b1ff 248px,#00d3ff 252px,#00e3ff 256px,#00b0ff 260px,#008dff 264px,#007fff 268px,#0080ff 272px,#00a2ff 276px,#00c4ff 280px,#00daff 284px,#00abff 288px,#007bff 292px,#006bff 296px,#009fff 300px,#00d3ff 304px,#08fff7 308px,#00ffff 312px,#00e9ff 316px,#00daff 320px,#00dbff 324px,#00dcff 328px,#00d5ff 332px,#00c8ff 336px,#00baff 340px,#00bfff 344px,#00e7ff 348px,#0ffff0 352px,#23ffdc 356px,#34ffcb 360px,#3affc5 364px,#30ffcf 368px,#2bffd4 372px,#27ffd8 376px,#25ffda 380px,#26ffd9 384px,#27ffd8 388px,#2dffd2 392px,#36ffc9 396px,#35ffca 400px,#33ffcc 404px,#2fffd0 408px,#2cffd3 412px,#2affd5 416px,#29ffd6 420px,#23ffdc 424px,#1cffe3 428px,#14ffeb 432px,#08fff7 436px,#00fcff 440px,#00f2ff 444px,#00eaff 448px,#00e6ff 450px)"></div><div style="top:64.0px;height:2.0px;background:linear-gradient(90deg,#0049ff 0px,#0077ff 4px,#00a4ff 8px,#00d2ff 12px,#00deff 16px,#00c5ff 20px,#00acff 24px,#00b2ff 28px,#00c8ff 32px,#00dfff 36px,#00f5ff 40px,#00eeff 44px,#00c1ff 48px,#0093ff 52px,#0066ff 56px,#004aff 60px,#0076ff 64px,#00a2ff 68px,#00ceff 72px,#00ccff 76px,#00b5ff 80px,#009dff 84px,#00baff 88px,#00e0ff 92px,#00eeff 96px,#00d5ff 100px,#00bbff 104px,#00b8ff 108px,#00b7ff 112px,#00b6ff 116px,#00bdff 120px,#00d2ff 124px,#00e6ff 128px,#00faff 132px,#00f7ff 136px,#00ddff 140px,#00c3ff 144px,#00bdff 148px,#00deff 152px,#01fffe 156px,#00dfff 160px,#00b4ff 164px,#00acff 168px,#00aeff 172px,#00b1ff 176px,#00b0ff 180px,#00acff 184px,#00a8ff 188px,#00a6ff 192px,#00b4ff 196px,#00c2ff 200px,#00d2ff 204px,#00e4ff 208px,#00f2ff 212px,#00ecff 216px,#00e6ff 220px,#00e8ff 224px,#00efff 228px,#00eaff 232px,#00daff 236px,#00cbff 240px,#00bbff 244px,#00c8ff 248px,#00e4ff 252px,#00f3ff 256px,#00c8ff 260px,#00aaff 264px,#009cff 268px,#009cff 272px,#00b9ff 276px,#00d6ff 280px,#00e8ff 284px,#00beff 288px,#0094ff 292px,#0086ff 296px,#00b2ff 300px,#00ddff 304px,#0afff5 308px,#03fffc 312px,#00efff 316px,#00e3ff 320px,#00e5ff 324px,#00e6ff 328px,#00d9ff 332px,#00beff 336px,#00a3ff 340px,#00a4ff 344px,#00dbff 348px,#14ffeb 352px,#30ffcf 356px,#49ffb6 360px,#51ffae 364px,#40ffbf 368px,#3affc5 372px,#33ffcc 376px,#30ffcf 380px,#31ffce 384px,#31ffce 388px,#37ffc8 392px,#3fffc0 396px,#40ffbf 400px,#40ffbf 404px,#3cffc3 408px,#37ffc8 412px,#34ffcb 416px,#31ffce 420px,#2dffd2 424px,#29ffd6 428px,#24ffdb 432px,#18ffe7 436px,#0dfff2 440px,#03fffc 444px,#00faff 448px,#00f7ff 450px)"></div><div style="top:66.0px;height:2.0px;background:linear-gradient(90deg,#0052ff 0px,#0084ff 4px,#00b6ff 8px,#00e7ff 12px,#00faff 16px,#00e9ff 20px,#00d8ff 24px,#00ddff 28px,#00edff 32px,#00feff 36px,#0ffff0 40px,#05fffa 44px,#00d6ff 48px,#00a9ff 52px,#007bff 56px,#005fff 60px,#008cff 64px,#00b9ff 68px,#00e6ff 72px,#00e7ff 76px,#00d3ff 80px,#00beff 84px,#00d7ff 88px,#00f9ff 92px,#07fff8 96px,#00f3ff 100px,#00dfff 104px,#00dbff 108px,#00d8ff 112px,#00d5ff 116px,#00d9ff 120px,#00e7ff 124px,#00f5ff 128px,#04fffb 132px,#00feff 136px,#00e8ff 140px,#00d2ff 144px,#00cdff 148px,#00e9ff 152px,#07fff8 156px,#00eaff 160px,#00c7ff 164px,#00c1ff 168px,#00c4ff 172px,#00c7ff 176px,#00c7ff 180px,#00c4ff 184px,#00c0ff 188px,#00beff 192px,#00c8ff 196px,#00d2ff 200px,#00deff 204px,#00edff 208px,#00faff 212px,#00f6ff 216px,#00f2ff 220px,#00f3ff 224px,#00f7ff 228px,#00f3ff 232px,#00eaff 236px,#00e1ff 240px,#00d7ff 244px,#00e3ff 248px,#00f9ff 252px,#04fffb 256px,#00e1ff 260px,#00c7ff 264px,#00b9ff 268px,#00b8ff 272px,#00cfff 276px,#00e7ff 280px,#00f6ff 284px,#00d2ff 288px,#00aeff 292px,#00a1ff 296px,#00c4ff 300px,#00e7ff 304px,#0cfff3 308px,#06fff9 312px,#00f6ff 316px,#00ecff 320px,#00eeff 324px,#00f0ff 328px,#00dfff 332px,#00bcff 336px,#0099ff 340px,#0097ff 344px,#00d7ff 348px,#18ffe7 352px,#3dffc2 356px,#5dffa2 360px,#67ff98 364px,#4effb1 368px,#46ffb9 372px,#3fffc0 376px,#3bffc4 380px,#3bffc4 384px,#3affc5 388px,#3dffc2 392px,#43ffbc 396px,#45ffba 400px,#46ffb9 404px,#40ffbf 408px,#3bffc4 412px,#38ffc7 416px,#36ffc9 420px,#35ffca 424px,#34ffcb 428px,#31ffce 432px,#27ffd8 436px,#1cffe3 440px,#13ffec 444px,#0bfff4 448px,#08fff7 450px)"></div><div style="top:68.0px;height:2.0px;background:linear-gradient(90deg,#0078ff 0px,#00a5ff 4px,#00d2ff 8px,#00ffff 12px,#14ffeb 16px,#0dfff2 20px,#05fffa 24px,#09fff6 28px,#13ffec 32px,#1dffe2 36px,#28ffd7 40px,#1cffe3 44px,#00f2ff 48px,#00caff 52px,#00a1ff 56px,#0088ff 60px,#00b1ff 64px,#00daff 68px,#03fffc 72px,#06fff9 76px,#00f5ff 80px,#00e5ff 84px,#00faff 88px,#16ffe9 92px,#21ffde 96px,#12ffed 100px,#04fffb 104px,#00feff 108px,#00f9ff 112px,#00f5ff 116px,#00f5ff 120px,#00fdff 124px,#05fffa 128px,#0cfff3 132px,#08fff7 136px,#00f7ff 140px,#00e7ff 144px,#00e3ff 148px,#00f8ff 152px,#0dfff2 156px,#00f6ff 160px,#00d9ff 164px,#00d5ff 168px,#00daff 172px,#00deff 176px,#00deff 180px,#00dbff 184px,#00d8ff 188px,#00d6ff 192px,#00dcff 196px,#00e3ff 200px,#00ecff 204px,#00f7ff 208px,#02fffd 212px,#02fffd 216px,#02fffd 220px,#01fffe 224px,#00ffff 228px,#00fdff 232px,#00faff 236px,#00f7ff 240px,#00f3ff 244px,#00feff 248px,#0ffff0 252px,#18ffe7 256px,#01fffe 260px,#00ebff 264px,#00d9ff 268px,#00d4ff 272px,#00e7ff 276px,#00faff 280px,#07fff8 284px,#00e7ff 288px,#00c8ff 292px,#00bcff 296px,#00d6ff 300px,#00f1ff 304px,#0dfff2 308px,#09fff6 312px,#00fcff 316px,#00f5ff 320px,#00f8ff 324px,#00fbff 328px,#00e8ff 332px,#00c2ff 336px,#009bff 340px,#0098ff 344px,#00daff 348px,#1dffe2 352px,#4cffb3 356px,#79ff86 360px,#82ff7d 364px,#58ffa7 368px,#51ffae 372px,#4bffb4 376px,#46ffb9 380px,#44ffbb 384px,#42ffbd 388px,#44ffbb 392px,#47ffb8 396px,#45ffba 400px,#42ffbd 404px,#3cffc3 408px,#36ffc9 412px,#38ffc7 416px,#3affc5 420px,#3bffc4 424px,#3dffc2 428px,#3cffc3 432px,#34ffcb 436px,#2bffd4 440px,#23ffdc 444px,#1bffe4 448px,#18ffe7 450px)"></div><div style="top:70.0px;height:2.0px;background:linear-gradient(90deg,#00bbff 0px,#00dbff 4px,#00fbff 8px,#1cffe3 12px,#2cffd3 16px,#28ffd7 20px,#24ffdb 24px,#28ffd7 28px,#2fffd0 32px,#37ffc8 36px,#3effc1 40px,#35ffca 44px,#16ffe9 48px,#00f6ff 52px,#00d7ff 56px,#00c4ff 60px,#00e3ff 64px,#04fffb 68px,#23ffdc 72px,#26ffd9 76px,#1affe5 80px,#0ffff0 84px,#1effe1 88px,#32ffcd 92px,#3dffc2 96px,#39ffc6 100px,#34ffcb 104px,#2cffd3 108px,#23ffdc 112px,#1affe5 116px,#16ffe9 120px,#19ffe6 124px,#1dffe2 128px,#20ffdf 132px,#1bffe4 136px,#0dfff2 140px,#00feff 144px,#00fbff 148px,#0dfff2 152px,#1effe1 156px,#0afff5 160px,#00f0ff 164px,#00edff 168px,#00f1ff 172px,#00f5ff 176px,#00f5ff 180px,#00f2ff 184px,#00f0ff 188px,#00eeff 192px,#00f2ff 196px,#00f5ff 200px,#00fbff 204px,#03fffc 208px,#09fff6 212px,#0ffff0 216px,#14ffeb 220px,#14ffeb 224px,#10ffef 228px,#0ffff0 232px,#10ffef 236px,#11ffee 240px,#12ffed 244px,#1affe5 248px,#25ffda 252px,#2cffd3 256px,#25ffda 260px,#16ffe9 264px,#00feff 268px,#00f3ff 272px,#02fffd 276px,#10ffef 280px,#18ffe7 284px,#00fbff 288px,#00dfff 292px,#00d2ff 296px,#00e6ff 300px,#00faff 304px,#0ffff0 308px,#0cfff3 312px,#04fffb 316px,#00ffff 320px,#06fff9 324px,#0cfff3 328px,#00f7ff 332px,#00cbff 336px,#009eff 340px,#0099ff 344px,#00ddff 348px,#22ffdd 352px,#5fffa0 356px,#9aff65 360px,#a4ff5b 364px,#63ff9c 368px,#59ffa6 372px,#4fffb0 376px,#4affb5 380px,#4affb5 384px,#4affb5 388px,#4affb5 392px,#4bffb4 396px,#45ffba 400px,#3fffc0 404px,#37ffc8 408px,#31ffce 412px,#37ffc8 416px,#3effc1 420px,#42ffbd 424px,#45ffba 428px,#47ffb8 432px,#41ffbe 436px,#3bffc4 440px,#35ffca 444px,#2cffd3 448px,#28ffd7 450px)"></div><div style="top:72.0px;height:2.0px;background:linear-gradient(90deg,#01fffe 0px,#06fff9 4px,#10ffef 8px,#2cffd3 12px,#3fffc0 16px,#41ffbe 20px,#41ffbe 24px,#44ffbb 28px,#49ffb6 32px,#4effb1 36px,#54ffab 40px,#4effb1 44px,#3affc5 48px,#26ffd9 52px,#12ffed 56px,#00f7ff 60px,#01fffe 64px,#20ffdf 68px,#3fffc0 72px,#45ffba 76px,#3fffc0 80px,#39ffc6 84px,#42ffbd 88px,#4dffb2 92px,#56ffa9 96px,#5cffa3 100px,#62ff9d 104px,#5affa5 108px,#4dffb2 112px,#3fffc0 116px,#38ffc7 120px,#3bffc4 124px,#3dffc2 128px,#3fffc0 132px,#3affc5 136px,#2dffd2 140px,#21ffde 144px,#1effe1 148px,#2bffd4 152px,#39ffc6 156px,#27ffd8 160px,#0ffff0 164px,#09fff6 168px,#0afff5 172px,#0dfff2 176px,#0efff1 180px,#0efff1 184px,#0dfff2 188px,#0cfff3 192px,#0ffff0 196px,#0cfff3 200px,#07fff8 204px,#02fffd 208px,#02fffd 212px,#09fff6 216px,#11ffee 220px,#17ffe8 224px,#1dffe2 228px,#23ffdc 232px,#25ffda 236px,#27ffd8 240px,#29ffd6 244px,#2fffd0 248px,#37ffc8 252px,#3fffc0 256px,#48ffb7 260px,#3effc1 264px,#23ffdc 268px,#12ffed 272px,#18ffe7 276px,#21ffde 280px,#24ffdb 284px,#0ffff0 288px,#00f7ff 292px,#00ebff 296px,#00f8ff 300px,#06fff9 304px,#14ffeb 308px,#12ffed 312px,#0cfff3 316px,#0afff5 320px,#10ffef 324px,#13ffec 328px,#00fcff 332px,#00ceff 336px,#00a0ff 340px,#00a0ff 344px,#00faff 348px,#56ffa9 352px,#91ff6e 356px,#c8ff37 360px,#c8ff37 364px,#77ff88 368px,#63ff9c 372px,#50ffaf 376px,#47ffb8 380px,#47ffb8 384px,#48ffb7 388px,#47ffb8 392px,#46ffb9 396px,#43ffbc 400px,#3effc1 404px,#36ffc9 408px,#2effd1 412px,#39ffc6 416px,#45ffba 420px,#4dffb2 424px,#53ffac 428px,#58ffa7 432px,#56ffa9 436px,#54ffab 440px,#50ffaf 444px,#48ffb7 448px,#43ffbc 450px)"></div><div style="top:74.0px;height:2.0px;background:linear-gradient(90deg,#41ffbe 0px,#2affd5 4px,#20ffdf 8px,#3fffc0 12px,#5bffa4 16px,#61ff9e 20px,#62ff9d 24px,#65ff9a 28px,#67ff98 32px,#6aff95 36px,#6cff93 40px,#69ff96 44px,#5effa1 48px,#54ffab 52px,#49ffb6 56px,#26ffd9 60px,#16ffe9 64px,#3bffc4 68px,#60ff9f 72px,#6aff95 76px,#67ff98 80px,#63ff9c 84px,#69ff96 88px,#6fff90 92px,#77ff88 96px,#7fff80 100px,#88ff77 104px,#86ff79 108px,#79ff86 112px,#63ff9c 116px,#5bffa4 120px,#5dffa2 124px,#5effa1 128px,#5effa1 132px,#59ffa6 136px,#51ffae 140px,#49ffb6 144px,#46ffb9 148px,#4dffb2 152px,#54ffab 156px,#46ffb9 160px,#31ffce 164px,#26ffd9 168px,#22ffdd 172px,#25ffda 176px,#27ffd8 180px,#29ffd6 184px,#2dffd2 188px,#31ffce 192px,#35ffca 196px,#27ffd8 200px,#0ffff0 204px,#00f6ff 208px,#00eeff 212px,#00edff 216px,#00ecff 220px,#00fdff 224px,#1affe5 228px,#31ffce 232px,#31ffce 236px,#30ffcf 240px,#2fffd0 244px,#3affc5 248px,#4bffb4 252px,#5effa1 256px,#71ff8e 260px,#60ff9f 264px,#40ffbf 268px,#26ffd9 272px,#24ffdb 276px,#28ffd7 280px,#2bffd4 284px,#21ffde 288px,#12ffed 292px,#05fffa 296px,#07fff8 300px,#09fff6 304px,#0cfff3 308px,#09fff6 312px,#04fffb 316px,#00ffff 320px,#00ffff 324px,#00faff 328px,#00e8ff 332px,#00c9ff 336px,#00abff 340px,#00bfff 344px,#35ffca 348px,#aaff55 352px,#d4ff2b 356px,#f4ff0b 360px,#e6ff19 364px,#93ff6c 368px,#73ff8c 372px,#52ffad 376px,#41ffbe 380px,#3fffc0 384px,#3cffc3 388px,#38ffc7 392px,#34ffcb 396px,#3bffc4 400px,#40ffbf 404px,#36ffc9 408px,#2dffd2 412px,#3effc1 416px,#4fffb0 420px,#5bffa4 424px,#64ff9b 428px,#6cff93 432px,#6eff91 436px,#70ff8f 440px,#70ff8f 444px,#6aff95 448px,#68ff97 450px)"></div><div style="top:76.0px;height:2.0px;background:linear-gradient(90deg,#79ff86 0px,#55ffaa 4px,#41ffbe 8px,#60ff9f 12px,#7fff80 16px,#86ff79 20px,#87ff78 24px,#88ff77 28px,#89ff76 32px,#8aff75 36px,#8cff73 40px,#89ff76 44px,#81ff7e 48px,#78ff87 52px,#70ff8f 56px,#52ffad 60px,#3effc1 64px,#62ff9d 68px,#87ff78 72px,#92ff6d 76px,#90ff6f 80px,#8eff71 84px,#92ff6d 88px,#97ff68 92px,#9cff63 96px,#a2ff5d 100px,#aaff55 104px,#aeff51 108px,#a2ff5d 112px,#86ff79 116px,#7eff81 120px,#7eff81 124px,#7eff81 128px,#7cff83 132px,#78ff87 136px,#73ff8c 140px,#6eff91 144px,#6cff93 148px,#6eff91 152px,#70ff8f 156px,#67ff98 160px,#57ffa8 164px,#4affb5 168px,#42ffbd 172px,#41ffbe 176px,#40ffbf 180px,#40ffbf 184px,#47ffb8 188px,#4fffb0 192px,#57ffa8 196px,#40ffbf 200px,#17ffe8 204px,#00edff 208px,#00dfff 212px,#00d7ff 216px,#00cfff 220px,#00f1ff 224px,#2affd5 228px,#56ffa9 232px,#49ffb6 236px,#3dffc2 240px,#31ffce 244px,#48ffb7 248px,#70ff8f 252px,#98ff67 256px,#b8ff47 260px,#92ff6d 264px,#65ff9a 268px,#3affc5 272px,#31ffce 276px,#39ffc6 280px,#40ffbf 284px,#42ffbd 288px,#3affc5 292px,#25ffda 296px,#16ffe9 300px,#08fff7 304px,#00faff 308px,#00f6ff 312px,#00f0ff 316px,#00ecff 320px,#00e7ff 324px,#00dbff 328px,#00ccff 332px,#00baff 336px,#00a8ff 340px,#00cbff 344px,#54ffab 348px,#ddff22 352px,#faff05 356px,#fff700 360px,#f1ff0e 364px,#a5ff5a 368px,#7bff84 372px,#50ffaf 376px,#39ffc6 380px,#33ffcc 384px,#2dffd2 388px,#26ffd9 392px,#1fffe0 396px,#2effd1 400px,#39ffc6 404px,#29ffd6 408px,#1dffe2 412px,#37ffc8 416px,#50ffaf 420px,#61ff9e 424px,#6cff93 428px,#76ff89 432px,#7fff80 436px,#87ff78 440px,#8cff73 444px,#8aff75 448px,#89ff76 450px)"></div><div style="top:78.0px;height:2.0px;background:linear-gradient(90deg,#98ff67 0px,#82ff7d 4px,#76ff89 8px,#8dff72 12px,#a4ff5b 16px,#aaff55 20px,#abff54 24px,#acff53 28px,#aeff51 32px,#b0ff4f 36px,#b2ff4d 40px,#aeff51 44px,#a3ff5c 48px,#98ff67 52px,#8cff73 56px,#7dff82 60px,#74ff8b 64px,#92ff6d 68px,#b0ff4f 72px,#baff45 76px,#b9ff46 80px,#b9ff46 84px,#bbff44 88px,#bfff40 92px,#c3ff3c 96px,#c7ff38 100px,#cdff32 104px,#d4ff2b 108px,#c8ff37 112px,#aaff55 116px,#a4ff5b 120px,#a6ff59 124px,#a8ff57 128px,#a6ff59 132px,#a0ff5f 136px,#9bff64 140px,#96ff69 144px,#93ff6c 148px,#93ff6c 152px,#93ff6c 156px,#8dff72 160px,#81ff7e 164px,#75ff8a 168px,#6cff93 172px,#67ff98 176px,#63ff9c 180px,#5effa1 184px,#63ff9c 188px,#6aff95 192px,#71ff8e 196px,#57ffa8 200px,#2bffd4 204px,#00feff 208px,#00f1ff 212px,#00ebff 216px,#00e4ff 220px,#18ffe7 224px,#69ff96 228px,#a5ff5a 232px,#85ff7a 236px,#65ff9a 240px,#45ffba 244px,#62ff9d 248px,#9cff63 252px,#d7ff28 256px,#fffc00 260px,#c9ff36 264px,#90ff6f 268px,#56ffa9 272px,#49ffb6 276px,#58ffa7 280px,#66ff99 284px,#75ff8a 288px,#73ff8c 292px,#56ffa9 296px,#3affc5 300px,#1dffe2 304px,#05fffa 308px,#00ffff 312px,#00fbff 316px,#00f6ff 320px,#00f2ff 324px,#00dfff 328px,#00caff 332px,#00b6ff 336px,#00a1ff 340px,#00caff 344px,#69ff96 348px,#fff800 352px,#ffe700 356px,#ffea00 360px,#f2ff0d 364px,#a3ff5c 368px,#76ff89 372px,#48ffb7 376px,#2effd1 380px,#24ffdb 384px,#1bffe4 388px,#10ffef 392px,#06fff9 396px,#19ffe6 400px,#26ffd9 404px,#10ffef 408px,#00fdff 412px,#21ffde 416px,#45ffba 420px,#5affa5 424px,#66ff99 428px,#72ff8d 432px,#81ff7e 436px,#91ff6e 440px,#9bff64 444px,#9bff64 448px,#9bff64 450px)"></div><div style="top:80.0px;height:2.0px;background:linear-gradient(90deg,#b3ff4c 0px,#b3ff4c 4px,#b5ff4a 8px,#bfff40 12px,#c9ff36 16px,#caff35 20px,#caff35 24px,#c9ff36 28px,#cbff34 32px,#cdff32 36px,#d0ff2f 40px,#cbff34 44px,#bbff44 48px,#acff53 52px,#9dff62 56px,#a7ff58 60px,#b5ff4a 64px,#c4ff3b 68px,#d2ff2d 72px,#d8ff27 76px,#daff25 80px,#dbff24 84px,#ddff22 88px,#dfff20 92px,#e2ff1d 96px,#e5ff1a 100px,#eaff15 104px,#efff10 108px,#e5ff1a 112px,#cdff32 116px,#caff35 120px,#ceff31 124px,#d2ff2d 128px,#d0ff2f 132px,#cbff34 136px,#c6ff39 140px,#c1ff3e 144px,#beff41 148px,#beff41 152px,#beff41 156px,#b8ff47 160px,#acff53 164px,#a0ff5f 168px,#97ff68 172px,#92ff6d 176px,#8eff71 180px,#89ff76 184px,#8cff73 188px,#91ff6e 192px,#96ff69 196px,#7bff84 200px,#4fffb0 204px,#23ffdc 208px,#1affe5 212px,#17ffe8 216px,#15ffea 220px,#53ffac 224px,#b1ff4e 228px,#f5ff0a 232px,#c7ff38 236px,#98ff67 240px,#6aff95 244px,#80ff7f 248px,#b8ff47 252px,#f0ff0f 256px,#ffe500 260px,#e2ff1d 264px,#abff54 268px,#74ff8b 272px,#6bff94 276px,#7fff80 280px,#93ff6c 284px,#a7ff58 288px,#a6ff59 292px,#86ff79 296px,#65ff9a 300px,#44ffbb 304px,#27ffd8 308px,#22ffdd 312px,#1cffe3 316px,#16ffe9 320px,#11ffee 324px,#00f9ff 328px,#00e1ff 332px,#00c9ff 336px,#00b0ff 340px,#00ddff 344px,#8dff72 348px,#ffc200 352px,#ffc000 356px,#ffd600 360px,#f5ff0a 364px,#99ff66 368px,#6bff94 372px,#3dffc2 376px,#21ffde 380px,#14ffeb 384px,#06fff9 388px,#00f8ff 392px,#00eaff 396px,#02fffd 400px,#11ffee 404px,#00f3ff 408px,#00dcff 412px,#0afff5 416px,#36ffc9 420px,#50ffaf 424px,#5cffa3 428px,#6aff95 432px,#7eff81 436px,#93ff6c 440px,#a0ff5f 444px,#a0ff5f 448px,#a0ff5f 450px)"></div><div style="top:82.0px;height:2.0px;background:linear-gradient(90deg,#d1ff2e 0px,#d1ff2e 4px,#d4ff2b 8px,#dfff20 12px,#eaff15 16px,#e9ff16 20px,#e4ff1b 24px,#deff21 28px,#e3ff1c 32px,#e7ff18 36px,#ecff13 40px,#e6ff19 44px,#cfff30 48px,#b9ff46 52px,#a3ff5c 56px,#b9ff46 60px,#d2ff2d 64px,#ddff22 68px,#e7ff18 72px,#edff12 76px,#f1ff0e 80px,#f5ff0a 84px,#f7ff08 88px,#f7ff08 92px,#f8ff07 96px,#faff05 100px,#fdff02 104px,#fffd00 108px,#fcff03 112px,#efff10 116px,#f0ff0f 120px,#f6ff09 124px,#fcff03 128px,#fbff04 132px,#f6ff09 136px,#f1ff0e 140px,#ecff13 144px,#e9ff16 148px,#e9ff16 152px,#e9ff16 156px,#e2ff1d 160px,#d6ff29 164px,#c9ff36 168px,#c0ff3f 172px,#bcff43 176px,#b8ff47 180px,#b4ff4b 184px,#b9ff46 188px,#c1ff3e 192px,#c8ff37 196px,#b2ff4d 200px,#8dff72 204px,#68ff97 208px,#5dffa2 212px,#58ffa7 216px,#53ffac 220px,#88ff77 224px,#dbff24 228px,#ffe900 232px,#e8ff17 236px,#baff45 240px,#8dff72 244px,#a1ff5e 248px,#d6ff29 252px,#fff300 256px,#ffcd00 260px,#fcff03 264px,#c7ff38 268px,#92ff6d 272px,#8dff72 276px,#a6ff59 280px,#c0ff3f 284px,#d9ff26 288px,#dbff24 292px,#b8ff47 296px,#94ff6b 300px,#71ff8e 304px,#51ffae 308px,#48ffb7 312px,#3fffc0 316px,#36ffc9 320px,#2dffd2 324px,#1effe1 328px,#0efff1 332px,#00fdff 336px,#00edff 340px,#1cffe3 344px,#c2ff3d 348px,#ff9700 352px,#ffa200 356px,#ffc700 360px,#f7ff08 364px,#8eff71 368px,#60ff9f 372px,#33ffcc 376px,#15ffea 380px,#06fff9 384px,#00f5ff 388px,#00e5ff 392px,#00d5ff 396px,#00ecff 400px,#00fbff 404px,#00d8ff 408px,#00bbff 412px,#00f1ff 416px,#28ffd7 420px,#45ffba 424px,#53ffac 428px,#62ff9d 432px,#7bff84 436px,#94ff6b 440px,#a6ff59 444px,#a6ff59 448px,#a6ff59 450px)"></div><div style="top:84.0px;height:2.0px;background:linear-gradient(90deg,#efff10 0px,#efff10 4px,#f0ff0f 8px,#f7ff08 12px,#fdff02 16px,#fbff04 20px,#f7ff08 24px,#f3ff0c 28px,#f6ff09 32px,#f9ff06 36px,#fcff03 40px,#f4ff0b 44px,#daff25 48px,#c1ff3e 52px,#a8ff57 56px,#cbff34 60px,#f0ff0f 64px,#f5ff0a 68px,#fbff04 72px,#fffd00 76px,#fff500 80px,#ffee00 84px,#ffee00 88px,#ffef00 92px,#ffef00 96px,#ffef00 100px,#ffed00 104px,#ffeb00 108px,#ffec00 112px,#fff100 116px,#fff400 120px,#fff800 124px,#fffb00 128px,#fffc00 132px,#fffb00 136px,#fffa00 140px,#fff900 144px,#fff900 148px,#fffb00 152px,#fffd00 156px,#fcff03 160px,#f5ff0a 164px,#eeff11 168px,#e7ff18 172px,#e0ff1f 176px,#d9ff26 180px,#d2ff2d 184px,#ddff22 188px,#ebff14 192px,#f9ff06 196px,#f2ff0d 200px,#dfff20 204px,#cdff32 208px,#bdff42 212px,#adff52 216px,#9eff61 220px,#c5ff3a 224px,#fff600 228px,#ffc800 232px,#fff500 236px,#ddff22 240px,#b0ff4f 244px,#c2ff3d 248px,#f4ff0b 252px,#ffd900 256px,#ffb500 260px,#ffe200 264px,#efff10 268px,#c2ff3d 272px,#c1ff3e 276px,#dcff23 280px,#f7ff08 284px,#ffec00 288px,#ffeb00 292px,#ecff13 296px,#c5ff3a 300px,#9eff61 304px,#7cff83 308px,#6fff90 312px,#62ff9d 316px,#56ffa9 320px,#49ffb6 324px,#4cffb3 328px,#51ffae 332px,#55ffaa 336px,#59ffa6 340px,#88ff77 344px,#fff700 348px,#ff7700 352px,#ff8f00 356px,#ffbb00 360px,#f8ff07 364px,#83ff7c 368px,#56ffa9 372px,#28ffd7 376px,#0afff5 380px,#00f9ff 384px,#00e8ff 388px,#00d7ff 392px,#00c5ff 396px,#00deff 400px,#00eeff 404px,#00c8ff 408px,#00a9ff 412px,#00e2ff 416px,#1cffe3 420px,#3bffc4 424px,#49ffb6 428px,#5affa5 432px,#78ff87 436px,#96ff69 440px,#abff54 444px,#abff54 448px,#abff54 450px)"></div><div style="top:86.0px;height:2.0px;background:linear-gradient(90deg,#ffff00 0px,#ffff00 4px,#ffff00 8px,#ffff00 12px,#ffff00 16px,#ffff00 20px,#feff01 24px,#feff01 28px,#feff01 32px,#feff01 36px,#ffff00 40px,#f5ff0a 44px,#ddff22 48px,#c5ff3a 52px,#adff52 56px,#d6ff29 60px,#fffe00 64px,#fff700 68px,#fff100 72px,#ffeb00 76px,#ffe500 80px,#ffdf00 84px,#ffdd00 88px,#ffdc00 92px,#ffdb00 96px,#ffda00 100px,#ffda00 104px,#ffd900 108px,#ffd800 112px,#ffd600 116px,#ffdd00 120px,#ffe900 124px,#fff400 128px,#fff600 132px,#fff300 136px,#fff000 140px,#ffec00 144px,#ffec00 148px,#fff200 152px,#fff700 156px,#fff900 160px,#fff800 164px,#fff700 168px,#fff900 172px,#feff01 176px,#f7ff08 180px,#f0ff0f 184px,#f9ff06 188px,#fff800 192px,#ffec00 196px,#ffea00 200px,#ffee00 204px,#fff100 208px,#fffd00 212px,#f3ff0c 216px,#e4ff1b 220px,#fffd00 224px,#ffc900 228px,#ffa800 232px,#ffd600 236px,#fbff04 240px,#cdff32 244px,#deff21 248px,#fff000 252px,#ffc000 256px,#ff9c00 260px,#ffc100 264px,#ffe600 268px,#f3ff0c 272px,#f6ff09 276px,#ffeb00 280px,#ffcd00 284px,#ffb000 288px,#ffaf00 292px,#ffda00 296px,#f8ff07 300px,#cdff32 304px,#a8ff57 308px,#a2ff5d 312px,#9cff63 316px,#97ff68 320px,#91ff6e 324px,#9dff62 328px,#aaff55 332px,#b8ff47 336px,#c5ff3a 340px,#edff12 344px,#ffb400 348px,#ff5800 352px,#ff7b00 356px,#ffb000 360px,#faff05 364px,#79ff86 368px,#4bffb4 372px,#1dffe2 376px,#00feff 380px,#00edff 384px,#00dcff 388px,#00c9ff 392px,#00b5ff 396px,#00d4ff 400px,#00e9ff 404px,#00c5ff 408px,#00a7ff 412px,#00deff 416px,#16ffe9 420px,#34ffcb 424px,#41ffbe 428px,#51ffae 432px,#75ff8a 436px,#98ff67 440px,#b0ff4f 444px,#b0ff4f 448px,#b0ff4f 450px)"></div><div style="top:88.0px;height:2.0px;background:linear-gradient(90deg,#fffe00 0px,#fffe00 4px,#fffe00 8px,#fffe00 12px,#ffff00 16px,#ffff00 20px,#ffff00 24px,#ffff00 28px,#ffff00 32px,#ffff00 36px,#ffff00 40px,#f6ff09 44px,#dfff20 48px,#c9ff36 52px,#b3ff4c 56px,#daff25 60px,#fffb00 64px,#fff100 68px,#ffe600 72px,#ffe100 76px,#ffde00 80px,#ffdb00 84px,#ffd700 88px,#ffd400 92px,#ffd000 96px,#ffce00 100px,#ffcd00 104px,#ffcd00 108px,#ffc700 112px,#ffbc00 116px,#ffc700 120px,#ffda00 124px,#ffed00 128px,#fff100 132px,#ffeb00 136px,#ffe500 140px,#ffdf00 144px,#ffde00 148px,#ffe800 152px,#fff100 156px,#fff300 160px,#ffed00 164px,#ffe700 168px,#ffe500 172px,#ffed00 176px,#fff400 180px,#fffc00 184px,#fff100 188px,#ffe300 192px,#ffd400 196px,#ffd100 200px,#ffd300 204px,#ffd500 208px,#ffdb00 212px,#ffe200 216px,#ffe800 220px,#ffd100 224px,#ffa900 228px,#ff9200 232px,#ffc000 236px,#ffee00 240px,#e3ff1c 244px,#f3ff0c 248px,#ffda00 252px,#ffa900 256px,#ff8400 260px,#ffa200 264px,#ffbf00 268px,#ffdd00 272px,#ffd800 276px,#ffbd00 280px,#ffa100 284px,#ff8600 288px,#ff8500 292px,#ffb000 296px,#ffdb00 300px,#f8ff07 304px,#d3ff2c 308px,#d5ff2a 312px,#d6ff29 316px,#d8ff27 320px,#daff25 324px,#edff12 328px,#fffc00 332px,#ffe800 336px,#ffd300 340px,#ffb100 344px,#ff7800 348px,#ff3f00 352px,#ff6b00 356px,#ffa600 360px,#fcff03 364px,#6eff91 368px,#40ffbf 372px,#13ffec 376px,#00f3ff 380px,#00e1ff 384px,#00cfff 388px,#00bbff 392px,#00a5ff 396px,#00cbff 400px,#00e5ff 404px,#00c1ff 408px,#00a4ff 412px,#00daff 416px,#12ffed 420px,#2fffd0 424px,#3bffc4 428px,#4bffb4 432px,#6fff90 436px,#94ff6b 440px,#acff53 444px,#acff53 448px,#acff53 450px)"></div><div style="top:90.0px;height:2.0px;background:linear-gradient(90deg,#fffc00 0px,#fffc00 4px,#fffd00 8px,#fffd00 12px,#fffe00 16px,#ffff00 20px,#ffff00 24px,#ffff00 28px,#ffff00 32px,#ffff00 36px,#fffe00 40px,#f7ff08 44px,#e1ff1e 48px,#ccff33 52px,#b7ff48 56px,#ddff22 60px,#fff900 64px,#ffee00 68px,#ffe200 72px,#ffdd00 76px,#ffda00 80px,#ffd700 84px,#ffd300 88px,#ffcf00 92px,#ffcc00 96px,#ffc900 100px,#ffc800 104px,#ffc600 108px,#ffbd00 112px,#ffab00 116px,#ffb800 120px,#ffcf00 124px,#ffe700 128px,#ffec00 132px,#ffe300 136px,#ffdb00 140px,#ffd200 144px,#ffd100 148px,#ffde00 152px,#ffec00 156px,#ffec00 160px,#ffe100 164px,#ffd600 168px,#ffd300 172px,#ffdf00 176px,#ffea00 180px,#fff600 184px,#ffe700 188px,#ffd200 192px,#ffbe00 196px,#ffb700 200px,#ffb800 204px,#ffb900 208px,#ffbd00 212px,#ffc300 216px,#ffc900 220px,#ffb500 224px,#ff9600 228px,#ff8400 232px,#ffb000 236px,#ffdb00 240px,#f7ff08 244px,#fff400 248px,#ffc200 252px,#ff9000 256px,#ff6900 260px,#ff8100 264px,#ff9900 268px,#ffb100 272px,#ffad00 276px,#ff9800 280px,#ff8200 284px,#ff6d00 288px,#ff6e00 292px,#ff9400 296px,#ffba00 300px,#ffe000 304px,#ffff00 308px,#fffa00 312px,#fff500 316px,#fff000 320px,#ffeb00 324px,#ffd800 328px,#ffc400 332px,#ffb100 336px,#ff9d00 340px,#ff8100 344px,#ff5700 348px,#ff2d00 352px,#ff5f00 356px,#ff9f00 360px,#fbff04 364px,#63ff9c 368px,#37ffc8 372px,#0bfff4 376px,#00ebff 380px,#00d7ff 384px,#00c3ff 388px,#00adff 392px,#0095ff 396px,#00c1ff 400px,#00e1ff 404px,#00beff 408px,#00a1ff 412px,#00d7ff 416px,#0efff1 420px,#2bffd4 424px,#37ffc8 428px,#46ffb9 432px,#67ff98 436px,#88ff77 440px,#9fff60 444px,#9fff60 448px,#9fff60 450px)"></div><div style="top:92.0px;height:2.0px;background:linear-gradient(90deg,#fffb00 0px,#fffb00 4px,#fffb00 8px,#fffc00 12px,#fffe00 16px,#fffe00 20px,#fffe00 24px,#fffe00 28px,#fffe00 32px,#fffe00 36px,#fffe00 40px,#f7ff08 44px,#e3ff1c 48px,#ceff31 52px,#baff45 56px,#e0ff1f 60px,#fff600 64px,#ffea00 68px,#ffde00 72px,#ffd800 76px,#ffd600 80px,#ffd300 84px,#ffcf00 88px,#ffcb00 92px,#ffc700 96px,#ffc400 100px,#ffc200 104px,#ffc000 108px,#ffb600 112px,#ffa200 116px,#ffb000 120px,#ffc900 124px,#ffe200 128px,#ffe700 132px,#ffde00 136px,#ffd400 140px,#ffca00 144px,#ffc800 148px,#ffd700 152px,#ffe700 156px,#ffe700 160px,#ffd900 164px,#ffcc00 168px,#ffc800 172px,#ffd500 176px,#ffe300 180px,#fff000 184px,#ffdf00 188px,#ffc600 192px,#ffae00 196px,#ffa500 200px,#ffa400 204px,#ffa400 208px,#ffa500 212px,#ffa800 216px,#ffaa00 220px,#ff9a00 224px,#ff8200 228px,#ff7600 232px,#ff9f00 236px,#ffc900 240px,#fff200 244px,#ffde00 248px,#ffab00 252px,#ff7700 256px,#ff4e00 260px,#ff6000 264px,#ff7300 268px,#ff8500 272px,#ff8300 276px,#ff7300 280px,#ff6300 284px,#ff5400 288px,#ff5600 292px,#ff7300 296px,#ff9100 300px,#ffaf00 304px,#ffc800 308px,#ffc600 312px,#ffc400 316px,#ffc200 320px,#ffc000 324px,#ffab00 328px,#ff9500 332px,#ff7f00 336px,#ff6900 340px,#ff5100 344px,#ff3600 348px,#ff1b00 352px,#ff5500 356px,#ff9b00 360px,#f8ff07 364px,#59ffa6 368px,#30ffcf 372px,#08fff7 376px,#00e7ff 380px,#00d0ff 384px,#00b9ff 388px,#00a3ff 392px,#008dff 396px,#00bbff 400px,#00ddff 404px,#00baff 408px,#009eff 412px,#00d4ff 416px,#0bfff4 420px,#27ffd8 424px,#33ffcc 428px,#41ffbe 432px,#5fffa0 436px,#7dff82 440px,#92ff6d 444px,#92ff6d 448px,#92ff6d 450px)"></div><div style="top:94.0px;height:2.0px;background:linear-gradient(90deg,#fff900 0px,#fff900 4px,#fffa00 8px,#fffc00 12px,#fffd00 16px,#fffe00 20px,#fffe00 24px,#fffe00 28px,#fffe00 32px,#fffe00 36px,#fffe00 40px,#f8ff07 44px,#e4ff1b 48px,#d1ff2e 52px,#bdff42 56px,#e3ff1c 60px,#fff400 64px,#ffe700 68px,#ffda00 72px,#ffd400 76px,#ffd200 80px,#ffcf00 84px,#ffcb00 88px,#ffc700 92px,#ffc300 96px,#ffbf00 100px,#ffbd00 104px,#ffba00 108px,#ffae00 112px,#ff9a00 116px,#ffa900 120px,#ffc300 124px,#ffde00 128px,#ffe400 132px,#ffda00 136px,#ffd000 140px,#ffc600 144px,#ffc400 148px,#ffd300 152px,#ffe300 156px,#ffe300 160px,#ffd500 164px,#ffc800 168px,#ffc400 172px,#ffd100 176px,#ffde00 180px,#ffeb00 184px,#ffd800 188px,#ffbe00 192px,#ffa400 196px,#ff9900 200px,#ff9800 204px,#ff9700 208px,#ff9500 212px,#ff9400 216px,#ff9200 220px,#ff8500 224px,#ff7100 228px,#ff6900 232px,#ff9100 236px,#ffb900 240px,#ffe200 244px,#ffcb00 248px,#ff9500 252px,#ff6000 256px,#ff3300 260px,#ff4000 264px,#ff4d00 268px,#ff5a00 272px,#ff5900 276px,#ff4f00 280px,#ff4500 284px,#ff3b00 288px,#ff3d00 292px,#ff5300 296px,#ff6900 300px,#ff7e00 304px,#ff9100 308px,#ff9200 312px,#ff9300 316px,#ff9400 320px,#ff9500 324px,#ff8100 328px,#ff6c00 332px,#ff5700 336px,#ff4200 340px,#ff2e00 344px,#ff1c00 348px,#ff0a00 352px,#ff4b00 356px,#ff9800 360px,#f5ff0a 364px,#4effb1 368px,#29ffd6 372px,#04fffb 376px,#00e4ff 380px,#00cbff 384px,#00b2ff 388px,#009eff 392px,#008dff 396px,#00b8ff 400px,#00d8ff 404px,#00b7ff 408px,#009cff 412px,#00d1ff 416px,#07fff8 420px,#23ffdc 424px,#2fffd0 428px,#3cffc3 432px,#57ffa8 436px,#72ff8d 440px,#84ff7b 444px,#84ff7b 448px,#84ff7b 450px)"></div><div style="top:96.0px;height:2.0px;background:linear-gradient(90deg,#fff800 0px,#fff800 4px,#fff800 8px,#fffb00 12px,#fffd00 16px,#fffd00 20px,#fffd00 24px,#fffd00 28px,#fffd00 32px,#fffd00 36px,#fffd00 40px,#f9ff06 44px,#e6ff19 48px,#d3ff2c 52px,#c0ff3f 56px,#e5ff1a 60px,#fff100 64px,#ffe400 68px,#ffd600 72px,#ffd000 76px,#ffcd00 80px,#ffcb00 84px,#ffc700 88px,#ffc300 92px,#ffbf00 96px,#ffbb00 100px,#ffb800 104px,#ffb400 108px,#ffa800 112px,#ff9200 116px,#ffa100 120px,#ffbd00 124px,#ffd900 128px,#ffe000 132px,#ffd600 136px,#ffcc00 140px,#ffc200 144px,#ffc000 148px,#ffcf00 152px,#ffdf00 156px,#ffdf00 160px,#ffd100 164px,#ffc400 168px,#ffc000 172px,#ffcc00 176px,#ffd900 180px,#ffe600 184px,#ffd100 188px,#ffb500 192px,#ff9900 196px,#ff8e00 200px,#ff8c00 204px,#ff8900 208px,#ff8700 212px,#ff8400 216px,#ff8100 220px,#ff7400 224px,#ff6300 228px,#ff5c00 232px,#ff8300 236px,#ffaa00 240px,#ffd100 244px,#ffb900 248px,#ff8000 252px,#ff4800 256px,#ff1800 260px,#ff2000 264px,#ff2700 268px,#ff2f00 272px,#ff2f00 276px,#ff2b00 280px,#ff2700 284px,#ff2200 288px,#ff2700 292px,#ff3a00 296px,#ff4d00 300px,#ff6000 304px,#ff7000 308px,#ff7000 312px,#ff7000 316px,#ff7000 320px,#ff7000 324px,#ff6000 328px,#ff4d00 332px,#ff3b00 336px,#ff2900 340px,#ff1800 344px,#ff0900 348px,#f90000 352px,#ff4100 356px,#ff9400 360px,#f3ff0c 364px,#49ffb6 368px,#25ffda 372px,#01fffe 376px,#00e1ff 380px,#00c6ff 384px,#00abff 388px,#009aff 392px,#008dff 396px,#00b8ff 400px,#00d9ff 404px,#00baff 408px,#00a1ff 412px,#00d3ff 416px,#05fffa 420px,#1fffe0 424px,#2affd5 428px,#37ffc8 432px,#50ffaf 436px,#68ff97 440px,#79ff86 444px,#79ff86 448px,#79ff86 450px)"></div><div style="top:98.0px;height:2.0px;background:linear-gradient(90deg,#fff700 0px,#fff700 4px,#fff700 8px,#fffa00 12px,#fffc00 16px,#fffd00 20px,#fffd00 24px,#fffd00 28px,#fffd00 32px,#fffd00 36px,#fffd00 40px,#faff05 44px,#e8ff17 48px,#d5ff2a 52px,#c3ff3c 56px,#e8ff17 60px,#ffef00 64px,#ffe000 68px,#ffd200 72px,#ffcb00 76px,#ffc900 80px,#ffc700 84px,#ffc300 88px,#ffbf00 92px,#ffba00 96px,#ffb600 100px,#ffb300 104px,#ffb000 108px,#ffa200 112px,#ff8a00 116px,#ff9a00 120px,#ffb700 124px,#ffd500 128px,#ffdc00 132px,#ffd200 136px,#ffc800 140px,#ffbe00 144px,#ffbc00 148px,#ffcb00 152px,#ffdb00 156px,#ffdb00 160px,#ffcd00 164px,#ffc000 168px,#ffbb00 172px,#ffc800 176px,#ffd400 180px,#ffe000 184px,#ffca00 188px,#ffad00 192px,#ff8f00 196px,#ff8300 200px,#ff8000 204px,#ff7c00 208px,#ff7800 212px,#ff7400 216px,#ff6f00 220px,#ff6400 224px,#ff5600 228px,#ff5100 232px,#ff7700 236px,#ff9c00 240px,#ffc100 244px,#ffa800 248px,#ff6f00 252px,#ff3700 256px,#ff0600 260px,#ff0600 264px,#ff0600 268px,#ff0600 272px,#ff0600 276px,#ff0700 280px,#ff0800 284px,#ff0900 288px,#ff1200 292px,#ff2900 296px,#ff3f00 300px,#ff5500 304px,#ff6700 308px,#ff6200 312px,#ff5d00 316px,#ff5800 320px,#ff5300 324px,#ff4300 328px,#ff3200 332px,#ff2100 336px,#ff1100 340px,#ff0200 344px,#f50000 348px,#ea0000 352px,#ff3700 356px,#ff9000 360px,#f3ff0c 364px,#49ffb6 368px,#24ffdb 372px,#00feff 376px,#00deff 380px,#00c0ff 384px,#00a3ff 388px,#0095ff 392px,#008cff 396px,#00bbff 400px,#00deff 404px,#00c4ff 408px,#00afff 412px,#00d9ff 416px,#04fffb 420px,#1bffe4 424px,#26ffd9 428px,#33ffcc 432px,#4affb5 436px,#61ff9e 440px,#70ff8f 444px,#70ff8f 448px,#70ff8f 450px)"></div><div style="top:100.0px;height:2.0px;background:linear-gradient(90deg,#fff500 0px,#fff500 4px,#fff600 8px,#fff900 12px,#fffc00 16px,#fffc00 20px,#fffc00 24px,#fffc00 28px,#fffc00 32px,#fffc00 36px,#fffc00 40px,#fbff04 44px,#eaff15 48px,#daff25 52px,#c9ff36 56px,#edff12 60px,#ffec00 64px,#ffdd00 68px,#ffcf00 72px,#ffc800 76px,#ffc600 80px,#ffc400 84px,#ffbf00 88px,#ffbb00 92px,#ffb700 96px,#ffb300 100px,#ffaf00 104px,#ffac00 108px,#ff9d00 112px,#ff8500 116px,#ff9400 120px,#ffb200 124px,#ffd000 128px,#ffd700 132px,#ffcd00 136px,#ffc400 140px,#ffba00 144px,#ffb900 148px,#ffc700 152px,#ffd600 156px,#ffd600 160px,#ffc900 164px,#ffbc00 168px,#ffb800 172px,#ffc400 176px,#ffd000 180px,#ffdc00 184px,#ffc500 188px,#ffa600 192px,#ff8700 196px,#ff7900 200px,#ff7500 204px,#ff7000 208px,#ff6c00 212px,#ff6700 216px,#ff6200 220px,#ff5700 224px,#ff4a00 228px,#ff4600 232px,#ff6a00 236px,#ff8e00 240px,#ffb200 244px,#ff9a00 248px,#ff6400 252px,#ff2e00 256px,#fd0000 260px,#f60000 264px,#ef0000 268px,#e80000 272px,#e90000 276px,#ee0000 280px,#f40000 284px,#f90000 288px,#ff0600 292px,#ff1d00 296px,#ff3400 300px,#ff4b00 304px,#ff5d00 308px,#ff5300 312px,#ff4900 316px,#ff3f00 320px,#ff3500 324px,#ff2700 328px,#ff1a00 332px,#ff0c00 336px,#fd0000 340px,#f10000 344px,#e60000 348px,#db0000 352px,#ff2f00 356px,#ff8f00 360px,#f1ff0e 364px,#49ffb6 368px,#24ffdb 372px,#00ffff 376px,#00deff 380px,#00bfff 384px,#00a1ff 388px,#0095ff 392px,#0090ff 396px,#00bfff 400px,#00e3ff 404px,#00ceff 408px,#00bdff 412px,#00e2ff 416px,#07fff8 420px,#1dffe2 424px,#27ffd8 428px,#33ffcc 432px,#47ffb8 436px,#5affa5 440px,#67ff98 444px,#67ff98 448px,#67ff98 450px)"></div><div style="top:102.0px;height:2.0px;background:linear-gradient(90deg,#fff400 0px,#fff400 4px,#fff400 8px,#fff800 12px,#fffb00 16px,#fffc00 20px,#fffc00 24px,#fffc00 28px,#fffc00 32px,#fffc00 36px,#fffc00 40px,#fcff03 44px,#eeff11 48px,#e1ff1e 52px,#d3ff2c 56px,#f3ff0c 60px,#ffe800 64px,#ffdb00 68px,#ffcd00 72px,#ffc600 76px,#ffc300 80px,#ffc000 84px,#ffbc00 88px,#ffb800 92px,#ffb400 96px,#ffb000 100px,#ffac00 104px,#ffa800 108px,#ff9a00 112px,#ff8200 116px,#ff9100 120px,#ffad00 124px,#ffca00 128px,#ffd100 132px,#ffc800 136px,#ffc000 140px,#ffb700 144px,#ffb600 148px,#ffc300 152px,#ffd000 156px,#ffd000 160px,#ffc400 164px,#ffb900 168px,#ffb500 172px,#ffc100 176px,#ffcc00 180px,#ffd800 184px,#ffc000 188px,#ffa000 192px,#ff8100 196px,#ff7200 200px,#ff6c00 204px,#ff6600 208px,#ff6100 212px,#ff5d00 216px,#ff5800 220px,#ff4e00 224px,#ff4000 228px,#ff3b00 232px,#ff5f00 236px,#ff8200 240px,#ffa500 244px,#ff8e00 248px,#ff5900 252px,#ff2500 256px,#f50000 260px,#eb0000 264px,#e20000 268px,#d80000 272px,#d90000 276px,#e20000 280px,#ea0000 284px,#f30000 288px,#ff0200 292px,#ff1800 296px,#ff2d00 300px,#ff4300 304px,#ff5400 308px,#ff4700 312px,#ff3a00 316px,#ff2e00 320px,#ff2100 324px,#ff1600 328px,#ff0a00 332px,#fe0000 336px,#f20000 340px,#e60000 344px,#d90000 348px,#cc0000 352px,#ff2800 356px,#ff9100 360px,#ecff13 364px,#49ffb6 368px,#25ffda 372px,#02fffd 376px,#00e1ff 380px,#00c3ff 384px,#00a5ff 388px,#009aff 392px,#0096ff 396px,#00c4ff 400px,#00e9ff 404px,#00d9ff 408px,#00cdff 412px,#00eeff 416px,#10ffef 420px,#23ffdc 424px,#2effd1 428px,#39ffc6 432px,#47ffb8 436px,#55ffaa 440px,#5effa1 444px,#5effa1 448px,#5effa1 450px)"></div><div style="top:104.0px;height:2.0px;background:linear-gradient(90deg,#fff200 0px,#fff200 4px,#fff300 8px,#fff700 12px,#fffa00 16px,#fffb00 20px,#fffb00 24px,#fffb00 28px,#fffb00 32px,#fffb00 36px,#fffb00 40px,#feff01 44px,#f2ff0d 48px,#e7ff18 52px,#dcff23 56px,#faff05 60px,#ffe400 64px,#ffd800 68px,#ffcb00 72px,#ffc400 76px,#ffc000 80px,#ffbc00 84px,#ffb800 88px,#ffb400 92px,#ffb100 96px,#ffad00 100px,#ffa800 104px,#ffa300 108px,#ff9600 112px,#ff7f00 116px,#ff8d00 120px,#ffa800 124px,#ffc400 128px,#ffcb00 132px,#ffc300 136px,#ffbb00 140px,#ffb400 144px,#ffb200 148px,#ffbe00 152px,#ffca00 156px,#ffca00 160px,#ffbf00 164px,#ffb500 168px,#ffb200 172px,#ffbe00 176px,#ffc900 180px,#ffd400 184px,#ffbb00 188px,#ff9b00 192px,#ff7a00 196px,#ff6a00 200px,#ff6300 204px,#ff5b00 208px,#ff5700 212px,#ff5300 216px,#ff4f00 220px,#ff4500 224px,#ff3700 228px,#ff3300 232px,#ff5500 236px,#ff7700 240px,#ff9800 244px,#ff8200 248px,#ff4f00 252px,#ff1c00 256px,#ed0000 260px,#e10000 264px,#d40000 268px,#c80000 272px,#ca0000 276px,#d60000 280px,#e10000 284px,#ed0000 288px,#fc0000 292px,#ff1200 296px,#ff2700 300px,#ff3b00 304px,#ff4b00 308px,#ff3e00 312px,#ff3200 316px,#ff2500 320px,#ff1800 324px,#ff0d00 328px,#ff0100 332px,#f50000 336px,#e90000 340px,#dd0000 344px,#d00000 348px,#c20000 352px,#ff2400 356px,#ff9400 360px,#e7ff18 364px,#49ffb6 368px,#26ffd9 372px,#04fffb 376px,#00e3ff 380px,#00c6ff 384px,#00a9ff 388px,#009fff 392px,#009dff 396px,#00caff 400px,#00eeff 404px,#00e5ff 408px,#00deff 412px,#00fbff 416px,#18ffe7 420px,#2affd5 424px,#35ffca 428px,#3fffc0 432px,#48ffb7 436px,#50ffaf 440px,#56ffa9 444px,#56ffa9 448px,#56ffa9 450px)"></div><div style="top:106.0px;height:2.0px;background:linear-gradient(90deg,#fff100 0px,#fff100 4px,#fff200 8px,#fff600 12px,#fffa00 16px,#fffb00 20px,#fffb00 24px,#fffb00 28px,#fffb00 32px,#fffb00 36px,#fffb00 40px,#ffff00 44px,#f7ff08 48px,#eeff11 52px,#e5ff1a 56px,#fffd00 60px,#ffe000 64px,#ffd500 68px,#ffca00 72px,#ffc200 76px,#ffbd00 80px,#ffb800 84px,#ffb400 88px,#ffb100 92px,#ffae00 96px,#ffaa00 100px,#ffa500 104px,#ff9f00 108px,#ff9200 112px,#ff7c00 116px,#ff8a00 120px,#ffa300 124px,#ffbd00 128px,#ffc500 132px,#ffbe00 136px,#ffb700 140px,#ffb000 144px,#ffaf00 148px,#ffb900 152px,#ffc400 156px,#ffc400 160px,#ffbb00 164px,#ffb200 168px,#ffb000 172px,#ffba00 176px,#ffc500 180px,#ffd000 184px,#ffb600 188px,#ff9500 192px,#ff7400 196px,#ff6300 200px,#ff5a00 204px,#ff5100 208px,#ff4d00 212px,#ff4900 216px,#ff4500 220px,#ff3c00 224px,#ff3100 228px,#ff2d00 232px,#ff4d00 236px,#ff6c00 240px,#ff8c00 244px,#ff7600 248px,#ff4400 252px,#ff1300 256px,#e50000 260px,#d60000 264px,#c70000 268px,#b70000 272px,#bb0000 276px,#c90000 280px,#d80000 284px,#e70000 288px,#f80000 292px,#ff0c00 296px,#ff2000 300px,#ff3300 304px,#ff4200 308px,#ff3500 312px,#ff2900 316px,#ff1c00 320px,#ff0f00 324px,#ff0400 328px,#f70000 332px,#eb0000 336px,#e00000 340px,#d40000 344px,#c90000 348px,#bd0000 352px,#ff2300 356px,#ff9700 360px,#e3ff1c 364px,#49ffb6 368px,#27ffd8 372px,#06fff9 376px,#00e6ff 380px,#00caff 384px,#00adff 388px,#00a4ff 392px,#00a3ff 396px,#00cfff 400px,#00f4ff 404px,#00f1ff 408px,#00f0ff 412px,#09fff6 416px,#21ffde 420px,#31ffce 424px,#3bffc4 428px,#45ffba 432px,#48ffb7 436px,#4bffb4 440px,#4dffb2 444px,#4dffb2 448px,#4dffb2 450px)"></div></div>
<div class="cb" style="left:497.5px;top:20.5px;width:15px;height:108.0px;background:linear-gradient(180deg,#800000 0.0%,#9a0000 2.6%,#b40000 5.1%,#ce0000 7.7%,#e80000 10.3%,#ff0300 12.8%,#ff1d00 15.4%,#ff3800 17.9%,#ff5200 20.5%,#ff6c00 23.1%,#ff8600 25.6%,#ffa000 28.2%,#ffba00 30.8%,#ffd400 33.3%,#ffef00 35.9%,#f5ff0a 38.5%,#dbff24 41.0%,#c1ff3e 43.6%,#a7ff58 46.2%,#8dff72 48.7%,#72ff8d 51.3%,#58ffa7 53.8%,#3effc1 56.4%,#24ffdb 59.0%,#0afff5 61.5%,#00efff 64.1%,#00d5ff 66.7%,#00baff 69.2%,#00a0ff 71.8%,#0086ff 74.4%,#006cff 76.9%,#0052ff 79.5%,#0038ff 82.1%,#001dff 84.6%,#0003ff 87.2%,#0000e8 89.7%,#0000ce 92.3%,#0000b4 94.9%,#00009a 97.4%,#000080 100.0%)"></div>
<div class="cb" style="left:497.5px;top:166.5px;width:15px;height:108.0px;background:linear-gradient(180deg,#fcfcf5 0.0%,#fcfbdd 2.6%,#fcfbc4 5.1%,#fcfaac 7.7%,#fcfa93 10.3%,#fbf973 12.8%,#fbf753 15.4%,#faf633 17.9%,#f6f41c 20.5%,#e4f128 23.1%,#d2ed35 25.6%,#bce945 28.2%,#a2e657 30.8%,#89e269 33.3%,#71df7c 35.9%,#5bdb8f 38.5%,#45d8a3 41.0%,#36d5b1 43.6%,#2dd3bd 46.2%,#24d0c8 48.7%,#1cced4 51.3%,#18c7da 53.8%,#17bede 56.4%,#16b5e1 59.0%,#14ace5 61.5%,#17a2e8 64.1%,#1b98ea 66.7%,#1f8eec 69.2%,#2384ee 71.8%,#277af0 74.4%,#2c71ed 76.9%,#3167e9 79.5%,#365ee5 82.1%,#3b54e1 84.6%,#404bdd 87.2%,#4143d4 89.7%,#413cc9 92.3%,#4035be 94.9%,#3f2db3 97.4%,#3e26a8 100.0%)"></div>
<div class="cb" style="left:497.5px;top:312.5px;width:15px;height:108.0px;background:linear-gradient(180deg,#800000 0.0%,#9a0000 2.6%,#b40000 5.1%,#ce0000 7.7%,#e80000 10.3%,#ff0300 12.8%,#ff1d00 15.4%,#ff3800 17.9%,#ff5200 20.5%,#ff6c00 23.1%,#ff8600 25.6%,#ffa000 28.2%,#ffba00 30.8%,#ffd400 33.3%,#ffef00 35.9%,#f5ff0a 38.5%,#dbff24 41.0%,#c1ff3e 43.6%,#a7ff58 46.2%,#8dff72 48.7%,#72ff8d 51.3%,#58ffa7 53.8%,#3effc1 56.4%,#24ffdb 59.0%,#0afff5 61.5%,#00efff 64.1%,#00d5ff 66.7%,#00baff 69.2%,#00a0ff 71.8%,#0086ff 74.4%,#006cff 76.9%,#0052ff 79.5%,#0038ff 82.1%,#001dff 84.6%,#0003ff 87.2%,#0000e8 89.7%,#0000ce 92.3%,#0000b4 94.9%,#00009a 97.4%,#000080 100.0%)"></div>
<div style="position:absolute;left:37.5px;top:270.2px;width:450.0px;height:2.8px;background:#fff"></div>
<svg width="550" height="452" viewBox="0 0 550 452"><path d="M65.7 128.0v-4.3M65.7 20.0v4.3M93.9 128.0v-4.3M93.9 20.0v4.3M122.1 128.0v-4.3M122.1 20.0v4.3M150.3 128.0v-4.3M150.3 20.0v4.3M178.5 128.0v-4.3M178.5 20.0v4.3M206.7 128.0v-4.3M206.7 20.0v4.3M234.9 128.0v-4.3M234.9 20.0v4.3M263.1 128.0v-4.3M263.1 20.0v4.3M291.3 128.0v-4.3M291.3 20.0v4.3M319.5 128.0v-4.3M319.5 20.0v4.3M347.7 128.0v-4.3M347.7 20.0v4.3M375.9 128.0v-4.3M375.9 20.0v4.3M404.1 128.0v-4.3M404.1 20.0v4.3M432.3 128.0v-4.3M432.3 20.0v4.3M460.5 128.0v-4.3M460.5 20.0v4.3M37.5 33.4h4.3M487.5 33.4h-4.3M37.5 59.5h4.3M487.5 59.5h-4.3M37.5 82.0h4.3M487.5 82.0h-4.3M37.5 101.6h4.3M487.5 101.6h-4.3M37.5 120.2h4.3M487.5 120.2h-4.3M66.6 273.0v-4.3M66.6 166.0v4.3M95.6 273.0v-4.3M95.6 166.0v4.3M124.7 273.0v-4.3M124.7 166.0v4.3M153.7 273.0v-4.3M153.7 166.0v4.3M182.8 273.0v-4.3M182.8 166.0v4.3M211.9 273.0v-4.3M211.9 166.0v4.3M240.9 273.0v-4.3M240.9 166.0v4.3M270.0 273.0v-4.3M270.0 166.0v4.3M299.0 273.0v-4.3M299.0 166.0v4.3M328.1 273.0v-4.3M328.1 166.0v4.3M357.2 273.0v-4.3M357.2 166.0v4.3M386.2 273.0v-4.3M386.2 166.0v4.3M415.3 273.0v-4.3M415.3 166.0v4.3M444.3 273.0v-4.3M444.3 166.0v4.3M473.4 273.0v-4.3M473.4 166.0v4.3M37.5 180.2h4.3M487.5 180.2h-4.3M37.5 204.2h4.3M487.5 204.2h-4.3M37.5 226.4h4.3M487.5 226.4h-4.3M37.5 245.0h4.3M487.5 245.0h-4.3M37.5 262.8h4.3M487.5 262.8h-4.3M65.7 420.0v-4.3M65.7 312.0v4.3M93.9 420.0v-4.3M93.9 312.0v4.3M122.1 420.0v-4.3M122.1 312.0v4.3M150.3 420.0v-4.3M150.3 312.0v4.3M178.5 420.0v-4.3M178.5 312.0v4.3M206.7 420.0v-4.3M206.7 312.0v4.3M234.9 420.0v-4.3M234.9 312.0v4.3M263.1 420.0v-4.3M263.1 312.0v4.3M291.3 420.0v-4.3M291.3 312.0v4.3M319.5 420.0v-4.3M319.5 312.0v4.3M347.7 420.0v-4.3M347.7 312.0v4.3M375.9 420.0v-4.3M375.9 312.0v4.3M404.1 420.0v-4.3M404.1 312.0v4.3M432.3 420.0v-4.3M432.3 312.0v4.3M460.5 420.0v-4.3M460.5 312.0v4.3M37.5 325.7h4.3M487.5 325.7h-4.3M37.5 352.2h4.3M487.5 352.2h-4.3M37.5 374.5h4.3M487.5 374.5h-4.3M37.5 393.3h4.3M487.5 393.3h-4.3M37.5 411.1h4.3M487.5 411.1h-4.3" stroke="#222" stroke-width="0.9" fill="none"/>
<rect x="37.5" y="20.5" width="450" height="108.0" fill="none" stroke="#262626" stroke-width="1"/>
<rect x="37.5" y="166.5" width="450" height="107.0" fill="none" stroke="#262626" stroke-width="1"/>
<rect x="37.5" y="312.5" width="450" height="108.0" fill="none" stroke="#262626" stroke-width="1"/>
<rect x="497.5" y="20.5" width="15" height="108.0" fill="none" stroke="#333" stroke-width="1"/>
<rect x="497.5" y="166.5" width="15" height="108.0" fill="none" stroke="#333" stroke-width="1"/>
<rect x="497.5" y="312.5" width="15" height="108.0" fill="none" stroke="#333" stroke-width="1"/>
<clipPath id="cpb"><rect x="37.5" y="166.0" width="450" height="107.0"/></clipPath><g clip-path="url(#cpb)"><path d="M38.1 166.6L49.5 166.6M38.1 180.0L49.5 180.0M38.1 192.4L49.5 192.4M38.1 204.2L49.5 204.2M38.1 215.0L49.5 215.0M52.6 166.6L64.0 166.6M52.6 180.0L64.0 180.0M52.6 192.4L64.0 192.4M52.6 204.2L64.0 204.2M52.6 215.0L64.0 215.0M67.2 166.6L78.6 166.6M67.2 180.0L78.6 180.0M67.2 192.4L78.6 192.4M67.2 204.2L78.6 204.2M67.2 215.0L78.6 215.0M81.7 166.6L93.1 166.6M81.7 180.0L93.1 180.0M81.7 192.4L93.1 192.4M81.7 204.2L93.1 204.2M81.7 215.0L93.1 215.0M96.2 166.6L107.6 166.6M96.2 180.0L107.6 180.0M96.2 192.4L107.6 192.4M96.2 204.2L107.6 204.2M96.2 215.0L107.6 215.0M110.7 166.6L122.1 166.6M110.7 180.0L122.1 180.0M110.7 192.4L122.1 192.4M110.7 204.2L122.1 204.2M110.7 215.0L121.9 212.6M125.3 166.6L136.7 166.6M125.3 180.0L136.7 180.0M125.3 192.4L136.7 192.4M125.3 204.2L136.7 204.2M125.3 215.0L136.7 215.0M139.8 166.6L151.2 166.6M139.8 180.0L151.2 180.0M139.8 192.4L151.2 192.4M139.8 204.2L151.2 204.2M139.8 215.0L151.2 215.0M154.3 166.6L165.7 166.6M154.3 180.0L165.7 180.0M154.3 192.4L165.7 192.4M154.3 204.2L165.7 204.2M154.3 215.0L165.7 215.0M168.9 166.6L180.3 166.6M168.9 180.0L180.3 180.0M168.9 192.4L180.3 192.4M168.9 204.2L180.3 204.2M168.9 215.0L180.3 215.0M183.4 166.6L193.3 172.3M183.4 180.0L194.8 180.0M183.4 192.4L194.8 192.4M183.4 204.2L194.8 204.2M183.4 215.0L194.6 217.4M197.9 166.6L207.8 172.3M197.9 180.0L209.1 182.4M197.9 192.4L207.8 198.1M197.9 204.2L209.1 206.6M197.9 215.0L207.8 220.7M212.5 166.6L222.3 172.3M212.5 180.0L222.3 185.7M212.5 192.4L223.6 190.0M212.5 204.2L222.3 209.9M212.5 215.0L218.2 224.9M227.0 166.6L236.9 172.3M227.0 180.0L238.4 180.0M227.0 192.4L238.4 192.4M227.0 204.2L238.4 204.2M227.0 215.0L236.9 209.3M241.5 166.6L252.9 166.6M241.5 180.0L252.9 180.0M241.5 192.4L252.9 192.4M241.5 204.2L252.9 204.2M241.5 215.0L252.9 215.0M256.1 166.6L267.4 166.6M256.1 180.0L267.4 180.0M256.1 192.4L267.4 192.4M256.1 204.2L267.4 204.2M256.1 215.0L267.4 215.0M270.6 166.6L282.0 166.6M270.6 180.0L282.0 180.0M270.6 192.4L282.0 192.4M270.6 204.2L282.0 204.2M270.6 215.0L282.0 215.0M285.1 166.6L296.5 166.6M285.1 180.0L296.5 180.0M285.1 192.4L296.5 192.4M285.1 204.2L296.5 204.2M285.1 215.0L296.5 215.0M299.6 166.6L311.0 166.6M299.6 180.0L311.0 180.0M299.6 192.4L311.0 192.4M299.6 204.2L311.0 204.2M299.6 215.0L311.0 215.0M314.2 166.6L325.6 166.6M314.2 180.0L325.6 180.0M314.2 192.4L325.6 192.4M314.2 204.2L325.6 204.2M314.2 215.0L325.6 215.0M328.7 166.6L340.1 166.6M328.7 180.0L340.1 180.0M328.7 192.4L340.1 192.4M328.7 204.2L340.1 204.2M328.7 215.0L339.9 212.6M343.2 166.6L354.6 166.6M343.2 180.0L354.6 180.0M343.2 192.4L354.6 192.4M343.2 204.2L354.6 204.2M343.2 215.0L354.6 215.0M357.8 166.6L369.2 166.6M357.8 180.0L369.2 180.0M357.8 192.4L369.2 192.4M357.8 204.2L369.2 204.2M357.8 215.0L369.2 215.0M372.3 166.6L383.7 166.6M372.3 180.0L383.7 180.0M372.3 192.4L383.7 192.4M372.3 204.2L383.7 204.2M372.3 215.0L383.7 215.0M386.8 166.6L398.2 166.6M386.8 180.0L398.2 180.0M386.8 192.4L398.2 192.4M386.8 204.2L398.2 204.2M386.8 215.0L398.2 215.0M401.4 166.6L412.8 166.6M401.4 180.0L412.8 180.0M401.4 192.4L412.8 192.4M401.4 204.2L412.8 204.2M401.4 215.0L412.8 215.0M415.9 166.6L427.3 166.6M415.9 180.0L427.3 180.0M415.9 192.4L427.3 192.4M415.9 204.2L427.3 204.2M415.9 215.0L427.3 215.0M430.4 166.6L441.8 166.6M430.4 180.0L441.8 180.0M430.4 192.4L441.8 192.4M430.4 204.2L441.8 204.2M430.4 215.0L441.8 215.0M444.9 166.6L456.3 166.6M444.9 180.0L456.3 180.0M444.9 192.4L456.3 192.4M444.9 204.2L456.3 204.2M444.9 215.0L456.3 215.0M459.5 166.6L470.9 166.6M459.5 180.0L470.9 180.0M459.5 192.4L470.9 192.4M459.5 204.2L470.9 204.2M459.5 215.0L470.9 215.0M474.0 166.6L485.4 166.6M474.0 180.0L485.4 180.0M474.0 192.4L485.4 192.4M474.0 204.2L485.4 204.2M474.0 215.0L485.4 215.0" stroke="#1c1c1c" stroke-width="0.9" fill="none"/><path d="M38.1 225.5L48.6 225.5M38.1 230.5L48.1 230.5M38.1 235.5L48.1 235.5M38.1 240.3L48.1 240.3M38.1 244.8L48.1 244.8M38.1 248.9L46.8 243.9M38.1 253.2L48.1 253.2M38.1 257.7L48.1 257.7M38.1 261.9L48.1 261.9M38.1 265.8L48.1 265.8M38.1 269.6L48.1 269.6M52.6 225.5L63.1 225.5M52.6 230.5L62.6 230.5M52.6 235.5L62.6 235.5M52.6 240.3L62.4 242.4M52.6 244.8L62.6 244.8M52.6 248.9L61.3 253.9M52.6 253.2L62.6 253.2M52.6 257.7L62.6 257.7M52.6 261.9L62.6 261.9M52.6 265.8L62.6 265.8M52.6 269.6L62.6 269.6M67.2 225.5L77.4 223.3M67.2 230.5L77.2 230.5M67.2 235.5L75.8 240.5M67.2 240.3L75.8 245.3M67.2 244.8L75.8 249.8M67.2 248.9L77.2 248.9M67.2 253.2L77.2 253.2M67.2 257.7L77.2 257.7M67.2 261.9L77.2 261.9M67.2 265.8L77.2 265.8M67.2 269.6L77.2 269.6M81.7 225.5L92.2 225.5M81.7 230.5L91.5 232.6M81.7 235.5L90.4 240.5M81.7 240.3L85.2 246.4M81.7 244.8L90.4 249.8M81.7 248.9L90.4 253.9M81.7 253.2L91.5 255.3M81.7 257.7L91.7 257.7M81.7 261.9L91.7 261.9M81.7 265.8L91.7 265.8M81.7 269.6L91.7 269.6M96.2 225.5L105.3 220.2M96.2 230.5L99.7 224.4M96.2 235.5L96.8 228.5M96.2 240.3L96.8 233.3M96.2 244.8L96.8 237.8M96.2 248.9L104.9 253.9M96.2 253.2L106.0 255.3M96.2 257.7L106.0 259.8M96.2 261.9L106.0 264.0M96.2 265.8L106.0 267.9M96.2 269.6L106.2 269.6M110.7 225.5L119.8 220.2M110.7 230.5L114.2 224.4M110.7 235.5L111.4 228.5M110.7 240.3L111.4 233.3M110.7 244.8L114.2 238.7M110.7 248.9L119.4 253.9M110.7 253.2L120.5 255.3M110.7 257.7L120.5 259.8M110.7 261.9L120.7 261.9M110.7 265.8L120.7 265.8M110.7 269.6L120.7 269.6M125.3 225.5L135.8 225.5M125.3 230.5L135.1 232.6M125.3 235.5L135.1 237.6M125.3 240.3L135.1 242.4M125.3 244.8L135.1 246.9M125.3 248.9L125.9 255.9M125.3 253.2L135.1 255.3M125.3 257.7L135.3 257.7M125.3 261.9L135.3 261.9M125.3 265.8L135.1 267.9M125.3 269.6L135.3 269.6M139.8 225.5L150.1 227.7M139.8 230.5L148.5 235.5M139.8 235.5L149.8 235.5M139.8 240.3L149.8 240.3M139.8 244.8L149.8 244.8M139.8 248.9L149.8 248.9M139.8 253.2L149.8 253.2M139.8 257.7L149.6 255.6M139.8 261.9L149.8 261.9M139.8 265.8L149.8 265.8M139.8 269.6L149.8 269.6M154.3 225.5L164.8 225.5M154.3 230.5L164.3 230.5M154.3 235.5L164.3 235.5M154.3 240.3L164.3 240.3M154.3 244.8L164.3 244.8M154.3 248.9L164.3 248.9M154.3 253.2L164.3 253.2M154.3 257.7L164.3 257.7M154.3 261.9L164.3 261.9M154.3 265.8L164.3 265.8M154.3 269.6L164.3 269.6M168.9 225.5L179.1 223.3M168.9 253.2L178.9 253.2M168.9 257.7L178.9 257.7M168.9 261.9L178.9 261.9M168.9 265.8L178.9 265.8M168.9 269.6L178.9 269.6M183.4 225.5L193.7 227.7M183.4 230.5L193.2 232.6M183.4 235.5L193.2 237.6M183.4 240.3L192.1 245.3M183.4 244.8L192.1 249.8M183.4 248.9L193.4 248.9M183.4 253.2L193.4 253.2M183.4 257.7L193.4 257.7M183.4 261.9L193.4 261.9M183.4 265.8L193.4 265.8M183.4 269.6L193.4 269.6M197.9 225.5L208.2 227.7M197.9 230.5L201.4 236.6M197.9 235.5L207.9 235.5M197.9 240.3L207.9 240.3M197.9 244.8L207.9 244.8M197.9 248.9L207.9 248.9M197.9 253.2L207.9 253.2M197.9 257.7L207.9 257.7M197.9 261.9L207.9 261.9M197.9 265.8L207.9 265.8M197.9 269.6L207.9 269.6M212.5 225.5L221.1 230.5M212.5 230.5L220.7 235.2M212.5 235.5L220.3 240.0M212.5 240.3L219.8 244.6M212.5 244.8L219.4 248.8M212.5 248.9L219.0 252.7M212.5 253.2L218.5 256.7M212.5 257.7L218.1 260.9M212.5 261.9L218.1 265.1M212.5 265.8L217.7 268.8M212.5 269.6L217.7 272.6M227.0 225.5L230.5 219.4M227.0 230.5L230.3 224.7M227.0 235.5L230.1 230.0M227.0 240.3L230.0 235.1M227.0 244.8L229.8 240.0M227.0 248.9L233.5 252.7M227.0 253.2L233.1 256.7M227.0 257.7L232.6 260.9M227.0 261.9L232.6 265.1M227.0 265.8L232.2 268.8M227.0 269.6L232.2 272.6M241.5 225.5L251.5 225.5M241.5 230.5L251.0 230.5M241.5 235.5L244.7 230.0M241.5 240.3L244.5 235.1M241.5 244.8L244.3 240.0M241.5 248.9L244.1 244.4M241.5 253.2L247.6 256.7M241.5 257.7L247.1 260.9M241.5 261.9L247.1 265.1M241.5 265.8L246.7 268.8M241.5 269.6L246.7 272.6M256.1 225.5L266.1 225.5M256.1 230.5L265.6 230.5M256.1 235.5L265.1 235.5M256.1 240.3L264.6 240.3M256.1 244.8L258.9 240.0M256.1 248.9L258.7 244.4M256.1 253.2L258.5 249.0M256.1 257.7L261.7 260.9M256.1 261.9L261.7 265.1M256.1 265.8L261.2 268.8M256.1 269.6L261.2 272.6M270.6 225.5L280.4 223.4M270.6 230.5L279.9 228.5M270.6 235.5L279.4 233.6M270.6 240.3L278.9 238.5M270.6 244.8L277.1 248.6M270.6 248.9L276.2 252.2M270.6 253.2L270.9 257.0M270.6 257.7L270.9 261.2M270.6 261.9L270.9 265.0M270.6 265.8L270.8 268.6M270.6 269.6L270.8 272.4M285.1 225.5L294.9 223.4M285.1 230.5L294.4 228.5M285.1 235.5L293.9 233.6M285.1 240.3L293.4 238.5M285.1 244.8L285.6 239.6M285.1 248.9L285.5 244.4M285.1 253.2L285.4 249.4M285.1 257.7L285.4 254.2M285.1 261.9L285.4 258.8M285.1 265.8L285.4 263.0M285.1 269.6L285.4 266.8M299.6 225.5L309.4 223.4M299.6 230.5L308.9 228.5M299.6 235.5L308.4 233.6M299.6 240.3L308.0 238.5M299.6 244.8L306.1 248.6M299.6 248.9L305.3 252.2M299.6 253.2L304.4 255.9M299.6 257.7L304.0 260.2M299.6 261.9L303.5 264.1M299.6 265.8L303.1 267.8M299.6 269.6L303.1 271.6M314.2 225.5L324.0 223.4M314.2 230.5L323.5 228.5M314.2 235.5L323.0 233.6M314.2 240.3L322.5 238.5M314.2 244.8L320.7 241.1M314.2 248.9L316.4 245.0M314.2 253.2L316.1 249.9M314.2 257.7L315.9 254.7M314.2 261.9L315.7 259.2M314.2 265.8L317.6 267.8M314.2 269.6L317.6 271.6M328.7 225.5L338.5 223.4M328.7 230.5L338.0 228.5M328.7 235.5L337.5 233.6M328.7 240.3L337.0 238.5M328.7 244.8L335.2 241.1M328.7 248.9L334.3 245.7M328.7 253.2L330.6 249.9M328.7 257.7L330.4 254.7M328.7 261.9L330.3 259.2M328.7 265.8L332.2 267.8M328.7 269.6L332.2 271.6M343.2 225.5L353.0 223.4M343.2 230.5L352.5 228.5M343.2 235.5L352.0 233.6M343.2 240.3L351.5 238.5M343.2 244.8L349.7 241.1M343.2 248.9L348.9 245.7M343.2 253.2L345.2 249.9M343.2 257.7L345.0 254.7M343.2 261.9L344.8 259.2M343.2 265.8L346.7 267.8M343.2 269.6L346.7 271.6M357.8 225.5L367.5 223.4M357.8 230.5L367.1 228.5M357.8 235.5L366.6 233.6M357.8 240.3L366.1 238.5M357.8 244.8L364.3 241.1M357.8 248.9L363.4 245.7M357.8 253.2L359.7 249.9M357.8 257.7L359.5 254.7M357.8 261.9L359.3 259.2M357.8 265.8L361.2 267.8M357.8 269.6L361.2 271.6M372.3 225.5L382.1 223.4M372.3 230.5L381.6 228.5M372.3 235.5L381.1 233.6M372.3 240.3L380.6 238.5M372.3 244.8L379.6 243.2M372.3 248.9L378.6 247.5M372.3 253.2L372.6 249.4M372.3 257.7L372.6 254.2M372.3 261.9L372.6 258.8M372.3 265.8L372.5 263.0M372.3 269.6L372.5 266.8M386.8 225.5L396.8 225.5M386.8 230.5L396.1 232.5M386.8 235.5L395.8 235.5M386.8 240.3L395.3 240.3M386.8 244.8L394.3 244.8M386.8 248.9L393.2 250.3M386.8 253.2L392.2 254.3M386.8 257.7L391.2 255.2M386.8 261.9L390.7 259.6M386.8 265.8L390.3 263.8M386.8 269.6L390.3 267.6M401.4 225.5L411.4 225.5M401.4 230.5L410.6 228.5M401.4 235.5L410.4 235.5M401.4 240.3L409.9 240.3M401.4 244.8L407.8 241.1M401.4 248.9L407.0 245.7M401.4 253.2L403.3 249.9M401.4 257.7L403.1 254.7M401.4 261.9L402.9 259.2M401.4 265.8L402.8 263.4M401.4 269.6L402.8 267.2M415.9 225.5L425.9 225.5M415.9 230.5L425.4 230.5M415.9 235.5L424.9 235.5M415.9 240.3L424.4 240.3M415.9 244.8L422.4 241.1M415.9 248.9L418.2 245.0M415.9 253.2L417.8 249.9M415.9 257.7L417.6 254.7M415.9 261.9L417.5 259.2M415.9 265.8L417.3 263.4M415.9 269.6L417.3 267.2M430.4 225.5L440.4 225.5M430.4 230.5L439.9 230.5M430.4 235.5L439.4 235.5M430.4 240.3L438.9 240.3M430.4 244.8L436.9 241.1M430.4 248.9L436.0 245.7M430.4 253.2L435.2 250.4M430.4 257.7L434.7 255.2M430.4 261.9L434.3 259.6M430.4 265.8L433.9 263.8M430.4 269.6L433.9 267.6M444.9 225.5L454.9 225.5M444.9 230.5L454.4 230.5M444.9 235.5L453.7 237.4M444.9 240.3L453.3 242.1M444.9 244.8L452.9 244.8M444.9 248.9L452.4 248.9M444.9 253.2L451.8 251.7M444.9 257.7L451.3 256.3M444.9 261.9L451.3 260.5M444.9 265.8L450.8 264.6M444.9 269.6L450.8 268.4M459.5 225.5L469.5 225.5M459.5 230.5L469.0 230.5M459.5 235.5L468.3 237.4M459.5 240.3L467.8 242.1M459.5 244.8L467.3 246.5M459.5 248.9L467.0 248.9M459.5 253.2L466.5 253.2M459.5 257.7L466.0 257.7M459.5 261.9L466.0 261.9M459.5 265.8L465.3 264.6M459.5 269.6L465.3 268.4M474.0 225.5L484.0 225.5M474.0 230.5L483.5 230.5M474.0 235.5L483.0 235.5M474.0 240.3L481.4 236.1M474.0 244.8L480.9 240.8M474.0 248.9L476.6 244.4M474.0 253.2L481.0 253.2M474.0 257.7L480.4 259.1M474.0 261.9L480.4 263.3M474.0 265.8L479.9 267.0M474.0 269.6L479.9 270.8" stroke="#1c1c1c" stroke-width="1.3" fill="none"/><path d="M49.5 166.6L46.3 167.8L46.3 165.4zM49.5 180.0L46.3 181.2L46.3 178.8zM49.5 192.4L46.3 193.6L46.3 191.2zM49.5 204.2L46.3 205.4L46.3 203.0zM49.5 215.0L46.3 216.2L46.3 213.8zM48.6 225.5L45.4 226.7L45.4 224.3zM48.1 230.5L44.9 231.7L44.9 229.3zM48.1 235.5L44.9 236.7L44.9 234.3zM48.1 240.3L44.9 241.5L44.9 239.1zM48.1 244.8L44.9 246.0L44.9 243.6zM46.8 243.9L44.6 246.5L43.4 244.5zM48.1 253.2L44.9 254.4L44.9 252.0zM48.1 257.7L44.9 258.9L44.9 256.5zM48.1 261.9L44.9 263.1L44.9 260.7zM48.1 265.8L44.9 267.0L44.9 264.6zM48.1 269.6L44.9 270.8L44.9 268.4zM64.0 166.6L60.8 167.8L60.8 165.4zM64.0 180.0L60.8 181.2L60.8 178.8zM64.0 192.4L60.8 193.6L60.8 191.2zM64.0 204.2L60.8 205.4L60.8 203.0zM64.0 215.0L60.8 216.2L60.8 213.8zM63.1 225.5L59.9 226.7L59.9 224.3zM62.6 230.5L59.4 231.7L59.4 229.3zM62.6 235.5L59.4 236.7L59.4 234.3zM62.4 242.4L59.0 242.9L59.5 240.5zM62.6 244.8L59.4 246.0L59.4 243.6zM61.3 253.9L57.9 253.3L59.1 251.3zM62.6 253.2L59.4 254.4L59.4 252.0zM62.6 257.7L59.4 258.9L59.4 256.5zM62.6 261.9L59.4 263.1L59.4 260.7zM62.6 265.8L59.4 267.0L59.4 264.6zM62.6 269.6L59.4 270.8L59.4 268.4zM78.6 166.6L75.4 167.8L75.4 165.4zM78.6 180.0L75.4 181.2L75.4 178.8zM78.6 192.4L75.4 193.6L75.4 191.2zM78.6 204.2L75.4 205.4L75.4 203.0zM78.6 215.0L75.4 216.2L75.4 213.8zM77.4 223.3L74.5 225.2L74.1 222.8zM77.2 230.5L74.0 231.7L74.0 229.3zM75.8 240.5L72.4 239.9L73.6 237.9zM75.8 245.3L72.4 244.7L73.6 242.7zM75.8 249.8L72.4 249.2L73.6 247.2zM77.2 248.9L74.0 250.1L74.0 247.7zM77.2 253.2L74.0 254.4L74.0 252.0zM77.2 257.7L74.0 258.9L74.0 256.5zM77.2 261.9L74.0 263.1L74.0 260.7zM77.2 265.8L74.0 267.0L74.0 264.6zM77.2 269.6L74.0 270.8L74.0 268.4zM93.1 166.6L89.9 167.8L89.9 165.4zM93.1 180.0L89.9 181.2L89.9 178.8zM93.1 192.4L89.9 193.6L89.9 191.2zM93.1 204.2L89.9 205.4L89.9 203.0zM93.1 215.0L89.9 216.2L89.9 213.8zM92.2 225.5L89.0 226.7L89.0 224.3zM91.5 232.6L88.1 233.1L88.6 230.7zM90.4 240.5L87.0 239.9L88.2 237.9zM85.2 246.4L82.6 244.2L84.6 243.0zM90.4 249.8L87.0 249.2L88.2 247.2zM90.4 253.9L87.0 253.3L88.2 251.3zM91.5 255.3L88.1 255.8L88.6 253.4zM91.7 257.7L88.5 258.9L88.5 256.5zM91.7 261.9L88.5 263.1L88.5 260.7zM91.7 265.8L88.5 267.0L88.5 264.6zM91.7 269.6L88.5 270.8L88.5 268.4zM107.6 166.6L104.4 167.8L104.4 165.4zM107.6 180.0L104.4 181.2L104.4 178.8zM107.6 192.4L104.4 193.6L104.4 191.2zM107.6 204.2L104.4 205.4L104.4 203.0zM107.6 215.0L104.4 216.2L104.4 213.8zM105.3 220.2L103.1 222.9L101.9 220.8zM99.7 224.4L99.2 227.8L97.1 226.6zM96.8 228.5L97.7 231.8L95.4 231.6zM96.8 233.3L97.7 236.6L95.4 236.4zM96.8 237.8L97.7 241.1L95.4 240.9zM104.9 253.9L101.5 253.3L102.7 251.3zM106.0 255.3L102.6 255.8L103.1 253.4zM106.0 259.8L102.6 260.3L103.1 257.9zM106.0 264.0L102.6 264.5L103.1 262.1zM106.0 267.9L102.6 268.4L103.1 266.0zM106.2 269.6L103.0 270.8L103.0 268.4zM122.1 166.6L118.9 167.8L118.9 165.4zM122.1 180.0L118.9 181.2L118.9 178.8zM122.1 192.4L118.9 193.6L118.9 191.2zM122.1 204.2L118.9 205.4L118.9 203.0zM121.9 212.6L119.0 214.5L118.5 212.1zM119.8 220.2L117.7 222.9L116.5 220.8zM114.2 224.4L113.7 227.8L111.6 226.6zM111.4 228.5L112.3 231.8L109.9 231.6zM111.4 233.3L112.3 236.6L109.9 236.4zM114.2 238.7L113.7 242.1L111.6 240.9zM119.4 253.9L116.0 253.3L117.2 251.3zM120.5 255.3L117.2 255.8L117.7 253.4zM120.5 259.8L117.2 260.3L117.7 257.9zM120.7 261.9L117.5 263.1L117.5 260.7zM120.7 265.8L117.5 267.0L117.5 264.6zM120.7 269.6L117.5 270.8L117.5 268.4zM136.7 166.6L133.5 167.8L133.5 165.4zM136.7 180.0L133.5 181.2L133.5 178.8zM136.7 192.4L133.5 193.6L133.5 191.2zM136.7 204.2L133.5 205.4L133.5 203.0zM136.7 215.0L133.5 216.2L133.5 213.8zM135.8 225.5L132.6 226.7L132.6 224.3zM135.1 232.6L131.7 233.1L132.2 230.7zM135.1 237.6L131.7 238.1L132.2 235.7zM135.1 242.4L131.7 242.9L132.2 240.5zM135.1 246.9L131.7 247.4L132.2 245.0zM125.9 255.9L124.4 252.8L126.8 252.6zM135.1 255.3L131.7 255.8L132.2 253.4zM135.3 257.7L132.1 258.9L132.1 256.5zM135.3 261.9L132.1 263.1L132.1 260.7zM135.1 267.9L131.7 268.4L132.2 266.0zM135.3 269.6L132.1 270.8L132.1 268.4zM151.2 166.6L148.0 167.8L148.0 165.4zM151.2 180.0L148.0 181.2L148.0 178.8zM151.2 192.4L148.0 193.6L148.0 191.2zM151.2 204.2L148.0 205.4L148.0 203.0zM151.2 215.0L148.0 216.2L148.0 213.8zM150.1 227.7L146.7 228.2L147.2 225.8zM148.5 235.5L145.1 234.9L146.3 232.9zM149.8 235.5L146.6 236.7L146.6 234.3zM149.8 240.3L146.6 241.5L146.6 239.1zM149.8 244.8L146.6 246.0L146.6 243.6zM149.8 248.9L146.6 250.1L146.6 247.7zM149.8 253.2L146.6 254.4L146.6 252.0zM149.6 255.6L146.7 257.5L146.2 255.1zM149.8 261.9L146.6 263.1L146.6 260.7zM149.8 265.8L146.6 267.0L146.6 264.6zM149.8 269.6L146.6 270.8L146.6 268.4zM165.7 166.6L162.5 167.8L162.5 165.4zM165.7 180.0L162.5 181.2L162.5 178.8zM165.7 192.4L162.5 193.6L162.5 191.2zM165.7 204.2L162.5 205.4L162.5 203.0zM165.7 215.0L162.5 216.2L162.5 213.8zM164.8 225.5L161.6 226.7L161.6 224.3zM164.3 230.5L161.1 231.7L161.1 229.3zM164.3 235.5L161.1 236.7L161.1 234.3zM164.3 240.3L161.1 241.5L161.1 239.1zM164.3 244.8L161.1 246.0L161.1 243.6zM164.3 248.9L161.1 250.1L161.1 247.7zM164.3 253.2L161.1 254.4L161.1 252.0zM164.3 257.7L161.1 258.9L161.1 256.5zM164.3 261.9L161.1 263.1L161.1 260.7zM164.3 265.8L161.1 267.0L161.1 264.6zM164.3 269.6L161.1 270.8L161.1 268.4zM180.3 166.6L177.1 167.8L177.1 165.4zM180.3 180.0L177.1 181.2L177.1 178.8zM180.3 192.4L177.1 193.6L177.1 191.2zM180.3 204.2L177.1 205.4L177.1 203.0zM180.3 215.0L177.1 216.2L177.1 213.8zM179.1 223.3L176.3 225.2L175.8 222.8zM178.9 253.2L175.7 254.4L175.7 252.0zM178.9 257.7L175.7 258.9L175.7 256.5zM178.9 261.9L175.7 263.1L175.7 260.7zM178.9 265.8L175.7 267.0L175.7 264.6zM178.9 269.6L175.7 270.8L175.7 268.4zM193.3 172.3L189.9 171.7L191.1 169.7zM194.8 180.0L191.6 181.2L191.6 178.8zM194.8 192.4L191.6 193.6L191.6 191.2zM194.8 204.2L191.6 205.4L191.6 203.0zM194.6 217.4L191.2 217.9L191.7 215.5zM193.7 227.7L190.3 228.2L190.8 225.8zM193.2 232.6L189.8 233.1L190.3 230.7zM193.2 237.6L189.8 238.1L190.3 235.7zM192.1 245.3L188.7 244.7L189.9 242.7zM192.1 249.8L188.7 249.2L189.9 247.2zM193.4 248.9L190.2 250.1L190.2 247.7zM193.4 253.2L190.2 254.4L190.2 252.0zM193.4 257.7L190.2 258.9L190.2 256.5zM193.4 261.9L190.2 263.1L190.2 260.7zM193.4 265.8L190.2 267.0L190.2 264.6zM193.4 269.6L190.2 270.8L190.2 268.4zM207.8 172.3L204.4 171.7L205.6 169.7zM209.1 182.4L205.7 182.9L206.2 180.5zM207.8 198.1L204.4 197.5L205.6 195.5zM209.1 206.6L205.7 207.1L206.2 204.7zM207.8 220.7L204.4 220.1L205.6 218.1zM208.2 227.7L204.8 228.2L205.3 225.8zM201.4 236.6L198.8 234.4L200.9 233.2zM207.9 235.5L204.7 236.7L204.7 234.3zM207.9 240.3L204.7 241.5L204.7 239.1zM207.9 244.8L204.7 246.0L204.7 243.6zM207.9 248.9L204.7 250.1L204.7 247.7zM207.9 253.2L204.7 254.4L204.7 252.0zM207.9 257.7L204.7 258.9L204.7 256.5zM207.9 261.9L204.7 263.1L204.7 260.7zM207.9 265.8L204.7 267.0L204.7 264.6zM207.9 269.6L204.7 270.8L204.7 268.4zM222.3 172.3L219.0 171.7L220.2 169.7zM222.3 185.7L219.0 185.1L220.2 183.1zM223.6 190.0L220.7 191.9L220.2 189.5zM222.3 209.9L219.0 209.3L220.2 207.3zM218.2 224.9L215.5 222.7L217.6 221.5zM221.1 230.5L217.7 229.9L218.9 227.9zM220.7 235.2L217.3 234.7L218.5 232.6zM220.3 240.0L216.9 239.4L218.1 237.4zM219.8 244.6L216.4 244.0L217.6 241.9zM219.4 248.8L216.0 248.2L217.2 246.2zM219.0 252.7L215.6 252.1L216.8 250.0zM218.5 256.7L215.2 256.1L216.4 254.1zM218.1 260.9L214.7 260.4L215.9 258.3zM218.1 265.1L214.7 264.6L215.9 262.5zM217.7 268.8L214.3 268.2L215.5 266.2zM217.7 272.6L214.3 272.0L215.5 270.0zM236.9 172.3L233.5 171.7L234.7 169.7zM238.4 180.0L235.2 181.2L235.2 178.8zM238.4 192.4L235.2 193.6L235.2 191.2zM238.4 204.2L235.2 205.4L235.2 203.0zM236.9 209.3L234.7 211.9L233.5 209.9zM230.5 219.4L229.9 222.8L227.9 221.6zM230.3 224.7L229.8 228.1L227.7 226.9zM230.1 230.0L229.6 233.4L227.5 232.2zM230.0 235.1L229.4 238.5L227.3 237.3zM229.8 240.0L229.2 243.3L227.2 242.1zM233.5 252.7L230.1 252.1L231.3 250.0zM233.1 256.7L229.7 256.1L230.9 254.1zM232.6 260.9L229.2 260.4L230.4 258.3zM232.6 265.1L229.2 264.6L230.4 262.5zM232.2 268.8L228.8 268.2L230.0 266.2zM232.2 272.6L228.8 272.0L230.0 270.0zM252.9 166.6L249.7 167.8L249.7 165.4zM252.9 180.0L249.7 181.2L249.7 178.8zM252.9 192.4L249.7 193.6L249.7 191.2zM252.9 204.2L249.7 205.4L249.7 203.0zM252.9 215.0L249.7 216.2L249.7 213.8zM251.5 225.5L248.3 226.7L248.3 224.3zM251.0 230.5L247.8 231.7L247.8 229.3zM244.7 230.0L244.1 233.4L242.0 232.2zM244.5 235.1L243.9 238.5L241.9 237.3zM244.3 240.0L243.8 243.3L241.7 242.1zM244.1 244.4L243.6 247.7L241.5 246.5zM247.6 256.7L244.2 256.1L245.4 254.1zM247.1 260.9L243.8 260.4L245.0 258.3zM247.1 265.1L243.8 264.6L245.0 262.5zM246.7 268.8L243.3 268.2L244.5 266.2zM246.7 272.6L243.3 272.0L244.5 270.0zM267.4 166.6L264.2 167.8L264.2 165.4zM267.4 180.0L264.2 181.2L264.2 178.8zM267.4 192.4L264.2 193.6L264.2 191.2zM267.4 204.2L264.2 205.4L264.2 203.0zM267.4 215.0L264.2 216.2L264.2 213.8zM266.1 225.5L262.9 226.7L262.9 224.3zM265.6 230.5L262.4 231.7L262.4 229.3zM265.1 235.5L261.9 236.7L261.9 234.3zM264.6 240.3L261.4 241.5L261.4 239.1zM258.9 240.0L258.3 243.3L256.2 242.1zM258.7 244.4L258.1 247.7L256.0 246.5zM258.5 249.0L257.9 252.3L255.9 251.1zM261.7 260.9L258.3 260.4L259.5 258.3zM261.7 265.1L258.3 264.6L259.5 262.5zM261.2 268.8L257.9 268.2L259.1 266.2zM261.2 272.6L257.9 272.0L259.1 270.0zM282.0 166.6L278.8 167.8L278.8 165.4zM282.0 180.0L278.8 181.2L278.8 178.8zM282.0 192.4L278.8 193.6L278.8 191.2zM282.0 204.2L278.8 205.4L278.8 203.0zM282.0 215.0L278.8 216.2L278.8 213.8zM280.4 223.4L277.5 225.3L277.0 222.9zM279.9 228.5L277.0 230.4L276.5 228.0zM279.4 233.6L276.5 235.5L276.0 233.1zM278.9 238.5L276.0 240.4L275.5 238.0zM277.1 248.6L273.7 248.0L274.9 245.9zM276.2 252.2L272.8 251.6L274.0 249.5zM270.9 257.0L269.4 254.0L271.8 253.7zM270.9 261.2L269.4 258.1L271.8 257.9zM270.9 265.0L269.4 262.0L271.8 261.7zM270.8 268.6L269.3 265.5L271.7 265.3zM270.8 272.4L269.3 269.3L271.7 269.1zM296.5 166.6L293.3 167.8L293.3 165.4zM296.5 180.0L293.3 181.2L293.3 178.8zM296.5 192.4L293.3 193.6L293.3 191.2zM296.5 204.2L293.3 205.4L293.3 203.0zM296.5 215.0L293.3 216.2L293.3 213.8zM294.9 223.4L292.0 225.3L291.5 222.9zM294.4 228.5L291.5 230.4L291.0 228.0zM293.9 233.6L291.0 235.5L290.5 233.1zM293.4 238.5L290.5 240.4L290.0 238.0zM285.6 239.6L286.5 242.9L284.1 242.7zM285.5 244.4L286.4 247.7L284.0 247.5zM285.4 249.4L286.4 252.7L284.0 252.4zM285.4 254.2L286.3 257.5L283.9 257.3zM285.4 258.8L286.3 262.1L283.9 261.8zM285.4 263.0L286.3 266.3L283.9 266.1zM285.4 266.8L286.3 270.1L283.9 269.9zM311.0 166.6L307.8 167.8L307.8 165.4zM311.0 180.0L307.8 181.2L307.8 178.8zM311.0 192.4L307.8 193.6L307.8 191.2zM311.0 204.2L307.8 205.4L307.8 203.0zM311.0 215.0L307.8 216.2L307.8 213.8zM309.4 223.4L306.5 225.3L306.0 222.9zM308.9 228.5L306.1 230.4L305.6 228.0zM308.4 233.6L305.6 235.5L305.1 233.1zM308.0 238.5L305.1 240.4L304.6 238.0zM306.1 248.6L302.8 248.0L304.0 245.9zM305.3 252.2L301.9 251.6L303.1 249.5zM304.4 255.9L301.0 255.4L302.2 253.3zM304.0 260.2L300.6 259.6L301.8 257.6zM303.5 264.1L300.2 263.6L301.4 261.5zM303.1 267.8L299.7 267.2L300.9 265.2zM303.1 271.6L299.7 271.0L300.9 269.0zM325.6 166.6L322.4 167.8L322.4 165.4zM325.6 180.0L322.4 181.2L322.4 178.8zM325.6 192.4L322.4 193.6L322.4 191.2zM325.6 204.2L322.4 205.4L322.4 203.0zM325.6 215.0L322.4 216.2L322.4 213.8zM324.0 223.4L321.1 225.3L320.6 222.9zM323.5 228.5L320.6 230.4L320.1 228.0zM323.0 233.6L320.1 235.5L319.6 233.1zM322.5 238.5L319.6 240.4L319.1 238.0zM320.7 241.1L318.5 243.7L317.3 241.6zM316.4 245.0L315.9 248.3L313.8 247.1zM316.1 249.9L315.5 253.2L313.5 252.0zM315.9 254.7L315.4 258.0L313.3 256.8zM315.7 259.2L315.2 262.5L313.1 261.3zM317.6 267.8L314.3 267.2L315.5 265.2zM317.6 271.6L314.3 271.0L315.5 269.0zM340.1 166.6L336.9 167.8L336.9 165.4zM340.1 180.0L336.9 181.2L336.9 178.8zM340.1 192.4L336.9 193.6L336.9 191.2zM340.1 204.2L336.9 205.4L336.9 203.0zM339.9 212.6L337.0 214.5L336.5 212.1zM338.5 223.4L335.6 225.3L335.1 222.9zM338.0 228.5L335.1 230.4L334.6 228.0zM337.5 233.6L334.6 235.5L334.1 233.1zM337.0 238.5L334.1 240.4L333.6 238.0zM335.2 241.1L333.0 243.7L331.8 241.6zM334.3 245.7L332.2 248.3L331.0 246.2zM330.6 249.9L330.1 253.2L328.0 252.0zM330.4 254.7L329.9 258.0L327.8 256.8zM330.3 259.2L329.7 262.5L327.6 261.3zM332.2 267.8L328.8 267.2L330.0 265.2zM332.2 271.6L328.8 271.0L330.0 269.0zM354.6 166.6L351.4 167.8L351.4 165.4zM354.6 180.0L351.4 181.2L351.4 178.8zM354.6 192.4L351.4 193.6L351.4 191.2zM354.6 204.2L351.4 205.4L351.4 203.0zM354.6 215.0L351.4 216.2L351.4 213.8zM353.0 223.4L350.1 225.3L349.6 222.9zM352.5 228.5L349.6 230.4L349.1 228.0zM352.0 233.6L349.2 235.5L348.7 233.1zM351.5 238.5L348.7 240.4L348.2 238.0zM349.7 241.1L347.6 243.7L346.4 241.6zM348.9 245.7L346.7 248.3L345.5 246.2zM345.2 249.9L344.6 253.2L342.5 252.0zM345.0 254.7L344.4 258.0L342.3 256.8zM344.8 259.2L344.2 262.5L342.2 261.3zM346.7 267.8L343.3 267.2L344.5 265.2zM346.7 271.6L343.3 271.0L344.5 269.0zM369.2 166.6L366.0 167.8L366.0 165.4zM369.2 180.0L366.0 181.2L366.0 178.8zM369.2 192.4L366.0 193.6L366.0 191.2zM369.2 204.2L366.0 205.4L366.0 203.0zM369.2 215.0L366.0 216.2L366.0 213.8zM367.5 223.4L364.7 225.3L364.2 222.9zM367.1 228.5L364.2 230.4L363.7 228.0zM366.6 233.6L363.7 235.5L363.2 233.1zM366.1 238.5L363.2 240.4L362.7 238.0zM364.3 241.1L362.1 243.7L360.9 241.6zM363.4 245.7L361.2 248.3L360.0 246.2zM359.7 249.9L359.1 253.2L357.0 252.0zM359.5 254.7L358.9 258.0L356.9 256.8zM359.3 259.2L358.8 262.5L356.7 261.3zM361.2 267.8L357.9 267.2L359.1 265.2zM361.2 271.6L357.9 271.0L359.1 269.0zM383.7 166.6L380.5 167.8L380.5 165.4zM383.7 180.0L380.5 181.2L380.5 178.8zM383.7 192.4L380.5 193.6L380.5 191.2zM383.7 204.2L380.5 205.4L380.5 203.0zM383.7 215.0L380.5 216.2L380.5 213.8zM382.1 223.4L379.2 225.3L378.7 222.9zM381.6 228.5L378.7 230.4L378.2 228.0zM381.1 233.6L378.2 235.5L377.7 233.1zM380.6 238.5L377.7 240.4L377.2 238.0zM379.6 243.2L376.7 245.1L376.2 242.7zM378.6 247.5L375.8 249.4L375.3 247.0zM372.6 249.4L373.5 252.7L371.2 252.4zM372.6 254.2L373.5 257.5L371.1 257.3zM372.6 258.8L373.5 262.1L371.1 261.8zM372.5 263.0L373.5 266.3L371.1 266.1zM372.5 266.8L373.5 270.1L371.1 269.9zM398.2 166.6L395.0 167.8L395.0 165.4zM398.2 180.0L395.0 181.2L395.0 178.8zM398.2 192.4L395.0 193.6L395.0 191.2zM398.2 204.2L395.0 205.4L395.0 203.0zM398.2 215.0L395.0 216.2L395.0 213.8zM396.8 225.5L393.6 226.7L393.6 224.3zM396.1 232.5L392.7 233.0L393.2 230.6zM395.8 235.5L392.6 236.7L392.6 234.3zM395.3 240.3L392.1 241.5L392.1 239.1zM394.3 244.8L391.1 246.0L391.1 243.6zM393.2 250.3L389.8 250.8L390.3 248.4zM392.2 254.3L388.8 254.9L389.3 252.5zM391.2 255.2L389.0 257.8L387.8 255.8zM390.7 259.6L388.5 262.3L387.3 260.2zM390.3 263.8L388.1 266.4L386.9 264.4zM390.3 267.6L388.1 270.2L386.9 268.2zM412.8 166.6L409.6 167.8L409.6 165.4zM412.8 180.0L409.6 181.2L409.6 178.8zM412.8 192.4L409.6 193.6L409.6 191.2zM412.8 204.2L409.6 205.4L409.6 203.0zM412.8 215.0L409.6 216.2L409.6 213.8zM411.4 225.5L408.2 226.7L408.2 224.3zM410.6 228.5L407.8 230.4L407.3 228.0zM410.4 235.5L407.2 236.7L407.2 234.3zM409.9 240.3L406.7 241.5L406.7 239.1zM407.8 241.1L405.7 243.7L404.5 241.6zM407.0 245.7L404.8 248.3L403.6 246.2zM403.3 249.9L402.7 253.2L400.6 252.0zM403.1 254.7L402.5 258.0L400.5 256.8zM402.9 259.2L402.4 262.5L400.3 261.3zM402.8 263.4L402.2 266.7L400.1 265.5zM402.8 267.2L402.2 270.5L400.1 269.3zM427.3 166.6L424.1 167.8L424.1 165.4zM427.3 180.0L424.1 181.2L424.1 178.8zM427.3 192.4L424.1 193.6L424.1 191.2zM427.3 204.2L424.1 205.4L424.1 203.0zM427.3 215.0L424.1 216.2L424.1 213.8zM425.9 225.5L422.7 226.7L422.7 224.3zM425.4 230.5L422.2 231.7L422.2 229.3zM424.9 235.5L421.7 236.7L421.7 234.3zM424.4 240.3L421.2 241.5L421.2 239.1zM422.4 241.1L420.2 243.7L419.0 241.6zM418.2 245.0L417.6 248.3L415.5 247.1zM417.8 249.9L417.2 253.2L415.2 252.0zM417.6 254.7L417.1 258.0L415.0 256.8zM417.5 259.2L416.9 262.5L414.8 261.3zM417.3 263.4L416.7 266.7L414.6 265.5zM417.3 267.2L416.7 270.5L414.6 269.3zM441.8 166.6L438.6 167.8L438.6 165.4zM441.8 180.0L438.6 181.2L438.6 178.8zM441.8 192.4L438.6 193.6L438.6 191.2zM441.8 204.2L438.6 205.4L438.6 203.0zM441.8 215.0L438.6 216.2L438.6 213.8zM440.4 225.5L437.2 226.7L437.2 224.3zM439.9 230.5L436.7 231.7L436.7 229.3zM439.4 235.5L436.2 236.7L436.2 234.3zM438.9 240.3L435.7 241.5L435.7 239.1zM436.9 241.1L434.7 243.7L433.5 241.6zM436.0 245.7L433.9 248.3L432.7 246.2zM435.2 250.4L433.0 253.1L431.8 251.0zM434.7 255.2L432.6 257.8L431.4 255.8zM434.3 259.6L432.1 262.3L430.9 260.2zM433.9 263.8L431.7 266.4L430.5 264.4zM433.9 267.6L431.7 270.2L430.5 268.2zM456.3 166.6L453.1 167.8L453.1 165.4zM456.3 180.0L453.1 181.2L453.1 178.8zM456.3 192.4L453.1 193.6L453.1 191.2zM456.3 204.2L453.1 205.4L453.1 203.0zM456.3 215.0L453.1 216.2L453.1 213.8zM454.9 225.5L451.7 226.7L451.7 224.3zM454.4 230.5L451.2 231.7L451.2 229.3zM453.7 237.4L450.4 237.9L450.9 235.5zM453.3 242.1L449.9 242.6L450.4 240.2zM452.9 244.8L449.7 246.0L449.7 243.6zM452.4 248.9L449.2 250.1L449.2 247.7zM451.8 251.7L448.9 253.6L448.4 251.2zM451.3 256.3L448.4 258.2L447.9 255.8zM451.3 260.5L448.4 262.4L447.9 260.0zM450.8 264.6L447.9 266.4L447.4 264.0zM450.8 268.4L447.9 270.2L447.4 267.8zM470.9 166.6L467.7 167.8L467.7 165.4zM470.9 180.0L467.7 181.2L467.7 178.8zM470.9 192.4L467.7 193.6L467.7 191.2zM470.9 204.2L467.7 205.4L467.7 203.0zM470.9 215.0L467.7 216.2L467.7 213.8zM469.5 225.5L466.3 226.7L466.3 224.3zM469.0 230.5L465.8 231.7L465.8 229.3zM468.3 237.4L464.9 237.9L465.4 235.5zM467.8 242.1L464.4 242.6L464.9 240.2zM467.3 246.5L463.9 247.0L464.4 244.6zM467.0 248.9L463.8 250.1L463.8 247.7zM466.5 253.2L463.3 254.4L463.3 252.0zM466.0 257.7L462.8 258.9L462.8 256.5zM466.0 261.9L462.8 263.1L462.8 260.7zM465.3 264.6L462.5 266.4L462.0 264.0zM465.3 268.4L462.5 270.2L462.0 267.8zM485.4 166.6L482.2 167.8L482.2 165.4zM485.4 180.0L482.2 181.2L482.2 178.8zM485.4 192.4L482.2 193.6L482.2 191.2zM485.4 204.2L482.2 205.4L482.2 203.0zM485.4 215.0L482.2 216.2L482.2 213.8zM484.0 225.5L480.8 226.7L480.8 224.3zM483.5 230.5L480.3 231.7L480.3 229.3zM483.0 235.5L479.8 236.7L479.8 234.3zM481.4 236.1L479.2 238.7L478.0 236.6zM480.9 240.8L478.8 243.4L477.6 241.4zM476.6 244.4L476.1 247.7L474.0 246.5zM481.0 253.2L477.8 254.4L477.8 252.0zM480.4 259.1L477.0 259.6L477.5 257.2zM480.4 263.3L477.0 263.8L477.5 261.4zM479.9 267.0L476.5 267.6L477.0 265.2zM479.9 270.8L476.5 271.4L477.0 269.0z" fill="#1c1c1c"/></g>
<text x="38.5" y="13.0" font-size="11.80" font-weight="normal" text-anchor="start" >(a)</text>
<text x="32.6" y="36.5" font-size="9.00" font-weight="bold" text-anchor="end" >550</text>
<text x="32.6" y="62.6" font-size="9.00" font-weight="bold" text-anchor="end" >650</text>
<text x="32.6" y="85.1" font-size="9.00" font-weight="bold" text-anchor="end" >750</text>
<text x="32.6" y="104.7" font-size="9.00" font-weight="bold" text-anchor="end" >850</text>
<text x="32.6" y="123.3" font-size="9.00" font-weight="bold" text-anchor="end" >950</text>
<text x="13.0" y="74.0" font-size="10.90" font-weight="bold" text-anchor="middle" textLength="67.9" lengthAdjust="spacingAndGlyphs" transform="rotate(-90 13.0 74.0)">Pressure (hPa)</text>
<text x="65.7" y="142.0" font-size="9.00" font-weight="bold" text-anchor="middle" >9</text>
<text x="93.9" y="142.0" font-size="9.00" font-weight="bold" text-anchor="middle" >10</text>
<text x="122.1" y="142.0" font-size="9.00" font-weight="bold" text-anchor="middle" >11</text>
<text x="150.3" y="142.0" font-size="9.00" font-weight="bold" text-anchor="middle" >12</text>
<text x="178.5" y="142.0" font-size="9.00" font-weight="bold" text-anchor="middle" >13</text>
<text x="206.7" y="142.0" font-size="9.00" font-weight="bold" text-anchor="middle" >14</text>
<text x="234.9" y="142.0" font-size="9.00" font-weight="bold" text-anchor="middle" >15</text>
<text x="263.1" y="142.0" font-size="9.00" font-weight="bold" text-anchor="middle" >16</text>
<text x="291.3" y="142.0" font-size="9.00" font-weight="bold" text-anchor="middle" >17</text>
<text x="319.5" y="142.0" font-size="9.00" font-weight="bold" text-anchor="middle" >18</text>
<text x="347.7" y="142.0" font-size="9.00" font-weight="bold" text-anchor="middle" >19</text>
<text x="375.9" y="142.0" font-size="9.00" font-weight="bold" text-anchor="middle" >20</text>
<text x="404.1" y="142.0" font-size="9.00" font-weight="bold" text-anchor="middle" >21</text>
<text x="432.3" y="142.0" font-size="9.00" font-weight="bold" text-anchor="middle" >22</text>
<text x="460.5" y="142.0" font-size="9.00" font-weight="bold" text-anchor="middle" >23</text>
<text x="38.5" y="159.4" font-size="11.80" font-weight="normal" text-anchor="start" >(b)</text>
<text x="32.6" y="183.3" font-size="9.00" font-weight="bold" text-anchor="end" >550</text>
<text x="32.6" y="207.3" font-size="9.00" font-weight="bold" text-anchor="end" >650</text>
<text x="32.6" y="229.5" font-size="9.00" font-weight="bold" text-anchor="end" >750</text>
<text x="32.6" y="248.1" font-size="9.00" font-weight="bold" text-anchor="end" >850</text>
<text x="32.6" y="265.9" font-size="9.00" font-weight="bold" text-anchor="end" >950</text>
<text x="13.0" y="219.5" font-size="10.90" font-weight="bold" text-anchor="middle" textLength="67.9" lengthAdjust="spacingAndGlyphs" transform="rotate(-90 13.0 219.5)">Pressure (hPa)</text>
<text x="66.6" y="287.8" font-size="9.00" font-weight="bold" text-anchor="middle" >9</text>
<text x="95.6" y="287.8" font-size="9.00" font-weight="bold" text-anchor="middle" >10</text>
<text x="124.7" y="287.8" font-size="9.00" font-weight="bold" text-anchor="middle" >11</text>
<text x="153.7" y="287.8" font-size="9.00" font-weight="bold" text-anchor="middle" >12</text>
<text x="182.8" y="287.8" font-size="9.00" font-weight="bold" text-anchor="middle" >13</text>
<text x="211.9" y="287.8" font-size="9.00" font-weight="bold" text-anchor="middle" >14</text>
<text x="240.9" y="287.8" font-size="9.00" font-weight="bold" text-anchor="middle" >15</text>
<text x="270.0" y="287.8" font-size="9.00" font-weight="bold" text-anchor="middle" >16</text>
<text x="299.0" y="287.8" font-size="9.00" font-weight="bold" text-anchor="middle" >17</text>
<text x="328.1" y="287.8" font-size="9.00" font-weight="bold" text-anchor="middle" >18</text>
<text x="357.2" y="287.8" font-size="9.00" font-weight="bold" text-anchor="middle" >19</text>
<text x="386.2" y="287.8" font-size="9.00" font-weight="bold" text-anchor="middle" >20</text>
<text x="415.3" y="287.8" font-size="9.00" font-weight="bold" text-anchor="middle" >21</text>
<text x="444.3" y="287.8" font-size="9.00" font-weight="bold" text-anchor="middle" >22</text>
<text x="473.4" y="287.8" font-size="9.00" font-weight="bold" text-anchor="middle" >23</text>
<text x="37.8" y="287.8" font-size="9.00" font-weight="bold" text-anchor="middle" >3/8</text>
<text x="38.5" y="305.8" font-size="11.80" font-weight="normal" text-anchor="start" >(c)</text>
<text x="32.6" y="328.8" font-size="9.00" font-weight="bold" text-anchor="end" >550</text>
<text x="32.6" y="355.3" font-size="9.00" font-weight="bold" text-anchor="end" >650</text>
<text x="32.6" y="377.6" font-size="9.00" font-weight="bold" text-anchor="end" >750</text>
<text x="32.6" y="396.4" font-size="9.00" font-weight="bold" text-anchor="end" >850</text>
<text x="32.6" y="414.2" font-size="9.00" font-weight="bold" text-anchor="end" >950</text>
<text x="13.0" y="366.0" font-size="10.90" font-weight="bold" text-anchor="middle" textLength="67.9" lengthAdjust="spacingAndGlyphs" transform="rotate(-90 13.0 366.0)">Pressure (hPa)</text>
<text x="65.7" y="434.0" font-size="9.00" font-weight="bold" text-anchor="middle" >9</text>
<text x="93.9" y="434.0" font-size="9.00" font-weight="bold" text-anchor="middle" >10</text>
<text x="122.1" y="434.0" font-size="9.00" font-weight="bold" text-anchor="middle" >11</text>
<text x="150.3" y="434.0" font-size="9.00" font-weight="bold" text-anchor="middle" >12</text>
<text x="178.5" y="434.0" font-size="9.00" font-weight="bold" text-anchor="middle" >13</text>
<text x="206.7" y="434.0" font-size="9.00" font-weight="bold" text-anchor="middle" >14</text>
<text x="234.9" y="434.0" font-size="9.00" font-weight="bold" text-anchor="middle" >15</text>
<text x="263.1" y="434.0" font-size="9.00" font-weight="bold" text-anchor="middle" >16</text>
<text x="291.3" y="434.0" font-size="9.00" font-weight="bold" text-anchor="middle" >17</text>
<text x="319.5" y="434.0" font-size="9.00" font-weight="bold" text-anchor="middle" >18</text>
<text x="347.7" y="434.0" font-size="9.00" font-weight="bold" text-anchor="middle" >19</text>
<text x="375.9" y="434.0" font-size="9.00" font-weight="bold" text-anchor="middle" >20</text>
<text x="404.1" y="434.0" font-size="9.00" font-weight="bold" text-anchor="middle" >21</text>
<text x="432.3" y="434.0" font-size="9.00" font-weight="bold" text-anchor="middle" >22</text>
<text x="460.5" y="434.0" font-size="9.00" font-weight="bold" text-anchor="middle" >23</text>
<text x="37.8" y="434.0" font-size="9.00" font-weight="bold" text-anchor="middle" >3/8</text>
<text x="517.5" y="42.8" font-size="9.00" font-weight="bold" text-anchor="start" >20</text>
<text x="517.5" y="70.0" font-size="9.00" font-weight="bold" text-anchor="start" >10</text>
<text x="517.5" y="97.1" font-size="9.00" font-weight="bold" text-anchor="start" >0</text>
<text x="517.5" y="124.7" font-size="9.00" font-weight="bold" text-anchor="start" >-10</text>
<text x="517.5" y="175.6" font-size="9.00" font-weight="bold" text-anchor="start" >20</text>
<text x="517.5" y="201.8" font-size="9.00" font-weight="bold" text-anchor="start" >15</text>
<text x="517.5" y="227.2" font-size="9.00" font-weight="bold" text-anchor="start" >10</text>
<text x="517.5" y="252.6" font-size="9.00" font-weight="bold" text-anchor="start" >5</text>
<text x="517.5" y="278.0" font-size="9.00" font-weight="bold" text-anchor="start" >0</text>
<text x="517.5" y="338.1" font-size="9.00" font-weight="bold" text-anchor="start" >15</text>
<text x="517.5" y="366.5" font-size="9.00" font-weight="bold" text-anchor="start" >10</text>
<text x="517.5" y="395.4" font-size="9.00" font-weight="bold" text-anchor="start" >5</text>
<text x="517.5" y="423.9" font-size="9.00" font-weight="bold" text-anchor="start" >0</text>
<text x="472.3" y="14.7" font-size="9.60" font-weight="bold" text-anchor="start" textLength="64.9" lengthAdjust="spacingAndGlyphs">Temperature(°C)</text>
<text x="472.0" y="160.8" font-size="9.60" font-weight="bold" text-anchor="start" textLength="66" lengthAdjust="spacingAndGlyphs">Wind Speed(m/s)</text>
<g transform="translate(546.4 306.3) scale(0.955 1)"><text x="0.0" y="0.0" font-size="9.60" font-weight="bold" text-anchor="end" >Absolute Humidity(g/m<tspan dy="-3.6" font-size="6.6">3</tspan><tspan dy="3.6">)</tspan></text></g>
<text x="263.2" y="448.3" font-size="10.80" font-weight="bold" text-anchor="middle" >Date</text></svg>
</body></html>
